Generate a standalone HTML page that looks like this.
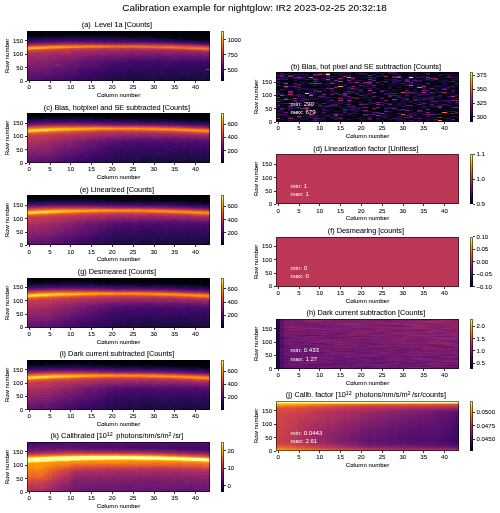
<!DOCTYPE html><html><head><meta charset="utf-8"><style>
html,body{margin:0;padding:0;background:#fff}
body{width:500px;height:513px;position:relative;overflow:hidden;font-family:"Liberation Sans",sans-serif}
.t{position:absolute;white-space:nowrap;line-height:1em;transform-origin:0 0.8465em;filter:grayscale(1);-webkit-text-stroke:0.06px currentColor}
.t sup{font-size:0.72em;vertical-align:0;position:relative;top:-0.4em;line-height:0;margin-right:0.3em}
.hm{position:absolute;overflow:hidden;background:#000}
.hm i{position:absolute;top:0;height:100%;display:block}
.hm b{position:absolute;display:block}
.sp{position:absolute;border:1px solid rgba(0,0,0,0.55);box-sizing:border-box}
.tk{position:absolute;background:#333}
.cb{position:absolute;background:linear-gradient(#fcffa4 0.0%,#f5d949 9.1%,#fcac11 18.2%,#f78212 27.3%,#e65d2f 36.4%,#cb4149 45.5%,#a82e5f 54.5%,#84206b 63.6%,#5f136e 72.7%,#390963 81.8%,#140b34 90.9%,#000004 100.0%)}
.g0{background:linear-gradient(#02020c 0.2px,#03020f 1.8px,#02010a 3.2px,#02020e 4.8px,#10092e 6.8px,#1c0c43 7.8px,#340a5f 9.8px,#460b69 10.2px,#4f0d6c 10.8px,#4d0d6c 11.2px,#58106e 11.8px,#88226a 13.2px,#ac2f5d 14.2px,#c13a51 14.8px,#da4e3d 15.2px,#ed6925 15.8px,#f78311 16.2px,#fca108 16.8px,#fcaf13 17.2px,#fcaf13 17.8px,#fb9706 18.2px,#eb6429 18.8px,#d54941 19.2px,#cb4149 19.8px,#ab2f5d 22.8px,#a12b62 24.8px,#9f2a63 25.8px,#982766 26.8px,#972766 27.8px,#89226a 30.8px,#932667 31.2px,#912568 31.8px,#86216b 32.2px,#7e1e6c 33.8px,#7a1d6d 36.8px,#6a176e 38.8px,#67166e 39.8px,#6a176e 41.8px,#63146e 42.2px,#61146e 42.8px,#66156e 43.2px,#57106d 45.8px,#57106d 46.8px,#5b116e 47.2px,#5a116e 47.8px,#530e6d 48.2px,#510e6d 48.8px,#490b6a 49.2px,#480b6a 49.8px)}.g1{background:linear-gradient(#02020e 0.2px,#03020f 2.8px,#010109 3.2px,#010109 3.8px,#050416 4.8px,#040313 5.2px,#06051a 5.8px,#0f092c 6.2px,#2a0b56 8.8px,#370961 9.8px,#4b0c6b 10.8px,#500d6c 11.2px,#5b116e 11.8px,#922568 13.2px,#a42c61 13.8px,#ad305d 14.2px,#c63d4d 14.8px,#e55b31 15.2px,#f3761a 15.8px,#fa9207 16.2px,#fca80d 16.8px,#fbb81d 17.2px,#fcb015 17.8px,#f47b17 18.2px,#e35933 18.8px,#d34743 19.2px,#cc4249 19.8px,#cc4149 20.2px,#c53d4e 20.8px,#b93656 21.2px,#a92e5f 22.8px,#ae305c 23.2px,#9f2a63 25.2px,#922568 27.8px,#982766 28.2px,#8c2369 30.8px,#84206b 31.8px,#86216b 32.8px,#821f6c 33.8px,#821f6c 34.8px,#70196e 38.8px,#6f196e 39.8px,#63146e 42.8px,#63146e 43.8px,#520e6d 46.2px,#4d0d6c 47.8px,#510e6c 48.2px,#4f0d6c 49.8px)}.g2{background:linear-gradient(#02020d 0.2px,#030210 1.8px,#02020c 2.8px,#03020f 3.8px,#02020c 4.2px,#120a31 6.8px,#1a0c40 7.2px,#200c49 7.8px,#210c4a 8.2px,#280b54 8.8px,#370962 9.2px,#470b6a 10.2px,#520e6d 10.8px,#560f6d 11.2px,#71196e 12.2px,#982766 13.2px,#ba3655 14.2px,#d54941 14.8px,#e9622b 15.2px,#f57d16 15.8px,#fb9a06 16.2px,#fca70c 16.8px,#fbb91e 17.2px,#fcad11 17.8px,#ee6b24 18.2px,#de5238 18.8px,#d14644 19.2px,#b53458 21.2px,#a92e5f 22.8px,#a32c61 24.8px,#8f2468 27.8px,#952667 28.2px,#8b236a 29.8px,#8a226a 30.8px,#811f6c 31.2px,#7a1d6d 32.8px,#7e1e6c 33.2px,#721a6e 36.8px,#791c6d 37.2px,#68166e 40.8px,#61146e 41.8px,#59106e 45.8px,#4e0d6c 47.8px,#57106d 48.2px,#4f0d6c 49.8px)}.g3{background:linear-gradient(#010108 0.2px,#02010b 1.8px,#010107 2.8px,#030210 3.2px,#02020c 4.2px,#090721 5.8px,#110a30 6.2px,#160b3a 6.8px,#170b3a 7.2px,#1c0c43 7.8px,#270b52 8.2px,#390963 9.2px,#540f6d 10.8px,#5a116e 11.2px,#6e196e 12.2px,#801f6c 12.8px,#9b2865 13.2px,#bf3952 14.2px,#d84c3e 14.8px,#ec6727 15.2px,#f78311 15.8px,#fca60b 16.2px,#fcae12 16.8px,#fca90e 17.2px,#fa8f09 17.8px,#e9612b 18.2px,#d74b3f 18.8px,#c63d4d 19.8px,#bd3853 20.8px,#b43359 21.8px,#a92e5f 22.2px,#a52c61 22.8px,#a82d5f 23.2px,#9d2964 24.8px,#942667 27.8px,#8d2369 28.8px,#83206b 29.2px,#811f6c 29.8px,#85216b 30.2px,#84206b 30.8px,#89226a 31.2px,#801f6c 32.8px,#7e1e6c 34.8px,#771c6d 35.2px,#751b6e 35.8px,#7b1d6d 36.2px,#7a1d6d 36.8px,#731a6e 37.2px,#6f196e 39.8px,#66156e 40.2px,#64156e 42.8px,#5a116e 43.2px,#550f6d 44.8px,#57106d 45.8px,#4d0c6b 47.8px,#500e6c 48.2px,#470b6a 49.8px)}.g4{background:linear-gradient(#030210 0.2px,#02020c 2.8px,#03020f 3.8px,#03020f 4.2px,#050416 4.8px,#0b0724 5.2px,#0e092b 5.8px,#0f092c 6.2px,#140b35 6.8px,#1e0c46 7.2px,#240c4e 7.8px,#240c4e 8.2px,#2b0b57 8.8px,#3b0964 9.2px,#490b6b 10.2px,#751b6e 12.2px,#87216b 12.8px,#a42c61 13.2px,#c33c4f 14.2px,#dd513a 14.8px,#ed6925 15.2px,#f8860e 15.8px,#fcaa0f 16.2px,#fcb418 16.8px,#fca309 17.2px,#f47918 17.8px,#e25734 18.2px,#cf4446 18.8px,#ae305c 21.8px,#aa2e5e 22.8px,#a12b62 23.2px,#9e2a64 23.8px,#a52c60 24.2px,#a02a63 25.8px,#972766 26.2px,#932667 28.8px,#8b236a 29.2px,#801f6c 31.8px,#88226a 32.2px,#86216b 32.8px,#7f1e6c 33.2px,#761b6e 34.8px,#7b1d6d 35.2px,#791d6d 35.8px,#731a6e 36.2px,#6e186e 37.8px,#721a6e 38.2px,#60136e 41.8px,#67166e 42.2px,#65156e 42.8px,#5d126e 43.2px,#5a116e 45.8px,#4f0d6c 46.2px,#4a0c6b 48.8px,#440a69 49.2px,#430a68 49.8px)}.g5{background:linear-gradient(#030210 0.2px,#010108 2.8px,#030210 4.2px,#0f092c 6.2px,#1e0c46 7.8px,#3a0963 9.2px,#530f6d 10.8px,#6d186e 11.8px,#791d6d 12.2px,#8b2369 12.8px,#a42c61 13.2px,#b53458 13.8px,#ce4347 14.2px,#e55b30 14.8px,#f57c16 15.2px,#fb9b06 15.8px,#fcae13 16.8px,#fb9906 17.2px,#eb6529 17.8px,#d24644 18.8px,#c63d4d 19.8px,#b93656 20.2px,#a52d60 22.8px,#a32b61 23.8px,#9a2865 24.2px,#942667 25.8px,#942667 26.8px,#8d2369 27.2px,#86216b 28.8px,#87216b 29.8px,#7e1e6c 31.8px,#7c1d6d 33.8px,#6e186e 35.8px,#6f196e 36.8px,#6a176e 37.8px,#6a176e 38.8px,#63146e 39.2px,#61146e 39.8px,#67166e 40.2px,#64156e 41.8px,#59116e 42.2px,#540f6d 45.8px,#490b6a 49.8px)}.g6{background:linear-gradient(#02010b 0.2px,#02020e 1.8px,#010107 3.2px,#02020d 4.2px,#150b36 6.8px,#230c4d 7.8px,#2f0a5a 8.8px,#470b6a 10.2px,#6e186e 11.8px,#a12b62 13.2px,#b63458 13.8px,#d54941 14.2px,#e9622a 14.8px,#f2741d 15.2px,#fa9207 15.8px,#fc9f07 16.2px,#fca209 16.8px,#fb9606 17.2px,#eb6429 17.8px,#d64a40 18.2px,#ca404a 18.8px,#c03a51 19.8px,#b63458 20.2px,#ad305c 21.8px,#a42c61 22.8px,#9a2865 23.2px,#972766 23.8px,#9e2a63 24.2px,#932567 25.8px,#952667 26.2px,#8f2469 27.8px,#83206c 28.2px,#801f6c 28.8px,#84206b 29.2px,#82206c 29.8px,#87216b 30.2px,#85216b 30.8px,#7b1d6d 31.2px,#781c6d 32.8px,#7c1d6d 33.2px,#7a1d6d 33.8px,#70196e 34.2px,#5c126e 39.8px,#5b116e 42.2px,#4b0c6b 45.8px,#480b6a 47.8px,#410a67 48.8px,#420a68 49.8px)}.g7{background:linear-gradient(#010107 0.2px,#000004 1.8px,#010107 2.8px,#050418 3.2px,#07051b 3.8px,#050417 4.2px,#1b0c42 7.2px,#220c4b 7.8px,#320a5e 8.2px,#3a0963 8.8px,#3a0963 9.2px,#59116e 10.8px,#5f136e 11.2px,#6d186e 11.8px,#84206b 12.2px,#a42c61 13.2px,#ba3655 13.8px,#d54941 14.2px,#e9612b 14.8px,#f78211 15.2px,#fb9e07 15.8px,#fca108 16.2px,#fb9e07 16.8px,#f68013 17.2px,#e45a32 17.8px,#d34743 18.2px,#b53458 20.2px,#ac305d 21.8px,#a22b62 22.2px,#9c2964 23.8px,#932667 24.8px,#912568 26.2px,#8f2469 26.8px,#87216b 27.2px,#84206b 27.8px,#85206b 28.8px,#7e1e6c 29.8px,#741b6e 30.2px,#731a6e 30.8px,#7a1d6d 31.2px,#751b6e 32.8px,#7c1d6d 33.2px,#7a1d6d 33.8px,#6f196e 34.2px,#60136e 38.8px,#62146e 39.8px,#5e136e 40.8px,#57106d 41.2px,#57106d 42.8px,#4c0c6b 44.8px,#4e0d6c 45.8px,#470b6a 46.8px,#4e0d6c 47.2px,#4d0c6b 47.8px,#440a69 48.2px,#430a68 49.8px)}.g8{background:linear-gradient(#02020d 0.2px,#010106 2.8px,#040313 3.8px,#030211 4.2px,#050417 4.8px,#050418 5.2px,#08061f 5.8px,#140b35 6.8px,#1f0c48 7.2px,#260c51 7.8px,#260c50 8.2px,#2d0b59 8.8px,#3d0965 9.2px,#5c126e 10.8px,#65156e 11.2px,#982766 12.8px,#a52c61 13.2px,#bd3853 13.8px,#db4f3b 14.2px,#ec6727 14.8px,#f78410 15.2px,#fb9c06 15.8px,#fca209 16.2px,#fb9806 16.8px,#f06f20 17.2px,#dd5139 17.8px,#ce4347 18.2px,#b53458 19.8px,#a92e5f 21.8px,#ab2f5e 22.2px,#89226a 25.8px,#7a1d6d 28.8px,#7f1e6c 29.2px,#731a6e 31.8px,#731a6e 33.2px,#66166e 35.8px,#68166e 36.8px,#62146e 38.8px,#59116e 39.2px,#58106e 39.8px,#60136e 40.2px,#5e136e 40.8px,#57106d 41.2px,#4e0d6c 42.8px,#510e6d 43.2px,#4c0c6b 44.8px,#4c0c6b 45.8px,#450a69 46.8px,#470b6a 47.8px,#410a67 48.8px,#360961 49.2px,#360961 49.8px)}.g9{background:linear-gradient(#010107 0.2px,#010109 1.8px,#030210 2.2px,#030210 2.8px,#010106 3.2px,#060519 4.8px,#120a32 5.2px,#170b3b 5.8px,#130a33 6.2px,#180c3c 6.8px,#280b53 7.8px,#350a60 8.8px,#4c0c6b 9.8px,#500d6c 10.2px,#5a116e 10.8px,#7a1d6d 11.8px,#84206b 12.2px,#aa2f5e 13.2px,#c33c4f 13.8px,#da4e3c 14.2px,#eb6528 14.8px,#f78211 15.2px,#fb9506 15.8px,#fb9b06 16.2px,#f98b0b 16.8px,#ea6429 17.2px,#d94d3d 17.8px,#cd4248 18.2px,#bb3754 19.8px,#ad305c 20.2px,#a52c60 21.8px,#9c2964 22.8px,#9f2a63 23.2px,#922568 24.8px,#89226a 25.2px,#811f6c 26.8px,#85216b 27.2px,#83206b 27.8px,#761b6d 28.2px,#741b6e 28.8px,#7d1e6d 29.2px,#731a6e 30.8px,#711a6e 31.8px,#6a176e 32.8px,#66156e 33.8px,#66166e 34.8px,#5f136e 36.2px,#5f136e 37.8px,#58106e 38.8px,#5a116e 40.2px,#500d6c 42.2px,#480b6a 44.8px,#450a69 47.8px,#3e0966 48.8px,#3f0966 49.8px)}.g10{background:linear-gradient(#02020c 0.2px,#02020c 0.8px,#000004 1.2px,#010109 2.8px,#010107 3.2px,#02020d 3.8px,#08061f 4.8px,#090620 5.2px,#130b34 6.8px,#220c4b 7.8px,#2f0a5b 8.2px,#500d6c 10.2px,#68166e 11.2px,#9b2865 12.8px,#aa2e5e 13.2px,#c33b4f 13.8px,#d64a40 14.2px,#e8602d 14.8px,#f68112 15.2px,#fa9108 15.8px,#fb9b06 16.2px,#f98a0c 16.8px,#e15635 17.2px,#cd4248 17.8px,#c23b50 18.8px,#ab2f5e 20.2px,#a72d60 20.8px,#ad305d 21.2px,#a92e5f 21.8px,#9d2964 22.2px,#952667 23.8px,#952667 24.8px,#8f2468 25.8px,#83206b 26.2px,#7b1d6d 28.8px,#731a6e 29.8px,#731a6e 30.8px,#66166e 32.8px,#57106e 36.8px,#5e126e 37.2px,#530e6d 39.8px,#4b0c6b 40.8px,#530f6d 41.2px,#4f0d6c 42.8px,#480b6a 43.2px,#470b6a 43.8px,#4b0c6b 44.2px,#4a0c6b 44.8px,#420a68 45.2px,#430a68 46.8px,#3c0965 48.8px,#310a5c 49.2px,#300a5c 49.8px)}.g11{background:linear-gradient(#010005 0.2px,#02010a 1.8px,#02020c 3.2px,#090620 4.8px,#0a0722 5.2px,#0d0829 5.8px,#170c3b 6.2px,#1d0c44 6.8px,#1e0c46 7.2px,#350a60 8.8px,#4f0d6c 10.2px,#58106e 10.8px,#87216b 12.2px,#982766 12.8px,#b63458 13.2px,#cd4348 13.8px,#dd5239 14.2px,#ed6925 14.8px,#f7850f 15.2px,#fa9307 15.8px,#fb9506 16.2px,#f67f14 16.8px,#df5337 17.2px,#ca404a 17.8px,#b73557 18.8px,#a02a63 21.2px,#9c2964 21.8px,#9d2964 22.2px,#8f2469 24.8px,#83206b 25.2px,#801f6c 25.8px,#87216b 26.2px,#7a1d6d 27.8px,#761b6d 29.8px,#64156e 33.8px,#63146e 34.8px,#67166e 35.2px,#65156e 35.8px,#5a116e 36.2px,#58106e 39.8px,#4e0d6c 41.2px,#4b0c6b 42.8px,#500e6c 43.2px,#4f0d6c 43.8px,#460b69 44.2px,#420a68 45.8px,#3c0965 46.2px,#3b0964 47.8px,#360960 49.2px,#350960 49.8px)}.g12{background:linear-gradient(#02010a 0.2px,#02010a 0.8px,#010004 1.2px,#02010a 2.8px,#010005 3.2px,#010109 3.8px,#06051a 4.8px,#0c0827 5.2px,#170b3a 6.8px,#240c4e 7.8px,#2f0a5a 8.2px,#3b0964 9.2px,#59116e 10.8px,#64156e 11.2px,#952667 12.8px,#b33359 13.2px,#ca404a 13.8px,#da4e3c 14.2px,#eb6528 14.8px,#f57d15 15.2px,#f98b0b 15.8px,#f98a0b 16.2px,#f1711f 16.8px,#e05437 17.2px,#cb4149 17.8px,#b83557 18.8px,#ab2f5e 19.8px,#8c2369 23.8px,#84206b 25.8px,#761b6e 27.8px,#731a6e 28.8px,#69166e 29.2px,#66166e 29.8px,#6b176e 30.2px,#5f136e 32.8px,#67166e 33.2px,#5e126e 34.8px,#5b116e 35.8px,#530e6d 36.2px,#510e6c 36.8px,#5a116e 37.2px,#59116e 37.8px,#510e6d 38.2px,#480b6a 41.8px,#490b6a 42.8px,#410a67 43.2px,#3a0963 45.8px,#3a0964 46.8px,#2e0a5a 48.8px,#380962 49.2px,#380962 49.8px)}.g13{background:linear-gradient(#010106 0.2px,#02010b 1.8px,#010107 2.8px,#030312 3.8px,#02020e 4.2px,#040314 4.8px,#0b0724 5.2px,#160b39 6.8px,#210c4b 7.2px,#280b54 7.8px,#270b53 8.2px,#430a68 9.8px,#470b6a 10.2px,#510e6c 10.8px,#69166e 11.2px,#9b2865 12.8px,#ae305c 13.2px,#c63d4d 13.8px,#d84c3e 14.2px,#ea632a 14.8px,#f78112 15.2px,#fa8f08 15.8px,#f8860f 16.2px,#ed6a25 16.8px,#db4f3b 17.2px,#c73e4d 17.8px,#b73457 18.2px,#af315c 18.8px,#a42c61 20.8px,#972766 21.8px,#8b236a 23.8px,#8d2469 24.2px,#8a236a 24.8px,#801f6c 25.2px,#6d186e 28.8px,#5f136e 31.8px,#5d126e 34.8px,#550f6d 35.2px,#480b6a 38.8px,#500e6c 39.2px,#490b6a 40.8px,#420a68 41.2px,#3d0965 42.8px,#420a68 43.2px,#400a67 43.8px,#380962 44.2px,#330a5e 45.8px,#3c0964 46.2px,#3b0964 46.8px,#310a5c 47.2px,#320a5d 48.8px,#2c0b58 49.2px,#2c0b58 49.8px)}.g14{background:linear-gradient(#000004 0.2px,#010109 3.2px,#08061f 4.8px,#07051b 5.2px,#150b36 6.8px,#1f0c48 7.2px,#260c51 7.8px,#220c4c 8.2px,#290b54 8.8px,#380962 9.2px,#57106d 10.8px,#62146e 11.2px,#952667 12.8px,#c53d4e 13.8px,#dd5139 14.2px,#ed6925 14.8px,#f67e14 15.2px,#f98d0a 15.8px,#f78211 16.2px,#ea6429 16.8px,#d64a40 17.2px,#c33c4f 17.8px,#b1325a 18.8px,#b33359 19.2px,#a22b62 20.8px,#902568 22.8px,#8e2469 23.8px,#7e1e6c 25.2px,#6c186e 28.8px,#5e126e 30.8px,#550f6d 32.8px,#5d126e 33.2px,#5a116e 34.8px,#520e6d 35.8px,#480b6a 38.8px,#4c0c6b 39.2px,#4b0c6b 39.8px,#3f0a66 40.2px,#3e0966 40.8px,#440a69 41.2px,#430a68 41.8px,#3c0965 42.2px,#370961 44.8px,#3c0964 45.2px,#2f0a5b 47.8px,#290b55 49.8px)}.g15{background:linear-gradient(#010006 0.2px,#02010b 2.8px,#050418 3.8px,#090620 4.8px,#110a2f 5.8px,#120a32 6.2px,#200c49 7.8px,#2e0a5a 8.2px,#440a69 9.8px,#57106d 10.8px,#791c6d 11.8px,#7e1e6c 12.2px,#902468 12.8px,#b43359 13.2px,#cc4149 13.8px,#dc503a 14.2px,#ec6826 14.8px,#f67f13 15.2px,#fa8e09 15.8px,#f47b17 16.2px,#e65d2f 16.8px,#d14644 17.2px,#bf3952 17.8px,#b33359 18.8px,#a82e5f 19.8px,#9e2964 20.2px,#9a2865 20.8px,#9c2964 21.2px,#89226a 23.8px,#751b6e 25.8px,#6e186e 27.8px,#5d126e 29.8px,#5a116e 30.8px,#60136e 31.2px,#560f6d 33.8px,#4f0d6c 34.8px,#540f6d 35.2px,#4d0d6c 36.8px,#490b6b 38.8px,#430a68 39.8px,#460b69 41.8px,#3e0966 42.2px,#390963 43.8px,#310a5c 45.2px,#2d0b59 49.8px)}.g16{background:linear-gradient(#010006 0.2px,#02010b 1.8px,#010109 2.8px,#050415 3.8px,#030311 4.2px,#050417 4.8px,#0d0828 5.2px,#120a31 6.2px,#250c4f 7.8px,#250c50 8.2px,#2c0b58 8.8px,#3b0964 9.2px,#440a68 9.8px,#470b6a 10.2px,#500d6c 10.8px,#751b6e 11.8px,#932667 12.8px,#a82d5f 13.2px,#c03952 13.8px,#d94d3e 14.2px,#ea632a 14.8px,#f57e15 15.2px,#f98d09 15.8px,#f2751c 16.2px,#e25833 16.8px,#d14644 17.2px,#c03a51 17.8px,#a52c60 19.8px,#8f2468 22.8px,#811f6c 24.8px,#751b6e 25.8px,#64156e 27.8px,#6e186e 28.2px,#6b176e 28.8px,#60136e 29.2px,#5e126e 29.8px,#63146e 30.2px,#58106e 31.8px,#540f6d 34.8px,#4d0c6b 35.2px,#4b0c6b 35.8px,#4f0d6c 36.2px,#4b0c6b 37.8px,#430a68 38.8px,#3a0963 40.8px,#3e0966 41.2px,#390962 42.8px,#310a5c 43.8px,#330a5e 44.8px,#2c0b58 46.8px,#310a5d 47.2px,#340a5f 48.8px,#320a5d 49.8px)}.g17{background:linear-gradient(#010006 0.2px,#010107 1.8px,#000004 3.2px,#010006 3.8px,#06051a 4.2px,#090620 4.8px,#090620 5.2px,#130b34 6.8px,#1e0c46 7.2px,#240c4f 7.8px,#2e0a5a 8.8px,#3f0a66 9.2px,#5a116e 10.8px,#84206b 12.2px,#aa2f5e 13.2px,#c23b50 13.8px,#da4e3c 14.2px,#eb6528 14.8px,#f57d15 15.2px,#f98e09 15.8px,#f3751b 16.2px,#e35833 16.8px,#d14644 17.2px,#c23b50 17.8px,#b0315b 18.8px,#a02a63 19.2px,#9c2964 19.8px,#9e2a63 20.2px,#8e2469 22.8px,#82206c 23.2px,#781c6d 25.8px,#70196e 26.8px,#66166e 27.2px,#63146e 27.8px,#67166e 28.2px,#62146e 29.8px,#58106e 30.8px,#510e6c 33.8px,#4b0c6b 35.8px,#440a69 36.2px,#3a0964 37.8px,#450a69 38.2px,#3e0966 40.8px,#370961 41.8px,#2b0b56 46.8px,#250c50 47.2px,#250c4f 47.8px,#2e0a5a 48.2px,#2f0a5a 49.8px)}.g18{background:linear-gradient(#000004 0.2px,#000004 1.8px,#010109 2.8px,#02010a 3.2px,#050418 4.8px,#130a33 6.8px,#210c4b 7.2px,#280b53 7.8px,#230c4c 8.2px,#2a0b55 8.8px,#370961 9.2px,#400a67 9.8px,#4c0c6b 10.8px,#62146e 11.2px,#731a6e 11.8px,#771c6d 12.2px,#89226a 12.8px,#ac2f5d 13.2px,#c33b4f 13.8px,#d34842 14.2px,#e65d2f 14.8px,#f2731d 15.2px,#f78211 15.8px,#f06f20 16.2px,#df5437 16.8px,#c63e4d 17.2px,#b63458 17.8px,#a82e5f 18.8px,#a32b61 19.8px,#982766 20.2px,#8f2468 21.8px,#811f6c 23.8px,#7d1e6d 24.8px,#711a6e 25.2px,#5e126e 29.8px,#560f6d 30.2px,#4e0d6c 32.8px,#430a68 35.8px,#430a68 36.8px,#3d0965 37.8px,#420a68 38.2px,#390963 39.8px,#3a0963 40.8px,#2e0a5a 42.8px,#2e0a59 44.8px,#230c4c 47.8px,#260c51 48.2px,#240c4e 49.8px)}.g19{background:linear-gradient(#000004 0.2px,#010004 3.2px,#050416 4.8px,#0a0723 5.2px,#150b36 6.8px,#150b38 7.2px,#1b0c41 7.8px,#2a0b56 8.2px,#440a68 9.8px,#430a68 10.2px,#4c0c6b 10.8px,#7f1e6c 12.2px,#a42c61 13.2px,#bb3754 13.8px,#d54941 14.2px,#e85f2d 14.8px,#f3751b 15.2px,#f78410 15.8px,#f1701f 16.2px,#e15635 16.8px,#c83f4b 17.2px,#b93656 17.8px,#a02a63 19.2px,#972766 20.8px,#85206b 22.8px,#821f6c 23.8px,#761b6e 24.8px,#721a6e 25.8px,#56106d 28.8px,#5a116e 29.2px,#520e6d 30.8px,#560f6d 31.2px,#490b6a 34.8px,#410a67 35.8px,#330a5f 39.8px,#3e0966 40.2px,#3d0965 40.8px,#2f0a5a 41.2px,#2c0b58 42.8px,#2d0b59 43.8px,#270b52 45.8px,#2f0a5a 46.2px,#2e0a5a 46.8px,#270b52 47.2px,#260c51 47.8px,#200c49 48.2px,#200c48 48.8px,#280b53 49.2px,#280b53 49.8px)}.g20{background:linear-gradient(#010005 0.2px,#010005 0.8px,#02020c 1.8px,#000004 2.2px,#000004 2.8px,#03020f 3.2px,#0a0722 5.8px,#1e0c45 7.8px,#290b54 8.2px,#3b0964 9.2px,#440a68 9.8px,#420a68 10.2px,#4a0c6b 10.8px,#6e196e 11.8px,#8f2469 12.8px,#ba3655 13.8px,#cf4446 14.2px,#e25833 14.8px,#ef6c22 15.2px,#f57b17 15.8px,#eb6529 16.2px,#da4e3c 16.8px,#c63d4d 17.2px,#b63458 17.8px,#9e2a63 19.2px,#9a2865 19.8px,#9c2964 20.2px,#982865 20.8px,#8e2469 21.2px,#8a236a 21.8px,#902568 22.2px,#8c2369 22.8px,#7f1f6c 23.2px,#6f196e 25.8px,#5d126e 28.8px,#5b116e 29.8px,#4e0d6c 30.2px,#4c0c6b 30.8px,#4e0d6c 31.2px,#440a69 32.8px,#4a0c6b 33.2px,#470b6a 34.8px,#410a67 35.2px,#410a67 36.8px,#370962 37.2px,#350a60 38.8px,#390963 39.2px,#380962 39.8px,#310a5c 40.2px,#2e0a5a 41.8px,#280b54 42.8px,#300a5c 43.2px,#2f0a5b 43.8px,#260c51 44.2px,#260c51 44.8px,#210c4a 45.2px,#230c4c 46.8px,#1e0c46 48.8px,#240c4f 49.2px,#240c4e 49.8px)}.g21{background:linear-gradient(#000004 0.2px,#000004 2.8px,#060419 4.8px,#160b39 6.8px,#220c4c 7.8px,#210c4b 8.2px,#330a5f 9.2px,#4f0d6c 10.8px,#6f196e 11.8px,#761b6d 12.2px,#88226a 12.8px,#b63457 13.8px,#cf4446 14.2px,#e35833 14.8px,#f47819 15.8px,#d74b3f 16.8px,#b73457 17.8px,#9e2a63 19.8px,#962666 20.8px,#972766 21.2px,#932667 21.8px,#87216b 22.2px,#7a1d6d 23.8px,#721a6e 25.8px,#66156e 26.2px,#62146e 26.8px,#64156e 27.2px,#5c126e 28.8px,#520e6d 29.8px,#4a0c6b 31.8px,#430a68 32.2px,#3a0964 35.8px,#430a68 36.2px,#420a68 36.8px,#3a0964 37.2px,#330a5e 38.8px,#3b0964 39.2px,#390963 39.8px,#290b55 40.2px,#260c51 41.8px,#2a0b56 42.2px,#250c4f 43.8px,#200c49 49.8px)}.g22{background:linear-gradient(#010006 0.2px,#010106 2.2px,#010107 2.8px,#0c0827 5.8px,#170c3b 6.8px,#150b38 7.2px,#1b0c40 7.8px,#280b53 8.2px,#3a0963 9.2px,#420a68 9.8px,#410a67 10.2px,#490b6a 10.8px,#771c6d 12.2px,#89226a 12.8px,#a42c61 13.2px,#cb414a 14.2px,#df5337 14.8px,#ed6925 15.2px,#f47a17 15.8px,#ed6825 16.2px,#df5338 16.8px,#c73e4c 17.2px,#b73457 17.8px,#aa2f5e 18.8px,#9e2a63 19.2px,#9a2865 19.8px,#9b2964 20.2px,#86216b 22.8px,#811f6c 23.8px,#6f196e 25.2px,#5b116e 27.8px,#5d126e 28.2px,#5b116e 28.8px,#530e6d 29.2px,#500d6c 29.8px,#540f6d 30.2px,#510e6c 30.8px,#460b69 31.2px,#410a67 32.8px,#470b6a 33.2px,#450a69 33.8px,#3c0964 34.2px,#330a5f 35.8px,#3c0964 36.2px,#370961 37.8px,#300a5c 38.2px,#310a5d 40.8px,#2b0b56 41.8px,#1f0c48 42.2px,#1e0c46 42.8px,#290b54 43.2px,#270b52 43.8px,#210c4a 44.2px,#230c4d 46.8px,#200c49 47.8px,#250c4f 48.2px,#210c4b 49.8px)}.g23{background:linear-gradient(#010107 0.2px,#010107 1.8px,#02020e 2.2px,#03020f 2.8px,#010107 3.2px,#040313 4.8px,#130b33 6.8px,#150b36 7.2px,#1a0c3f 7.8px,#240c4e 8.2px,#360960 9.2px,#4e0d6c 10.8px,#6b176e 11.8px,#8d2369 12.8px,#b83556 13.8px,#d24644 14.2px,#e45a31 14.8px,#f47819 15.8px,#ed6925 16.2px,#df5437 16.8px,#c73e4d 17.2px,#b63458 17.8px,#a32c61 18.8px,#9b2865 20.2px,#731a6e 24.8px,#6f196e 25.8px,#65156e 26.2px,#510e6d 29.8px,#4f0d6c 30.8px,#450a69 31.2px,#420a68 32.8px,#480b6a 33.2px,#460b69 33.8px,#3e0966 34.2px,#3b0964 35.8px,#3f0a66 36.2px,#3e0966 36.8px,#350960 37.2px,#340a5f 39.8px,#300a5b 40.8px,#280b54 41.8px,#2e0a5a 42.2px,#2d0b58 42.8px,#220c4b 43.2px,#200c49 43.8px,#230c4d 44.8px,#240c4e 46.8px,#1f0c47 47.2px,#1d0c44 49.8px)}.g24{background:linear-gradient(#000004 0.2px,#000004 2.8px,#030311 3.8px,#07051b 4.8px,#030312 5.2px,#050417 5.8px,#0b0725 6.2px,#240c4e 8.8px,#400a67 10.2px,#540f6d 11.2px,#89226a 12.8px,#b53458 13.8px,#de5238 14.8px,#ed6925 15.2px,#f47919 15.8px,#d94d3d 16.8px,#c23b50 17.2px,#b0315b 17.8px,#b43359 18.2px,#ac2f5d 18.8px,#9f2a63 19.2px,#922568 20.8px,#85216b 21.8px,#87216b 22.2px,#82206c 22.8px,#791c6d 23.2px,#6b176e 24.8px,#6c186e 25.2px,#5f136e 26.8px,#5d126e 27.8px,#530e6d 28.2px,#4b0c6b 29.8px,#410a67 30.8px,#400a67 31.8px,#3b0964 32.8px,#3c0964 33.8px,#440a68 34.2px,#420a68 34.8px,#380962 35.2px,#310a5c 36.8px,#2a0b55 37.8px,#2e0a59 38.2px,#200c49 42.8px,#210c4a 45.8px,#1c0c42 46.2px,#180c3c 47.8px,#1c0c42 48.2px,#1d0c44 49.8px)}.g25{background:linear-gradient(#000004 0.2px,#010006 2.8px,#040313 3.8px,#02020c 4.2px,#07051c 5.8px,#07051c 6.2px,#0b0724 6.8px,#150b38 7.2px,#250c4f 8.8px,#370961 9.8px,#520e6d 11.2px,#64156e 11.8px,#7f1e6c 12.2px,#a22b62 13.2px,#b73457 13.8px,#cf4446 14.2px,#e15635 14.8px,#ed6925 15.2px,#f47819 15.8px,#e9622b 16.2px,#c73e4d 17.2px,#b43359 17.8px,#962766 19.2px,#922568 19.8px,#932667 20.2px,#86216b 21.8px,#7a1d6d 22.8px,#721a6e 23.8px,#751b6e 24.2px,#65156e 25.8px,#59106e 27.8px,#500d6c 28.8px,#4b0c6b 30.8px,#400a67 31.2px,#3e0966 31.8px,#3f0966 32.8px,#380962 35.8px,#2f0a5a 36.2px,#2b0b57 37.8px,#320a5d 38.2px,#2d0b59 40.8px,#270b53 41.8px,#1f0c47 42.2px,#1e0c46 42.8px,#270c51 43.2px,#200c48 44.8px,#220c4b 45.8px,#190c3f 46.2px,#190c3e 46.8px,#1c0c43 47.2px,#1c0c43 48.8px,#1e0c46 49.8px)}.g26{background:linear-gradient(#010109 0.2px,#000004 2.8px,#03020f 4.8px,#06051a 5.8px,#10092e 6.8px,#110a31 7.2px,#250c4f 8.8px,#370962 9.8px,#3b0964 10.2px,#450a69 10.8px,#6d186e 11.8px,#a22b62 13.2px,#ca404a 14.2px,#dc503a 14.8px,#ee6b23 15.2px,#f47a18 15.8px,#ee6b23 16.2px,#e05536 16.8px,#c93f4b 17.2px,#b53358 17.8px,#a32b61 18.8px,#992865 19.8px,#8e2469 20.2px,#8a226a 20.8px,#8c2369 21.2px,#6f196e 24.8px,#66156e 25.2px,#5b116e 26.8px,#62146e 27.2px,#540f6d 28.8px,#4b0c6b 29.2px,#460b69 30.8px,#460b69 31.8px,#3e0966 32.8px,#3c0965 33.8px,#360960 35.2px,#2c0b57 39.8px,#2c0b58 40.8px,#230c4e 41.2px,#220c4c 41.8px,#280b53 42.2px,#220c4b 43.8px,#1d0c44 44.2px,#1d0c44 44.8px,#250c4f 45.2px,#240c4f 46.8px,#1c0c43 47.2px,#1c0c42 47.8px,#210c4a 48.2px,#210c4a 48.8px,#260c51 49.2px,#260c51 49.8px)}.g27{background:linear-gradient(#000004 0.2px,#02010a 3.2px,#090621 5.8px,#090620 6.2px,#260c50 8.8px,#3c0965 10.2px,#460b69 10.8px,#6d186e 11.8px,#771c6d 12.2px,#89226a 12.8px,#a52c60 13.2px,#ca404a 14.2px,#dc503b 14.8px,#eb6528 15.2px,#f2731d 15.8px,#ed6925 16.2px,#de5238 16.8px,#b73557 17.8px,#a62d60 18.8px,#992865 19.2px,#70196e 24.8px,#6b176e 25.8px,#61146e 26.2px,#5d126e 26.8px,#60136e 27.2px,#530e6d 28.8px,#500d6c 29.8px,#430a68 30.2px,#3a0964 32.8px,#380962 35.8px,#300a5b 36.2px,#2e0a5a 36.8px,#340a5f 37.2px,#2b0b57 38.8px,#320a5e 39.2px,#310a5c 39.8px,#260c51 40.2px,#250c4f 40.8px,#280b53 41.2px,#270c52 41.8px,#210c4a 42.2px,#1f0c48 43.8px,#1c0c43 44.8px,#260c51 45.2px,#250c50 45.8px,#1e0c46 46.2px,#1b0c42 47.8px,#170c3b 48.2px,#170b3a 48.8px,#1f0c48 49.2px,#1f0c47 49.8px)}.g28{background:linear-gradient(#000004 0.2px,#010005 1.8px,#02010b 2.2px,#02020d 2.8px,#010107 3.2px,#0a0722 6.2px,#160b39 7.8px,#350a60 9.8px,#430a68 10.2px,#58106e 11.2px,#8c2369 12.8px,#b2325a 13.8px,#cd4248 14.2px,#eb6429 15.2px,#f2741d 15.8px,#f1721e 16.2px,#e45a32 16.8px,#d04545 17.2px,#ba3655 17.8px,#9f2a63 19.2px,#922568 20.8px,#85216b 21.2px,#801f6c 21.8px,#83206b 22.2px,#7e1e6c 22.8px,#7b1d6d 23.8px,#711a6e 24.2px,#62146e 25.8px,#64156e 26.2px,#440a68 30.8px,#430a68 31.8px,#3c0965 32.2px,#3a0964 32.8px,#3f0966 33.2px,#370961 34.8px,#380962 35.8px,#310a5c 36.8px,#2d0b59 37.8px,#370961 38.2px,#290b54 40.8px,#230c4d 41.8px,#270b52 42.2px,#230c4d 43.8px,#1c0c43 44.2px,#1b0c42 44.8px,#220c4b 45.2px,#1c0c42 47.8px,#1d0c45 48.8px,#150b38 49.2px,#150b37 49.8px)}.g29{background:linear-gradient(#010109 0.2px,#02010a 3.2px,#08061e 5.8px,#130b34 7.2px,#190c3e 7.8px,#190c3e 8.2px,#2a0b56 9.2px,#340a5f 9.8px,#380962 10.2px,#410a67 10.8px,#66166e 11.8px,#902568 12.8px,#9c2964 13.2px,#c13a51 14.2px,#d44842 14.8px,#e85f2d 15.2px,#f06f20 15.8px,#f06f21 16.2px,#e25833 16.8px,#d54941 17.2px,#bf3952 17.8px,#b1325b 18.2px,#8f2468 20.8px,#88226a 21.8px,#7c1d6d 22.2px,#771c6d 22.8px,#781c6d 23.2px,#64156e 25.8px,#68166e 26.2px,#64156e 26.8px,#5a116e 27.2px,#500d6c 28.8px,#4f0d6c 29.8px,#460b69 30.2px,#440a69 30.8px,#3d0965 31.2px,#3a0964 31.8px,#450a69 32.2px,#440a68 32.8px,#3d0965 33.2px,#380962 34.8px,#300a5c 35.8px,#340a5f 36.2px,#330a5e 36.8px,#2b0b57 37.2px,#2b0b57 39.8px,#280b53 40.8px,#2f0a5b 41.2px,#2e0a59 41.8px,#240c4f 42.2px,#210c4b 43.8px,#270b52 44.2px,#270c52 44.8px,#1b0c41 45.2px,#1a0c40 45.8px,#1f0c48 46.2px,#1e0c45 48.8px,#190c3d 49.2px,#180c3d 49.8px)}.g30{background:linear-gradient(#02010b 0.2px,#010107 1.8px,#02010a 3.8px,#07051d 5.8px,#050415 6.2px,#060519 6.8px,#10092d 7.2px,#150b37 7.8px,#1e0c45 8.2px,#360961 9.8px,#430a68 10.8px,#65156e 11.8px,#801f6c 12.2px,#952667 12.8px,#9b2964 13.2px,#ae305c 13.8px,#d94d3e 14.8px,#f06e21 15.8px,#f47a17 16.2px,#ea6429 16.8px,#d84c3e 17.2px,#c13a51 17.8px,#b1325a 18.2px,#9d2964 19.2px,#982865 19.8px,#9a2865 20.2px,#811f6c 22.8px,#82206c 23.2px,#7e1e6c 23.8px,#70196e 24.2px,#6c186e 24.8px,#6e196e 25.2px,#6a176e 25.8px,#60136e 26.2px,#56106d 27.8px,#5b116e 28.2px,#59106e 28.8px,#4b0c6b 29.2px,#490b6a 29.8px,#490b6a 30.8px,#410a67 31.8px,#3c0965 34.8px,#320a5e 35.2px,#310a5c 35.8px,#3b0964 36.2px,#3a0963 36.8px,#2f0a5b 37.2px,#2f0a5b 39.8px,#2c0b57 40.8px,#320a5d 41.2px,#310a5c 41.8px,#2a0b56 42.2px,#240c4e 43.8px,#1e0c46 44.2px,#1e0c45 44.8px,#230c4d 45.2px,#250c4f 46.8px,#200c49 47.2px,#210c4b 48.8px,#1f0c47 49.8px)}.g31{background:linear-gradient(#010109 0.2px,#010109 2.8px,#030210 3.2px,#030312 3.8px,#02020c 4.2px,#07051d 6.8px,#120a32 7.8px,#130b34 8.2px,#200c49 9.2px,#360961 10.2px,#3f0966 10.8px,#5f136e 11.8px,#8a226a 12.8px,#962766 13.2px,#a92e5e 13.8px,#c63d4d 14.2px,#d94d3d 14.8px,#ef6d21 15.8px,#f06f20 16.2px,#e8602c 16.8px,#d94d3d 17.2px,#c23b50 17.8px,#ab2f5e 18.8px,#87216a 21.8px,#791c6d 22.2px,#741b6e 22.8px,#751b6e 23.2px,#67166e 25.8px,#510e6d 27.8px,#410a67 30.8px,#370961 33.8px,#2f0a5b 34.2px,#2e0a59 34.8px,#370961 35.2px,#340a5f 36.8px,#2c0b58 37.8px,#280b53 40.8px,#250c50 42.8px,#200c49 43.2px,#1d0c45 45.8px,#1f0c47 46.8px,#160b3a 47.2px,#160b39 47.8px,#1c0c42 48.2px,#1a0c3f 49.8px)}.g32{background:linear-gradient(#010106 0.2px,#010106 0.8px,#02020e 1.2px,#02020c 2.8px,#010106 3.2px,#010107 3.8px,#030311 4.8px,#030312 5.8px,#050416 6.8px,#0c0827 7.8px,#150b37 8.2px,#220c4b 9.2px,#390963 10.2px,#480b6a 11.2px,#59116e 11.8px,#88226a 12.8px,#ab2f5d 13.8px,#d64a40 14.8px,#ee6b23 15.8px,#f2741c 16.2px,#ef6d22 16.8px,#e25734 17.2px,#cb4149 17.8px,#b53358 18.2px,#a02a63 19.2px,#731a6e 23.8px,#6f196e 24.8px,#65156e 25.2px,#4a0c6b 29.8px,#420a68 30.2px,#3d0965 32.8px,#360961 33.2px,#350a60 33.8px,#3a0964 34.2px,#310a5d 35.8px,#350a60 36.2px,#350960 37.8px,#2d0b59 38.2px,#260c50 40.8px,#2e0a5a 41.2px,#280b53 42.8px,#250c50 44.8px,#1f0c47 45.2px,#1e0c46 45.8px,#210c4a 46.2px,#210c4a 46.8px,#1c0c42 47.2px,#150b37 49.8px)}.g33{background:linear-gradient(#010006 0.2px,#010106 1.8px,#03020f 2.2px,#02020e 4.2px,#030210 4.8px,#060419 5.2px,#0a0722 7.2px,#1c0c42 8.8px,#1d0c44 9.2px,#270b52 9.8px,#380962 10.2px,#4d0d6c 11.2px,#5e126e 11.8px,#8c2369 12.8px,#b1325b 13.8px,#c33b4f 14.2px,#d74b3f 14.8px,#e05535 15.2px,#f57c16 16.2px,#f57c16 16.8px,#e55b30 17.2px,#d04446 17.8px,#b2325a 18.8px,#a12b62 19.2px,#9b2865 19.8px,#9f2a63 20.2px,#731a6e 24.2px,#5a116e 27.8px,#500d6c 28.8px,#500d6c 29.8px,#400a67 31.2px,#3e0966 31.8px,#420a68 32.2px,#3a0963 33.8px,#410a67 34.2px,#3b0964 35.8px,#340a5f 36.2px,#330a5e 36.8px,#3c0965 37.2px,#3b0964 37.8px,#2e0a59 38.2px,#2a0b55 39.8px,#2b0b57 41.8px,#220c4c 43.2px,#210c4a 43.8px,#270c52 44.2px,#260c51 44.8px,#1f0c48 45.2px,#1f0c47 45.8px,#230c4d 46.2px,#1f0c48 47.8px,#1b0c41 48.8px,#1c0c43 49.8px)}.g34{background:linear-gradient(#010109 0.2px,#010109 0.8px,#000004 1.2px,#000004 1.8px,#040313 2.2px,#040314 2.8px,#02020e 3.2px,#040313 4.8px,#07051d 5.8px,#030311 6.2px,#040314 6.8px,#0c0826 7.8px,#150b37 8.2px,#1b0c41 8.8px,#1e0c45 9.2px,#350960 10.2px,#480b6a 11.2px,#68166e 12.2px,#982766 13.2px,#ba3655 14.2px,#cf4446 14.8px,#e15635 15.2px,#f1721e 16.2px,#f3771a 16.8px,#e8602c 17.2px,#d44842 17.8px,#c23b50 18.2px,#a42c61 19.2px,#902468 20.8px,#82206c 22.8px,#751b6e 23.8px,#70196e 24.8px,#64156e 25.8px,#560f6d 27.8px,#540f6d 28.8px,#4a0b6b 29.2px,#470b6a 29.8px,#4f0d6c 30.2px,#4c0c6b 30.8px,#440a69 31.2px,#370962 34.8px,#3e0966 35.2px,#3d0965 35.8px,#310a5d 36.2px,#290b54 41.8px,#220c4b 43.2px,#210c4a 43.8px,#260c50 44.2px,#250c4f 44.8px,#1d0c44 45.2px,#200c48 47.8px,#170b3b 48.2px,#160b3a 48.8px,#1a0c3f 49.2px,#1a0c3f 49.8px)}.g35{background:linear-gradient(#010108 0.2px,#02020d 1.8px,#02010a 3.8px,#050416 6.8px,#0d0827 7.8px,#0e0829 8.2px,#130a33 8.8px,#260c51 9.8px,#350a60 10.8px,#540f6d 11.8px,#62146e 12.2px,#912568 13.2px,#ba3655 14.2px,#cd4248 14.8px,#e55c30 15.8px,#f2731d 16.2px,#f47b17 16.8px,#ee6c23 17.2px,#dd513a 17.8px,#bf3952 18.2px,#ae305c 18.8px,#8c2369 21.8px,#811f6c 22.2px,#731a6e 23.8px,#62146e 26.8px,#550f6d 28.8px,#500e6c 29.8px,#460b69 30.2px,#430a68 30.8px,#470b6a 31.2px,#400a67 32.8px,#380962 33.2px,#320a5d 36.8px,#330a5e 37.8px,#2c0b57 38.2px,#270b52 39.8px,#290b54 40.8px,#1f0c47 44.8px,#220c4c 45.2px,#1e0c46 46.8px,#1f0c47 47.8px,#1a0c40 49.8px)}.g36{background:linear-gradient(#02020c 0.2px,#02020c 0.8px,#040314 1.2px,#040314 1.8px,#010107 2.2px,#02010a 4.8px,#08061f 7.8px,#10092e 8.2px,#160b38 8.8px,#170b3a 9.2px,#1f0c48 9.8px,#2e0a59 10.2px,#380962 10.8px,#3b0964 11.2px,#58106e 12.2px,#89226a 13.2px,#c43c4f 14.8px,#d94d3d 15.2px,#ed6a24 16.2px,#f2731d 16.8px,#f1721e 17.2px,#e05536 17.8px,#c53d4e 18.2px,#b1325a 18.8px,#a12b62 19.2px,#922568 20.8px,#86216b 21.2px,#811f6c 21.8px,#87216a 22.2px,#751b6e 23.8px,#6c186e 25.8px,#61146e 26.2px,#530e6d 27.8px,#560f6d 28.2px,#440a68 31.2px,#380962 33.2px,#370961 33.8px,#3b0964 34.2px,#3a0963 34.8px,#320a5d 35.2px,#310a5c 36.8px,#330a5e 37.8px,#2b0b56 38.2px,#2b0b56 39.8px,#1e0c46 42.8px,#260c51 43.2px,#200c49 45.8px,#1a0c40 46.2px,#1a0c40 48.2px,#180c3c 49.8px)}.g37{background:linear-gradient(#010108 0.2px,#010005 1.8px,#02020e 5.8px,#040314 6.8px,#03020f 7.2px,#040313 7.8px,#1a0c40 9.8px,#270c52 10.2px,#320a5e 10.8px,#440a69 11.8px,#69176e 12.8px,#9b2865 13.8px,#bc3854 14.8px,#d34743 15.2px,#e15635 15.8px,#f07020 16.8px,#f2741c 17.2px,#e55b30 17.8px,#cc4149 18.2px,#b53358 18.8px,#962766 20.2px,#7c1d6d 22.8px,#761b6e 23.8px,#5c126e 25.8px,#57106d 27.8px,#460b69 29.8px,#370962 32.8px,#3e0966 33.2px,#3d0965 33.8px,#310a5d 34.2px,#300a5c 37.8px,#2a0b56 39.2px,#240c4f 40.8px,#230c4d 42.8px,#1e0c46 43.8px,#290b54 44.2px,#280b53 44.8px,#190c3e 45.2px,#150b36 46.8px,#160b38 47.8px,#1a0c3f 48.2px,#1a0c3f 49.8px)}.g38{background:linear-gradient(#010005 0.2px,#010106 1.8px,#02020c 2.8px,#030210 4.8px,#03020f 5.8px,#07051d 8.2px,#1a0c3f 9.8px,#1d0c45 10.2px,#380962 11.2px,#400a67 11.8px,#5a116e 12.2px,#7e1e6c 13.2px,#992865 13.8px,#b93656 14.8px,#d04546 15.2px,#e15635 15.8px,#f47819 17.2px,#ec6826 17.8px,#d94d3e 18.2px,#c03951 18.8px,#ab2f5e 19.2px,#9e2a63 19.8px,#9e2a63 20.2px,#912568 21.8px,#83206c 22.2px,#67166e 24.8px,#6c186e 25.2px,#5b116e 26.8px,#550f6d 27.8px,#4b0c6b 28.8px,#510e6c 29.2px,#4e0d6c 30.8px,#400a67 31.2px,#390963 32.8px,#3f0966 33.2px,#3d0965 33.8px,#330a5f 34.2px,#320a5d 34.8px,#370962 35.2px,#2d0b59 37.8px,#2b0b57 39.8px,#240c4e 41.8px,#260c51 43.8px,#200c49 44.2px,#200c48 45.8px,#170c3b 48.2px,#170b3a 48.8px,#1d0c45 49.2px,#1d0c44 49.8px)}.g39{background:linear-gradient(#010107 0.2px,#010107 0.8px,#02020e 1.2px,#02020d 2.8px,#010108 3.2px,#02020d 4.8px,#03020f 6.8px,#050416 7.2px,#050416 8.2px,#130b34 9.8px,#230c4d 10.2px,#300a5b 10.8px,#440a69 11.8px,#470b6a 12.2px,#5b116e 12.8px,#751b6e 13.2px,#a72d60 14.2px,#c93f4b 15.2px,#dc503a 15.8px,#ea6429 16.2px,#f1721e 16.8px,#f06e21 17.8px,#e05436 18.2px,#c73e4c 18.8px,#a82e5f 19.8px,#9c2964 20.2px,#7f1f6c 22.8px,#6e196e 24.8px,#60136e 25.2px,#5c126e 25.8px,#62146e 26.2px,#550f6d 27.8px,#59116e 28.2px,#56106d 28.8px,#4d0c6c 29.2px,#4a0c6b 29.8px,#410a67 30.2px,#2f0a5b 35.8px,#300a5b 36.8px,#290b54 37.8px,#2e0a5a 38.2px,#280b53 39.8px,#220c4b 40.2px,#210c4a 40.8px,#250c4f 41.2px,#1f0c47 42.8px,#230c4d 43.2px,#1d0c45 45.8px,#190c3e 46.8px,#1e0c46 47.2px,#1e0c45 47.8px,#170b3a 48.2px,#160b39 48.8px,#1b0c41 49.2px,#1a0c40 49.8px)}.g40{background:linear-gradient(#02020d 0.2px,#02020d 0.8px,#010107 1.2px,#02010a 3.8px,#010109 4.8px,#02020e 5.8px,#02020d 6.8px,#040315 8.2px,#100a2f 9.8px,#1f0c47 10.2px,#2b0b57 10.8px,#390963 11.8px,#430a68 12.2px,#68166e 13.2px,#83206b 13.8px,#a12b62 14.2px,#b2325a 14.8px,#db4f3c 15.8px,#ed6925 16.8px,#f3761b 17.2px,#f3771a 17.8px,#e75e2e 18.2px,#d04545 18.8px,#b83556 19.2px,#a82e5f 19.8px,#84206b 22.2px,#61146e 26.2px,#520e6d 28.2px,#400a67 31.8px,#3f0a66 32.8px,#340a5f 34.8px,#370961 35.2px,#360960 35.8px,#290b54 36.2px,#270b52 36.8px,#2b0b57 37.2px,#260c51 38.8px,#270b52 40.2px,#260c50 42.8px,#200c49 43.2px,#1b0c41 45.8px,#240c4e 46.2px,#230c4d 46.8px,#180c3c 47.2px,#170c3b 47.8px,#1d0c44 48.2px,#1c0c43 48.8px,#140b35 49.2px,#130b34 49.8px)}.g41{background:linear-gradient(#02020e 0.2px,#02020e 0.8px,#010109 1.2px,#02020c 3.8px,#030210 4.8px,#02020d 5.8px,#040313 6.2px,#03020f 7.8px,#030211 8.2px,#0b0724 9.2px,#100a2e 9.8px,#130a33 10.2px,#250c50 11.2px,#3a0963 12.2px,#4c0c6b 12.8px,#63146e 13.2px,#7e1e6c 13.8px,#992865 14.2px,#c33b50 15.2px,#d44942 15.8px,#e75f2d 16.2px,#f3771a 17.2px,#f47a17 17.8px,#ec6726 18.2px,#d74b3f 18.8px,#be3853 19.2px,#9d2964 20.2px,#972766 20.8px,#972766 21.2px,#65156e 25.2px,#61146e 25.8px,#68166e 26.2px,#64156e 26.8px,#58106e 27.2px,#4e0d6c 28.8px,#530f6d 29.2px,#510e6c 29.8px,#420a68 30.2px,#3f0a66 30.8px,#460b69 31.2px,#430a68 31.8px,#390963 32.2px,#350960 33.8px,#350960 35.8px,#2c0b58 36.2px,#250c50 37.8px,#2c0b58 38.2px,#280b53 39.8px,#220c4c 40.8px,#240c4e 41.8px,#280b53 42.2px,#270b52 42.8px,#1c0c43 43.2px,#1c0c42 43.8px,#1f0c48 44.2px,#200c49 46.8px,#190c3d 48.8px,#150b37 49.2px,#140b36 49.8px)}.g42{background:linear-gradient(#010109 0.2px,#02010b 1.8px,#010106 2.8px,#02020c 3.2px,#02020c 3.8px,#010107 4.2px,#010107 4.8px,#040415 5.2px,#050416 5.8px,#030210 6.2px,#030210 7.8px,#02020c 8.2px,#030210 8.8px,#0a0723 9.2px,#130b33 10.2px,#1b0c41 10.8px,#280b54 11.2px,#340a5f 11.8px,#490b6a 12.8px,#771c6d 13.8px,#85216b 14.2px,#9e2a63 14.8px,#be3952 15.2px,#db503b 16.2px,#f07020 17.2px,#f47819 17.8px,#f47819 18.2px,#e45a32 18.8px,#ce4347 19.2px,#a62d60 20.2px,#8f2469 21.8px,#89226a 22.8px,#731a6e 24.8px,#5f136e 27.8px,#530e6d 28.2px,#4d0d6c 29.8px,#440a68 30.8px,#3f0966 31.8px,#370961 32.2px,#350a60 32.8px,#400a67 33.2px,#3f0966 33.8px,#370962 34.2px,#360960 35.8px,#2f0a5a 36.2px,#2e0a5a 37.8px,#2a0b56 38.8px,#2f0a5a 39.2px,#270b53 40.8px,#210c4a 41.2px,#1f0c47 42.8px,#270c51 43.2px,#1e0c45 45.8px,#210c4a 46.2px,#1f0c47 48.8px,#160b3a 49.2px,#160b38 49.8px)}.g43{background:linear-gradient(#02010b 0.2px,#03020f 2.8px,#010109 4.8px,#02020e 5.8px,#010107 6.2px,#02010b 8.8px,#06051a 9.2px,#0b0724 9.8px,#190c3f 10.8px,#270b52 11.2px,#340a5f 11.8px,#4c0c6b 13.2px,#61136e 13.8px,#7d1e6d 14.2px,#b33359 15.2px,#d54941 16.2px,#e55b30 16.8px,#e9622a 17.2px,#f47a17 18.2px,#ed6925 18.8px,#d24644 19.2px,#b83557 19.8px,#9d2964 20.8px,#9c2964 21.2px,#962766 21.8px,#86216b 22.2px,#811f6c 22.8px,#791d6d 24.2px,#56106d 27.2px,#450a69 30.8px,#3d0965 31.2px,#370961 33.8px,#380962 34.8px,#310a5c 35.8px,#370962 36.2px,#220c4c 40.2px,#210c4b 40.8px,#250c4f 41.2px,#230c4c 43.8px,#240c4e 44.8px,#1c0c43 45.2px,#170b3a 47.8px,#1b0c41 48.2px,#170b3a 49.8px)}.g44{background:linear-gradient(#010006 0.2px,#010006 0.8px,#02020c 1.2px,#02020d 2.8px,#000004 3.2px,#010107 3.8px,#08061e 4.2px,#0b0724 4.8px,#08061e 5.2px,#120a31 6.8px,#1d0c45 7.2px,#260c51 7.8px,#270b52 8.2px,#460b69 9.8px,#550f6d 10.2px,#67166e 11.2px,#87216b 12.2px,#ab2f5e 13.2px,#d24644 14.2px,#ed6925 15.2px,#f57d15 15.8px,#fb9d07 16.2px,#fac62d 16.8px,#f6d948 17.8px,#f4de52 18.2px,#fbbd22 18.8px,#fca108 19.2px,#f78211 19.8px,#e9612c 20.2px,#d74b3f 21.2px,#cf4447 21.8px,#c73e4c 22.8px,#c03952 23.8px,#bf3952 25.8px,#b83556 26.2px,#b63458 27.8px,#9e2a63 30.8px,#992865 31.8px,#9e2a63 32.2px,#9c2964 32.8px,#952667 33.2px,#932667 33.8px,#9b2965 34.2px,#902568 36.8px,#85216b 38.8px,#7b1d6d 41.8px,#7e1e6c 42.2px,#7c1d6d 42.8px,#711a6e 43.2px,#6e186e 44.8px,#66156e 45.8px,#60136e 49.8px)}.g45{background:linear-gradient(#02010a 0.2px,#02010a 0.8px,#000004 1.2px,#000004 2.8px,#08061e 4.8px,#07051d 5.2px,#0b0724 5.8px,#150b38 6.2px,#1a0c3f 6.8px,#190c3d 7.2px,#320a5e 8.8px,#4a0c6b 9.2px,#550f6d 9.8px,#57106d 10.2px,#7a1d6d 11.8px,#a72d5f 12.8px,#c93f4b 13.8px,#e55c30 14.8px,#f78410 15.8px,#fca90e 16.2px,#f9cb34 16.8px,#f5dc4e 17.8px,#f7d23f 18.2px,#fcb115 18.8px,#f98d0a 19.2px,#f1711f 19.8px,#e75e2e 20.2px,#d64a40 21.2px,#bd3853 23.2px,#bb3754 23.8px,#c13a51 24.2px,#b83557 25.8px,#b43359 28.2px,#b0315b 28.8px,#a52d60 29.2px,#992865 30.8px,#a52c60 31.2px,#a32c61 31.8px,#992865 32.2px,#972766 33.8px,#912568 34.8px,#8f2468 36.8px,#85216b 37.2px,#84206b 37.8px,#87216b 38.2px,#7f1f6c 39.8px,#84206b 40.2px,#6f196e 43.8px,#6e196e 44.8px,#65156e 47.8px,#5d126e 48.2px,#5a116e 49.8px)}.g46{background:linear-gradient(#010106 0.2px,#010106 0.8px,#02020c 1.2px,#010107 3.2px,#0e092a 5.8px,#190c3e 6.8px,#250c4f 7.2px,#3f0a66 8.8px,#440a69 9.2px,#64156e 10.8px,#83206b 11.8px,#b0315b 12.8px,#d14545 13.8px,#e35933 14.2px,#ee6b23 14.8px,#f07020 15.2px,#f98b0b 15.8px,#fbbc21 16.2px,#f8d03b 16.8px,#f4de51 17.2px,#f3e35a 17.8px,#fac127 18.2px,#fca008 18.8px,#f8860e 19.2px,#ee6a24 19.8px,#e25734 20.2px,#ce4347 21.8px,#bc3754 23.2px,#b93656 24.8px,#bf3952 25.2px,#be3853 25.8px,#b0315b 26.2px,#ae305c 26.8px,#b33359 27.2px,#aa2f5e 29.8px,#a42c61 30.8px,#942667 31.2px,#932567 31.8px,#9f2a63 32.2px,#9d2964 32.8px,#962766 33.2px,#942667 33.8px,#9c2964 34.2px,#9b2865 34.8px,#932667 35.2px,#8a226a 36.8px,#8b236a 37.8px,#7f1f6c 39.8px,#761b6e 42.8px,#6f196e 43.8px,#67166e 44.2px,#65156e 44.8px,#6c186e 45.2px,#6a176e 45.8px,#62146e 46.2px,#62146e 48.8px,#5b116e 49.2px,#59116e 49.8px)}.g47{background:linear-gradient(#010109 0.2px,#010109 0.8px,#000004 1.2px,#010005 2.8px,#030210 3.2px,#050416 3.8px,#02020e 4.2px,#0b0725 5.8px,#180c3d 6.8px,#250c4f 7.2px,#3f0a66 8.8px,#440a69 9.2px,#65156e 10.8px,#88226a 11.8px,#af315c 12.8px,#d54941 13.8px,#ef6d22 14.8px,#f68013 15.2px,#fca309 15.8px,#f8cd37 16.2px,#f6d746 16.8px,#f7d441 17.2px,#f9c831 17.8px,#fcaa0e 18.2px,#f98a0c 18.8px,#e65d2f 19.8px,#d44842 20.8px,#cd4347 21.8px,#c13a51 22.2px,#b53458 23.8px,#bb3755 24.2px,#b83556 25.8px,#a82e5f 28.2px,#a42c61 28.8px,#a22b62 29.8px,#962766 31.8px,#942667 33.8px,#8c2369 34.8px,#88226a 35.8px,#912568 36.2px,#8f2468 36.8px,#85216b 37.2px,#821f6c 39.2px,#741b6e 41.8px,#721a6e 42.8px,#69176e 43.2px,#67166e 43.8px,#6a176e 44.2px,#65156e 45.8px,#5c126e 46.2px,#5a116e 46.8px,#5e126e 47.2px,#550f6d 48.8px,#5a116e 49.2px,#59116e 49.8px)}.g48{background:linear-gradient(#000004 0.2px,#000004 0.8px,#02010a 1.2px,#02010a 1.8px,#050418 2.8px,#050417 3.2px,#0d0828 4.8px,#0b0725 5.2px,#0f092c 5.8px,#190c3d 6.2px,#2b0b56 7.2px,#340a5f 7.8px,#340a5f 8.2px,#520e6d 9.8px,#781c6d 11.2px,#8c2369 11.8px,#a52c60 12.2px,#cb4149 13.2px,#db4f3c 13.8px,#e55c30 14.2px,#ef6e21 14.8px,#f8870d 15.2px,#fcae13 15.8px,#f7d441 16.2px,#f4df53 16.8px,#f3e45b 17.2px,#f9c931 17.8px,#fca309 18.2px,#f78410 18.8px,#e75e2e 19.8px,#dc503a 20.2px,#d14545 21.2px,#cb4149 21.8px,#bf3952 22.2px,#bc3754 22.8px,#c03951 23.2px,#b33359 26.8px,#a92e5f 27.8px,#ae305c 28.2px,#aa2f5e 28.8px,#9d2964 29.2px,#9a2865 29.8px,#a12b62 30.2px,#a02a63 30.8px,#982766 31.2px,#8f2468 32.8px,#982766 33.2px,#89226a 35.8px,#922568 36.2px,#902568 36.8px,#87216b 37.2px,#83206b 39.8px,#731a6e 41.8px,#731a6e 42.8px,#63146e 46.8px,#5f136e 49.8px)}.g49{background:linear-gradient(#02020d 0.2px,#02020d 0.8px,#010106 1.2px,#02010a 2.2px,#040314 3.8px,#090621 4.2px,#0c0827 4.8px,#0c0827 5.2px,#100a2e 5.8px,#210c4a 6.8px,#2f0a5b 7.8px,#3f0a66 8.2px,#490b6b 8.8px,#490b6b 9.2px,#6f196e 10.8px,#982766 11.8px,#a12b62 12.2px,#c53d4e 13.2px,#d64a40 13.8px,#e65d2f 14.2px,#f1711f 14.8px,#fa8f08 15.2px,#fbb61b 15.8px,#f8cd36 16.2px,#f6d847 16.8px,#f6d745 17.2px,#fbb61b 17.8px,#fb9706 18.2px,#f47a18 18.8px,#e75e2e 19.2px,#d04545 20.8px,#c73e4c 21.8px,#be3952 22.2px,#ba3655 23.8px,#b1325a 24.8px,#b63458 25.2px,#b1315b 26.8px,#9b2865 28.8px,#962766 31.8px,#8d2369 34.8px,#8d2469 35.8px,#85216b 36.2px,#82206c 37.8px,#83206b 38.8px,#7d1e6d 39.8px,#7c1e6d 40.8px,#761b6e 41.8px,#6e196e 42.2px,#68166e 43.8px,#60136e 44.2px,#5e126e 44.8px,#65156e 45.2px,#5e126e 47.8px,#56106d 48.2px,#560f6d 49.8px)}.g50{background:linear-gradient(#02010b 0.2px,#010106 1.8px,#030210 2.8px,#03020e 3.2px,#10092d 5.8px,#1d0c44 6.8px,#270b52 7.2px,#430a68 8.8px,#550f6d 9.8px,#82206c 11.2px,#a52c61 12.2px,#b73557 12.8px,#cf4446 13.2px,#eb6528 14.2px,#fa9307 15.2px,#fbb81c 15.8px,#f7d13c 16.8px,#fac228 17.2px,#fca209 17.8px,#fa8e09 18.2px,#f1721e 18.8px,#e45a32 19.2px,#cd4248 20.8px,#c23b50 21.8px,#b83557 22.2px,#ad305c 25.8px,#a52c61 26.2px,#a22b61 26.8px,#a62d60 27.2px,#972766 28.8px,#8e2469 29.2px,#8c2369 29.8px,#982766 30.2px,#962766 30.8px,#8a226a 31.2px,#88226a 31.8px,#8f2468 32.2px,#8e2469 32.8px,#85206b 33.2px,#7c1e6d 34.8px,#811f6c 35.2px,#70196e 40.8px,#61146e 43.8px,#5a116e 46.8px,#4f0d6c 48.8px,#520e6d 49.8px)}.g51{background:linear-gradient(#000004 0.2px,#02020c 2.8px,#060519 3.8px,#050416 4.2px,#07051c 4.8px,#0e092a 5.2px,#150b37 6.2px,#370961 8.2px,#560f6d 9.8px,#721a6e 10.8px,#9a2865 11.8px,#a52d60 12.2px,#cd4248 13.2px,#dd513a 13.8px,#ec6727 14.2px,#f67f14 14.8px,#fca208 15.2px,#fbbe24 15.8px,#f5d949 16.8px,#fbbb20 17.2px,#fb9c06 17.8px,#f68013 18.2px,#eb6528 18.8px,#de5338 19.2px,#c83e4c 20.8px,#cd4248 21.2px,#c73e4d 21.8px,#b73557 22.2px,#aa2e5e 24.8px,#ae305c 25.2px,#a82e5f 26.8px,#952667 28.8px,#982766 29.2px,#932667 30.8px,#8c2369 31.2px,#84206b 33.8px,#84206b 34.8px,#7d1e6d 35.2px,#771c6d 37.8px,#70196e 38.2px,#6e186e 40.8px,#67166e 41.8px,#66166e 42.8px,#5f136e 43.2px,#57106d 44.8px,#5c126e 45.2px,#5c126e 46.8px,#550f6d 47.2px,#4f0d6c 49.8px)}.g52{background:linear-gradient(#010108 0.2px,#010109 2.2px,#050417 3.8px,#0d0829 4.8px,#0e092b 5.2px,#150b37 6.2px,#1b0c42 6.8px,#280b53 7.2px,#450a69 8.8px,#4a0c6b 9.2px,#70196e 10.8px,#89226a 11.2px,#a82e5f 12.2px,#ba3655 12.8px,#d04545 13.2px,#e05536 13.8px,#ea632a 14.2px,#f67e14 14.8px,#fca70c 15.2px,#fbbc22 15.8px,#f8cd37 16.8px,#fcac10 17.2px,#f98e09 17.8px,#f3751b 18.2px,#e65d2f 18.8px,#d94d3d 19.2px,#be3853 21.2px,#b63458 22.2px,#a92e5f 24.8px,#a82e5f 25.8px,#932567 27.8px,#982766 28.2px,#922568 29.8px,#86216b 30.2px,#82206c 32.8px,#7a1d6d 33.2px,#791c6d 33.8px,#801f6c 34.2px,#771c6d 36.8px,#6d186e 37.2px,#6b176e 37.8px,#71196e 38.2px,#6c186e 39.8px,#64156e 40.2px,#62146e 40.8px,#67166e 41.2px,#5b116e 43.2px,#4f0d6c 48.8px,#490b6b 49.2px,#490b6a 49.8px)}.g53{background:linear-gradient(#02010b 0.2px,#02010b 0.8px,#010004 1.2px,#010006 1.8px,#030210 2.8px,#060519 3.2px,#08061e 3.8px,#060419 4.2px,#09061f 4.8px,#110a30 5.2px,#160b39 5.8px,#130a33 6.2px,#190c3e 6.8px,#240c4e 7.2px,#380962 8.2px,#57106d 9.8px,#84206b 11.2px,#a62d60 12.2px,#b83556 12.8px,#d24743 13.2px,#e25833 13.8px,#ec6826 14.2px,#f8850f 14.8px,#fca50b 15.2px,#fac329 16.2px,#fac026 16.8px,#fca40a 17.2px,#f8860e 17.8px,#e35932 18.8px,#d84c3e 19.2px,#c33c4f 20.8px,#aa2f5e 23.8px,#a72d5f 24.8px,#9f2a63 25.8px,#952667 27.8px,#8d2369 28.8px,#84206b 30.8px,#7e1e6c 31.8px,#751b6e 34.8px,#6f196e 37.2px,#5c126e 41.8px,#59116e 42.8px,#510e6c 43.2px,#480b6a 48.8px,#420a68 49.2px,#420a68 49.8px)}.g54{background:linear-gradient(#010109 0.2px,#010108 1.8px,#030210 2.8px,#07051c 3.8px,#07051c 4.2px,#0a0722 4.8px,#160b38 5.8px,#310a5c 7.8px,#420a68 8.8px,#65156e 10.2px,#982766 11.8px,#ba3655 12.8px,#dd5239 13.8px,#ea632a 14.2px,#f68112 14.8px,#fca90d 15.2px,#fac52c 16.2px,#fbb81d 16.8px,#fb9c06 17.2px,#f67f14 17.8px,#e9622a 18.2px,#de5238 18.8px,#cc4248 19.8px,#cd4347 20.2px,#c73e4c 20.8px,#b93656 21.2px,#b33359 22.8px,#aa2e5e 23.2px,#a62d60 23.8px,#aa2e5e 24.2px,#9c2964 25.8px,#9f2a63 26.2px,#85216b 29.2px,#7d1e6c 30.8px,#801f6c 32.2px,#7b1d6d 33.8px,#731a6e 34.8px,#6a176e 35.2px,#65156e 39.2px,#59116e 41.8px,#59116e 42.8px,#520e6d 44.8px,#4b0c6b 45.2px,#4a0c6b 46.8px,#450a69 48.8px,#460b69 49.8px)}.g55{background:linear-gradient(#02010b 0.2px,#02010b 0.8px,#010004 1.2px,#010106 1.8px,#030311 2.8px,#040315 3.8px,#0d0828 4.2px,#110a2f 4.8px,#0d0827 5.2px,#110a31 5.8px,#1f0c47 6.2px,#260c51 6.8px,#240c4e 7.2px,#2c0b58 7.8px,#310a5c 8.2px,#3c0965 8.8px,#520e6d 9.2px,#5e136e 9.8px,#63146e 10.2px,#721a6e 10.8px,#972766 11.8px,#c83e4c 13.2px,#da4e3c 13.8px,#ec6726 14.2px,#f8870d 14.8px,#fca208 15.2px,#fcb217 15.8px,#f9c62e 16.2px,#fcaf13 16.8px,#fb9506 17.2px,#f47819 17.8px,#e45a31 18.2px,#da4e3d 18.8px,#be3952 20.8px,#ac2f5d 22.2px,#a32c61 24.8px,#9a2865 25.2px,#84206b 27.8px,#89226a 28.2px,#86216b 28.8px,#7d1e6c 29.2px,#741b6e 30.8px,#7c1d6d 31.2px,#6f196e 34.2px,#60136e 36.8px,#5f136e 37.8px,#66156e 38.2px,#5f136e 39.8px,#540f6d 40.2px,#530e6d 40.8px,#59116e 41.2px,#500d6c 42.8px,#4e0d6c 43.8px,#500d6c 44.8px,#480b6a 45.2px,#470b6a 47.2px,#480b6a 48.8px,#410a67 49.2px,#400a67 49.8px)}.g56{background:linear-gradient(#030210 0.2px,#030210 0.8px,#000004 1.2px,#010108 2.8px,#040314 3.2px,#050418 3.8px,#0b0725 4.2px,#0f092b 4.8px,#0f092c 5.2px,#140b35 5.8px,#130a33 6.2px,#180c3d 6.8px,#260c50 7.2px,#420a68 8.8px,#470b6a 9.2px,#731a6e 10.8px,#a72d60 12.2px,#b83556 12.8px,#df5437 13.8px,#ee6c23 14.2px,#f98c0b 14.8px,#fca008 15.2px,#fac228 16.2px,#fca50a 16.8px,#f8870d 17.2px,#ee6b23 17.8px,#e05436 18.2px,#d64a40 18.8px,#ca404a 19.8px,#b73457 20.2px,#b0315b 20.8px,#ae305c 22.2px,#9a2865 24.8px,#87216b 26.8px,#801f6c 27.8px,#7f1f6c 28.8px,#761b6e 29.2px,#6f196e 32.2px,#6e186e 32.8px,#711a6e 33.2px,#70196e 33.8px,#69166e 34.2px,#63146e 36.8px,#59116e 37.2px,#58106e 37.8px,#5b116e 38.2px,#57106e 39.8px,#59106e 40.8px,#540f6d 41.8px,#4a0c6b 42.2px,#450a69 45.8px,#3c0964 47.8px,#400a67 48.2px,#3d0965 49.8px)}.g57{background:linear-gradient(#010107 0.2px,#010108 1.8px,#030211 2.8px,#010108 3.2px,#02010b 3.8px,#08061e 4.2px,#0b0724 4.8px,#0b0724 5.2px,#0f092c 5.8px,#1d0c44 6.8px,#270b52 7.2px,#420a68 8.8px,#56106d 9.8px,#7f1f6c 11.2px,#a42c61 12.2px,#c9404b 13.2px,#dd513a 13.8px,#ea6429 14.2px,#f78211 14.8px,#fb9a06 15.2px,#fbbb20 16.2px,#fc9e07 16.8px,#f67f13 17.2px,#eb6429 17.8px,#d84c3e 18.2px,#c23b50 19.8px,#b43359 20.8px,#a92e5f 22.8px,#8e2469 25.8px,#8e2469 26.2px,#7f1f6c 27.8px,#67166e 32.8px,#66156e 34.8px,#5e126e 36.2px,#5e136e 37.8px,#530f6d 39.2px,#4a0c6b 42.8px,#430a68 43.2px,#400a67 45.8px,#3e0965 47.8px,#370961 48.2px,#360961 48.8px,#410a67 49.2px,#410a67 49.8px)}.g58{background:linear-gradient(#010107 0.2px,#02020d 1.8px,#010109 2.2px,#02010b 2.8px,#050416 3.8px,#08061f 4.8px,#110a2f 5.2px,#1e0c46 6.8px,#1f0c48 7.2px,#2d0b59 8.2px,#390962 8.8px,#4a0c6b 9.2px,#6a176e 10.8px,#a12b62 12.2px,#b2325a 12.8px,#dd5139 13.8px,#ed6925 14.2px,#f8870e 14.8px,#fb9d07 15.2px,#fcb115 15.8px,#fbb61a 16.2px,#fb9906 16.8px,#f3771a 17.2px,#e65d2f 17.8px,#db4f3b 18.2px,#c23b50 19.8px,#ab2f5e 21.2px,#a02a63 23.8px,#8d2369 25.8px,#791c6d 27.2px,#61146e 31.8px,#60136e 32.8px,#64156e 33.2px,#550f6d 38.8px,#4f0d6c 40.2px,#440a69 41.8px,#4b0c6b 42.2px,#410a67 45.8px,#370961 46.2px,#370961 49.8px)}.g59{background:linear-gradient(#010005 0.2px,#010005 0.8px,#02020c 1.2px,#040315 2.8px,#050416 3.8px,#120a31 5.8px,#130a33 6.2px,#180c3c 6.8px,#250c4f 7.2px,#420a68 8.8px,#460b69 9.2px,#6b176e 10.8px,#8e2469 11.8px,#9b2965 12.2px,#ad305c 12.8px,#db4f3b 13.8px,#ef6d22 14.2px,#f98a0c 14.8px,#fb9706 15.2px,#fcac10 15.8px,#fcaa0f 16.2px,#fa8f09 16.8px,#f1721e 17.2px,#e35932 17.8px,#d84c3e 18.2px,#bf3952 19.8px,#a82e5f 21.2px,#922568 24.8px,#88226a 25.8px,#7a1d6d 26.8px,#6a176e 28.8px,#69176e 29.8px,#63146e 30.8px,#6a176e 31.2px,#65156e 32.8px,#5b116e 33.2px,#57106e 35.2px,#520e6d 37.8px,#4c0c6b 38.8px,#4f0d6c 39.2px,#420a68 42.8px,#420a68 43.8px,#3b0964 44.2px,#370961 46.8px,#3b0964 48.8px,#350960 49.8px)}.g60{background:linear-gradient(#02010a 0.2px,#02020d 1.8px,#02020c 2.8px,#030312 3.8px,#03020f 4.2px,#040314 4.8px,#0d0827 5.8px,#160b38 6.2px,#1b0c41 6.8px,#1a0c40 7.2px,#220c4b 7.8px,#360961 8.2px,#410a67 8.8px,#460b6a 9.2px,#6d186e 10.8px,#781c6d 11.2px,#89226a 11.8px,#b43359 12.8px,#cc4248 13.2px,#e15635 13.8px,#f06e21 14.2px,#f8890c 14.8px,#fb9a06 15.2px,#fcaf14 15.8px,#fb9906 16.2px,#f67f13 16.8px,#f1711f 17.2px,#e25833 17.8px,#d74b3f 18.2px,#cf4446 18.8px,#bf3952 19.2px,#b73557 19.8px,#ba3655 20.2px,#aa2e5e 21.2px,#a62d60 21.8px,#9d2964 22.2px,#992865 22.8px,#a02a63 23.2px,#9b2965 23.8px,#89226a 24.2px,#84206b 24.8px,#89226a 25.2px,#6b176e 28.8px,#64156e 29.8px,#69176e 30.2px,#67166e 30.8px,#61136e 31.2px,#60136e 32.8px,#4d0d6c 36.8px,#520e6d 37.2px,#410a67 41.8px,#3a0963 42.2px,#350a60 43.8px,#3a0963 44.2px,#3a0964 45.8px,#310a5d 46.2px,#2f0a5b 47.8px,#340a5f 48.2px,#300a5c 49.8px)}.g61{background:linear-gradient(#010006 0.2px,#010006 0.8px,#030312 1.2px,#040313 1.8px,#02020e 2.2px,#030210 2.8px,#010109 3.2px,#02020d 3.8px,#10092e 5.8px,#10092d 6.2px,#170b3a 7.2px,#1e0c46 7.8px,#2f0a5b 8.2px,#440a69 9.2px,#67166e 10.8px,#85216b 11.8px,#b1325a 12.8px,#c33c4f 13.2px,#da4e3d 13.8px,#eb6628 14.2px,#fb9806 15.2px,#fcae12 15.8px,#fa9407 16.2px,#f57b17 16.8px,#e9612c 17.2px,#d74b3f 17.8px,#c53d4e 18.8px,#ad305d 20.8px,#a32c61 21.2px,#9f2a63 21.8px,#a22b62 22.2px,#9e2a63 22.8px,#942667 23.2px,#6c186e 27.8px,#69176e 28.8px,#60136e 29.8px,#5e126e 30.8px,#560f6d 31.2px,#540f6d 34.8px,#470b6a 38.8px,#3f0a66 39.2px,#3b0964 42.8px,#310a5c 46.8px,#310a5c 48.2px,#310a5c 49.8px)}.g62{background:linear-gradient(#010107 0.2px,#02010a 1.8px,#010005 2.2px,#010106 2.8px,#03020f 3.2px,#030312 4.2px,#050418 4.8px,#0c0826 5.2px,#1b0c40 6.8px,#1c0c43 7.2px,#300a5c 8.2px,#490b6a 9.2px,#530f6d 9.8px,#59106e 10.2px,#6d186e 11.2px,#7e1e6c 11.8px,#a92e5f 12.8px,#bf3952 13.2px,#d74b3f 13.8px,#ec6727 14.2px,#f67e14 14.8px,#fa9407 15.2px,#fcab0f 15.8px,#fb9706 16.2px,#eb6528 17.2px,#db4f3b 17.8px,#cd4347 18.2px,#b73557 19.8px,#a92e5f 20.2px,#a22b62 20.8px,#a82d5f 21.2px,#962766 23.2px,#69166e 27.8px,#550f6d 32.8px,#510e6c 34.8px,#490b6b 35.2px,#470b6a 36.8px,#400a67 37.8px,#460b69 38.2px,#3e0965 39.8px,#420a68 40.2px,#410a67 40.8px,#370961 41.2px,#360960 41.8px,#3e0966 42.2px,#3c0965 42.8px,#350a60 43.2px,#320a5d 44.8px,#2c0b58 45.8px,#2d0b59 47.8px,#330a5e 48.2px,#320a5e 48.8px,#290b55 49.2px,#290b55 49.8px)}.g63{background:linear-gradient(#010006 0.2px,#010006 1.8px,#02010a 2.8px,#040315 3.8px,#02020d 4.2px,#040312 4.8px,#040312 5.2px,#060419 5.8px,#0e092b 6.2px,#210c4b 7.8px,#370961 8.8px,#4d0c6b 9.8px,#5f136e 10.8px,#922568 12.2px,#be3953 13.2px,#d64a40 13.8px,#ec6727 14.2px,#fa9307 15.2px,#fcaa0f 15.8px,#fa9008 16.2px,#f3771a 16.8px,#e65d2f 17.2px,#d54941 17.8px,#c73e4d 18.8px,#b43359 19.8px,#a72d60 20.8px,#932567 23.2px,#8d2469 23.8px,#82206c 24.2px,#6e196e 25.8px,#70196e 26.2px,#60136e 28.8px,#5d126e 29.8px,#520e6d 30.2px,#500e6c 30.8px,#57106e 31.2px,#4c0c6b 33.8px,#440a68 34.2px,#420a68 35.8px,#430a68 37.2px,#400a67 38.8px,#370961 39.2px,#360960 39.8px,#3a0964 40.2px,#390963 40.8px,#310a5d 41.2px,#2b0b56 42.8px,#240c4f 43.8px,#320a5d 44.2px,#2b0b56 46.8px,#240c4f 48.2px,#240c4e 48.8px,#2c0b58 49.2px,#2c0b58 49.8px)}.g64{background:linear-gradient(#02010b 0.2px,#02010b 0.8px,#030311 1.2px,#030311 1.8px,#010106 2.2px,#03020f 3.8px,#02020d 4.2px,#0a0723 5.8px,#230c4d 7.8px,#350a60 8.8px,#4b0c6b 9.8px,#5a116e 10.2px,#69176e 11.2px,#88226a 12.2px,#9f2a63 12.8px,#d44842 13.8px,#e8602d 14.2px,#f3751b 14.8px,#fb9806 15.2px,#fcb015 15.8px,#fb9606 16.2px,#f57e15 16.8px,#e65d2f 17.2px,#d64a40 17.8px,#c53c4e 18.8px,#b1315b 19.8px,#922568 22.8px,#801f6c 24.8px,#62146e 27.2px,#5f136e 27.8px,#61136e 28.2px,#500d6c 30.8px,#4a0c6b 33.8px,#3f0a67 34.2px,#3e0966 34.8px,#420a68 35.2px,#400a67 35.8px,#450a69 36.2px,#3c0965 38.8px,#3d0965 39.8px,#390963 40.8px,#310a5d 41.8px,#260c51 42.2px,#250c50 42.8px,#2f0a5b 43.2px,#2a0b56 45.8px,#2e0a59 46.8px,#240c4e 47.2px,#230c4d 47.8px,#270b52 48.2px,#240c4e 49.8px)}.g65{background:linear-gradient(#000004 0.2px,#010107 3.8px,#040313 4.2px,#090620 5.8px,#10092d 6.2px,#140b35 6.8px,#120a32 7.2px,#190c3e 7.8px,#280b53 8.2px,#410a67 9.2px,#58106e 10.8px,#83206c 12.2px,#9a2865 12.8px,#bb3655 13.2px,#d34842 13.8px,#ef6d22 14.8px,#fb9a06 15.8px,#f8890c 16.2px,#f1721e 16.8px,#d44842 17.8px,#c53d4e 18.8px,#b33359 19.2px,#ab2f5e 19.8px,#ab2f5e 20.2px,#9e2a63 21.8px,#972766 22.8px,#88226a 23.8px,#7d1e6d 24.8px,#6d186e 25.8px,#67166e 26.8px,#5b116e 27.8px,#58106e 28.8px,#4d0d6c 30.8px,#450a69 31.8px,#440a68 33.8px,#320a5e 39.8px,#290b55 41.8px,#290b55 43.8px,#2c0b57 44.8px,#220c4b 45.2px,#210c4b 47.8px,#1f0c47 48.8px,#230c4d 49.2px,#230c4d 49.8px)}.g66{background:linear-gradient(#000004 0.2px,#000004 0.8px,#02010c 1.2px,#010108 2.8px,#030311 3.8px,#030210 4.2px,#050416 4.8px,#040312 5.2px,#060419 5.8px,#0c0827 6.2px,#150b38 7.2px,#1d0c44 7.8px,#2c0b58 8.2px,#380962 8.8px,#5a116e 10.8px,#65156e 11.2px,#85216b 12.2px,#9c2964 12.8px,#d04545 13.8px,#e45b31 14.2px,#f8870e 15.2px,#fca008 15.8px,#f8870d 16.2px,#e55b30 17.2px,#d44942 17.8px,#c63e4d 18.2px,#b0315b 19.8px,#a62d60 20.8px,#9c2964 21.2px,#982766 21.8px,#9a2865 22.2px,#952667 22.8px,#87216b 23.2px,#721a6e 24.8px,#751b6e 25.2px,#61146e 27.8px,#57106d 28.8px,#4d0c6b 29.2px,#4a0c6b 29.8px,#4b0c6b 30.8px,#500d6c 31.2px,#4e0d6c 31.8px,#420a68 33.2px,#350a60 36.8px,#3c0965 37.2px,#3b0964 37.8px,#2f0a5b 38.2px,#270c52 41.8px,#290b54 43.2px,#210c4a 45.8px,#270b52 46.2px,#260c51 46.8px,#1e0c46 47.2px,#200c48 48.8px,#220c4c 49.8px)}.g67{background:linear-gradient(#000004 0.2px,#010107 2.8px,#000004 3.8px,#030210 4.2px,#050416 5.2px,#0d0828 6.8px,#160b39 7.2px,#1d0c45 7.8px,#220c4c 8.2px,#3d0965 9.2px,#5b116e 10.8px,#66166e 11.2px,#8b236a 12.2px,#b53458 13.2px,#cf4446 13.8px,#e45a32 14.2px,#f8850f 15.2px,#fb9e07 15.8px,#f98c0a 16.2px,#f3751b 16.8px,#e45b31 17.2px,#d34843 17.8px,#b1325a 19.8px,#a52c60 20.2px,#9e2a63 20.8px,#952667 22.2px,#902568 22.8px,#7f1f6c 23.8px,#6e186e 25.8px,#59106e 27.2px,#490b6a 29.8px,#4a0c6b 30.8px,#490b6a 31.8px,#410a67 32.2px,#400a67 33.8px,#390963 34.8px,#390962 35.8px,#3d0965 36.2px,#3c0964 37.8px,#2a0b55 38.2px,#290b54 38.8px,#320a5d 39.2px,#320a5d 40.8px,#2b0b57 41.2px,#2a0b56 42.8px,#250c50 43.8px,#270b52 44.8px,#2c0b58 45.2px,#2c0b58 45.8px,#1e0c46 46.2px,#1c0c43 47.8px,#220c4b 48.2px,#1e0c46 49.8px)}.g68{background:linear-gradient(#02010a 0.2px,#010108 3.2px,#050416 4.8px,#040314 5.2px,#0e092b 6.8px,#180c3c 7.2px,#310a5c 8.8px,#460b69 9.8px,#550f6d 10.8px,#7a1d6d 11.8px,#811f6c 12.2px,#972766 12.8px,#b83557 13.2px,#d14644 13.8px,#e65d2f 14.2px,#f1721e 14.8px,#f78311 15.2px,#fb9b06 15.8px,#f98c0a 16.2px,#f3751b 16.8px,#e35933 17.2px,#d14545 17.8px,#bd3853 18.8px,#bb3755 19.2px,#9b2964 21.2px,#68166e 26.2px,#59116e 27.2px,#560f6d 27.8px,#58106e 28.2px,#550f6d 28.8px,#4a0c6b 29.2px,#480b6a 29.8px,#4f0d6c 30.2px,#3d0965 33.2px,#3c0964 34.8px,#370961 35.8px,#380962 36.8px,#310a5c 37.2px,#2c0b58 38.8px,#310a5d 39.2px,#300a5b 39.8px,#270b53 40.2px,#260c51 40.8px,#2c0b58 41.2px,#280b53 42.8px,#220c4b 43.2px,#1e0c46 44.8px,#160b39 45.2px,#160b39 45.8px,#200c49 46.2px,#220c4b 47.8px,#1a0c3f 48.2px,#190c3f 48.8px,#200c49 49.2px,#200c48 49.8px)}.g69{background:linear-gradient(#010109 0.2px,#010109 0.8px,#000004 1.2px,#000004 1.8px,#02020c 2.2px,#02020c 2.8px,#010107 3.2px,#030210 4.8px,#07051c 5.2px,#130b34 6.8px,#150b38 7.2px,#270b52 8.2px,#320a5d 8.8px,#430a68 9.8px,#66156e 11.2px,#84206b 12.2px,#992865 12.8px,#cf4446 13.8px,#e45a31 14.2px,#f07020 14.8px,#f68112 15.2px,#fb9906 15.8px,#f98b0b 16.2px,#e75e2e 17.2px,#d54941 17.8px,#bc3754 19.2px,#b43359 19.8px,#a32c61 20.2px,#9c2964 20.8px,#a32c61 21.2px,#9f2a63 21.8px,#8e2469 22.2px,#7d1e6d 24.2px,#6b176e 25.8px,#63156e 26.8px,#4f0d6c 28.8px,#530e6d 29.2px,#4a0c6b 30.8px,#4a0b6b 31.8px,#420a68 32.8px,#3a0963 33.2px,#380962 33.8px,#400a67 34.2px,#330a5e 37.8px,#380962 38.2px,#2a0b56 40.8px,#270b53 42.8px,#230c4d 43.8px,#270b52 44.2px,#1f0c47 49.8px)}.g70{background:linear-gradient(#030311 0.2px,#03020f 3.2px,#030311 3.8px,#02020c 4.2px,#030210 4.8px,#07051d 5.2px,#120a31 6.8px,#250c4f 8.2px,#2f0a5b 8.8px,#3f0a66 9.2px,#61146e 11.2px,#721a6e 11.8px,#8d2369 12.2px,#b93656 13.2px,#d24644 13.8px,#ef6d22 14.8px,#f8860e 15.2px,#fc9e07 15.8px,#fa9108 16.2px,#f57b17 16.8px,#e9612b 17.2px,#d74b3f 17.8px,#c23b50 18.8px,#bf3952 19.2px,#a32b61 20.8px,#942667 22.8px,#87216b 23.8px,#791c6d 24.2px,#721a6e 24.8px,#741b6e 25.2px,#5b116e 27.2px,#4f0d6c 29.8px,#470b6a 30.2px,#400a67 31.8px,#460b69 32.2px,#3c0965 35.8px,#330a5f 36.2px,#320a5d 36.8px,#3a0964 37.2px,#2f0a5b 39.8px,#300a5c 41.2px,#280b53 43.8px,#2a0b56 44.8px,#240c4e 45.2px,#240c4e 45.8px,#2a0b55 46.2px,#260c51 47.8px,#220c4b 48.2px,#1e0c45 49.8px)}.g71{background:linear-gradient(#010005 0.2px,#010004 4.2px,#010107 4.8px,#090620 5.2px,#0c0827 5.8px,#0b0724 6.2px,#0f092b 6.8px,#10092e 7.2px,#160b38 7.8px,#2a0b56 8.8px,#380962 9.2px,#530e6d 10.8px,#711a6e 11.8px,#7c1d6d 12.2px,#902468 12.8px,#b43359 13.2px,#ce4347 13.8px,#e45b31 14.2px,#f1721e 14.8px,#f67e14 15.2px,#fb9606 15.8px,#f8890d 16.2px,#e8602d 17.2px,#d54941 17.8px,#b83556 19.2px,#962766 21.2px,#88226a 22.8px,#87216b 23.2px,#741a6e 24.8px,#69176e 25.2px,#59116e 27.8px,#4d0d6c 28.2px,#4a0c6b 28.8px,#4f0d6c 29.2px,#4c0c6b 29.8px,#440a69 30.2px,#3e0966 32.8px,#450a69 33.2px,#3f0966 34.8px,#300a5c 36.8px,#310a5d 37.8px,#270b52 38.2px,#260c51 38.8px,#2d0b59 39.2px,#2c0b58 40.8px,#240c4e 41.2px,#220c4c 41.8px,#260c50 42.2px,#250c50 43.8px,#280b54 44.2px,#270b52 44.8px,#1f0c47 45.2px,#1e0c46 45.8px,#1b0c40 46.2px,#190c3d 47.8px,#200c49 48.2px,#200c48 48.8px,#1a0c3f 49.2px,#1a0c3f 49.8px)}.g72{background:linear-gradient(#000004 0.2px,#000004 2.8px,#02010b 3.2px,#010109 4.2px,#0b0724 6.8px,#1c0c42 8.2px,#250c50 8.8px,#330a5f 9.2px,#460b69 10.2px,#5d126e 11.2px,#83206c 12.2px,#ac2f5d 13.2px,#c73e4d 13.8px,#dc503a 14.2px,#ec6627 14.8px,#fa9108 15.8px,#f98c0a 16.2px,#ea6429 17.2px,#d94d3d 17.8px,#c43c4e 18.8px,#a52d60 20.8px,#962766 21.2px,#922568 21.8px,#932667 22.2px,#821f6c 23.8px,#70196e 24.8px,#67166e 25.8px,#59106e 26.8px,#410a67 31.8px,#3f0a66 33.8px,#360961 34.2px,#310a5c 35.8px,#350a60 36.2px,#2c0b57 39.8px,#250c4f 40.2px,#240c4e 40.8px,#290b55 41.2px,#1b0c41 44.8px,#1d0c45 45.8px,#1c0c43 46.8px,#170b3a 47.2px,#170b3a 47.8px,#1a0c40 48.2px,#1c0c43 49.8px)}.g73{background:linear-gradient(#010107 0.2px,#02020d 1.8px,#000004 2.2px,#010108 3.8px,#0d0829 6.8px,#150b38 7.8px,#2f0a5b 9.2px,#3a0963 9.8px,#4b0c6b 10.2px,#5f136e 11.2px,#922567 12.8px,#a82e5f 13.2px,#c33b4f 13.8px,#dc503a 14.2px,#ec6726 14.8px,#fa9008 15.8px,#fb9806 16.2px,#f78112 16.8px,#ee6a24 17.2px,#de5238 17.8px,#ce4347 18.2px,#a62d60 20.2px,#9d2964 20.8px,#992865 21.8px,#751b6e 24.8px,#65156e 25.2px,#5a116e 26.8px,#57106d 27.8px,#4c0c6b 28.2px,#480b6a 29.8px,#4b0c6b 30.2px,#4a0b6b 31.8px,#420a68 32.2px,#400a67 32.8px,#450a69 33.2px,#440a68 33.8px,#3a0963 34.2px,#330a5f 37.8px,#2e0a5a 39.8px,#270b52 40.8px,#1d0c44 45.8px,#1e0c45 46.8px,#180c3c 47.2px,#180c3c 48.8px,#210c4b 49.2px,#210c4a 49.8px)}.g74{background:linear-gradient(#010108 0.2px,#02020c 1.8px,#000004 3.8px,#07051c 5.8px,#210c4a 8.2px,#2a0b56 8.8px,#3a0963 9.2px,#450a69 9.8px,#480b6a 10.2px,#5d126e 11.2px,#902568 12.8px,#aa2f5e 13.2px,#c43c4e 13.8px,#dc503a 14.2px,#ec6826 14.8px,#f47819 15.2px,#fa8e09 15.8px,#fb9506 16.2px,#f67f14 16.8px,#f06f20 17.2px,#e15635 17.8px,#cb4149 18.2px,#c13a50 18.8px,#bf3952 19.2px,#b73457 19.8px,#a62d60 20.2px,#962766 21.2px,#922568 21.8px,#942667 22.2px,#7e1e6c 24.2px,#6f196e 25.8px,#60136e 26.8px,#520e6d 27.2px,#4e0d6c 27.8px,#58106e 28.2px,#560f6d 28.8px,#4a0c6b 29.2px,#3e0966 32.8px,#440a68 34.2px,#420a68 34.8px,#340a5f 35.2px,#360960 37.8px,#2b0b57 38.2px,#2a0b55 38.8px,#300a5c 39.2px,#2b0b57 40.8px,#250c50 41.8px,#250c50 44.2px,#240c4f 44.8px,#290b55 45.2px,#290b54 45.8px,#200c49 46.2px,#200c48 48.8px,#1c0c43 49.8px)}.g75{background:linear-gradient(#000004 0.2px,#010108 1.8px,#000004 2.8px,#000004 3.8px,#02020e 4.2px,#040313 5.2px,#0d0829 6.8px,#0f092c 7.2px,#140b35 7.8px,#1f0c48 8.2px,#3d0965 9.8px,#5a116e 11.2px,#69166e 11.8px,#8f2469 12.8px,#a72d5f 13.2px,#c13a51 13.8px,#d84c3e 14.2px,#ea632a 14.8px,#f06e21 15.2px,#f78310 15.8px,#fca108 16.2px,#f98a0b 16.8px,#f1731d 17.2px,#e45a31 17.8px,#d44842 18.2px,#ae305c 20.2px,#992865 21.2px,#952667 21.8px,#982766 22.2px,#942667 22.8px,#731a6e 24.8px,#6d186e 25.8px,#63146e 26.2px,#5a116e 27.8px,#4e0d6c 28.2px,#400a67 32.8px,#3a0963 33.8px,#3e0966 34.2px,#300a5c 37.8px,#310a5d 38.8px,#360961 39.2px,#350a60 39.8px,#2b0b56 40.2px,#260c50 41.8px,#270b52 42.8px,#1c0c43 43.2px,#1c0c42 43.8px,#1f0c47 44.2px,#1c0c43 46.8px,#210c4a 47.2px,#210c4a 47.8px,#1a0c40 48.2px,#1a0c3f 48.8px,#1f0c47 49.2px,#1f0c47 49.8px)}.g76{background:linear-gradient(#010106 0.2px,#010107 1.8px,#02020d 2.2px,#010107 4.2px,#02020d 5.2px,#040314 5.8px,#0e0829 6.2px,#120a32 6.8px,#0f092d 7.2px,#230c4e 8.8px,#3b0964 9.2px,#460b69 9.8px,#420a68 10.2px,#67166e 11.8px,#83206b 12.2px,#952667 12.8px,#a12b62 13.2px,#ba3655 13.8px,#d34842 14.2px,#e75e2e 14.8px,#f37819 15.2px,#f98d0a 15.8px,#fca209 16.2px,#fa8f08 16.8px,#f2731d 17.2px,#e65d2f 17.8px,#d74b3f 18.2px,#cb4149 18.8px,#c93f4b 19.2px,#c03951 19.8px,#ad305d 20.2px,#9b2964 21.2px,#7e1e6c 24.2px,#67166e 25.8px,#69166e 26.2px,#520e6d 28.8px,#4a0c6b 29.2px,#480b6a 30.8px,#400a67 31.8px,#3c0965 33.2px,#330a5f 37.8px,#2c0b58 38.8px,#2d0b59 39.8px,#250c50 41.8px,#280b54 42.2px,#240c4e 44.8px,#200c49 45.8px,#1b0c41 46.2px,#190c3e 47.8px,#1f0c48 48.2px,#1b0c42 49.8px)}.g77{background:linear-gradient(#030210 0.2px,#030210 0.8px,#010109 1.2px,#010109 2.8px,#030210 3.2px,#030210 3.8px,#010109 4.2px,#02020c 4.8px,#010108 5.2px,#02020e 5.8px,#07051d 6.2px,#170b3a 7.8px,#260c51 8.2px,#2f0a5b 8.8px,#2b0b56 9.2px,#360960 9.8px,#490b6a 10.2px,#540f6d 10.8px,#57106e 11.2px,#731a6e 12.2px,#85216b 12.8px,#b53458 13.8px,#d04446 14.2px,#e45a32 14.8px,#f78311 15.8px,#fb9d07 16.2px,#fa9407 16.8px,#eb6628 17.8px,#d74b3f 18.2px,#c93f4b 18.8px,#ac2f5d 20.8px,#952667 21.2px,#902468 21.8px,#952666 22.2px,#7b1d6d 24.2px,#5b116e 26.8px,#500d6c 28.8px,#540f6d 29.2px,#520e6d 29.8px,#470b6a 30.2px,#410a67 31.8px,#470b6a 32.2px,#3b0964 35.2px,#300a5b 37.8px,#350a60 38.2px,#320a5e 39.8px,#250c4f 42.2px,#220c4b 43.8px,#230c4d 45.8px,#1c0c42 46.2px,#1b0c42 46.8px,#220c4c 47.2px,#1e0c46 49.8px)}.g78{background:linear-gradient(#010109 0.2px,#02010a 3.8px,#010109 4.8px,#050416 6.2px,#08061e 6.8px,#130b34 7.2px,#190c3d 7.8px,#180c3b 8.2px,#1f0c48 8.8px,#2d0b59 9.2px,#420a68 10.2px,#4d0c6c 10.8px,#500e6c 11.2px,#5c126e 11.8px,#83206b 12.8px,#972766 13.2px,#ae315c 13.8px,#c83f4c 14.2px,#de5238 14.8px,#ec6826 15.2px,#f57b16 15.8px,#fb9806 16.2px,#fb9906 16.8px,#f47a18 17.2px,#ec6627 17.8px,#dd513a 18.2px,#cb4149 18.8px,#af315b 20.2px,#962766 21.8px,#922568 23.2px,#8c2369 23.8px,#7c1d6d 24.2px,#62146e 25.8px,#63146e 26.2px,#5e126e 26.8px,#5b116e 27.8px,#500d6c 28.2px,#4c0c6b 29.8px,#440a68 30.8px,#420a68 31.8px,#3b0964 32.8px,#3f0a66 33.2px,#3b0964 35.8px,#300a5c 38.2px,#240c4e 41.8px,#290b55 42.2px,#280b53 42.8px,#1c0c42 43.2px,#1b0c41 43.8px,#200c48 44.2px,#210c4a 45.8px,#190c3d 49.8px)}.g79{background:linear-gradient(#010109 0.2px,#02020d 2.8px,#010006 4.2px,#010107 4.8px,#030311 5.2px,#040315 5.8px,#030312 6.2px,#060519 6.8px,#0e092b 7.2px,#260c51 9.2px,#3c0965 10.2px,#5d126e 11.8px,#801f6c 12.8px,#aa2e5e 13.8px,#bd3853 14.2px,#d64a40 14.8px,#eb6628 15.2px,#fa9108 16.2px,#fb9e07 16.8px,#f8890c 17.2px,#f2741c 17.8px,#e45a32 18.2px,#d14545 18.8px,#c13a51 19.8px,#b1325a 20.2px,#a72d5f 20.8px,#9b2965 21.8px,#902568 22.8px,#86216b 23.2px,#64156e 25.8px,#530f6d 28.8px,#4c0c6b 29.2px,#3c0965 33.8px,#420a68 34.2px,#410a67 34.8px,#310a5d 35.2px,#300a5c 35.8px,#340a5f 36.2px,#2d0b59 37.8px,#3b0964 38.2px,#3a0963 38.8px,#270b52 39.2px,#260c51 39.8px,#2a0b55 40.2px,#280b54 40.8px,#2c0b58 41.2px,#2b0b57 41.8px,#230c4d 42.2px,#220c4b 42.8px,#250c50 43.2px,#1f0c47 44.8px,#1f0c47 45.8px,#1a0c40 46.2px,#1a0c3f 47.8px,#1d0c44 48.2px,#1a0c3f 49.8px)}.g80{background:linear-gradient(#010106 0.2px,#02010b 2.2px,#010108 3.8px,#030312 4.2px,#040415 5.8px,#150b37 8.2px,#2e0a5a 9.8px,#410a67 10.8px,#5c126e 11.8px,#67166e 12.2px,#902468 13.2px,#b93656 14.2px,#d24743 14.8px,#e55c30 15.2px,#f1721e 15.8px,#f68112 16.2px,#fb9606 16.8px,#f8880d 17.2px,#e9622a 18.2px,#d74b3f 18.8px,#c63e4d 19.2px,#bd3853 19.8px,#b93656 20.2px,#992865 21.8px,#7f1f6c 24.2px,#5f136e 26.8px,#59116e 27.8px,#4d0d6c 28.8px,#530e6d 29.2px,#420a68 31.8px,#3b0964 34.8px,#340a5f 36.8px,#2b0b56 37.2px,#270b52 39.8px,#210c4a 40.8px,#260c51 41.2px,#230c4c 42.8px,#1d0c45 44.2px,#1e0c45 45.8px,#240c4e 46.2px,#230c4e 46.8px,#1d0c44 47.2px,#190c3d 48.8px,#1c0c42 49.2px,#1c0c42 49.8px)}.g81{background:linear-gradient(#010106 0.2px,#010107 1.8px,#030210 4.8px,#040315 6.2px,#140b35 8.2px,#1a0c40 8.8px,#260c51 9.2px,#2f0a5a 9.8px,#310a5c 10.2px,#3c0965 10.8px,#510e6d 11.2px,#5e126e 11.8px,#62146e 12.2px,#88226a 13.2px,#9b2865 13.8px,#b43359 14.2px,#cd4248 14.8px,#de5239 15.2px,#ed6925 15.8px,#f68112 16.2px,#fb9506 16.8px,#fb9806 17.2px,#f78410 17.8px,#ed6925 18.2px,#dc503a 18.8px,#cd4248 19.2px,#b0315b 20.8px,#992865 21.8px,#952667 22.8px,#85216b 24.2px,#6b176e 25.8px,#550f6d 28.8px,#4c0c6b 29.2px,#490b6a 30.8px,#4c0c6b 31.2px,#4b0c6b 31.8px,#410a67 32.2px,#3a0963 33.8px,#400a67 34.2px,#380962 35.8px,#380962 36.8px,#300a5c 37.8px,#300a5c 38.8px,#280b53 39.2px,#260c51 39.8px,#2b0b57 40.2px,#2a0b55 40.8px,#240c4e 41.2px,#220c4c 41.8px,#260c51 42.2px,#220c4b 44.8px,#1c0c43 45.2px,#1b0c42 45.8px,#230c4d 46.2px,#200c48 47.8px,#150b37 48.2px,#150b36 48.8px,#1a0c40 49.2px,#1a0c40 49.8px)}.g82{background:linear-gradient(#010109 0.2px,#000004 2.8px,#010109 3.8px,#010106 4.8px,#040313 6.2px,#150b37 8.2px,#1b0c41 8.8px,#1c0c42 9.2px,#230c4e 9.8px,#310a5c 10.2px,#460b69 11.2px,#530e6d 11.8px,#751b6e 12.8px,#811f6c 13.2px,#aa2f5e 14.2px,#c33b4f 14.8px,#dd5139 15.2px,#ee6a24 15.8px,#f98d09 16.8px,#fca309 17.2px,#f98e09 17.8px,#ee6a24 18.2px,#de5238 18.8px,#cd4348 19.2px,#a82e5f 21.2px,#952667 22.2px,#82206c 24.2px,#7b1d6d 24.8px,#6d186e 25.2px,#5b116e 26.8px,#57106d 27.8px,#4b0c6b 28.8px,#4b0c6b 29.8px,#440a68 30.8px,#430a68 31.8px,#3d0965 32.8px,#3c0965 33.8px,#350a60 34.2px,#330a5e 35.8px,#370962 36.2px,#360961 36.8px,#2e0a5a 37.2px,#210c4a 40.8px,#250c50 41.2px,#240c4e 41.8px,#1d0c45 42.2px,#1c0c43 42.8px,#250c50 43.2px,#210c4a 45.8px,#170b3a 46.2px,#160b3a 46.8px,#1b0c41 47.2px,#1b0c41 47.8px,#170b3a 48.2px,#160b39 48.8px,#190c3f 49.2px,#190c3e 49.8px)}.g83{background:linear-gradient(#010106 0.2px,#010106 1.8px,#02010a 3.8px,#010107 4.8px,#010108 5.8px,#0d0828 7.8px,#0f092c 8.2px,#2e0a59 10.2px,#420a68 11.2px,#6c186e 12.8px,#902568 13.8px,#a42c61 14.2px,#d04545 15.2px,#e55b31 15.8px,#f47918 16.2px,#f98d09 16.8px,#fb9d07 17.2px,#f9890c 17.8px,#f47819 18.2px,#e9612b 18.8px,#d34743 19.2px,#ba3655 20.2px,#b0315b 20.8px,#ac2f5d 21.2px,#952667 22.2px,#902568 22.8px,#912568 23.2px,#84206b 24.2px,#6b176e 25.8px,#63146e 26.8px,#59116e 27.2px,#490b6a 29.8px,#440a69 31.8px,#3d0965 32.8px,#370961 35.8px,#310a5c 36.8px,#350a60 37.2px,#2b0b56 40.8px,#1d0c44 43.8px,#200c49 44.2px,#200c49 44.8px,#1b0c41 45.2px,#1b0c42 47.8px,#150b38 48.2px,#150b37 48.8px,#1e0c46 49.2px,#1e0c46 49.8px)}.g84{background:linear-gradient(#010005 0.2px,#000004 1.8px,#02010a 2.2px,#02010b 2.8px,#010106 3.8px,#02010b 4.8px,#030312 5.2px,#040314 6.2px,#180c3d 8.8px,#1b0c42 9.2px,#230c4d 9.8px,#250c50 10.2px,#2f0a5b 10.8px,#410a67 11.2px,#4e0d6c 11.8px,#540f6d 12.2px,#61146e 12.8px,#89226a 13.8px,#b3325a 14.8px,#cc4248 15.2px,#e25734 15.8px,#ef6d22 16.2px,#f68013 16.8px,#fb9d07 17.2px,#fb9806 17.8px,#ef6c22 18.8px,#e05535 19.2px,#d04545 19.8px,#aa2f5e 21.8px,#992865 22.2px,#922568 22.8px,#8c2369 23.8px,#60136e 26.8px,#59116e 27.8px,#4f0d6c 28.2px,#4b0c6b 28.8px,#4e0d6c 29.2px,#420a68 30.8px,#4a0b6b 31.2px,#3d0965 33.8px,#3e0966 34.8px,#360961 35.2px,#330a5e 36.8px,#380962 37.2px,#370961 37.8px,#300a5c 38.2px,#290b55 39.8px,#2b0b56 40.8px,#250c50 41.8px,#270b52 42.8px,#1f0c47 43.2px,#1d0c45 43.8px,#2a0b55 44.2px,#290b54 44.8px,#170c3b 45.2px,#170c3b 45.8px,#220c4c 46.2px,#220c4b 46.8px,#1a0c40 47.2px,#1b0c41 49.2px,#1b0c41 49.8px)}.g85{background:linear-gradient(#010109 0.2px,#010108 2.8px,#030311 3.2px,#030312 3.8px,#010107 4.2px,#010107 4.8px,#040314 5.2px,#050417 6.8px,#0b0724 7.8px,#170c3b 8.8px,#220c4b 9.8px,#2d0b59 10.2px,#4b0c6b 11.8px,#62146e 12.8px,#87216b 13.8px,#b2325a 14.8px,#c63d4d 15.2px,#dd513a 15.8px,#ed6826 16.2px,#fa9407 17.2px,#fc9f07 17.8px,#fa9207 18.2px,#f67e14 18.8px,#e75f2d 19.2px,#d34842 19.8px,#bc3754 20.8px,#952666 22.8px,#89226a 23.8px,#7d1e6d 25.2px,#5c126e 27.2px,#58106e 27.8px,#5a116e 28.2px,#4b0c6b 29.8px,#4c0c6b 30.8px,#470b6a 31.8px,#400a67 32.2px,#3e0966 32.8px,#450a69 33.2px,#430a68 33.8px,#3a0963 34.2px,#390963 35.8px,#320a5e 36.2px,#340a5f 38.8px,#290b55 40.8px,#2d0b59 41.2px,#290b54 42.8px,#230c4d 43.8px,#1e0c45 44.2px,#1c0c43 44.8px,#240c4e 45.2px,#240c4e 46.8px,#1a0c40 47.2px,#1b0c40 49.8px)}.g86{background:linear-gradient(#000004 0.2px,#010107 1.8px,#02020e 3.2px,#010108 5.8px,#010109 6.8px,#0d0827 8.8px,#170b3a 9.2px,#2d0b59 10.8px,#3b0964 11.2px,#5d126e 12.8px,#7e1e6c 13.8px,#a72d60 14.8px,#bd3853 15.2px,#d54941 15.8px,#f2731d 16.8px,#f8850f 17.2px,#fb9906 17.8px,#f8890c 18.2px,#ea632a 19.2px,#d74b3f 19.8px,#b43359 21.2px,#a92e5e 21.8px,#a72d5f 22.2px,#8e2469 23.2px,#86216b 24.8px,#67166e 26.8px,#5c126e 27.2px,#58106e 27.8px,#5a116e 28.2px,#4a0c6b 30.2px,#410a67 31.8px,#380962 34.8px,#300a5b 36.2px,#2e0a5a 36.8px,#330a5f 37.2px,#2e0a5a 38.8px,#280b53 39.8px,#290b54 40.8px,#230c4c 41.8px,#1b0c41 43.8px,#1e0c45 44.2px,#1d0c44 44.8px,#200c49 45.2px,#200c49 46.8px,#1b0c41 47.2px,#1a0c40 48.8px,#170b3a 49.2px,#160b39 49.8px)}.g87{background:linear-gradient(#010106 0.2px,#010109 2.8px,#000004 3.2px,#010004 4.8px,#02010b 6.2px,#02020c 7.2px,#040314 7.8px,#0b0724 8.2px,#1b0c42 9.8px,#1c0c43 10.2px,#230c4d 10.8px,#320a5e 11.2px,#57106d 12.8px,#7f1f6c 14.2px,#922568 14.8px,#b2325a 15.2px,#ca404a 15.8px,#e15535 16.2px,#f1701f 16.8px,#f57c16 17.2px,#fa8f08 17.8px,#fc9f07 18.2px,#f98b0b 18.8px,#f06f20 19.2px,#e15635 19.8px,#ca404a 20.2px,#9a2865 22.8px,#8c2369 23.2px,#7e1e6c 25.2px,#5d126e 27.2px,#500e6c 29.8px,#490b6a 30.2px,#470b6a 30.8px,#3f0a66 31.2px,#3e0966 31.8px,#410a67 32.2px,#3f0a66 32.8px,#430a68 33.2px,#410a67 33.8px,#340a5f 34.2px,#320a5e 34.8px,#3a0963 35.2px,#2a0b55 38.8px,#2b0b57 39.8px,#290b54 40.8px,#230c4d 41.8px,#200c49 42.8px,#240c4f 43.2px,#1e0c46 45.8px,#180c3d 46.2px,#160b3a 47.8px,#1b0c41 48.2px,#180c3c 49.8px)}.g88{background:linear-gradient(#450a69 0.2px,#490b6a 1.2px,#4d0d6c 1.8px,#530e6d 3.8px,#4e0d6c 4.2px,#500d6c 4.8px,#5c126e 5.2px,#5c126e 6.2px,#6b176e 7.8px,#6b176e 8.2px,#801f6c 9.8px,#b73457 11.8px,#da4e3c 13.2px,#ea632a 13.8px,#fa9008 14.8px,#fcab10 15.2px,#f2f27d 15.8px,#fcffa4 16.2px,#fcffa4 17.8px,#f9fd9e 18.2px,#f9fd9e 18.8px,#fcffa4 19.2px,#fcffa4 19.8px,#f4de52 20.2px,#fbbb20 20.8px,#fb9d07 21.8px,#fb9a06 22.8px,#fa9407 23.2px,#fa9307 24.8px,#fc9e07 25.2px,#fb9b06 25.8px,#fa9207 26.2px,#f78211 28.8px,#f57b17 30.8px,#f2731d 31.2px,#f1711e 31.8px,#f3761b 32.2px,#ef6e21 33.8px,#f06e21 34.8px,#ea632a 35.2px,#e85f2d 35.8px,#e8612c 36.2px,#d34842 40.2px,#cb4149 41.8px,#c43c4f 42.2px,#bc3754 45.2px,#b2325a 47.8px,#b63458 48.2px,#b43359 48.8px,#ab2f5d 49.2px,#a92e5f 49.8px)}.g89{background:linear-gradient(#3e0966 0.2px,#3b0964 1.2px,#470b6a 2.8px,#4f0d6c 3.2px,#520e6d 4.8px,#67166e 7.8px,#8e2469 10.2px,#c33c4f 12.2px,#cf4446 12.8px,#ef6d22 13.8px,#f57b17 14.2px,#fa9108 14.8px,#fbb71c 15.2px,#f5f88f 15.8px,#f5f991 16.8px,#fafd9f 17.2px,#fafd9f 17.8px,#f5f992 18.2px,#f5f992 18.8px,#f7fb99 19.2px,#f1ef76 19.8px,#f9c72f 20.2px,#fcab10 20.8px,#fb9906 21.2px,#fa9008 21.8px,#fb9506 22.2px,#fb9706 23.8px,#f98e09 24.2px,#fa9207 25.2px,#f8850f 26.8px,#f57d15 27.2px,#f37819 28.8px,#f57d15 29.2px,#f47a18 29.8px,#f06e21 30.2px,#ef6c22 30.8px,#f1701f 31.2px,#f06f20 31.8px,#ec6727 32.2px,#eb6528 32.8px,#ed6925 33.2px,#e55b31 36.8px,#de5238 37.2px,#db4f3b 37.8px,#d34743 38.2px,#c43c4e 41.8px,#c83f4c 42.2px,#c63d4d 42.8px,#bf3952 43.2px,#b53458 44.8px,#ba3655 45.2px,#b83556 45.8px,#b0315b 46.2px,#a42c61 48.8px,#a32b61 49.8px)}.g90{background:linear-gradient(#470b6a 0.2px,#440a68 1.2px,#480b6a 1.8px,#510e6d 2.2px,#540f6d 2.8px,#4f0d6c 3.2px,#530e6d 4.8px,#5d126e 5.2px,#721a6e 7.8px,#721a6e 8.2px,#7a1d6d 8.8px,#7d1e6d 9.2px,#85216b 9.8px,#ae305c 11.2px,#d34842 12.8px,#e75e2e 13.2px,#f3761b 13.8px,#f78410 14.2px,#fb9b06 14.8px,#f4dd50 15.2px,#fbfea3 15.8px,#fcffa4 17.8px,#fbfea1 19.2px,#f3e55d 19.8px,#f9c931 20.2px,#fcb318 20.8px,#fb9e07 21.2px,#fb9c06 22.8px,#fb9806 23.8px,#fb9c06 24.8px,#f8860f 27.8px,#f3771a 29.8px,#f3771a 30.8px,#ea6429 35.2px,#e45a31 36.8px,#db4f3c 37.2px,#d84b3f 37.8px,#de5238 38.2px,#ce4347 40.2px,#cc4248 40.8px,#cf4446 41.2px,#b73557 44.8px,#b73557 45.8px,#a52c60 49.8px)}.g91{background:linear-gradient(#440a68 0.2px,#490b6a 1.8px,#59116e 3.8px,#5f136e 6.2px,#6a176e 7.8px,#89226a 9.8px,#b43359 11.2px,#da4e3c 12.8px,#e75f2e 13.2px,#f3761b 13.8px,#f98e09 14.2px,#fcac10 14.8px,#f3f585 15.2px,#fcffa4 15.8px,#f7fb98 16.2px,#f6fa96 19.2px,#f6d644 19.8px,#fbb81d 20.2px,#fca50a 20.8px,#fb9706 21.2px,#fb9606 22.8px,#fb9a06 23.8px,#fa8f09 25.8px,#f57c16 28.8px,#f1711e 31.2px,#ed6826 32.8px,#ef6d22 33.2px,#ee6b23 33.8px,#ea6429 34.2px,#e55c30 35.8px,#e65e2e 36.2px,#e45a31 36.8px,#da4e3c 37.2px,#d24644 39.8px,#cc4149 40.8px,#c43c4f 41.2px,#c13a50 41.8px,#c63d4d 42.2px,#c43c4f 42.8px,#bb3754 43.2px,#b93656 43.8px,#bf3952 44.2px,#ae305c 47.8px,#a42c61 49.8px)}.g92{background:linear-gradient(#430a68 0.2px,#4e0d6c 2.8px,#56106d 3.8px,#5b116e 4.8px,#5b116e 6.2px,#71196e 8.2px,#791c6d 8.8px,#922568 9.8px,#b73557 11.2px,#cf4446 12.2px,#dd5139 12.8px,#ec6726 13.2px,#f67f13 13.8px,#fa8f08 14.2px,#fbbb20 14.8px,#fafda0 15.2px,#fcffa4 15.8px,#fafda1 16.8px,#f4f78c 17.2px,#f4f78c 17.8px,#fbfea2 18.2px,#fafda0 18.8px,#f2f27d 19.2px,#f8ce38 19.8px,#fcab0f 20.2px,#fb9906 20.8px,#fa9008 22.8px,#fa9108 23.8px,#f8870d 24.2px,#f57c16 26.2px,#f2731d 27.8px,#f1701f 28.8px,#f3751b 29.2px,#f2731d 29.8px,#eb6628 30.2px,#ea6429 30.8px,#ec6726 31.2px,#dd513a 35.8px,#d64a40 37.8px,#cc4248 38.2px,#c73e4d 39.8px,#bf3952 40.8px,#b63458 43.8px,#b53458 44.8px,#af315b 45.8px,#a82d5f 46.2px,#a22b62 48.8px,#9a2865 49.2px,#992865 49.8px)}.g93{background:linear-gradient(#470b6a 0.2px,#4f0d6c 1.8px,#4f0d6c 2.8px,#59116e 3.2px,#5b116e 3.8px,#4f0d6c 4.2px,#500d6c 4.8px,#5b116e 5.2px,#5e126e 5.8px,#5b116e 6.2px,#5f136e 6.8px,#71196e 7.8px,#86216b 9.2px,#ad305c 10.8px,#c83f4c 11.8px,#e45b31 12.8px,#ef6d22 13.2px,#f8860f 13.8px,#fb9c06 14.2px,#f7d33f 14.8px,#f8fb9a 15.2px,#f8fb9a 15.8px,#fafda0 16.2px,#f9fd9e 17.8px,#fcfea4 18.2px,#f7fb97 18.8px,#f4dd50 19.2px,#fbbc21 19.8px,#fca209 20.2px,#fa9207 20.8px,#fa9307 21.8px,#f98d09 23.8px,#f78310 24.2px,#ed6925 27.8px,#ee6b23 28.2px,#e8602d 29.8px,#dc503b 33.8px,#db4f3c 34.8px,#d24644 35.8px,#d74b3f 36.2px,#cd4248 37.8px,#c43c4f 38.2px,#c03952 39.8px,#b53458 40.2px,#b33359 40.8px,#b83556 41.2px,#b33359 42.8px,#ab2f5d 43.2px,#a92e5f 45.2px,#a42c61 46.8px,#9b2964 47.2px,#952667 49.8px)}.g94{background:linear-gradient(#420a68 0.2px,#480b6a 1.8px,#4f0d6c 2.2px,#5a116e 5.8px,#64156e 7.2px,#6b176e 7.8px,#7a1d6d 8.2px,#82206c 8.8px,#84206b 9.2px,#902568 9.8px,#a32c61 10.2px,#c83f4c 11.8px,#e8612c 12.8px,#f1711f 13.2px,#f98a0c 13.8px,#fca80d 14.2px,#f2e761 14.8px,#f5f992 15.2px,#f5f992 15.8px,#fafda0 16.2px,#fafda0 16.8px,#f5f992 17.2px,#f5f992 17.8px,#f7fb99 18.2px,#f1f078 18.8px,#f9c931 19.2px,#fcac11 19.8px,#fc9f07 20.2px,#fa9307 20.8px,#f9890c 21.8px,#f78211 23.8px,#f1721e 25.8px,#eb6528 26.8px,#e65d2f 27.8px,#e55b31 28.8px,#d84c3e 31.2px,#d24743 32.8px,#d74b3f 33.2px,#d54941 33.8px,#cd4248 34.2px,#c83f4c 35.8px,#cc4149 36.2px,#c93f4b 36.8px,#be3853 37.2px,#a92e5e 40.8px,#ad305d 41.2px,#a42c61 42.8px,#8d2369 49.8px)}.g95{background:linear-gradient(#430a68 0.2px,#540f6d 4.2px,#5a116e 5.8px,#66156e 6.8px,#71196e 7.8px,#89226a 9.2px,#b43359 10.8px,#c93f4b 11.8px,#d74b3f 12.2px,#f1711e 13.2px,#f98a0b 13.8px,#fbbc21 14.2px,#f6f994 14.8px,#fcffa4 15.2px,#fcffa4 17.8px,#f7fb99 18.2px,#f3e45d 18.8px,#fbbe24 19.2px,#fca60b 19.8px,#fb9706 20.2px,#f98e09 20.8px,#ef6c23 25.2px,#e35833 27.8px,#e15635 28.8px,#d84c3e 29.2px,#c93f4b 33.8px,#c73e4c 34.8px,#bd3853 35.8px,#b43359 37.8px,#ab2f5e 38.8px,#af315b 39.2px,#ad305c 39.8px,#a52c60 40.2px,#a32c61 40.8px,#a92e5e 41.2px,#a72d5f 41.8px,#a02b62 42.2px,#8f2468 46.8px,#902568 47.8px,#85216b 49.8px)}.g96{background:linear-gradient(#490b6a 0.2px,#500d6c 1.8px,#4e0d6c 2.8px,#530f6d 3.8px,#510e6c 4.8px,#68166e 7.2px,#7f1e6c 8.8px,#9a2865 9.8px,#ba3655 10.8px,#d14644 11.8px,#d64a40 12.2px,#e65d2f 12.8px,#f68112 13.2px,#fb9b06 13.8px,#fac229 14.2px,#fbfea1 14.8px,#fcfea4 16.2px,#fcffa4 17.8px,#f5f890 18.2px,#f6d847 18.8px,#fcb317 19.2px,#fb9e07 19.8px,#fa9207 20.2px,#f98c0a 20.8px,#f8860e 22.2px,#f2731d 23.8px,#eb6528 25.8px,#e55b31 26.2px,#d84c3e 28.8px,#cf4446 29.2px,#c73e4c 30.8px,#cc4149 31.2px,#c53c4e 32.8px,#bd3853 33.2px,#b43359 35.8px,#b33359 36.8px,#9e2a63 39.2px,#9a2865 40.8px,#932667 41.8px,#942667 43.8px,#87216b 46.2px,#85216b 48.8px,#7c1e6d 49.2px,#7c1e6d 49.8px)}.g97{background:linear-gradient(#4f0d6c 0.2px,#5a116e 1.8px,#5a116e 4.8px,#69176e 6.8px,#8c2369 8.8px,#912568 9.2px,#bf3952 10.8px,#d84c3e 11.8px,#df5437 12.2px,#ef6c23 12.8px,#f8870d 13.2px,#fca108 13.8px,#f9c830 14.2px,#fcffa4 14.8px,#fcffa4 17.8px,#f5f88f 18.2px,#f7d340 18.8px,#fbba1f 19.2px,#fca60c 19.8px,#fb9606 20.2px,#f78212 22.2px,#ec6627 24.8px,#e65c30 25.2px,#e25734 25.8px,#e35932 26.2px,#df5437 26.8px,#d64a40 27.2px,#cb414a 28.8px,#d04545 29.2px,#c33c4f 30.8px,#ba3655 33.8px,#a82e5f 35.8px,#ab2f5e 36.2px,#9f2a63 37.8px,#9c2964 38.8px,#a12b62 39.2px,#a02a63 39.8px,#982766 40.2px,#912568 41.8px,#962766 42.2px,#902468 43.8px,#89226a 44.2px,#83206b 46.8px,#85206b 47.8px,#7e1e6c 48.8px,#83206b 49.2px,#83206b 49.8px)}.g98{background:linear-gradient(#4a0c6b 0.2px,#550f6d 1.2px,#550f6d 1.8px,#5b116e 2.2px,#5b116e 2.8px,#510e6d 3.2px,#560f6d 5.2px,#67166e 7.2px,#70196e 7.8px,#801f6c 8.2px,#8e2469 9.2px,#bb3754 10.8px,#d24743 11.8px,#e05536 12.2px,#f06f20 12.8px,#f98c0b 13.2px,#fca60b 13.8px,#f6d745 14.2px,#fcffa4 14.8px,#f7fb98 15.2px,#f7fb98 15.8px,#fcffa4 16.2px,#fbfea2 17.8px,#f1eb6c 18.2px,#fac42c 18.8px,#fca208 19.2px,#fa9108 19.8px,#fa9008 20.2px,#f57c16 21.8px,#f07020 23.2px,#db4f3b 25.8px,#d04545 27.8px,#ba3655 29.8px,#a92e5f 33.8px,#a72d5f 34.8px,#a02a63 35.2px,#9a2865 36.8px,#992865 37.8px,#8c2369 39.2px,#811f6c 43.8px,#85216b 44.2px,#84206b 44.8px,#7d1e6d 45.2px,#731a6e 48.8px,#741b6e 49.8px)}.g99{background:linear-gradient(#480b6a 0.2px,#530e6d 1.2px,#530f6d 3.8px,#4c0c6b 4.2px,#4c0c6b 4.8px,#69166e 7.2px,#922567 9.2px,#c93f4b 11.2px,#d54941 11.8px,#e45a32 12.2px,#f2751c 12.8px,#f98e09 13.2px,#fca90e 13.8px,#f4de51 14.2px,#f9fd9e 14.8px,#fcffa4 15.2px,#fbfea2 16.8px,#fcfea4 17.2px,#fafd9f 17.8px,#f6d848 18.2px,#fbb61a 18.8px,#fc9f07 19.2px,#fa9008 19.8px,#f8870e 20.8px,#f8880d 21.2px,#f78112 21.8px,#e9622a 23.2px,#dc503b 24.8px,#dc503a 25.2px,#ce4347 26.8px,#c43c4f 27.2px,#aa2f5e 29.8px,#9b2865 32.8px,#932567 33.2px,#902568 33.8px,#9d2964 34.2px,#85216b 37.8px,#7f1e6c 39.8px,#801f6c 40.8px,#731a6e 44.8px,#751b6e 45.8px,#6f196e 46.8px,#6a176e 49.8px)}.g100{background:linear-gradient(#4d0d6c 0.2px,#520e6d 1.8px,#510e6c 4.8px,#5a116e 5.8px,#61136e 7.2px,#69176e 7.8px,#7d1e6d 8.2px,#8d2369 9.2px,#9c2964 9.8px,#b0315b 10.2px,#d54941 11.8px,#e65d2f 12.2px,#f47819 12.8px,#fa9507 13.2px,#fcb116 13.8px,#f1ee72 14.2px,#fcffa4 14.8px,#f4f78d 15.2px,#f4f78d 15.8px,#f9fc9e 16.2px,#f9fc9e 16.8px,#fcffa4 17.2px,#f6f993 17.8px,#f7d23e 18.2px,#fcb419 18.8px,#fca008 19.2px,#f98d0a 20.2px,#f47919 21.8px,#e35932 23.8px,#e35932 24.2px,#d14644 25.8px,#d14545 26.2px,#b63458 28.2px,#a32c61 30.8px,#a22b62 31.8px,#962766 33.8px,#932567 34.8px,#932667 35.8px,#8e2469 36.8px,#85216b 37.8px,#85206b 38.8px,#7d1e6d 39.8px,#7a1d6d 41.8px,#7c1e6d 42.8px,#71196e 45.8px,#751b6e 46.2px,#69176e 49.2px,#69176e 49.8px)}.g101{background:linear-gradient(#450a69 0.2px,#480b6a 0.8px,#530f6d 1.2px,#540f6d 1.8px,#4e0d6c 2.8px,#57106d 3.2px,#560f6d 3.8px,#500d6c 4.2px,#500d6c 4.8px,#59116e 5.2px,#5d126e 5.8px,#5b116e 6.2px,#6e186e 7.8px,#7d1e6c 8.2px,#8e2469 9.2px,#bc3754 10.8px,#d74b3f 11.8px,#e35932 12.2px,#f2741c 12.8px,#fa9207 13.2px,#fcaf14 13.8px,#f1f179 14.2px,#fbfea2 14.8px,#fafda0 15.8px,#f6fa95 16.2px,#f6fa95 16.8px,#f9fc9d 17.2px,#f1ec6e 17.8px,#fac329 18.2px,#fca90e 18.8px,#fc9f07 19.2px,#f98a0c 20.8px,#f57d15 21.2px,#e75e2e 23.8px,#e15635 24.8px,#d44842 25.2px,#be3853 27.8px,#a32c61 30.8px,#a12b62 31.8px,#972766 32.8px,#9b2964 33.2px,#912568 35.8px,#88226a 36.2px,#86216b 36.8px,#7f1e6c 37.2px,#7d1e6d 37.8px,#85216b 38.2px,#7d1e6d 39.8px,#82206c 40.2px,#811f6c 40.8px,#791c6d 41.2px,#7a1d6d 43.8px,#731a6e 44.8px,#741a6e 45.8px,#68166e 46.2px,#66166e 46.8px,#6e186e 47.2px,#68166e 48.8px,#61146e 49.2px,#61146e 49.8px)}.g102{background:linear-gradient(#500d6c 0.2px,#530e6d 1.8px,#4d0d6c 2.8px,#510e6c 5.2px,#5b116e 6.8px,#6c186e 7.2px,#8d2369 9.2px,#b53458 10.8px,#d14545 11.8px,#e45b31 12.2px,#f3761b 12.8px,#fa9207 13.2px,#fcb014 13.8px,#f3f585 14.2px,#fcffa4 14.8px,#fcffa4 17.2px,#f2ea69 17.8px,#fac026 18.2px,#fca90d 18.8px,#fb9706 19.2px,#fa8f08 19.8px,#fa9008 20.2px,#f98a0b 20.8px,#f57b17 21.2px,#e75e2e 23.8px,#de5238 24.2px,#cc4249 25.8px,#ce4347 26.2px,#b43359 28.2px,#9a2865 32.8px,#972766 33.8px,#8f2468 34.2px,#8d2369 35.8px,#86216b 36.8px,#8b236a 37.2px,#89226a 37.8px,#821f6c 38.2px,#7b1d6d 39.8px,#82206c 40.2px,#761b6e 42.8px,#771c6d 43.8px,#6f196e 44.2px,#6d186e 44.8px,#771c6d 45.2px,#761b6e 45.8px,#68166e 46.2px,#67166e 46.8px,#761b6e 47.2px,#751b6e 47.8px,#69176e 48.2px,#64156e 49.8px)}.g103{background:linear-gradient(#510e6c 0.2px,#58106e 1.8px,#530e6d 3.8px,#4b0c6b 4.2px,#4b0c6b 4.8px,#550f6d 5.8px,#550f6d 6.2px,#5a116e 6.8px,#6d186e 7.8px,#922568 9.2px,#bb3754 10.8px,#da4e3d 11.8px,#ea632a 12.2px,#f67f13 12.8px,#fb9906 13.2px,#fbb81d 13.8px,#f5f991 14.2px,#fcffa4 14.8px,#fbfea3 17.2px,#f3e35a 17.8px,#fbb51a 18.2px,#fca108 18.8px,#fa9307 19.8px,#f7850f 20.2px,#f67f14 20.8px,#f68013 21.2px,#ec6727 22.8px,#e75e2e 23.8px,#de5238 24.8px,#d34743 25.2px,#cd4248 25.8px,#cc4149 26.2px,#c53d4e 26.8px,#c03a51 27.8px,#b43359 28.2px,#a62d60 29.8px,#aa2e5e 30.2px,#9e2a63 31.8px,#9d2964 32.8px,#952667 33.2px,#85216b 36.8px,#84206b 38.8px,#7c1d6d 39.2px,#7c1d6d 40.8px,#751b6e 41.8px,#741b6e 43.8px,#791d6d 44.2px,#771c6d 45.8px,#6e186e 46.2px,#68166e 49.8px)}.g104{background:linear-gradient(#4c0c6b 0.2px,#58106e 2.2px,#4d0d6c 3.8px,#510e6d 4.8px,#58106e 6.2px,#761b6e 8.2px,#7f1f6c 8.8px,#922568 9.2px,#b93656 10.8px,#c63d4d 11.2px,#d54a41 11.8px,#e65d2f 12.2px,#f47918 12.8px,#fc9f07 13.2px,#fac128 13.8px,#f2f483 14.2px,#fcffa4 14.8px,#fcffa4 16.8px,#f9fc9d 17.2px,#f5db4c 17.8px,#fbba1f 18.2px,#fca50b 18.8px,#fb9906 19.2px,#fa9407 19.8px,#fb9506 20.2px,#fa8f08 20.8px,#f78211 21.2px,#ed6925 22.8px,#d34743 25.8px,#c73e4d 26.2px,#c03951 26.8px,#bc3754 27.8px,#9c2964 31.8px,#9a2865 33.8px,#912568 34.8px,#88226a 35.2px,#86216b 35.8px,#8b236a 36.2px,#89226a 37.8px,#82206c 38.2px,#771c6d 41.8px,#7a1d6d 42.8px,#711a6e 44.8px,#71196e 45.8px,#6a176e 46.2px,#6e186e 49.8px)}.g105{background:linear-gradient(#510e6c 0.2px,#57106e 1.8px,#4a0c6b 3.8px,#500d6c 4.2px,#56106d 5.8px,#540f6d 6.2px,#68166e 7.8px,#7b1d6d 8.2px,#9c2964 9.8px,#c93f4b 11.2px,#d94d3d 11.8px,#ea632a 12.2px,#f68013 12.8px,#fb9806 13.2px,#fbbc21 13.8px,#f4f78b 14.2px,#fcffa4 14.8px,#f8fc9b 15.2px,#fafda0 16.8px,#f9fc9d 17.2px,#f6d948 17.8px,#fcae12 18.2px,#fb9b06 18.8px,#fa9307 19.8px,#f3761a 21.8px,#e55b31 23.2px,#e05536 23.8px,#e05536 24.2px,#c03a51 26.8px,#a52c60 29.8px,#a82e5f 30.2px,#a62d60 30.8px,#9c2964 31.2px,#982766 32.8px,#902568 33.8px,#952667 34.2px,#8a226a 35.8px,#89226a 36.8px,#811f6c 37.2px,#7a1d6d 38.8px,#7f1e6c 39.2px,#7c1d6d 41.8px,#741a6e 42.2px,#731a6e 42.8px,#791c6d 43.2px,#781c6d 43.8px,#70196e 44.2px,#6f196e 44.8px,#741a6e 45.2px,#6d186e 46.8px,#6e186e 48.8px,#62146e 49.2px,#62146e 49.8px)}.g106{background:linear-gradient(#4f0d6c 0.2px,#59106e 1.8px,#550f6d 2.8px,#4c0c6b 3.8px,#4c0c6b 5.8px,#5b116e 6.8px,#6e196e 7.8px,#982766 9.8px,#c63d4d 11.2px,#d74b3f 11.8px,#e8602c 12.2px,#f57d15 12.8px,#fca008 13.2px,#fac52c 13.8px,#f2f17b 14.2px,#fcffa4 14.8px,#fcffa4 16.8px,#f3f689 17.2px,#f8cd37 17.8px,#fcae13 18.2px,#fb9c06 18.8px,#fa9107 19.8px,#fa9108 20.2px,#f47a18 21.8px,#ec6726 22.2px,#e8602c 22.8px,#df5437 24.2px,#c23b50 26.8px,#b0315b 28.2px,#9e2a63 31.8px,#952667 32.8px,#8d2369 34.8px,#912568 35.2px,#801f6c 38.8px,#7b1d6d 40.8px,#7d1e6d 41.8px,#771c6d 42.8px,#6f196e 43.2px,#6e196e 43.8px,#731a6e 44.2px,#721a6e 45.8px,#6a176e 47.2px,#69176e 47.8px,#6f196e 48.2px,#6e186e 48.8px,#68166e 49.2px,#67166e 49.8px)}.g107{background:linear-gradient(#540f6d 0.2px,#5a116e 1.8px,#480b6a 3.8px,#510e6c 5.8px,#6a176e 7.8px,#7a1d6d 8.2px,#84206b 8.8px,#88226a 9.2px,#942667 9.8px,#b53458 10.8px,#c23b50 11.2px,#d54941 11.8px,#e9612b 12.2px,#f57e15 12.8px,#fb9a06 13.2px,#fbbd23 13.8px,#f1ee72 14.2px,#fbfea2 14.8px,#f8fb9a 15.2px,#f8fb9a 15.8px,#fafda1 16.2px,#fafda1 16.8px,#f4f78c 17.2px,#f8ce39 17.8px,#fcae13 18.2px,#fb9c06 18.8px,#fb9606 19.8px,#f8880d 20.2px,#f78211 20.8px,#f07020 21.8px,#e15734 23.8px,#c43c4f 26.2px,#b33359 27.8px,#a62d60 29.8px,#9f2a63 30.2px,#9c2964 30.8px,#a02a63 31.2px,#8e2469 34.8px,#8e2469 35.8px,#83206b 37.2px,#781c6d 39.8px,#7a1d6d 42.8px,#6e186e 44.2px,#6d186e 44.8px,#721a6e 45.2px,#6b176e 48.8px,#6e186e 49.8px)}.g108{background:linear-gradient(#4b0c6b 0.2px,#4c0c6b 0.8px,#57106e 1.2px,#5a116e 1.8px,#4b0c6b 4.2px,#540f6d 6.2px,#64156e 7.8px,#751b6e 8.8px,#89226a 9.2px,#b3325a 10.8px,#c13a51 11.2px,#d54941 11.8px,#e8602c 12.2px,#f57d16 12.8px,#fb9606 13.2px,#fbb81d 13.8px,#f2f27d 14.2px,#fcffa4 14.8px,#fcffa4 15.8px,#fafda0 16.8px,#f1f077 17.2px,#fac42b 17.8px,#fcaf14 18.2px,#fb9d07 18.8px,#f98d0a 20.2px,#f8870e 20.8px,#e9622b 22.8px,#dc503a 24.2px,#cd4248 25.8px,#b33359 27.8px,#b0315b 28.8px,#a12b62 30.8px,#9d2964 31.8px,#952667 32.8px,#8c2369 34.8px,#821f6c 35.2px,#801f6c 35.8px,#84206b 36.2px,#7c1d6d 38.8px,#7c1e6d 39.8px,#731a6e 41.2px,#741b6e 42.8px,#6e196e 43.8px,#71196e 45.8px,#6d186e 47.8px,#66156e 48.2px,#65156e 48.8px,#6a176e 49.2px,#6a176e 49.8px)}.g109{background:linear-gradient(#510e6d 0.2px,#520e6d 0.8px,#61146e 1.2px,#64156e 1.8px,#530e6d 2.2px,#4f0d6c 2.8px,#530f6d 3.2px,#4b0c6b 4.2px,#4b0c6b 5.8px,#5e126e 6.2px,#64156e 6.8px,#63146e 7.2px,#902468 9.8px,#a72d60 10.2px,#c43c4f 11.2px,#d84c3f 11.8px,#e8602c 12.2px,#f57d15 12.8px,#fc9f07 13.2px,#fac026 13.8px,#f2f380 14.2px,#fcffa4 14.8px,#fcffa4 15.8px,#fafda0 16.8px,#f1f078 17.2px,#fac52c 17.8px,#fca80d 18.2px,#fb9706 18.8px,#fb9d07 19.2px,#f8890c 20.8px,#f2751b 21.8px,#ed6925 22.8px,#e45a32 23.2px,#df5437 23.8px,#e15635 24.2px,#c43c4e 26.2px,#b2325a 28.2px,#9d2964 30.8px,#9c2964 31.8px,#932667 32.2px,#912568 32.8px,#972766 33.2px,#942667 33.8px,#8b2369 34.2px,#87216b 35.8px,#7f1f6c 36.8px,#8a226a 37.2px,#88226a 37.8px,#801f6c 38.2px,#761b6e 39.8px,#721a6e 42.8px,#781c6d 43.2px,#771c6d 43.8px,#6f196e 44.2px,#721a6e 46.8px,#6b176e 47.2px,#6b176e 49.8px)}.g110{background:linear-gradient(#550f6d 0.2px,#560f6d 0.8px,#5f136e 1.8px,#550f6d 2.2px,#4b0c6b 3.8px,#510e6c 4.2px,#510e6c 5.8px,#66156e 7.8px,#912568 9.8px,#bc3754 11.2px,#d14644 11.8px,#e75e2e 12.2px,#f47a18 12.8px,#fa9307 13.2px,#fcb317 13.8px,#f2e864 14.2px,#fbfea2 14.8px,#f9fd9e 15.8px,#fafd9f 16.8px,#f1ec6f 17.2px,#fac026 17.8px,#fcaa0e 18.2px,#fb9806 18.8px,#f98c0a 19.8px,#f98c0a 20.2px,#e75e2e 23.2px,#da4e3c 24.8px,#cf4446 25.2px,#aa2f5e 28.2px,#a02a63 30.8px,#8f2468 32.8px,#962766 33.2px,#86216b 35.8px,#85216b 36.8px,#89226a 37.2px,#83206b 38.8px,#761b6e 39.2px,#6f196e 43.8px,#71196e 45.8px,#6f196e 46.8px,#6a176e 47.8px,#6d186e 48.8px,#6c186e 49.8px)}.g111{background:linear-gradient(#550f6d 0.2px,#5d126e 1.8px,#510e6c 2.8px,#4a0c6b 4.8px,#4e0d6c 6.2px,#771c6d 8.8px,#9c2964 10.2px,#bc3754 11.2px,#e15635 12.2px,#f1701f 12.8px,#fb9606 13.2px,#fbb71c 13.8px,#f2e661 14.2px,#fcfea4 14.8px,#fbfea1 16.8px,#f1ef76 17.2px,#fac42b 17.8px,#fcaa0f 18.2px,#fb9906 18.8px,#f98c0a 20.2px,#f2741c 21.8px,#e9622b 22.8px,#d94d3d 24.8px,#c73e4d 25.8px,#b83556 26.8px,#ba3655 27.2px,#b63458 27.8px,#ab2f5d 28.2px,#9a2865 31.8px,#912568 33.2px,#8e2469 33.8px,#8f2469 34.8px,#85206b 35.2px,#82206c 37.8px,#731a6e 39.8px,#781c6d 40.2px,#771c6d 40.8px,#70196e 41.2px,#70196e 43.2px,#6d186e 45.8px,#6f196e 46.8px,#67166e 47.2px,#63146e 48.8px,#66156e 49.8px)}.g112{background:linear-gradient(#4a0c6b 0.2px,#520e6d 2.2px,#4e0d6c 2.8px,#520e6d 3.2px,#4f0d6c 3.8px,#460b69 4.2px,#470b6a 5.8px,#59116e 6.8px,#62146e 7.8px,#7a1d6d 8.8px,#8b236a 9.8px,#ae305c 10.8px,#bb3755 11.2px,#d04446 11.8px,#e35933 12.2px,#f1721d 12.8px,#fa8f09 13.2px,#fcaf14 13.8px,#f4dd50 14.2px,#f8fb99 14.8px,#f8fb99 15.8px,#fcffa4 16.2px,#fcffa4 16.8px,#f2eb6b 17.2px,#fbbe24 17.8px,#fcab10 18.2px,#fb9906 18.8px,#f98e09 19.2px,#f8880d 19.8px,#f98a0c 20.2px,#f78410 20.8px,#f2731d 21.2px,#ee6b23 21.8px,#ee6a24 22.2px,#df5337 23.8px,#d84c3e 24.8px,#ba3655 26.8px,#a92e5e 28.8px,#9e2a63 29.8px,#9a2865 31.8px,#902568 32.8px,#962666 33.2px,#8a226a 34.8px,#7d1e6d 37.8px,#791c6d 40.8px,#731a6e 41.2px,#6a176e 44.8px,#6c186e 46.8px,#64156e 48.8px,#66156e 49.8px)}.g113{background:linear-gradient(#500d6c 0.2px,#57106d 1.8px,#470b6a 4.8px,#4a0c6b 5.8px,#58106e 6.8px,#6a176e 7.8px,#8d2369 9.8px,#ac2f5d 10.8px,#b73557 11.2px,#cc4149 11.8px,#e15734 12.2px,#f06f20 12.8px,#fa9008 13.2px,#fcb116 13.8px,#f4de51 14.2px,#fcffa4 14.8px,#fbfea1 15.8px,#fcffa4 16.8px,#f1f179 17.2px,#fac52c 17.8px,#fca80d 18.2px,#fb9606 18.8px,#f67e14 20.8px,#f7850f 21.2px,#f57d15 21.8px,#f06f20 22.2px,#e15635 23.8px,#cc4149 25.8px,#b83556 26.8px,#b1325a 27.8px,#b43359 28.2px,#b0315b 28.8px,#a72d5f 29.2px,#9d2964 30.8px,#942667 31.8px,#9c2964 32.2px,#992865 32.8px,#8f2468 33.2px,#8c2369 34.8px,#87216b 35.8px,#88226a 36.8px,#731a6e 39.8px,#721a6e 40.8px,#791c6d 41.2px,#781c6d 41.8px,#6e186e 42.2px,#6d186e 42.8px,#711a6e 43.2px,#721a6e 44.8px,#6e186e 45.8px,#6f196e 46.8px,#68166e 47.2px,#65156e 48.8px,#6a176e 49.2px,#69176e 49.8px)}.g114{background:linear-gradient(#540f6d 0.2px,#56106d 1.8px,#4b0c6b 4.2px,#460b69 5.8px,#721a6e 8.2px,#8e2469 9.8px,#ae305c 10.8px,#d34842 11.8px,#e25734 12.2px,#f06f20 12.8px,#f8880d 13.2px,#fca90e 13.8px,#f4de51 14.2px,#fcffa4 14.8px,#fbfea2 16.8px,#f2f17b 17.2px,#fac42b 17.8px,#fcaf13 18.2px,#fb9b06 18.8px,#fa9008 19.8px,#f1701f 21.8px,#f07020 22.2px,#e45a31 23.8px,#d64a40 24.8px,#ba3655 27.2px,#a62d60 29.8px,#aa2e5e 30.2px,#a72d5f 30.8px,#9f2a63 31.2px,#902568 33.8px,#8f2468 34.8px,#87216b 35.8px,#84206b 36.8px,#85216b 37.8px,#811f6c 38.8px,#771c6d 39.2px,#751b6e 39.8px,#771c6d 41.2px,#711a6e 42.8px,#751b6e 43.2px,#6e196e 46.8px,#71196e 47.8px,#67166e 48.2px,#66166e 48.8px,#6c186e 49.2px,#6b176e 49.8px)}.g115{background:linear-gradient(#4e0d6c 0.2px,#4e0d6c 0.8px,#56106d 1.8px,#480b6a 3.8px,#500d6c 4.2px,#500d6c 4.8px,#460b69 5.2px,#460b69 5.8px,#58106e 6.8px,#63146e 7.8px,#751b6e 8.8px,#86216b 9.2px,#9a2865 10.2px,#bb3755 11.2px,#cd4348 11.8px,#ee6b23 12.8px,#f78212 13.2px,#fca309 13.8px,#f8cf3a 14.2px,#fbfea3 14.8px,#fafd9f 16.8px,#f5f991 17.2px,#f8cc35 17.8px,#fcab10 18.2px,#fb9806 18.8px,#f8870d 19.8px,#f8870e 20.2px,#e55c30 23.2px,#d14644 24.8px,#c93f4b 25.8px,#bb3754 26.2px,#aa2f5e 27.8px,#af315b 28.2px,#9d2964 30.8px,#992865 31.8px,#922568 32.2px,#8f2468 32.8px,#962766 33.2px,#942667 33.8px,#89226a 34.2px,#7a1d6d 38.8px,#7b1d6d 39.8px,#6e196e 42.2px,#6d186e 42.8px,#761b6e 43.2px,#751b6e 43.8px,#6b176e 44.2px,#6a176e 44.8px,#71196e 45.2px,#70196e 45.8px,#69176e 46.2px,#6a176e 47.8px,#62146e 49.8px)}.g116{background:linear-gradient(#550f6d 0.2px,#540f6d 0.8px,#490b6a 1.2px,#4c0c6b 1.8px,#550f6d 2.2px,#520e6d 2.8px,#470b6a 3.2px,#440a69 3.8px,#470b6a 4.8px,#4e0d6c 5.2px,#490b6b 6.2px,#6b176e 8.2px,#751b6e 8.8px,#88226a 9.2px,#992865 10.2px,#b73557 11.2px,#da4e3c 12.2px,#ea632a 12.8px,#f78310 13.2px,#fca50a 13.8px,#f9c62e 14.2px,#fafda0 14.8px,#fcffa4 15.8px,#fafda0 17.2px,#f7d13d 17.8px,#fcb318 18.2px,#fca008 18.8px,#fa9307 19.2px,#ee6a24 22.2px,#e25834 23.8px,#d44941 24.8px,#cd4248 25.8px,#b2325a 27.2px,#ad305c 27.8px,#b0315b 28.2px,#a22b62 29.8px,#9d2964 30.8px,#9d2964 31.8px,#932667 32.2px,#8e2469 34.8px,#82206c 35.2px,#7a1d6d 36.8px,#82206c 37.2px,#781c6d 38.8px,#7e1e6c 39.2px,#7d1e6d 39.8px,#741b6e 40.2px,#70196e 41.8px,#751b6e 42.2px,#741b6e 42.8px,#6c186e 43.2px,#6b176e 43.8px,#6f196e 44.2px,#6d186e 45.8px,#67166e 46.2px,#67166e 47.8px,#64156e 48.8px,#6b176e 49.2px,#6b176e 49.8px)}.g117{background:linear-gradient(#4d0c6b 0.2px,#4c0c6b 0.8px,#550f6d 1.2px,#57106e 1.8px,#4f0d6c 2.8px,#4d0d6c 3.8px,#420a68 6.2px,#4a0c6b 6.8px,#5b116e 7.2px,#62146e 7.8px,#791d6d 8.8px,#8a226a 9.8px,#ad305c 10.8px,#cb4149 11.8px,#d84c3e 12.2px,#e75f2d 12.8px,#f57c16 13.2px,#fb9d07 13.8px,#fbbf25 14.2px,#f6fa95 14.8px,#fcffa4 15.2px,#fcffa4 15.8px,#f8fc9b 16.2px,#f8fc9b 16.8px,#fafda1 17.2px,#f8d03a 17.8px,#fcb418 18.2px,#fca108 18.8px,#fa8f09 19.2px,#f57c16 20.8px,#f2731d 21.8px,#ea632a 22.8px,#e35932 23.8px,#c63e4d 25.8px,#c63d4d 26.2px,#ad305c 28.2px,#a32c61 29.8px,#a02b62 30.8px,#982766 31.2px,#952667 31.8px,#9b2964 32.2px,#902468 34.8px,#86216b 35.2px,#84206b 35.8px,#87216b 36.2px,#811f6c 37.8px,#7a1d6d 38.2px,#781c6d 38.8px,#7f1e6c 39.2px,#7d1e6d 39.8px,#751b6e 40.2px,#6e186e 42.8px,#70196e 45.2px,#6f196e 45.8px,#68166e 46.2px,#65156e 47.8px,#6a176e 48.2px,#69176e 48.8px,#62146e 49.2px,#61146e 49.8px)}.g118{background:linear-gradient(#4f0d6c 0.2px,#530f6d 1.8px,#4d0d6c 2.8px,#450a69 3.2px,#430a68 3.8px,#480b6a 4.2px,#4c0c6b 5.8px,#4b0c6b 6.2px,#771c6d 8.8px,#87216b 9.8px,#912568 10.2px,#c03a51 11.8px,#e35833 12.8px,#f2731d 13.2px,#fa9307 13.8px,#fbbc21 14.2px,#f2f484 14.8px,#fafda0 15.2px,#fcffa4 17.2px,#f6d543 17.8px,#fcab10 18.2px,#fb9906 18.8px,#fb9706 19.2px,#fa8f09 19.8px,#f68112 20.2px,#e65d2f 23.2px,#d44842 24.8px,#c33b4f 25.8px,#c23b50 26.2px,#b0315b 27.8px,#9b2964 30.8px,#922567 31.8px,#8c2369 33.8px,#902568 34.2px,#8e2469 34.8px,#84206b 35.2px,#811f6c 36.8px,#7b1d6d 37.8px,#7c1d6d 38.8px,#741a6e 39.2px,#731a6e 40.8px,#771c6d 41.2px,#751b6e 42.8px,#7c1d6d 43.2px,#7b1d6d 43.8px,#731a6e 44.2px,#6a176e 46.8px,#6e196e 47.2px,#6d186e 47.8px,#62146e 48.2px,#62146e 49.8px)}.g119{background:linear-gradient(#4b0c6b 0.2px,#4b0c6b 1.8px,#540f6d 2.2px,#470b6a 4.8px,#450a69 6.2px,#68166e 8.2px,#721a6e 8.8px,#741b6e 9.2px,#7e1e6c 9.8px,#b0315b 11.2px,#d14644 12.2px,#e15635 12.8px,#ee6c23 13.2px,#f98b0b 13.8px,#fbb61b 14.2px,#f1ec6e 14.8px,#fafda0 15.2px,#fcffa4 17.2px,#f5d949 17.8px,#fcab10 18.2px,#fb9806 18.8px,#f98a0b 19.8px,#f47a17 20.8px,#ee6a24 21.2px,#eb6529 21.8px,#ee6a24 22.2px,#e15734 23.8px,#d74b3f 24.2px,#d04545 24.8px,#d04545 25.2px,#b53458 27.2px,#ab2f5e 28.8px,#a02a62 29.8px,#952667 32.8px,#8d2369 33.8px,#902468 34.2px,#89226a 35.8px,#821f6c 36.2px,#7d1e6c 38.8px,#781c6d 39.8px,#70196e 40.2px,#6d186e 41.8px,#721a6e 43.8px,#6b176e 44.2px,#68166e 45.8px,#61146e 46.8px,#6d186e 47.2px,#66156e 48.8px,#6f196e 49.2px,#6f196e 49.8px)}.g120{background:linear-gradient(#540f6d 0.2px,#540f6d 0.8px,#4b0c6b 1.2px,#4d0c6b 1.8px,#540f6d 2.2px,#4b0c6b 3.8px,#500e6c 4.2px,#4b0c6b 5.8px,#4c0c6b 6.2px,#711a6e 8.8px,#8f2468 10.2px,#9e2a63 10.8px,#b43359 11.2px,#d24644 12.2px,#ed6a25 13.2px,#f8880d 13.8px,#fcad11 14.2px,#f4e054 14.8px,#fbfea3 15.2px,#fcffa4 17.2px,#f1ee73 17.8px,#fbba1f 18.2px,#fca50b 18.8px,#fa9108 19.2px,#ee6b23 21.8px,#e75e2e 23.2px,#d44842 24.8px,#b43359 27.8px,#ab2f5d 28.2px,#9f2a63 30.8px,#962766 31.2px,#932667 31.8px,#982766 32.2px,#8a226a 34.8px,#82206c 35.8px,#87216b 36.2px,#85216b 37.8px,#791c6d 38.2px,#771c6d 38.8px,#7e1e6c 39.2px,#761b6d 40.8px,#711a6e 44.8px,#6c186e 45.8px,#6a176e 47.8px,#66156e 48.8px,#65156e 49.8px)}.g121{background:linear-gradient(#4e0d6c 0.2px,#4c0c6b 1.8px,#550f6d 2.2px,#4e0d6c 3.8px,#470b6a 4.2px,#440a69 6.2px,#4a0c6b 6.8px,#5f136e 7.8px,#83206b 9.8px,#9e2964 10.8px,#be3853 11.8px,#c9404b 12.2px,#e75e2e 13.2px,#f47919 13.8px,#fca208 14.2px,#f8d03b 14.8px,#fcfea3 15.2px,#fcffa4 17.2px,#f2f482 17.8px,#fac228 18.2px,#fcac10 18.8px,#fb9806 19.2px,#f98e09 19.8px,#f68013 20.2px,#f37819 20.8px,#f1711f 21.8px,#eb6528 22.8px,#ea632a 23.2px,#e55c30 23.8px,#d94d3d 24.2px,#b53458 27.2px,#a52d60 29.8px,#992865 30.2px,#962766 30.8px,#992865 31.2px,#962766 31.8px,#9b2865 32.2px,#89226a 34.8px,#7a1d6d 38.8px,#761b6e 40.8px,#70196e 41.8px,#751b6e 42.2px,#6e186e 45.8px,#68166e 46.8px,#69176e 47.8px,#63146e 48.8px,#68166e 49.2px,#68166e 49.8px)}.g122{background:linear-gradient(#4c0c6b 0.2px,#4d0c6c 1.8px,#470b6a 2.2px,#4c0c6b 3.2px,#490b6a 4.8px,#3f0966 5.2px,#410a67 6.2px,#450a69 6.8px,#560f6d 7.2px,#70196e 8.8px,#731a6e 9.2px,#932667 10.8px,#b0315b 11.8px,#ca404a 12.2px,#da4e3c 12.8px,#e35932 13.2px,#f1701f 13.8px,#fa9108 14.2px,#fbbd23 14.8px,#f8fc9b 15.2px,#fcffa4 15.8px,#f8fc9b 16.2px,#f7fb99 17.2px,#f6f994 17.8px,#fac128 18.2px,#fcaa0f 18.8px,#fb9d06 19.2px,#fa9108 19.8px,#f78212 20.8px,#f1711f 21.2px,#e25734 23.8px,#bb3755 26.8px,#a52c60 29.8px,#a22b62 30.8px,#972766 31.2px,#952667 31.8px,#972766 32.2px,#88226a 34.8px,#89226a 35.8px,#811f6c 36.8px,#7e1e6c 38.8px,#751b6e 39.2px,#741a6e 39.8px,#7e1e6c 40.2px,#7d1e6d 40.8px,#721a6e 41.2px,#721a6e 42.8px,#68166e 43.2px,#67166e 43.8px,#71196e 44.2px,#6a176e 48.2px,#69176e 48.8px,#62146e 49.2px,#62146e 49.8px)}.g123{background:linear-gradient(#480b6a 0.2px,#480b6a 0.8px,#4f0d6c 1.2px,#510e6c 2.8px,#4a0b6b 3.2px,#440a69 5.8px,#4b0c6b 6.2px,#4c0c6b 6.8px,#5b116e 7.8px,#5e136e 8.2px,#67166e 8.8px,#771c6d 9.2px,#992865 11.2px,#a92e5e 11.8px,#c43c4f 12.2px,#e25734 13.2px,#ee6b23 13.8px,#fa9207 14.2px,#fbbd22 14.8px,#f1ed70 15.2px,#fcffa4 15.8px,#f8fb9a 16.2px,#f8fb9a 16.8px,#fcffa4 17.2px,#fcffa4 17.8px,#f8cd37 18.2px,#fcb115 18.8px,#fb9a06 19.2px,#f98d09 19.8px,#ee6a24 21.8px,#e75f2d 22.8px,#e35933 23.8px,#d04546 25.2px,#b0315b 27.8px,#962766 31.8px,#8f2469 33.8px,#88226a 34.8px,#87216b 35.8px,#8c2369 36.2px,#801f6c 38.8px,#791c6d 39.8px,#7a1d6d 40.8px,#711a6e 41.2px,#70196e 41.8px,#761b6e 42.2px,#761b6e 43.8px,#6f196e 44.2px,#69176e 45.8px,#6b176e 46.8px,#65156e 49.8px)}.g124{background:linear-gradient(#4f0d6c 0.2px,#4f0d6c 1.8px,#470b6a 2.2px,#470b6a 4.2px,#420a68 5.8px,#3d0965 6.8px,#520e6d 7.8px,#60136e 8.8px,#731a6e 9.8px,#8c2369 10.8px,#a82e5f 11.8px,#d94d3d 13.2px,#e65e2e 13.8px,#f57c16 14.2px,#fca108 14.8px,#f5d949 15.2px,#fafda0 15.8px,#fcffa4 16.8px,#f8fc9c 17.2px,#f8fc9c 17.8px,#f5da4a 18.2px,#fcab0f 18.8px,#fb9d07 19.2px,#fa8f08 19.8px,#f57b17 20.8px,#ed6a24 21.2px,#e9612b 21.8px,#e55b30 22.8px,#e75e2e 23.2px,#e45a31 23.8px,#d54941 24.8px,#bb3755 26.8px,#b0315b 27.2px,#ab2f5e 27.8px,#af315c 28.2px,#8f2468 31.8px,#942667 32.2px,#8d2369 33.8px,#84206b 34.8px,#88226a 35.2px,#82206c 36.8px,#7a1d6d 37.2px,#70196e 39.8px,#741b6e 41.8px,#6c186e 42.2px,#6b176e 44.2px,#6b176e 45.8px,#65156e 46.2px,#64156e 46.8px,#6b176e 47.2px,#5f136e 49.8px)}.g125{background:linear-gradient(#500d6c 0.2px,#490b6a 3.8px,#420a68 5.8px,#460b69 6.8px,#440a68 7.2px,#4d0d6c 7.8px,#5d126e 8.2px,#86216b 10.2px,#9f2a63 11.2px,#af315c 11.8px,#b73557 12.2px,#d84c3e 13.2px,#e55c30 13.8px,#f3761a 14.2px,#fb9a06 14.8px,#f9cb34 15.2px,#fcffa4 15.8px,#fcffa4 16.8px,#fafda0 17.8px,#f2f380 18.2px,#fcb115 18.8px,#fcac11 19.2px,#fb9e07 19.8px,#f8880d 20.2px,#f67f14 20.8px,#f57c16 21.2px,#ec6727 22.2px,#e25734 24.2px,#cb414a 25.8px,#af315b 28.8px,#a32b61 29.2px,#a02a63 29.8px,#a52c60 30.2px,#952667 32.8px,#942667 33.8px,#8f2468 34.8px,#88226a 35.2px,#86216b 35.8px,#89226a 36.2px,#771c6d 39.8px,#781c6d 40.8px,#751b6e 41.8px,#6d186e 42.2px,#6d186e 43.8px,#721a6e 44.2px,#64156e 49.8px)}.g126{background:linear-gradient(#4d0c6c 0.2px,#4c0c6b 2.8px,#470b6a 3.8px,#4d0c6b 4.2px,#4b0c6b 4.8px,#400a67 5.2px,#3f0a66 5.8px,#480b6a 6.2px,#450a69 7.2px,#5d126e 8.8px,#751b6e 9.8px,#932567 11.2px,#c43c4f 12.8px,#e15635 13.8px,#ee6c23 14.2px,#f98d0a 14.8px,#fcb318 15.2px,#f1ed71 15.8px,#f7fa96 16.2px,#f7fa96 16.8px,#f9fc9d 17.2px,#f9fc9d 17.8px,#fcffa4 18.2px,#fbba1f 18.8px,#fca80d 19.2px,#fb9a06 19.8px,#f8850f 20.8px,#f06f20 21.8px,#e15734 24.2px,#cd4348 25.8px,#c13a51 26.2px,#b2325a 27.8px,#b33359 28.2px,#9e2a63 30.8px,#962766 32.8px,#8e2469 33.8px,#8e2469 34.8px,#87216a 35.8px,#85216b 36.8px,#7b1d6d 37.2px,#7a1d6d 37.8px,#801f6c 38.2px,#801f6c 39.8px,#7c1d6d 40.8px,#7d1e6d 41.8px,#721a6e 42.2px,#731a6e 43.8px,#6a176e 44.2px,#67166e 45.8px,#61146e 46.8px,#62146e 47.8px,#67166e 48.2px,#65156e 49.8px)}.g127{background:linear-gradient(#4d0c6c 0.2px,#490b6a 1.8px,#4b0c6b 2.8px,#450a69 5.2px,#430a68 7.2px,#63146e 9.2px,#8e2469 11.2px,#b0315b 12.2px,#cd4248 13.2px,#db4f3b 13.8px,#e35932 14.2px,#f2751c 14.8px,#fca60b 15.2px,#f4df53 15.8px,#fbfea1 16.2px,#fbfea1 16.8px,#f6f993 17.2px,#f6f993 17.8px,#fafda1 18.2px,#f6d644 18.8px,#fca80d 19.2px,#fb9906 19.8px,#fa9307 20.2px,#f8890d 20.8px,#f2751c 21.2px,#ee6b23 21.8px,#e55b30 24.2px,#df5337 24.8px,#d14644 25.2px,#c93f4b 25.8px,#c23b50 26.8px,#b33359 27.8px,#9a2865 30.8px,#9d2964 31.2px,#8f2468 33.8px,#88226a 34.2px,#87216b 34.8px,#88226a 35.8px,#7b1d6d 38.2px,#7b1d6d 40.8px,#71196e 41.2px,#6b176e 42.8px,#6c186e 43.8px,#65156e 44.8px,#711a6e 45.2px,#70196e 45.8px,#6a176e 46.2px,#63146e 47.8px,#67166e 49.8px)}.g128{background:linear-gradient(#4c0c6b 0.2px,#510e6c 1.8px,#480b6a 3.8px,#430a68 6.8px,#480b6a 7.8px,#721a6e 9.8px,#771c6d 10.2px,#902568 11.2px,#a52d60 12.2px,#b53458 12.8px,#c93f4b 13.2px,#e45b31 14.2px,#f1721e 14.8px,#fa9207 15.2px,#fac52c 15.8px,#fafda0 16.2px,#fcfea4 17.2px,#fcffa4 18.2px,#f6f994 18.8px,#fcac10 19.2px,#fb9d07 19.8px,#fa9207 20.2px,#eb6528 22.2px,#e8602d 22.8px,#e65d2f 23.8px,#d64a40 25.2px,#bd3853 26.8px,#c13a51 27.2px,#ab2f5d 29.2px,#9d2964 31.8px,#9c2964 32.8px,#902568 34.2px,#8e2469 34.8px,#8f2468 35.8px,#87216b 36.2px,#85216b 36.8px,#7e1e6c 37.2px,#7d1e6d 38.8px,#761b6e 39.8px,#7a1d6d 40.2px,#721a6e 41.8px,#6e186e 43.8px,#6f196e 44.8px,#68166e 45.8px,#6d186e 46.2px,#6c186e 46.8px,#61146e 47.2px,#60136e 47.8px,#66166e 48.2px,#67166e 49.8px)}.g129{background:linear-gradient(#490b6a 0.2px,#4e0d6c 1.8px,#400a67 5.8px,#450a69 6.2px,#460b69 7.8px,#70196e 9.8px,#932667 11.8px,#aa2e5e 12.2px,#d74b3f 13.8px,#e05536 14.2px,#eb6528 14.8px,#f8860f 15.2px,#fcb318 15.8px,#f1ef76 16.2px,#fcffa4 16.8px,#fafd9f 17.2px,#f9fc9c 18.8px,#fbbd23 19.2px,#fca60b 19.8px,#fb9906 20.2px,#f98e09 20.8px,#ec6627 22.2px,#e75e2e 22.8px,#e65d2f 23.8px,#e05436 24.2px,#db4f3c 25.2px,#c03a51 26.8px,#c13a51 27.2px,#b53458 28.8px,#a92e5f 29.2px,#9b2964 31.8px,#88226a 34.8px,#8d2369 35.2px,#8b236a 35.8px,#8f2469 36.2px,#8d2369 36.8px,#811f6c 37.2px,#7d1e6d 38.8px,#771c6d 39.8px,#7a1d6d 41.2px,#741a6e 43.8px,#6e186e 44.8px,#6d186e 45.8px,#66166e 46.2px,#65156e 46.8px,#6c186e 47.2px,#6b176e 47.8px,#62146e 48.2px,#60136e 48.8px,#6a176e 49.2px,#69176e 49.8px)}.g130{background:linear-gradient(#470b6a 0.2px,#470b6a 0.8px,#4e0d6c 1.2px,#4e0d6c 2.8px,#450a69 3.2px,#420a68 5.8px,#460b6a 6.2px,#400a67 7.8px,#450a69 8.2px,#63146e 9.8px,#761b6e 10.2px,#902568 11.8px,#b33359 12.8px,#db4f3b 14.2px,#e75e2e 14.8px,#f57c16 15.2px,#fca209 15.8px,#f6d643 16.2px,#fcffa4 16.8px,#fcffa4 18.8px,#f4df53 19.2px,#fca108 19.8px,#fb9706 20.2px,#f68013 21.2px,#f2751c 21.8px,#f1711f 22.2px,#ec6727 22.8px,#e45a31 24.8px,#d44842 25.8px,#bd3853 27.2px,#b43359 28.8px,#a02a63 30.8px,#a42c61 31.2px,#982766 32.8px,#8f2468 33.2px,#8a236a 34.8px,#8e2469 35.2px,#7a1d6d 38.8px,#7e1e6c 39.2px,#7c1e6d 39.8px,#751b6e 40.2px,#741a6e 40.8px,#791c6d 41.2px,#6a176e 45.8px,#6d186e 46.8px,#68166e 48.8px,#61146e 49.8px)}.g131{background:linear-gradient(#460b69 0.2px,#470b6a 5.8px,#400a67 6.2px,#400a67 7.8px,#500e6c 8.8px,#530f6d 9.2px,#5e126e 9.8px,#6d186e 10.2px,#972766 12.2px,#c93f4b 13.8px,#e35932 14.8px,#eb6528 15.2px,#f8860e 15.8px,#fbb81d 16.2px,#f2f27c 16.8px,#fcffa4 17.2px,#fcffa4 17.8px,#f9fc9d 18.2px,#f9fc9d 18.8px,#f3f68a 19.2px,#fca008 19.8px,#fca60b 20.2px,#fb9906 20.8px,#f8870e 21.2px,#ed6925 22.8px,#e8602d 23.8px,#e55c30 24.8px,#ca404a 26.8px,#be3853 27.2px,#b0315b 28.8px,#ab2f5e 29.8px,#a02b62 30.2px,#9e2a64 30.8px,#a12b62 31.2px,#952667 32.8px,#9a2865 33.2px,#972766 33.8px,#8c2369 34.2px,#87216b 36.8px,#801f6c 37.8px,#6f196e 43.8px,#71196e 44.8px,#69176e 46.8px,#6e196e 47.2px,#67166e 48.8px,#67166e 49.8px)}.g132{background:linear-gradient(#08061e 0.2px,#08061e 0.8px,#120a32 1.2px,#120a32 1.8px,#040314 2.2px,#040314 2.8px,#550f6d 3.2px,#550f6d 3.8px,#180c3c 4.2px,#180c3c 4.8px,#010006 5.2px,#010006 5.8px,#340a5f 6.2px,#340a5f 6.8px,#4c0c6b 7.2px,#4c0c6b 7.8px,#010006 8.2px,#010006 8.8px,#200c48 9.2px,#200c48 9.8px,#450b69 10.2px,#450b69 10.8px,#000004 11.2px,#000004 11.8px,#050418 12.2px,#050418 12.8px,#60136e 13.2px,#60136e 13.8px,#050417 14.2px,#040314 15.8px,#07051b 16.2px,#07051b 16.8px,#040313 17.2px,#040315 18.8px,#2f0a5b 19.2px,#2f0a5b 19.8px,#000004 20.2px,#000004 20.8px,#66156e 21.2px,#66156e 21.8px,#270b52 22.2px,#270b52 22.8px,#040415 23.2px,#040415 23.8px,#0a0722 24.2px,#0a0722 24.8px,#952667 25.2px,#952667 25.8px,#02010b 26.2px,#02010b 26.8px,#4b0c6b 27.2px,#4b0c6b 27.8px,#02020c 28.2px,#02020c 28.8px,#ac305d 29.2px,#ac305d 29.8px,#03020e 30.2px,#03020e 30.8px,#1d0c44 31.2px,#1d0c44 31.8px,#270b52 32.2px,#270b52 32.8px,#61146e 33.2px,#61146e 33.8px,#270b52 34.2px,#270b52 34.8px,#220c4c 35.2px,#220c4c 35.8px,#010005 36.2px,#010005 36.8px,#08061f 37.2px,#08061f 37.8px,#290b54 38.2px,#270b52 39.8px,#03020f 40.2px,#03020f 40.8px,#420a68 41.2px,#420a68 41.8px,#0e092a 42.2px,#0e092a 42.8px,#510e6c 43.2px,#510e6c 43.8px,#050418 44.2px,#050418 44.8px,#250c50 45.2px,#250c50 45.8px,#962766 46.2px,#962766 46.8px,#030210 47.2px,#030210 47.8px,#050416 48.2px,#050416 48.8px,#010107 49.2px,#010107 49.8px)}.g133{background:linear-gradient(#110a31 0.2px,#110a31 0.8px,#250c50 1.2px,#250c50 1.8px,#3c0964 2.2px,#3c0964 2.8px,#59116e 3.2px,#59116e 3.8px,#63146e 4.2px,#63146e 4.8px,#02020c 5.2px,#02020c 5.8px,#480b6a 6.2px,#480b6a 6.8px,#250c50 7.2px,#250c50 7.8px,#030312 8.2px,#030312 8.8px,#06051a 9.2px,#06051a 9.8px,#120a31 10.2px,#120a31 10.8px,#06051a 11.2px,#06051a 11.8px,#010004 12.2px,#010004 12.8px,#0f092c 13.2px,#0f092c 13.8px,#130b34 14.2px,#130b34 14.8px,#030210 15.2px,#030210 15.8px,#01010a 16.2px,#01010a 16.8px,#58106e 17.2px,#58106e 17.8px,#0f092c 18.2px,#0f092c 18.8px,#03020e 19.2px,#040312 20.8px,#2e0a5a 21.2px,#2b0b57 22.8px,#b33359 23.2px,#b33359 23.8px,#010106 24.2px,#010106 24.8px,#0b0724 25.2px,#0b0724 25.8px,#03020f 26.2px,#03020f 26.8px,#290b55 27.2px,#290b55 27.8px,#200c49 28.2px,#200c49 28.8px,#120a32 29.2px,#120a32 29.8px,#050416 30.2px,#050416 30.8px,#1c0c42 31.2px,#1c0c42 31.8px,#010106 32.2px,#010106 32.8px,#120a32 33.2px,#120a32 33.8px,#000004 34.2px,#000004 34.8px,#0b0724 35.2px,#0b0724 35.8px,#751b6e 36.2px,#751b6e 36.8px,#2a0b56 37.2px,#2d0b59 38.8px,#0c0826 39.2px,#0c0826 40.8px,#140b35 41.2px,#140b35 41.8px,#450a69 42.2px,#450a69 42.8px,#1a0c3f 43.2px,#1a0c3f 43.8px,#030210 44.2px,#030210 44.8px,#010109 45.2px,#010109 45.8px,#110a30 46.2px,#110a30 46.8px,#150b37 47.2px,#150b37 47.8px,#02020c 48.2px,#02020c 48.8px,#040313 49.2px,#040313 49.8px)}.g134{background:linear-gradient(#03020f 0.2px,#03020f 0.8px,#010005 1.2px,#010005 1.8px,#2e0a5a 2.2px,#2e0a5a 2.8px,#030312 3.2px,#030312 3.8px,#110a30 4.2px,#110a30 4.8px,#370961 5.2px,#370961 5.8px,#0e092b 6.2px,#0e092b 6.8px,#4f0d6c 7.2px,#4f0d6c 7.8px,#030312 8.2px,#02020d 9.8px,#240c4e 10.2px,#240c4e 10.8px,#a82e5f 11.2px,#a82e5f 11.8px,#1f0c47 12.2px,#1f0c47 12.8px,#040313 13.2px,#040313 13.8px,#db4f3b 14.2px,#db4f3b 14.8px,#440a69 15.2px,#440a69 15.8px,#140b35 16.2px,#130a33 17.8px,#050418 18.2px,#050418 18.8px,#000004 19.2px,#010108 20.8px,#010005 21.8px,#100a2f 22.2px,#100a2f 22.8px,#290b54 23.2px,#290b54 23.8px,#02010b 24.2px,#02010b 24.8px,#1a0c40 25.2px,#1a0c3f 26.8px,#c93f4b 27.2px,#c93f4b 27.8px,#010109 28.2px,#010109 28.8px,#000004 29.2px,#000004 29.8px,#07051b 30.2px,#07051b 30.8px,#470b6a 31.2px,#470b6a 31.8px,#03020f 32.2px,#03020f 32.8px,#040314 33.2px,#040314 33.8px,#0f092d 34.2px,#0f092d 34.8px,#0a0722 35.2px,#0a0722 35.8px,#1a0c40 36.2px,#1a0c40 36.8px,#040315 37.2px,#040315 37.8px,#000004 38.2px,#000004 38.8px,#08061e 39.2px,#08061e 39.8px,#6d186e 40.2px,#6d186e 40.8px,#040315 41.2px,#040315 41.8px,#330a5e 42.2px,#330a5e 42.8px,#040315 43.2px,#040315 43.8px,#2e0a5a 44.2px,#2e0a5a 44.8px,#040315 45.2px,#040315 45.8px,#02020d 46.2px,#02020d 46.8px,#0c0827 47.2px,#0c0826 48.8px,#030210 49.2px,#030210 49.8px)}.g135{background:linear-gradient(#040314 0.2px,#040314 0.8px,#1f0c47 1.2px,#1f0c47 1.8px,#050417 2.2px,#050417 2.8px,#721a6e 3.2px,#721a6e 3.8px,#7d1e6d 4.2px,#7d1e6d 4.8px,#090721 5.2px,#090721 5.8px,#02010a 6.2px,#02010a 6.8px,#060419 7.2px,#060419 7.8px,#010108 8.2px,#010108 9.8px,#040313 10.2px,#040313 10.8px,#02010b 11.2px,#02010b 11.8px,#08061e 12.2px,#08061e 12.8px,#02020e 13.2px,#02020e 13.8px,#4d0d6c 14.2px,#4d0d6c 14.8px,#010006 15.2px,#02010a 17.8px,#340a5f 18.2px,#340a5f 18.8px,#6e196e 19.2px,#6e196e 19.8px,#8a226a 20.2px,#8a226a 20.8px,#390963 21.2px,#390963 21.8px,#a32b61 22.2px,#a32b61 22.8px,#290b55 23.2px,#290b55 23.8px,#040313 24.2px,#040313 24.8px,#090621 25.2px,#090620 26.8px,#440a68 27.2px,#440a68 27.8px,#050415 28.2px,#050415 28.8px,#000004 29.2px,#000004 29.8px,#030210 30.2px,#030210 30.8px,#992865 31.2px,#992865 31.8px,#010106 32.2px,#010106 32.8px,#2f0a5b 33.2px,#2f0a5b 33.8px,#6e186e 34.2px,#6e186e 34.8px,#08061e 35.2px,#08061e 35.8px,#300a5c 36.2px,#2e0a59 37.8px,#0e0829 38.2px,#0e0829 38.8px,#040415 39.2px,#050416 40.8px,#0b0725 41.2px,#0b0725 41.8px,#000004 42.2px,#000004 43.8px,#180c3d 44.2px,#180c3d 44.8px,#310a5c 45.2px,#310a5c 45.8px,#811f6c 46.2px,#811f6c 46.8px,#050417 47.2px,#050417 47.8px,#1c0c42 48.2px,#1c0c42 48.8px,#060419 49.2px,#060419 49.8px)}.g136{background:linear-gradient(#050418 0.2px,#050416 1.8px,#300a5c 2.2px,#300a5c 2.8px,#1f0c47 3.2px,#1f0c47 3.8px,#02020d 4.2px,#02020d 4.8px,#59116e 5.2px,#59116e 5.8px,#240c4e 6.2px,#240c4e 6.8px,#040314 7.2px,#040314 7.8px,#1d0c44 8.2px,#1d0c44 8.8px,#110a2f 9.2px,#110a2f 9.8px,#030210 10.2px,#030210 10.8px,#500d6c 11.2px,#500d6c 11.8px,#250c50 12.2px,#250c50 12.8px,#060419 13.2px,#060419 13.8px,#67166e 14.2px,#67166e 14.8px,#130b34 15.2px,#130b34 15.8px,#010109 16.2px,#010109 16.8px,#07051c 17.2px,#07051c 17.8px,#010005 18.2px,#010005 18.8px,#0b0724 19.2px,#0b0724 19.8px,#060419 20.2px,#030312 22.8px,#3f0966 23.2px,#3f0966 23.8px,#040315 24.2px,#040314 25.8px,#9a2865 26.2px,#9a2865 26.8px,#040314 27.2px,#040314 27.8px,#540f6d 28.2px,#540f6d 28.8px,#350a60 29.2px,#350a60 29.8px,#0b0724 30.2px,#0d0828 31.8px,#030311 32.2px,#030311 32.8px,#08061e 33.2px,#08061e 33.8px,#190c3d 34.2px,#190c3d 34.8px,#220c4c 35.2px,#220c4c 35.8px,#150b38 36.2px,#150b38 36.8px,#07051c 37.2px,#07051c 37.8px,#030311 38.2px,#030311 38.8px,#090620 39.2px,#090620 39.8px,#bf3952 40.2px,#bf3952 40.8px,#2f0a5b 41.2px,#2f0a5b 41.8px,#010107 42.2px,#010107 42.8px,#1d0c44 43.2px,#1d0c44 43.8px,#040313 44.2px,#03020f 45.8px,#130a33 46.2px,#130a33 46.8px,#1e0c45 47.2px,#1e0c45 47.8px,#090721 48.2px,#090721 48.8px,#180c3c 49.2px,#180c3c 49.8px)}.g137{background:linear-gradient(#010109 0.2px,#010109 0.8px,#0f092c 1.2px,#0f092c 1.8px,#190c3e 2.2px,#190c3e 2.8px,#010108 3.2px,#010108 3.8px,#4c0c6b 4.2px,#4c0c6b 4.8px,#791c6d 5.2px,#791c6d 5.8px,#440a69 6.2px,#440a69 6.8px,#1d0c44 7.2px,#1d0c44 7.8px,#010107 8.2px,#010107 9.8px,#060419 10.2px,#060419 10.8px,#040313 11.2px,#040313 11.8px,#490b6a 12.2px,#4a0c6b 13.8px,#0f092d 14.2px,#0f092d 14.8px,#58106e 15.2px,#58106e 15.8px,#0c0827 16.2px,#0c0827 16.8px,#540f6d 17.2px,#540f6d 17.8px,#040313 18.2px,#040313 18.8px,#150b38 19.2px,#150b38 19.8px,#0b0724 20.2px,#0b0724 20.8px,#000004 21.2px,#000004 21.8px,#4f0d6c 22.2px,#4f0d6c 22.8px,#110a2f 23.2px,#110a2f 23.8px,#4c0c6b 24.2px,#4c0c6b 24.8px,#030210 25.2px,#02020c 26.8px,#030210 27.8px,#180c3b 28.2px,#180c3b 28.8px,#040315 29.2px,#040315 29.8px,#460b69 30.2px,#460b69 30.8px,#040315 31.2px,#040315 31.8px,#06051a 32.2px,#06051a 32.8px,#090721 33.2px,#090721 33.8px,#010109 34.2px,#010109 34.8px,#7c1d6d 35.2px,#7c1d6d 35.8px,#1d0c44 36.2px,#1d0c44 36.8px,#02020d 37.2px,#02020d 37.8px,#0a0723 38.2px,#0a0723 38.8px,#300a5c 39.2px,#300a5c 39.8px,#030311 40.2px,#030211 41.8px,#0a0723 42.2px,#0a0723 42.8px,#100a2f 43.2px,#100a2f 43.8px,#9b2865 44.2px,#9b2865 44.8px,#500d6c 45.2px,#500d6c 45.8px,#060419 46.2px,#060418 47.8px,#150b36 48.2px,#150b36 48.8px,#08061e 49.2px,#08061e 49.8px)}.g138{background:linear-gradient(#050415 0.2px,#050415 0.8px,#010106 1.2px,#010106 1.8px,#3c0965 2.2px,#3c0965 2.8px,#0a0723 3.2px,#090620 4.8px,#540f6d 5.2px,#540f6d 5.8px,#3b0964 6.2px,#3b0964 6.8px,#0b0724 7.2px,#0b0724 7.8px,#050417 8.2px,#050417 8.8px,#02010a 9.2px,#02010a 9.8px,#450a69 10.2px,#450a69 10.8px,#06051a 11.2px,#06051a 11.8px,#02010b 12.2px,#02010b 12.8px,#0c0827 13.2px,#0c0827 13.8px,#040315 14.2px,#040315 15.8px,#3b0964 16.2px,#3b0964 16.8px,#07051b 17.2px,#07051b 17.8px,#02020c 18.2px,#02020c 18.8px,#170b3b 19.2px,#170b3b 19.8px,#08061e 20.2px,#08061e 20.8px,#03020f 21.2px,#040313 22.8px,#350a60 23.2px,#350a60 23.8px,#190c3f 24.2px,#190c3f 24.8px,#030311 25.2px,#030311 25.8px,#5c126e 26.2px,#5c126e 26.8px,#030312 27.2px,#030312 27.8px,#500d6c 28.2px,#500d6c 28.8px,#1e0c46 29.2px,#1e0c46 29.8px,#040314 30.2px,#030211 32.8px,#160b38 33.2px,#160b38 33.8px,#010106 34.2px,#010106 34.8px,#050417 35.2px,#050417 35.8px,#8f2468 36.2px,#8f2468 36.8px,#1a0c40 37.2px,#1a0c40 37.8px,#08061e 38.2px,#08061e 38.8px,#210c4a 39.2px,#210c4a 39.8px,#08061d 40.2px,#08061d 40.8px,#0b0724 41.2px,#0b0724 41.8px,#07051b 42.2px,#050417 43.8px,#210c4a 44.2px,#210c4a 44.8px,#07051b 45.2px,#07051b 45.8px,#010107 46.2px,#010107 46.8px,#340a5f 47.2px,#340a5f 47.8px,#07051d 48.2px,#07051c 49.8px)}.g139{background:linear-gradient(#030312 0.2px,#030312 0.8px,#120a31 1.2px,#130b34 2.8px,#160b39 3.8px,#2e0a59 4.2px,#2e0a59 4.8px,#07051d 5.2px,#07051d 5.8px,#010005 6.2px,#010005 6.8px,#4a0c6b 7.2px,#4a0c6b 7.8px,#040315 8.2px,#040315 8.8px,#210c4a 9.2px,#210c4a 9.8px,#030210 10.2px,#030210 10.8px,#0a0723 11.2px,#0c0826 12.8px,#010106 13.2px,#010106 13.8px,#08061e 14.2px,#06051a 15.8px,#290b54 16.2px,#290b54 17.8px,#030210 18.2px,#02020d 19.8px,#140b36 20.2px,#140b36 20.8px,#fac42c 21.2px,#fac42c 21.8px,#060419 22.2px,#060419 22.8px,#010107 23.2px,#010107 23.8px,#0b0724 24.2px,#0b0724 24.8px,#08061e 25.2px,#08061e 25.8px,#050416 26.2px,#050416 26.8px,#7b1d6d 27.2px,#7b1d6d 27.8px,#02020c 28.2px,#02020c 28.8px,#07051b 29.2px,#07051b 29.8px,#02020d 30.2px,#02020d 30.8px,#010106 31.2px,#010109 32.8px,#0b0725 33.2px,#0a0723 34.8px,#7f1f6c 35.2px,#7f1f6c 35.8px,#a62d60 36.2px,#a62d60 36.8px,#4b0c6b 37.2px,#4b0c6b 37.8px,#02020c 38.2px,#02020c 38.8px,#07051d 39.2px,#07051d 39.8px,#02020c 40.2px,#02020c 40.8px,#280b53 41.2px,#280b53 41.8px,#03020f 42.2px,#03020f 42.8px,#410a67 43.2px,#410a67 43.8px,#0c0826 44.2px,#0c0826 44.8px,#150b37 45.2px,#150b37 45.8px,#2a0b55 46.2px,#2a0b55 46.8px,#010109 47.2px,#010109 47.8px,#07051c 48.2px,#07051c 48.8px,#03020f 49.2px,#03020f 49.8px)}.g140{background:linear-gradient(#0a0722 0.2px,#0a0722 0.8px,#010108 1.2px,#010108 1.8px,#090620 2.2px,#090620 2.8px,#030311 3.2px,#050416 4.8px,#f3761a 5.2px,#f3761a 5.8px,#03020f 6.2px,#03020f 6.8px,#2e0a5a 7.2px,#2e0a5a 7.8px,#030312 8.2px,#030312 8.8px,#06051a 9.2px,#06051a 9.8px,#010005 10.2px,#010005 10.8px,#87216b 11.2px,#87216b 11.8px,#06051a 12.2px,#07051b 13.8px,#030311 14.2px,#030311 14.8px,#000004 15.2px,#000004 15.8px,#0d0828 16.2px,#0d0828 16.8px,#340a5f 17.2px,#340a5f 17.8px,#040314 18.2px,#030311 19.8px,#260c51 20.2px,#260c51 20.8px,#030311 21.2px,#030311 21.8px,#63146e 22.2px,#63146e 22.8px,#de5338 23.2px,#de5338 23.8px,#140b36 24.2px,#140b36 24.8px,#3b0964 25.2px,#3b0964 25.8px,#010005 26.2px,#010005 26.8px,#220c4b 27.2px,#220c4b 27.8px,#000004 28.2px,#000004 28.8px,#010109 29.2px,#010109 29.8px,#1a0c3f 30.2px,#1c0c42 31.8px,#67166e 32.2px,#67166e 32.8px,#040313 33.2px,#040313 33.8px,#400a67 34.2px,#400a67 34.8px,#08061f 35.2px,#08061f 35.8px,#000004 36.2px,#000004 36.8px,#030210 37.2px,#030210 37.8px,#050417 38.2px,#050417 38.8px,#140b35 39.2px,#140b35 39.8px,#030210 40.2px,#030210 40.8px,#0b0725 41.2px,#0b0725 41.8px,#d24644 42.2px,#d24644 42.8px,#350960 43.2px,#350960 43.8px,#220c4b 44.2px,#220c4b 44.8px,#360961 45.2px,#360961 45.8px,#02010b 46.2px,#02010a 47.8px,#160b3a 48.2px,#160b3a 48.8px,#0b0725 49.2px,#0b0725 49.8px)}.g141{background:linear-gradient(#170c3b 0.2px,#170c3b 0.8px,#10092e 1.2px,#10092e 1.8px,#7a1d6d 2.2px,#7a1d6d 2.8px,#560f6d 3.2px,#560f6d 3.8px,#110a31 4.2px,#110a31 4.8px,#0a0723 5.2px,#0a0723 5.8px,#430a68 6.2px,#430a68 6.8px,#721a6e 7.2px,#721a6e 7.8px,#1b0c42 8.2px,#1b0c42 8.8px,#62146e 9.2px,#62146e 9.8px,#110a30 10.2px,#110a30 10.8px,#912568 11.2px,#912568 11.8px,#0c0827 12.2px,#0c0827 12.8px,#320a5d 13.2px,#320a5d 13.8px,#000004 14.2px,#000004 15.8px,#1b0c41 16.2px,#1b0c41 16.8px,#07051c 17.2px,#07051c 17.8px,#60136e 18.2px,#60136e 18.8px,#1e0c45 19.2px,#1e0c45 19.8px,#300a5c 20.2px,#300a5c 20.8px,#0b0725 21.2px,#0b0725 21.8px,#110a30 22.2px,#110a30 22.8px,#030210 23.2px,#030210 23.8px,#08061f 24.2px,#08061f 24.8px,#030210 25.2px,#030210 25.8px,#2a0b56 26.2px,#2a0b56 26.8px,#0f092d 27.2px,#0f092d 27.8px,#000004 28.2px,#000004 28.8px,#0d0829 29.2px,#0d0829 29.8px,#1a0c3f 30.2px,#1a0c3f 30.8px,#3c0965 31.2px,#3c0965 31.8px,#010107 32.2px,#010107 32.8px,#0f092b 33.2px,#0f092b 33.8px,#010005 34.2px,#010005 34.8px,#040314 35.2px,#040314 35.8px,#010106 36.2px,#010106 36.8px,#2c0b58 37.2px,#2c0b58 37.8px,#050416 38.2px,#050416 38.8px,#0e0829 39.2px,#0e0829 39.8px,#3e0965 40.2px,#3e0965 40.8px,#040415 41.2px,#040415 41.8px,#120a31 42.2px,#120a31 42.8px,#340a5f 43.2px,#340a5f 43.8px,#1d0c44 44.2px,#1d0c44 44.8px,#240c4f 45.2px,#240c4f 45.8px,#63146e 46.2px,#63146e 46.8px,#1f0c48 47.2px,#1f0c48 47.8px,#510e6c 48.2px,#510e6c 48.8px,#010109 49.2px,#010109 49.8px)}.g142{background:linear-gradient(#0b0725 0.2px,#0b0725 0.8px,#2e0a5a 1.2px,#2e0a5a 1.8px,#b73457 2.2px,#b73457 2.8px,#010107 3.2px,#010107 4.8px,#06051b 5.2px,#06051b 5.8px,#02010b 6.2px,#02010b 6.8px,#1a0c40 7.2px,#1a0c40 7.8px,#0c0826 8.2px,#0c0826 8.8px,#040313 9.2px,#040313 9.8px,#090620 10.2px,#090620 10.8px,#821f6c 11.2px,#821f6c 11.8px,#02010a 12.2px,#010005 14.8px,#050416 15.2px,#050416 15.8px,#110a30 16.2px,#110a30 16.8px,#06051a 17.2px,#06051a 17.8px,#02010a 18.2px,#02010a 18.8px,#8c2369 19.2px,#8c2369 19.8px,#0f092c 20.2px,#0f092c 20.8px,#02010b 21.2px,#02010b 21.8px,#120a31 22.2px,#120a31 22.8px,#050417 23.2px,#050417 23.8px,#64156e 24.2px,#64156e 24.8px,#1c0c42 25.2px,#1c0c42 25.8px,#07051c 26.2px,#07051c 26.8px,#040314 27.2px,#040314 27.8px,#07051b 28.2px,#07051b 28.8px,#030312 29.2px,#040312 30.8px,#0e092a 31.2px,#0e092a 31.8px,#1e0c45 32.2px,#1e0c45 32.8px,#56106d 33.2px,#56106d 33.8px,#1f0c48 34.2px,#1f0c48 34.8px,#02010b 35.2px,#02010b 35.8px,#170b3a 36.2px,#170b3a 36.8px,#030312 37.2px,#030312 37.8px,#010005 38.2px,#010005 38.8px,#07051b 39.2px,#07051b 39.8px,#0b0725 40.2px,#0b0725 40.8px,#040314 41.2px,#040314 41.8px,#02010a 42.2px,#02010a 42.8px,#140b36 43.2px,#140b36 43.8px,#02010b 44.2px,#03020f 45.8px,#420a68 46.2px,#420a68 46.8px,#1f0c47 47.2px,#1f0c47 47.8px,#230c4d 48.2px,#230c4d 48.8px,#010108 49.2px,#010108 49.8px)}.g143{background:linear-gradient(#1b0c42 0.2px,#1a0c3f 1.8px,#58106e 2.2px,#58106e 2.8px,#040314 3.2px,#040314 4.8px,#010109 5.2px,#010109 5.8px,#2c0b57 6.2px,#2c0b57 6.8px,#220c4b 7.2px,#220c4b 7.8px,#0d0828 8.2px,#0d0828 8.8px,#08061f 9.2px,#08061f 9.8px,#050417 10.2px,#050417 10.8px,#0b0724 11.2px,#0b0724 11.8px,#110a2f 12.2px,#110a2f 12.8px,#040314 13.2px,#040312 14.8px,#060519 15.2px,#060519 15.8px,#100a2e 16.2px,#100a2e 16.8px,#07051b 17.2px,#07051b 17.8px,#290b55 18.2px,#290b55 18.8px,#030210 19.2px,#030210 19.8px,#010005 20.2px,#010005 20.8px,#110a2f 21.2px,#110a2f 21.8px,#7b1d6d 22.2px,#7b1d6d 22.8px,#0d0829 23.2px,#0d0829 23.8px,#4e0d6c 24.2px,#4e0d6c 24.8px,#0c0826 25.2px,#0c0826 25.8px,#250c4f 26.2px,#250c4f 26.8px,#030312 27.2px,#030312 27.8px,#02020d 28.2px,#02020d 28.8px,#010004 29.2px,#010109 30.8px,#63146e 31.2px,#63146e 31.8px,#040314 32.2px,#040314 32.8px,#150b38 33.2px,#150b38 33.8px,#2a0b56 34.2px,#280b54 35.8px,#010005 36.2px,#010005 36.8px,#460b69 37.2px,#460b69 37.8px,#370962 38.2px,#370962 38.8px,#150b37 39.2px,#150b37 39.8px,#57106e 40.2px,#57106e 40.8px,#03020e 41.2px,#03020e 41.8px,#170c3b 42.2px,#170c3b 42.8px,#120a32 43.2px,#120a32 43.8px,#08061e 44.2px,#08061e 44.8px,#300a5c 45.2px,#300a5c 45.8px,#050416 46.2px,#050416 46.8px,#280b53 47.2px,#280b53 47.8px,#050416 48.2px,#050416 48.8px,#120a32 49.2px,#120a32 49.8px)}.g144{background:linear-gradient(#02010a 0.2px,#02010a 0.8px,#a42c61 1.2px,#a42c61 1.8px,#f6d847 2.2px,#f6d847 2.8px,#4d0c6c 3.2px,#490b6b 4.8px,#230c4d 5.2px,#230c4d 5.8px,#130b34 6.2px,#130b34 6.8px,#bf3952 7.2px,#bf3952 7.8px,#2d0b58 8.2px,#2d0b58 8.8px,#060419 9.2px,#06051a 10.8px,#230c4d 11.2px,#230c4d 11.8px,#130b34 12.2px,#120a33 13.8px,#090621 14.2px,#090621 14.8px,#0f092d 15.2px,#0f092d 15.8px,#66156e 16.2px,#66156e 16.8px,#090621 17.2px,#090621 17.8px,#010004 18.2px,#010107 19.8px,#10092d 20.2px,#10092d 20.8px,#040415 21.2px,#040415 21.8px,#090621 22.2px,#09061f 23.8px,#040313 24.2px,#040313 24.8px,#2f0a5b 25.2px,#2f0a5b 25.8px,#1f0c48 26.2px,#1f0c48 26.8px,#010005 27.2px,#010005 27.8px,#390963 28.2px,#390963 28.8px,#000004 29.2px,#000004 29.8px,#160b39 30.2px,#160b39 30.8px,#040314 31.2px,#050416 32.8px,#2e0a59 33.2px,#2e0a59 33.8px,#59116e 34.2px,#59116e 34.8px,#050416 35.2px,#050416 35.8px,#090621 36.2px,#090621 36.8px,#03020f 37.2px,#03020f 37.8px,#340a5f 38.2px,#340a5f 38.8px,#010106 39.2px,#010109 40.8px,#02020e 41.8px,#150b36 42.2px,#150b36 42.8px,#1d0c44 43.2px,#1d0c44 43.8px,#2e0a5a 44.2px,#2e0a5a 44.8px,#000004 45.2px,#010005 46.8px,#030311 47.2px,#030311 47.8px,#010005 48.2px,#010005 48.8px,#060418 49.2px,#060418 49.8px)}.g145{background:linear-gradient(#060419 0.2px,#060419 0.8px,#0a0722 1.2px,#0a0722 1.8px,#02020d 2.2px,#02020d 2.8px,#010108 3.2px,#010108 3.8px,#1f0c48 4.2px,#1f0c48 4.8px,#02010a 5.2px,#02010a 5.8px,#420a68 6.2px,#420a68 6.8px,#040313 7.2px,#040313 7.8px,#02010b 8.2px,#02010b 8.8px,#2c0b58 9.2px,#2c0b58 9.8px,#160b38 10.2px,#160b38 10.8px,#9f2a63 11.2px,#9f2a63 11.8px,#0f092c 12.2px,#0f092c 12.8px,#02020d 13.2px,#02020d 13.8px,#010106 14.2px,#010107 15.8px,#7e1e6c 16.2px,#7e1e6c 16.8px,#0e092a 17.2px,#0e092a 17.8px,#330a5e 18.2px,#330a5e 18.8px,#1c0c42 19.2px,#1c0c42 19.8px,#0b0724 20.2px,#0b0724 20.8px,#1d0c45 21.2px,#1d0c45 21.8px,#64156e 22.2px,#64156e 22.8px,#0c0827 23.2px,#0c0827 23.8px,#040313 24.2px,#040313 24.8px,#270b52 25.2px,#270b52 25.8px,#010005 26.2px,#010005 26.8px,#200c49 27.2px,#200c49 27.8px,#540f6d 28.2px,#540f6d 28.8px,#03020f 29.2px,#03020f 29.8px,#0f092b 30.2px,#0f092b 30.8px,#040315 31.2px,#040315 31.8px,#2e0a5a 32.2px,#2e0a5a 32.8px,#560f6d 33.2px,#560f6d 33.8px,#150b36 34.2px,#150b36 34.8px,#06051a 35.2px,#07051c 36.8px,#160b39 37.2px,#160b39 37.8px,#040314 38.2px,#040314 38.8px,#02010a 39.2px,#010005 40.8px,#130a33 41.2px,#100a2f 42.8px,#010107 43.2px,#010107 43.8px,#150b37 44.2px,#150b37 44.8px,#230c4d 45.2px,#230c4d 45.8px,#180c3d 46.2px,#180c3d 46.8px,#040313 47.2px,#040313 47.8px,#000004 48.2px,#000004 48.8px,#290b54 49.2px,#290b54 49.8px)}.g146{background:linear-gradient(#010006 0.2px,#010006 0.8px,#440a69 1.2px,#440a69 1.8px,#010005 2.2px,#010005 2.8px,#02010c 3.2px,#02010c 3.8px,#100a2f 4.2px,#100a2f 4.8px,#040313 5.2px,#040313 5.8px,#000004 6.2px,#000004 6.8px,#100a2e 7.2px,#100a2e 7.8px,#84206b 8.2px,#84206b 8.8px,#050417 9.2px,#040312 10.8px,#2b0b56 11.2px,#2b0b56 11.8px,#030311 12.2px,#030311 12.8px,#10092e 13.2px,#10092e 13.8px,#370961 14.2px,#370961 14.8px,#791c6d 15.2px,#791c6d 15.8px,#120a31 16.2px,#120a31 16.8px,#050416 17.2px,#050416 17.8px,#010005 18.2px,#010005 18.8px,#1e0c45 19.2px,#1e0c45 19.8px,#040312 20.2px,#040312 20.8px,#6c186e 21.2px,#6c186e 21.8px,#010108 22.2px,#010108 22.8px,#040314 23.2px,#040314 23.8px,#000004 24.2px,#000004 24.8px,#1a0c40 25.2px,#1a0c40 25.8px,#02020d 26.2px,#02020e 28.8px,#040314 29.2px,#040314 29.8px,#2c0b58 30.2px,#2c0b58 30.8px,#050416 31.2px,#050416 31.8px,#480b6a 32.2px,#480b6a 32.8px,#5e136e 33.2px,#5e136e 33.8px,#0a0722 34.2px,#0a0722 34.8px,#01010a 35.2px,#01010a 35.8px,#010005 36.2px,#010005 36.8px,#040315 37.2px,#040315 37.8px,#010106 38.2px,#010106 38.8px,#220c4c 39.2px,#220c4c 39.8px,#010005 40.2px,#010005 40.8px,#4b0c6b 41.2px,#4b0c6b 41.8px,#711a6e 42.2px,#711a6e 42.8px,#9d2964 43.2px,#9d2964 43.8px,#0f092b 44.2px,#0f092b 44.8px,#520e6d 45.2px,#520e6d 45.8px,#050417 46.2px,#050417 46.8px,#420a68 47.2px,#420a68 47.8px,#000004 48.2px,#000004 48.8px,#2f0a5a 49.2px,#2f0a5a 49.8px)}.g147{background:linear-gradient(#040314 0.2px,#040314 0.8px,#1a0c3f 1.2px,#1a0c3f 1.8px,#100a2e 2.2px,#100a2e 2.8px,#1a0c40 3.2px,#1a0c40 3.8px,#040315 4.2px,#040315 4.8px,#120a32 5.2px,#120a32 5.8px,#7d1e6d 6.2px,#7d1e6d 6.8px,#330a5f 7.2px,#330a5f 7.8px,#050417 8.2px,#050417 8.8px,#c33c4f 9.2px,#c33c4f 9.8px,#0c0825 10.2px,#0b0725 11.8px,#260c50 12.2px,#260c50 12.8px,#040313 13.2px,#040313 13.8px,#fca90e 14.2px,#fca90e 14.8px,#010004 15.2px,#010107 16.8px,#150b36 17.2px,#150b36 17.8px,#050416 18.2px,#050416 18.8px,#0e092a 19.2px,#0e092a 19.8px,#010109 20.2px,#010109 20.8px,#0a0722 21.2px,#0a0722 21.8px,#5d126e 22.2px,#5d126e 22.8px,#040314 23.2px,#040314 23.8px,#06051a 24.2px,#07051b 25.8px,#8c2369 26.2px,#8c2369 26.8px,#040314 27.2px,#040314 27.8px,#a52c60 28.2px,#a52c60 28.8px,#160b39 29.2px,#160b39 29.8px,#07051d 30.2px,#07051d 30.8px,#3d0965 31.2px,#3d0965 31.8px,#06051b 32.2px,#06051b 32.8px,#000004 33.2px,#000004 33.8px,#1e0c46 34.2px,#1e0c46 34.8px,#0d0828 35.2px,#0d0828 35.8px,#09061f 36.2px,#09061f 36.8px,#010106 37.2px,#010106 37.8px,#030312 38.2px,#030312 38.8px,#120a32 39.2px,#120a32 39.8px,#010107 40.2px,#010107 40.8px,#07051c 41.2px,#07051c 41.8px,#4a0c6b 42.2px,#4a0c6b 42.8px,#010005 43.2px,#010005 43.8px,#100a2f 44.2px,#100a2f 44.8px,#140b36 45.2px,#140b36 45.8px,#69166e 46.2px,#69166e 46.8px,#030312 47.2px,#030312 47.8px,#08061e 48.2px,#08061e 48.8px,#000004 49.2px,#000004 49.8px)}.g148{background:linear-gradient(#6c186e 0.2px,#6c186e 0.8px,#02020e 1.2px,#02020e 1.8px,#3c0965 2.2px,#3c0965 2.8px,#010004 3.2px,#010004 3.8px,#982766 4.2px,#982766 4.8px,#03020f 5.2px,#03020f 5.8px,#050417 6.2px,#050417 6.8px,#030210 7.2px,#02020e 8.8px,#0a0723 9.2px,#0a0723 9.8px,#010107 10.2px,#010107 10.8px,#110a30 11.2px,#110a30 11.8px,#280b53 12.2px,#280b53 12.8px,#200c49 13.2px,#200c49 13.8px,#130b34 14.2px,#130b34 14.8px,#050418 15.2px,#050418 15.8px,#1a0c40 16.2px,#1a0c40 16.8px,#010107 17.2px,#010107 17.8px,#050418 18.2px,#050418 18.8px,#10092e 19.2px,#10092e 19.8px,#200c48 20.2px,#200c48 20.8px,#982766 21.2px,#982766 21.8px,#430a68 22.2px,#430a68 22.8px,#761b6e 23.2px,#761b6e 23.8px,#280b53 24.2px,#280b53 24.8px,#02020e 25.2px,#02020e 25.8px,#040314 26.2px,#040314 26.8px,#010005 27.2px,#010004 28.8px,#010109 29.8px,#2e0a5a 30.2px,#2e0a5a 30.8px,#030210 31.2px,#030210 31.8px,#140b36 32.2px,#140b36 32.8px,#02020e 33.2px,#02020e 33.8px,#0d0828 34.2px,#0d0828 34.8px,#140b34 35.2px,#140b34 35.8px,#040314 36.2px,#040314 36.8px,#801f6c 37.2px,#801f6c 37.8px,#200c49 38.2px,#200c49 38.8px,#2c0b58 39.2px,#2c0b58 39.8px,#530e6d 40.2px,#530e6d 40.8px,#030210 41.2px,#030210 41.8px,#06051a 42.2px,#06051a 42.8px,#140b35 43.2px,#140b35 43.8px,#010107 44.2px,#010107 44.8px,#050417 45.2px,#050417 45.8px,#010005 46.2px,#010005 46.8px,#0a0722 47.2px,#0a0722 47.8px,#140b35 48.2px,#140b35 48.8px,#06051a 49.2px,#06051a 49.8px)}.g149{background:linear-gradient(#751b6e 0.2px,#751b6e 0.8px,#100a2e 1.2px,#100a2e 1.8px,#090621 2.2px,#090621 2.8px,#430a68 3.2px,#430a68 3.8px,#08051d 4.2px,#08051d 4.8px,#fca70c 5.2px,#fca70c 5.8px,#050416 6.2px,#050416 6.8px,#210c4b 7.2px,#210c4b 7.8px,#791c6d 8.2px,#791c6d 8.8px,#030210 9.2px,#030210 9.8px,#400a67 10.2px,#400a67 10.8px,#02010b 11.2px,#02010b 11.8px,#030312 12.2px,#02020e 14.8px,#430a68 15.2px,#430a68 15.8px,#1d0c44 16.2px,#1d0c44 16.8px,#2c0b57 17.2px,#2c0b57 17.8px,#000004 18.2px,#000004 18.8px,#741b6e 19.2px,#741b6e 19.8px,#050416 20.2px,#050416 20.8px,#4d0c6c 21.2px,#4d0c6c 21.8px,#040313 22.2px,#050416 23.8px,#62146e 24.2px,#62146e 24.8px,#010006 25.2px,#010006 25.8px,#3d0965 26.2px,#3d0965 26.8px,#03020f 27.2px,#03020f 27.8px,#a32c61 28.2px,#a32c61 28.8px,#410a67 29.2px,#410a67 29.8px,#150b37 30.2px,#150b37 30.8px,#240c4f 31.2px,#240c4f 31.8px,#67166e 32.2px,#67166e 32.8px,#010004 33.2px,#010004 33.8px,#340a5f 34.2px,#340a5f 34.8px,#180c3c 35.2px,#180c3c 35.8px,#010107 36.2px,#010107 36.8px,#2e0a59 37.2px,#2e0a59 37.8px,#0f092c 38.2px,#0f092c 38.8px,#030210 39.2px,#040315 40.8px,#2f0a5b 41.2px,#2f0a5b 41.8px,#230c4d 42.2px,#230c4d 42.8px,#0a0722 43.2px,#0b0724 44.8px,#010004 45.2px,#010004 45.8px,#040312 46.2px,#040312 46.8px,#1f0c47 47.2px,#1f0c47 47.8px,#040313 48.2px,#040313 48.8px,#110a30 49.2px,#110a30 49.8px)}.g150{background:linear-gradient(#030210 0.2px,#030210 0.8px,#08061f 1.2px,#08061f 1.8px,#040314 2.2px,#040314 2.8px,#090621 3.2px,#0b0725 4.8px,#450a69 5.2px,#450a69 5.8px,#8c2369 6.2px,#8c2369 6.8px,#1d0c44 7.2px,#1d0c44 7.8px,#0d0828 8.2px,#0d0828 8.8px,#010005 9.2px,#010005 9.8px,#3b0964 10.2px,#3b0964 10.8px,#010106 11.2px,#000004 12.8px,#050416 13.2px,#050416 13.8px,#922568 14.2px,#922568 14.8px,#030210 15.2px,#030210 15.8px,#791c6d 16.2px,#791c6d 16.8px,#280b54 17.2px,#280b54 17.8px,#010108 18.2px,#010108 18.8px,#3e0966 19.2px,#3e0966 19.8px,#2c0b58 20.2px,#2c0b58 20.8px,#0f092c 21.2px,#0f092c 21.8px,#010107 22.2px,#010005 24.8px,#70196e 25.2px,#70196e 25.8px,#0a0723 26.2px,#0a0723 26.8px,#010005 27.2px,#010005 27.8px,#030312 28.2px,#030312 28.8px,#160b39 29.2px,#160b39 29.8px,#08061f 30.2px,#08061f 30.8px,#010108 31.2px,#010106 32.8px,#220c4c 33.2px,#220c4c 33.8px,#500d6c 34.2px,#500d6c 34.8px,#440a69 35.2px,#440a69 35.8px,#040314 36.2px,#040314 36.8px,#5d126e 37.2px,#5d126e 37.8px,#200c49 38.2px,#200c49 38.8px,#0d0829 39.2px,#0d0829 39.8px,#150b37 40.2px,#150b37 40.8px,#190c3f 41.2px,#190c3f 41.8px,#0e092a 42.2px,#0e092a 42.8px,#140b36 43.2px,#140b36 43.8px,#010109 44.2px,#010109 44.8px,#030311 45.2px,#030311 45.8px,#02010b 46.2px,#02010b 46.8px,#090620 47.2px,#090620 47.8px,#010107 48.2px,#010107 48.8px,#07051c 49.2px,#07051c 49.8px)}.g151{background:linear-gradient(#320a5d 0.2px,#320a5d 0.8px,#220c4b 1.2px,#220c4b 1.8px,#02010a 2.2px,#02010a 2.8px,#0f092b 3.2px,#0f092b 3.8px,#040315 4.2px,#040315 4.8px,#090621 5.2px,#090621 5.8px,#010107 6.2px,#010107 6.8px,#060418 7.2px,#060418 7.8px,#250c50 8.2px,#250c50 8.8px,#0e092a 9.2px,#0e092a 9.8px,#972766 10.2px,#972766 10.8px,#050417 11.2px,#050417 11.8px,#03020f 12.2px,#03020f 13.8px,#050416 14.2px,#050416 14.8px,#1d0c44 15.2px,#1d0c44 15.8px,#2f0a5b 16.2px,#2f0a5b 16.8px,#100a2e 17.2px,#100a2e 17.8px,#260c51 18.2px,#260c51 18.8px,#08061e 19.2px,#08061e 19.8px,#050416 20.2px,#050416 20.8px,#5a116e 21.2px,#5a116e 21.8px,#120a32 22.2px,#120a32 22.8px,#040314 23.2px,#040314 23.8px,#000004 24.2px,#000004 24.8px,#1c0c42 25.2px,#1c0c42 25.8px,#70196e 26.2px,#70196e 26.8px,#010006 27.2px,#010006 27.8px,#040313 28.2px,#040313 28.8px,#0a0723 29.2px,#0a0723 29.8px,#050417 30.2px,#040313 31.8px,#050417 32.8px,#02020d 33.2px,#010109 34.8px,#1b0c41 35.2px,#1b0c41 35.8px,#4b0c6b 36.2px,#4b0c6b 36.8px,#050416 37.2px,#050416 37.8px,#200c49 38.2px,#200c49 38.8px,#1a0c40 39.2px,#1a0c40 39.8px,#02010b 40.2px,#02010b 40.8px,#320a5e 41.2px,#320a5e 41.8px,#000004 42.2px,#000004 42.8px,#050416 43.2px,#030311 45.8px,#290b54 46.2px,#290b54 46.8px,#010005 47.2px,#010005 47.8px,#02010a 48.2px,#02010a 48.8px,#040315 49.2px,#040315 49.8px)}.g152{background:linear-gradient(#110a30 0.2px,#110a30 0.8px,#360961 1.2px,#360961 1.8px,#200c49 2.2px,#200c49 2.8px,#02010b 3.2px,#02010b 3.8px,#0e092b 4.2px,#0e092b 4.8px,#06051a 5.2px,#06051a 5.8px,#0a0722 6.2px,#0a0722 6.8px,#040313 7.2px,#040313 7.8px,#2e0a5a 8.2px,#2e0a5a 8.8px,#03020f 9.2px,#03020f 9.8px,#010109 10.2px,#010109 10.8px,#380962 11.2px,#380962 11.8px,#000004 12.2px,#000004 12.8px,#6e186e 13.2px,#6e186e 13.8px,#06051b 14.2px,#06051b 14.8px,#090620 15.2px,#090620 15.8px,#040415 16.2px,#040415 16.8px,#510e6d 17.2px,#510e6d 17.8px,#280b53 18.2px,#280b53 18.8px,#4b0c6b 19.2px,#4b0c6b 19.8px,#050416 20.2px,#050416 20.8px,#03020f 21.2px,#03020f 21.8px,#090621 22.2px,#090621 22.8px,#62146e 23.2px,#62146e 23.8px,#02020e 24.2px,#02020e 24.8px,#290b54 25.2px,#290b54 25.8px,#010107 26.2px,#010107 26.8px,#060419 27.2px,#060419 27.8px,#010006 28.2px,#010006 28.8px,#110a2f 29.2px,#110a2f 29.8px,#170c3b 30.2px,#170c3b 30.8px,#1c0c43 31.2px,#1c0c43 31.8px,#731a6e 32.2px,#731a6e 32.8px,#090620 33.2px,#090620 33.8px,#010107 34.2px,#010107 34.8px,#220c4c 35.2px,#220c4c 35.8px,#1d0c45 36.2px,#1d0c45 36.8px,#02020c 37.2px,#02020c 37.8px,#1a0c3f 38.2px,#1a0c3f 38.8px,#010108 39.2px,#010108 39.8px,#030210 40.2px,#030210 40.8px,#02010a 41.2px,#02010a 41.8px,#060418 42.2px,#050418 43.8px,#010106 44.2px,#010106 44.8px,#280b53 45.2px,#280b53 45.8px,#180c3d 46.2px,#180c3d 46.8px,#1d0c44 47.2px,#1d0c44 47.8px,#02020c 48.2px,#02020c 48.8px,#090620 49.2px,#090620 49.8px)}.g153{background:linear-gradient(#030311 0.2px,#030311 0.8px,#160b39 1.2px,#160b39 1.8px,#280b53 2.2px,#280b53 2.8px,#0b0724 3.2px,#0b0724 3.8px,#08061e 4.2px,#08061e 4.8px,#1a0c3f 5.2px,#1a0c3f 5.8px,#07051c 6.2px,#07051c 6.8px,#02020c 7.2px,#02020c 7.8px,#090621 8.2px,#090621 8.8px,#000004 9.2px,#000004 9.8px,#9c2964 10.2px,#9c2964 10.8px,#270b52 11.2px,#260c51 12.8px,#0b0725 13.2px,#0b0725 13.8px,#2a0b55 14.2px,#2a0b55 14.8px,#08061f 15.2px,#08061f 15.8px,#140b35 16.2px,#140b35 16.8px,#02020c 17.2px,#02020c 17.8px,#010006 18.2px,#010006 18.8px,#02020c 19.2px,#010107 20.8px,#140b36 21.2px,#130b34 22.8px,#1d0c44 23.2px,#1d0c44 23.8px,#130a33 24.2px,#130a33 24.8px,#230c4e 25.2px,#230c4e 25.8px,#0a0723 26.2px,#0a0723 26.8px,#110a30 27.2px,#110a30 27.8px,#07051c 28.2px,#07051c 28.8px,#030311 29.2px,#030311 29.8px,#010107 30.2px,#010107 30.8px,#170c3b 31.2px,#170c3b 31.8px,#560f6d 32.2px,#560f6d 32.8px,#010108 33.2px,#010108 33.8px,#090620 34.2px,#090620 34.8px,#8a226a 35.2px,#8a226a 35.8px,#010107 36.2px,#010107 36.8px,#090620 37.2px,#090620 37.8px,#8b236a 38.2px,#8b236a 38.8px,#350a60 39.2px,#350a60 39.8px,#010109 40.2px,#010109 40.8px,#090620 41.2px,#090620 41.8px,#6b176e 42.2px,#6b176e 42.8px,#3b0964 43.2px,#3b0964 43.8px,#0b0724 44.2px,#0b0724 44.8px,#050417 45.2px,#050417 45.8px,#120a32 46.2px,#120a32 46.8px,#0c0827 47.2px,#0c0827 47.8px,#010109 48.2px,#010109 48.8px,#3e0966 49.2px,#3e0966 49.8px)}.g154{background:linear-gradient(#150b37 0.2px,#150b37 0.8px,#010108 1.2px,#010108 1.8px,#08061e 2.2px,#08061e 2.8px,#7f1e6c 3.2px,#7f1e6c 3.8px,#07051b 4.2px,#07051b 4.8px,#69166e 5.2px,#69166e 5.8px,#040313 6.2px,#040313 6.8px,#87216b 7.2px,#87216b 7.8px,#050417 8.2px,#050417 8.8px,#540f6d 9.2px,#540f6d 9.8px,#741b6e 10.2px,#741b6e 10.8px,#6f196e 11.2px,#6f196e 11.8px,#3d0965 12.2px,#3d0965 12.8px,#050418 13.2px,#050418 13.8px,#1b0c42 14.2px,#1b0c42 14.8px,#050417 15.2px,#050417 15.8px,#420a68 16.2px,#420a68 16.8px,#02020c 17.2px,#02020c 17.8px,#b53458 18.2px,#b53458 18.8px,#030311 19.2px,#030311 19.8px,#0e092b 20.2px,#0e092b 20.8px,#360961 21.2px,#360961 21.8px,#270b52 22.2px,#270b52 22.8px,#030210 23.2px,#030210 23.8px,#010109 24.2px,#010109 24.8px,#380962 25.2px,#380962 25.8px,#030312 26.2px,#030312 26.8px,#3f0966 27.2px,#3f0966 27.8px,#0d0828 28.2px,#0d0828 28.8px,#150b37 29.2px,#150b37 29.8px,#250c50 30.2px,#250c50 30.8px,#110a2f 31.2px,#110a2f 31.8px,#140b35 32.2px,#140b35 32.8px,#030210 33.2px,#030210 35.8px,#010005 36.2px,#010107 37.8px,#03020f 38.2px,#03020f 38.8px,#230c4d 39.2px,#230c4d 39.8px,#040313 40.2px,#030311 41.8px,#3b0964 42.2px,#3b0964 42.8px,#010005 43.2px,#010005 43.8px,#1c0c43 44.2px,#1c0c43 44.8px,#230c4d 45.2px,#230c4d 45.8px,#5d126e 46.2px,#5d126e 46.8px,#490b6a 47.2px,#490b6a 47.8px,#010106 48.2px,#010106 48.8px,#330a5e 49.2px,#330a5e 49.8px)}.g155{background:linear-gradient(#1f0c48 0.2px,#1f0c48 0.8px,#01010a 1.2px,#01010a 1.8px,#2a0b55 2.2px,#2a0b55 2.8px,#07051c 3.2px,#07051c 3.8px,#030311 4.2px,#030311 4.8px,#390963 5.2px,#390963 5.8px,#2c0b58 6.2px,#2c0b58 6.8px,#110a30 7.2px,#110a30 7.8px,#64156e 8.2px,#64156e 8.8px,#06051a 9.2px,#06051a 9.8px,#0b0724 10.2px,#0b0724 10.8px,#060519 11.2px,#060519 11.8px,#08061f 12.2px,#08061f 12.8px,#771c6d 13.2px,#771c6d 13.8px,#0c0826 14.2px,#0c0826 14.8px,#360960 15.2px,#360960 15.8px,#040313 16.2px,#040313 16.8px,#190c3f 17.2px,#190c3f 17.8px,#050416 18.2px,#050416 18.8px,#08061d 19.2px,#08061d 19.8px,#811f6c 20.2px,#811f6c 20.8px,#050417 21.2px,#050417 21.8px,#0a0723 22.2px,#08061f 23.8px,#62146e 24.2px,#62146e 24.8px,#110a2f 25.2px,#110a2f 25.8px,#03020f 26.2px,#03020f 26.8px,#010005 27.2px,#010106 28.8px,#08061e 29.2px,#08061e 29.8px,#02020d 30.2px,#02020d 30.8px,#470b6a 31.2px,#470b6a 31.8px,#0b0825 32.2px,#0b0825 32.8px,#040315 33.2px,#040315 33.8px,#0e092a 34.2px,#0e092a 34.8px,#040315 35.2px,#040315 35.8px,#70196e 36.2px,#70196e 36.8px,#040314 37.2px,#040312 38.8px,#07051c 39.2px,#07051c 39.8px,#550f6d 40.2px,#550f6d 40.8px,#010005 41.2px,#010005 41.8px,#5e136e 42.2px,#5e136e 42.8px,#090620 43.2px,#090620 43.8px,#050417 44.2px,#050417 44.8px,#010108 45.2px,#010107 46.8px,#030210 47.2px,#02010a 49.8px)}.g156{background:linear-gradient(#5d126e 0.2px,#5d126e 0.8px,#010005 1.2px,#010108 2.8px,#08061e 3.2px,#08061e 3.8px,#2a0b56 4.2px,#2a0b56 4.8px,#030210 5.2px,#030210 5.8px,#050415 6.2px,#050415 6.8px,#02020e 7.2px,#040313 9.8px,#59116e 10.2px,#59116e 10.8px,#010107 11.2px,#02020c 12.8px,#07051c 13.2px,#07051c 13.8px,#040313 14.2px,#040313 14.8px,#010108 15.2px,#010108 15.8px,#300a5b 16.2px,#300a5b 16.8px,#010005 17.2px,#010005 17.8px,#06051a 18.2px,#040315 19.8px,#010108 20.2px,#010108 20.8px,#060419 21.2px,#07051b 22.8px,#010108 23.2px,#010108 23.8px,#1c0c42 24.2px,#1c0c42 24.8px,#01010a 25.2px,#010109 26.8px,#02020d 27.8px,#02020c 28.8px,#060419 29.2px,#060419 29.8px,#7a1d6d 30.2px,#7a1d6d 30.8px,#02010a 31.2px,#02010a 31.8px,#86216b 32.2px,#86216b 32.8px,#02010b 33.2px,#02010b 33.8px,#010005 34.2px,#010005 34.8px,#791d6d 35.2px,#791d6d 35.8px,#110a30 36.2px,#110a30 36.8px,#03020f 37.2px,#03020f 37.8px,#010005 38.2px,#010005 38.8px,#030210 39.2px,#030210 39.8px,#5f136e 40.2px,#5f136e 40.8px,#230c4d 41.2px,#230c4d 41.8px,#060419 42.2px,#060419 42.8px,#9e2a63 43.2px,#9e2a63 43.8px,#150b37 44.2px,#150b37 44.8px,#030210 45.2px,#030210 45.8px,#400a67 46.2px,#400a67 46.8px,#08051d 47.2px,#08061f 48.8px,#170c3b 49.2px,#170c3b 49.8px)}.g157{background:linear-gradient(#02020d 0.2px,#02020d 0.8px,#420a68 1.2px,#420a68 1.8px,#08061e 2.2px,#08061e 2.8px,#300a5c 3.2px,#300a5c 3.8px,#050417 4.2px,#050417 4.8px,#03020f 5.2px,#030312 6.8px,#010006 7.2px,#000004 8.8px,#320a5d 9.2px,#320a5d 9.8px,#010107 10.2px,#010107 10.8px,#040315 11.2px,#040315 11.8px,#290b55 12.2px,#290b55 12.8px,#040314 13.2px,#040314 13.8px,#02020e 14.2px,#02020e 14.8px,#0c0826 15.2px,#0c0826 15.8px,#030210 16.2px,#030210 16.8px,#050417 17.2px,#050417 17.8px,#450a69 18.2px,#450a69 18.8px,#71196e 19.2px,#71196e 19.8px,#0f092d 20.2px,#0f092d 20.8px,#030210 21.2px,#040312 22.8px,#07051d 23.2px,#07051d 23.8px,#010106 24.2px,#010106 24.8px,#1e0c46 25.2px,#1e0c46 25.8px,#57106d 26.2px,#57106d 26.8px,#010005 27.2px,#010005 27.8px,#040312 28.2px,#040312 28.8px,#090621 29.2px,#090621 29.8px,#390963 30.2px,#390963 30.8px,#0b0825 31.2px,#0b0825 31.8px,#350a60 32.2px,#350a60 32.8px,#200c49 33.2px,#200c49 33.8px,#040313 34.2px,#040313 34.8px,#010005 35.2px,#010005 36.8px,#03020e 38.8px,#03020f 40.8px,#88226a 41.2px,#88226a 41.8px,#210c4a 42.2px,#210c4a 42.8px,#030311 43.2px,#030311 43.8px,#330a5e 44.2px,#330a5e 44.8px,#040315 45.2px,#040313 47.8px,#03020f 48.8px,#170c3b 49.2px,#170c3b 49.8px)}.g158{background:linear-gradient(#310a5d 0.2px,#310a5d 0.8px,#040315 1.2px,#040315 1.8px,#02020c 2.2px,#02020c 2.8px,#06051b 3.2px,#06051b 3.8px,#962766 4.2px,#962766 4.8px,#010005 5.2px,#010005 5.8px,#02010b 6.2px,#02010b 6.8px,#240c4e 7.2px,#240c4e 7.8px,#06051a 8.2px,#06051a 8.8px,#60136e 9.2px,#60136e 9.8px,#10092d 10.2px,#10092d 10.8px,#08061f 11.2px,#08061f 11.8px,#000004 12.2px,#010107 13.8px,#040314 14.2px,#050416 15.8px,#110a30 16.2px,#110a30 16.8px,#010106 17.2px,#010106 17.8px,#250c50 18.2px,#250c50 18.8px,#050418 19.2px,#050418 19.8px,#02010a 20.2px,#02010a 20.8px,#250c4f 21.2px,#250c4f 21.8px,#360961 22.2px,#360961 22.8px,#050415 23.2px,#050415 23.8px,#02010a 24.2px,#02010a 24.8px,#060419 25.2px,#060419 25.8px,#030210 26.2px,#030210 26.8px,#010109 27.2px,#010109 27.8px,#791c6d 28.2px,#791c6d 28.8px,#03020e 29.2px,#02010b 30.8px,#4e0d6c 31.2px,#4e0d6c 31.8px,#02020e 32.2px,#02020e 32.8px,#07051c 33.2px,#050418 34.8px,#1e0c46 35.2px,#1e0c46 35.8px,#460b69 36.2px,#460b69 36.8px,#040313 37.2px,#040313 37.8px,#1b0c41 38.2px,#1b0c41 38.8px,#68166e 39.2px,#68166e 39.8px,#0b0725 40.2px,#0b0725 40.8px,#160b39 41.2px,#160b39 41.8px,#2e0a5a 42.2px,#2e0a5a 42.8px,#0e0829 43.2px,#0e0829 43.8px,#2e0a5a 44.2px,#2e0a5a 44.8px,#1b0c41 45.2px,#180c3c 46.8px,#02020d 47.2px,#02020d 47.8px,#010108 48.2px,#010108 48.8px,#040313 49.2px,#040313 49.8px)}.g159{background:linear-gradient(#9e2a63 0.2px,#9e2a63 0.8px,#340a5f 1.2px,#340a5f 1.8px,#000004 2.2px,#000004 2.8px,#02020e 3.2px,#030210 4.8px,#000004 5.2px,#000004 5.8px,#030210 6.2px,#030210 6.8px,#230c4d 7.2px,#230c4d 7.8px,#0e092a 8.2px,#0e092a 8.8px,#010106 9.2px,#010106 9.8px,#050416 10.2px,#050416 10.8px,#140b36 11.2px,#140b36 11.8px,#040315 12.2px,#040315 12.8px,#210c4a 13.2px,#210c4a 13.8px,#040314 14.2px,#040314 14.8px,#240c4e 15.2px,#230c4c 16.8px,#0a0722 17.2px,#0a0722 18.8px,#210c4b 19.2px,#210c4b 19.8px,#050416 20.2px,#050416 20.8px,#5e126e 21.2px,#5e126e 21.8px,#08061e 22.2px,#08061e 22.8px,#68166e 23.2px,#66166e 24.8px,#050416 25.2px,#050416 25.8px,#010004 26.2px,#010004 26.8px,#02010b 27.2px,#02010b 27.8px,#0e092b 28.2px,#0e092b 28.8px,#010107 29.2px,#02010b 30.8px,#2b0b57 31.2px,#2b0b57 31.8px,#6b176e 32.2px,#6b176e 32.8px,#010109 33.2px,#010109 33.8px,#08061f 34.2px,#08061f 34.8px,#2c0b58 35.2px,#2e0a5a 36.8px,#030311 37.2px,#030312 38.8px,#320a5e 39.2px,#320a5e 39.8px,#090721 40.2px,#090721 40.8px,#02020e 41.2px,#02020e 41.8px,#0e092a 42.2px,#0e092a 42.8px,#140b36 43.2px,#140b36 43.8px,#010005 44.2px,#010005 44.8px,#140b35 45.2px,#140b35 45.8px,#040314 46.2px,#040314 46.8px,#1a0c40 47.2px,#1a0c40 47.8px,#040313 48.2px,#040313 48.8px,#10092e 49.2px,#10092e 49.8px)}.g160{background:linear-gradient(#771c6d 0.2px,#771c6d 0.8px,#3d0965 1.2px,#3d0965 1.8px,#0e092b 2.2px,#0e092b 2.8px,#040313 3.2px,#040313 3.8px,#550f6d 4.2px,#550f6d 4.8px,#731a6e 5.2px,#731a6e 5.8px,#040315 6.2px,#040315 6.8px,#460b69 7.2px,#460b69 7.8px,#270b52 8.2px,#270b52 8.8px,#2f0a5b 9.2px,#330a5e 10.8px,#1c0c43 11.2px,#1c0c43 11.8px,#02020c 12.2px,#02020c 12.8px,#190c3f 13.2px,#190c3f 13.8px,#040315 14.2px,#030210 15.8px,#010005 16.2px,#010005 16.8px,#1c0c43 17.2px,#1c0c43 17.8px,#150b37 18.2px,#150b37 18.8px,#0c0826 19.2px,#0c0826 19.8px,#07051d 20.2px,#07051d 20.8px,#6e196e 21.2px,#6e196e 21.8px,#050416 22.2px,#050416 22.8px,#5a116e 23.2px,#5a116e 23.8px,#050416 24.2px,#050416 24.8px,#0c0827 25.2px,#0c0827 25.8px,#08061f 26.2px,#08061f 26.8px,#a32c61 27.2px,#a32c61 27.8px,#1a0c40 28.2px,#1a0c40 28.8px,#03020e 29.2px,#03020e 29.8px,#130a33 30.2px,#130a33 30.8px,#040315 31.2px,#040315 31.8px,#0f092b 32.2px,#0f092b 32.8px,#030210 33.2px,#030210 33.8px,#120a31 34.2px,#110a30 35.8px,#6d186e 36.2px,#6d186e 36.8px,#02010c 37.2px,#02020d 38.8px,#050416 39.2px,#050416 39.8px,#010107 40.2px,#010107 40.8px,#060419 41.2px,#060419 41.8px,#0b0725 42.2px,#0b0725 42.8px,#030312 43.2px,#030312 43.8px,#090620 44.2px,#07051b 45.8px,#3d0965 46.2px,#3d0965 46.8px,#090620 47.2px,#07051d 48.8px,#180c3c 49.2px,#180c3c 49.8px)}.g161{background:linear-gradient(#10092e 0.2px,#10092e 0.8px,#08061f 1.2px,#08061f 1.8px,#2d0b59 2.2px,#2d0b59 2.8px,#000004 3.2px,#000004 3.8px,#952667 4.2px,#952667 4.8px,#cd4248 5.2px,#cd4248 5.8px,#03020f 6.2px,#030311 7.8px,#3a0964 8.2px,#3a0964 8.8px,#1c0c42 9.2px,#1c0c42 9.8px,#0d0828 10.2px,#0e092b 11.8px,#0d0828 12.8px,#100a2e 13.2px,#100a2e 13.8px,#040313 14.2px,#040313 14.8px,#1f0c48 15.2px,#1f0c48 15.8px,#040312 16.2px,#040312 16.8px,#190c3d 17.2px,#190c3d 17.8px,#03020f 18.2px,#03020f 18.8px,#100a2e 19.2px,#100a2e 19.8px,#010107 20.2px,#010107 20.8px,#120a32 21.2px,#120a32 21.8px,#030210 22.2px,#030210 22.8px,#2f0a5a 23.2px,#330a5e 24.8px,#3b0964 25.2px,#3b0964 25.8px,#010107 26.2px,#010107 26.8px,#050417 27.2px,#050417 27.8px,#02020c 28.2px,#02020c 28.8px,#040315 29.2px,#040315 29.8px,#010107 30.2px,#010107 30.8px,#1e0c46 31.2px,#1f0c47 33.8px,#040314 34.2px,#030210 35.8px,#000004 36.2px,#000004 36.8px,#3f0a66 37.2px,#3f0a66 37.8px,#2c0b58 38.2px,#2c0b58 38.8px,#040313 39.2px,#040313 39.8px,#000004 40.2px,#000004 40.8px,#5f136e 41.2px,#5f136e 41.8px,#0f092d 42.2px,#0f092d 42.8px,#030311 43.2px,#030311 43.8px,#450a69 44.2px,#450a69 44.8px,#010005 45.2px,#010005 45.8px,#530f6d 46.2px,#530f6d 46.8px,#06051a 47.2px,#06051a 47.8px,#2a0b55 48.2px,#2a0b55 48.8px,#010107 49.2px,#010107 49.8px)}.g162{background:linear-gradient(#270c52 0.2px,#270c52 0.8px,#02010a 1.2px,#02010a 1.8px,#000004 2.2px,#000004 2.8px,#040313 3.2px,#040313 3.8px,#0f092c 4.2px,#0f092c 4.8px,#02010a 5.2px,#02010a 5.8px,#110a2f 6.2px,#110a2f 6.8px,#050417 7.2px,#050417 7.8px,#170c3b 8.2px,#170c3b 8.8px,#030210 9.2px,#03020f 10.8px,#5d126e 11.2px,#5d126e 11.8px,#050417 12.2px,#050417 12.8px,#120a31 13.2px,#120a31 13.8px,#010109 14.2px,#010109 14.8px,#040315 15.2px,#060419 16.8px,#02020c 17.2px,#02020c 17.8px,#060519 18.2px,#060519 18.8px,#010107 19.2px,#010107 19.8px,#e05536 20.2px,#e05536 20.8px,#02020d 21.2px,#02020d 21.8px,#07051b 22.2px,#07051b 22.8px,#000004 23.2px,#000004 23.8px,#08061f 24.2px,#08061f 24.8px,#110a31 25.2px,#110a31 25.8px,#350960 26.2px,#350960 26.8px,#040312 27.2px,#040312 27.8px,#300a5c 28.2px,#300a5c 28.8px,#02010a 29.2px,#02010a 29.8px,#110a31 30.2px,#110a31 30.8px,#1b0c41 31.2px,#1b0c41 31.8px,#140b35 32.2px,#140b35 32.8px,#050416 33.2px,#050416 33.8px,#380962 34.2px,#380962 34.8px,#000004 35.2px,#000004 35.8px,#02020c 36.2px,#02020c 36.8px,#89226a 37.2px,#89226a 37.8px,#170b3a 38.2px,#170b3a 38.8px,#010109 39.2px,#010109 39.8px,#0a0723 40.2px,#0a0723 40.8px,#030211 41.2px,#030211 41.8px,#e55b31 42.2px,#e55b31 42.8px,#1f0c48 43.2px,#1f0c48 43.8px,#0b0725 44.2px,#0b0725 44.8px,#270c51 45.2px,#270c51 45.8px,#030312 46.2px,#030312 46.8px,#1d0c44 47.2px,#1d0c44 47.8px,#040312 48.2px,#040313 49.8px)}.g163{background:linear-gradient(#040312 0.2px,#040312 0.8px,#1a0c3f 1.2px,#1a0c3f 1.8px,#010107 2.2px,#010107 2.8px,#02020e 3.2px,#040314 5.8px,#2d0b59 6.2px,#2d0b59 6.8px,#550f6d 7.2px,#58106e 8.8px,#86216b 9.2px,#86216b 9.8px,#02020d 10.2px,#02020d 10.8px,#0f092c 11.2px,#0f092c 11.8px,#270b53 12.2px,#270b53 12.8px,#400a67 13.2px,#400a67 13.8px,#000004 14.2px,#000004 14.8px,#03020f 15.2px,#03020f 15.8px,#170b3a 16.2px,#170b3a 16.8px,#010005 17.2px,#010005 17.8px,#67166e 18.2px,#67166e 18.8px,#2f0a5b 19.2px,#2f0a5b 19.8px,#69176e 20.2px,#69176e 20.8px,#3e0966 21.2px,#3e0966 21.8px,#0f092c 22.2px,#0f092c 22.8px,#4f0d6c 23.2px,#4f0d6c 23.8px,#040315 24.2px,#040315 24.8px,#2e0a5a 25.2px,#2e0a5a 25.8px,#0a0722 26.2px,#0a0722 26.8px,#7b1d6d 27.2px,#7b1d6d 27.8px,#170c3b 28.2px,#170c3b 28.8px,#0b0724 29.2px,#0b0724 29.8px,#1c0c43 30.2px,#1c0c43 30.8px,#06051a 31.2px,#06051a 31.8px,#130a33 32.2px,#130a33 32.8px,#500e6c 33.2px,#500e6c 33.8px,#06051b 34.2px,#06051b 34.8px,#1f0c48 35.2px,#1f0c48 35.8px,#0b0724 36.2px,#0a0722 37.8px,#8a236a 38.2px,#8a236a 38.8px,#02020e 39.2px,#02020e 39.8px,#190c3d 40.2px,#190c3d 40.8px,#0f092b 41.2px,#0f092b 41.8px,#0a0722 42.2px,#0a0722 42.8px,#62146e 43.2px,#62146e 43.8px,#02010a 44.2px,#02010a 44.8px,#520e6d 45.2px,#520e6d 45.8px,#190c3d 46.2px,#190c3d 46.8px,#050417 47.2px,#050417 47.8px,#110a2f 48.2px,#110a2f 48.8px,#010107 49.2px,#010107 49.8px)}.g164{background:linear-gradient(#7a1d6d 0.2px,#7a1d6d 0.8px,#000004 1.2px,#000004 1.8px,#0b0725 2.2px,#0b0725 2.8px,#190c3d 3.2px,#190c3d 3.8px,#150b37 4.2px,#150b37 4.8px,#f1ee71 5.2px,#f1ee71 5.8px,#250c4f 6.2px,#250c4f 6.8px,#040315 7.2px,#040315 7.8px,#240c4e 8.2px,#240c4e 8.8px,#040313 9.2px,#040313 9.8px,#62146e 10.2px,#62146e 10.8px,#150b37 11.2px,#150b37 11.8px,#2f0a5b 12.2px,#2f0a5b 12.8px,#da4e3d 13.2px,#da4e3d 13.8px,#040315 14.2px,#040315 14.8px,#1f0c48 15.2px,#1f0c48 15.8px,#02010a 16.2px,#02010a 16.8px,#050416 17.2px,#050416 17.8px,#010005 18.2px,#010005 18.8px,#02020e 19.2px,#02020e 19.8px,#721a6e 20.2px,#721a6e 20.8px,#06051a 21.2px,#06051a 21.8px,#000004 22.2px,#000004 22.8px,#02020c 23.2px,#02020c 23.8px,#0b0724 24.2px,#0b0724 24.8px,#050416 25.2px,#050416 25.8px,#01010a 26.2px,#02020e 27.8px,#040315 28.2px,#040315 28.8px,#430a68 29.2px,#430a68 29.8px,#08061f 30.2px,#08061f 30.8px,#02020c 31.2px,#02020c 31.8px,#040314 32.2px,#040314 32.8px,#751b6e 33.2px,#751b6e 33.8px,#050416 34.2px,#050416 34.8px,#150b37 35.2px,#150b37 35.8px,#010004 36.2px,#010004 36.8px,#090620 37.2px,#090620 37.8px,#230c4d 38.2px,#230c4d 38.8px,#0b0724 39.2px,#0b0724 39.8px,#040312 40.2px,#040312 40.8px,#320a5d 41.2px,#350960 42.8px,#310a5d 43.8px,#56106d 44.2px,#56106d 44.8px,#5f136e 45.2px,#5f136e 45.8px,#010005 46.2px,#010005 46.8px,#02020d 47.2px,#02020d 47.8px,#3e0966 48.2px,#3e0966 48.8px,#560f6d 49.2px,#560f6d 49.8px)}.g165{background:linear-gradient(#02010b 0.2px,#010107 1.8px,#250c50 2.2px,#250c50 2.8px,#0d0829 3.2px,#0d0829 3.8px,#170b3a 4.2px,#170b3a 4.8px,#260c51 5.2px,#260c51 5.8px,#030311 6.2px,#030311 6.8px,#1c0c43 7.2px,#1c0c43 7.8px,#67166e 8.2px,#67166e 8.8px,#110a30 9.2px,#110a30 9.8px,#1a0c40 10.2px,#1a0c40 10.8px,#02020d 11.2px,#02020d 11.8px,#170b3a 12.2px,#170b3a 12.8px,#0f092b 13.2px,#0f092b 13.8px,#050416 14.2px,#030311 15.8px,#090620 16.2px,#090620 16.8px,#260c51 17.2px,#260c51 17.8px,#040313 18.2px,#040313 18.8px,#2a0b55 19.2px,#2a0b55 19.8px,#360961 20.2px,#360961 20.8px,#2b0b56 21.2px,#2b0b56 21.8px,#0e092a 22.2px,#0e092a 22.8px,#050416 23.2px,#050416 23.8px,#200c49 24.2px,#200c49 24.8px,#480b6a 25.2px,#480b6a 25.8px,#03020f 26.2px,#03020f 26.8px,#60136e 27.2px,#60136e 27.8px,#550f6d 28.2px,#550f6d 28.8px,#030210 29.2px,#030210 29.8px,#010106 30.2px,#010106 30.8px,#280b53 31.2px,#280b53 31.8px,#010108 32.2px,#010107 33.8px,#1f0c47 34.2px,#1f0c47 34.8px,#000004 35.2px,#000004 35.8px,#03020f 36.2px,#03020f 36.8px,#07051d 37.2px,#07051d 37.8px,#02010b 38.2px,#02020c 39.8px,#290b54 40.2px,#290b54 40.8px,#010005 41.2px,#010005 41.8px,#4f0d6c 42.2px,#4f0d6c 42.8px,#060419 43.2px,#060419 43.8px,#02010b 44.2px,#02010b 44.8px,#08061e 45.2px,#08061e 45.8px,#3d0965 46.2px,#3d0965 46.8px,#010107 47.2px,#010107 47.8px,#02020d 48.2px,#02020d 48.8px,#902568 49.2px,#902568 49.8px)}.g166{background:linear-gradient(#0c0826 0.2px,#0c0826 0.8px,#07051b 1.2px,#07051b 1.8px,#0f092b 2.2px,#0f092b 2.8px,#07051b 3.2px,#07051b 3.8px,#110a2f 4.2px,#110a2f 4.8px,#4b0c6b 5.2px,#4b0c6b 5.8px,#02010b 6.2px,#010108 7.8px,#2a0b56 8.2px,#2a0b56 8.8px,#360961 9.2px,#360961 9.8px,#02010a 10.2px,#02010a 10.8px,#090621 11.2px,#090621 11.8px,#1c0c42 12.2px,#1c0c42 12.8px,#08061f 13.2px,#08061f 13.8px,#230c4d 14.2px,#230c4d 14.8px,#f3761b 15.2px,#f3761b 15.8px,#040314 16.2px,#040314 16.8px,#010108 17.2px,#010108 17.8px,#030210 18.2px,#030210 18.8px,#07051d 19.2px,#07051d 19.8px,#110a31 20.2px,#110a31 20.8px,#0c0826 21.2px,#0c0826 21.8px,#520e6d 22.2px,#520e6d 22.8px,#180c3c 23.2px,#180c3c 23.8px,#000004 24.2px,#000004 24.8px,#230c4d 25.2px,#230c4d 25.8px,#060419 26.2px,#060419 26.8px,#350a60 27.2px,#350a60 27.8px,#160b3a 28.2px,#160b3a 28.8px,#010107 29.2px,#010107 29.8px,#1b0c41 30.2px,#1b0c41 30.8px,#010109 31.2px,#010109 31.8px,#5f136e 32.2px,#5f136e 32.8px,#010004 33.2px,#010005 34.8px,#0d0828 35.2px,#0d0828 35.8px,#050418 36.2px,#050418 36.8px,#030210 37.2px,#030210 37.8px,#84206b 38.2px,#84206b 38.8px,#4c0c6b 39.2px,#4c0c6b 39.8px,#0f092c 40.2px,#0d0829 41.8px,#050418 42.2px,#050418 42.8px,#010106 43.2px,#010106 43.8px,#180c3c 44.2px,#180c3c 44.8px,#060418 45.2px,#060418 45.8px,#58106e 46.2px,#58106e 46.8px,#030311 47.2px,#030311 47.8px,#340a5f 48.2px,#340a5f 48.8px,#060418 49.2px,#060418 49.8px)}.g167{background:linear-gradient(#2d0a59 0.2px,#2d0a59 0.8px,#060419 1.2px,#060419 1.8px,#02020e 2.2px,#02020e 2.8px,#0f092c 3.2px,#0f092c 3.8px,#330a5f 4.2px,#330a5f 4.8px,#190c3f 5.2px,#190c3f 5.8px,#130a33 6.2px,#130a33 6.8px,#190c3e 7.2px,#190c3e 7.8px,#0b0725 8.2px,#0b0725 8.8px,#030312 9.2px,#030312 9.8px,#08061f 10.2px,#08061f 10.8px,#030311 11.2px,#030311 11.8px,#08061f 12.2px,#08061f 12.8px,#3f0966 13.2px,#3f0966 13.8px,#962766 14.2px,#962766 14.8px,#240c4f 15.2px,#240c4f 15.8px,#310a5d 16.2px,#310a5d 16.8px,#1a0c3f 17.2px,#1a0c3f 17.8px,#8e2469 18.2px,#8e2469 18.8px,#050418 19.2px,#050418 19.8px,#b93556 20.2px,#b93556 20.8px,#06051a 21.2px,#06051a 21.8px,#2a0b56 22.2px,#2a0b56 22.8px,#09061f 23.2px,#09061f 23.8px,#060419 24.2px,#060419 24.8px,#08061f 25.2px,#08061f 25.8px,#3f0966 26.2px,#3e0966 27.8px,#0d0829 28.2px,#0d0829 28.8px,#07051d 29.2px,#07051d 29.8px,#140b35 30.2px,#140b35 30.8px,#6b176e 31.2px,#6b176e 31.8px,#0c0827 32.2px,#0c0827 32.8px,#170b3a 33.2px,#170b3a 33.8px,#250c4f 34.2px,#240c4e 35.8px,#180c3c 36.2px,#180c3c 36.8px,#040314 37.2px,#040314 37.8px,#0e0829 38.2px,#0e0829 38.8px,#150b36 39.2px,#150b36 39.8px,#08061e 40.2px,#08061e 40.8px,#1b0c41 41.2px,#1b0c41 41.8px,#220c4c 42.2px,#220c4c 42.8px,#0e092a 43.2px,#0e092a 43.8px,#010106 44.2px,#010106 44.8px,#02010b 45.2px,#02010b 45.8px,#120a32 46.2px,#120a32 46.8px,#030312 47.2px,#030312 47.8px,#010005 48.2px,#000004 49.8px)}.g168{background:linear-gradient(#02020e 0.2px,#02020e 0.8px,#59116e 1.2px,#59116e 1.8px,#410a67 2.2px,#410a67 2.8px,#02020e 3.2px,#02020d 4.8px,#ac2f5d 5.2px,#ac2f5d 5.8px,#1b0c42 6.2px,#1b0c42 6.8px,#5a116e 7.2px,#5a116e 7.8px,#120a32 8.2px,#120a32 8.8px,#030210 9.2px,#030210 9.8px,#120a31 10.2px,#120a31 10.8px,#6a176e 11.2px,#6a176e 11.8px,#040313 12.2px,#040313 12.8px,#220c4b 13.2px,#220c4b 13.8px,#000004 14.2px,#000004 14.8px,#0e092a 15.2px,#0e092a 15.8px,#110a31 16.2px,#110a31 16.8px,#0d0829 17.2px,#0d0829 17.8px,#4a0c6b 18.2px,#4a0c6b 18.8px,#1f0c47 19.2px,#1f0c47 19.8px,#120a31 20.2px,#120a31 20.8px,#170c3b 21.2px,#170c3b 21.8px,#380962 22.2px,#380962 22.8px,#010109 23.2px,#010005 24.8px,#210c4a 25.2px,#210c4a 25.8px,#430a68 26.2px,#430a68 26.8px,#190c3d 27.2px,#190c3d 27.8px,#060419 28.2px,#060419 28.8px,#090620 29.2px,#090620 29.8px,#040315 30.2px,#040315 30.8px,#140b36 31.2px,#140b36 31.8px,#02020c 32.2px,#02020c 32.8px,#010006 33.2px,#010006 33.8px,#0e092a 34.2px,#0e092a 34.8px,#190c3f 35.2px,#190c3f 35.8px,#0a0723 36.2px,#0a0723 36.8px,#801f6c 37.2px,#801f6c 37.8px,#0b0725 38.2px,#0b0725 38.8px,#02020d 39.2px,#02020d 39.8px,#8e2469 40.2px,#8e2469 40.8px,#000004 41.2px,#000004 41.8px,#8a226a 42.2px,#8a226a 42.8px,#040313 43.2px,#040313 43.8px,#440a68 44.2px,#440a68 44.8px,#040314 45.2px,#040315 46.8px,#1a0c40 47.2px,#1a0c40 47.8px,#230c4c 48.2px,#230c4c 48.8px,#030311 49.2px,#030311 49.8px)}.g169{background:linear-gradient(#010004 0.2px,#010004 0.8px,#040315 1.2px,#030312 2.8px,#040314 3.8px,#02020e 4.2px,#030312 5.8px,#8a226a 6.2px,#8a226a 6.8px,#090620 7.2px,#090620 7.8px,#270c52 8.2px,#270c52 8.8px,#010107 9.2px,#010107 9.8px,#07051b 10.2px,#07051c 11.8px,#02020c 12.2px,#02020c 12.8px,#060418 13.2px,#060418 13.8px,#000004 14.2px,#000004 14.8px,#110a2f 15.2px,#110a2f 15.8px,#84206b 16.2px,#84206b 16.8px,#090621 17.2px,#090620 18.8px,#010004 19.2px,#010004 19.8px,#510e6d 20.2px,#510e6d 20.8px,#410a67 21.2px,#410a67 21.8px,#040312 22.2px,#040312 22.8px,#140b36 23.2px,#140b36 23.8px,#290b54 24.2px,#290b54 24.8px,#3b0964 25.2px,#3b0964 25.8px,#300a5c 26.2px,#330a5f 27.8px,#270b52 28.2px,#270b52 28.8px,#480b6a 29.2px,#480b6a 29.8px,#0d0829 30.2px,#0f092b 31.8px,#66156e 32.2px,#66156e 32.8px,#290b54 33.2px,#290b54 33.8px,#0c0826 34.2px,#0c0826 34.8px,#120a31 35.2px,#120a31 35.8px,#040315 36.2px,#040315 36.8px,#000004 37.2px,#000004 37.8px,#0a0723 38.2px,#0a0723 38.8px,#02020d 39.2px,#02020d 39.8px,#010106 40.2px,#010106 40.8px,#08061d 41.2px,#08061d 41.8px,#67166e 42.2px,#67166e 42.8px,#050418 43.2px,#050418 43.8px,#10092d 44.2px,#10092d 44.8px,#130b34 45.2px,#140b35 47.8px,#040314 48.2px,#040314 48.8px,#010005 49.2px,#010005 49.8px)}.g170{background:linear-gradient(#06051a 0.2px,#06051a 0.8px,#170b3a 1.2px,#170b3a 1.8px,#050416 2.2px,#050416 2.8px,#000004 3.2px,#000004 3.8px,#0c0826 4.2px,#0c0826 4.8px,#040314 5.2px,#040314 5.8px,#71196e 6.2px,#71196e 6.8px,#6b176e 7.2px,#6b176e 7.8px,#040313 8.2px,#050417 9.8px,#030311 10.2px,#030311 11.8px,#08061f 12.2px,#090621 13.8px,#3b0964 14.2px,#3b0964 14.8px,#02010b 15.2px,#02010b 15.8px,#07051b 16.2px,#07051b 16.8px,#270b52 17.2px,#270b52 17.8px,#02020c 18.2px,#02020c 18.8px,#280b53 19.2px,#280b53 19.8px,#030312 20.2px,#030312 20.8px,#1d0c44 21.2px,#1d0c44 21.8px,#06051a 22.2px,#060418 23.8px,#0e092b 24.2px,#0e092b 24.8px,#3e0966 25.2px,#3e0966 25.8px,#000004 26.2px,#000004 26.8px,#08061d 27.2px,#08061d 27.8px,#030312 28.2px,#030312 28.8px,#751b6e 29.2px,#751b6e 29.8px,#040313 30.2px,#040313 30.8px,#250c4f 31.2px,#250c4f 31.8px,#010004 32.2px,#010004 32.8px,#07051c 33.2px,#07051c 33.8px,#57106d 34.2px,#57106d 34.8px,#02020e 35.2px,#02020e 35.8px,#010106 36.2px,#010106 36.8px,#10092d 37.2px,#10092d 37.8px,#050417 38.2px,#040313 40.8px,#02010a 41.2px,#02010a 41.8px,#4c0c6b 42.2px,#4c0c6b 42.8px,#010108 43.2px,#000004 44.8px,#380962 45.2px,#380962 45.8px,#000004 46.2px,#000004 46.8px,#540f6d 47.2px,#540f6d 47.8px,#210c4a 48.2px,#210c4a 48.8px,#130b34 49.2px,#130b34 49.8px)}.g171{background:linear-gradient(#040315 0.2px,#040315 0.8px,#010108 1.2px,#010108 1.8px,#0b0724 2.2px,#0b0724 2.8px,#430a68 3.2px,#430a68 3.8px,#07051b 4.2px,#07051b 4.8px,#03020f 5.2px,#03020f 5.8px,#010005 6.2px,#010005 6.8px,#090620 7.2px,#090620 7.8px,#040314 8.2px,#040314 8.8px,#2d0b58 9.2px,#2d0b58 9.8px,#02010b 10.2px,#02010b 10.8px,#090620 11.2px,#090620 11.8px,#010004 12.2px,#010004 12.8px,#090621 13.2px,#090621 13.8px,#220c4c 14.2px,#220c4c 14.8px,#02010b 15.2px,#02010b 15.8px,#000004 16.2px,#000004 16.8px,#040313 17.2px,#040313 18.8px,#130b34 19.2px,#130b34 19.8px,#460b69 20.2px,#460b69 20.8px,#010005 21.2px,#010004 22.8px,#470b6a 23.2px,#470b6a 23.8px,#210c4a 24.2px,#210c4a 24.8px,#0d0829 25.2px,#0d0829 25.8px,#140b36 26.2px,#140b36 26.8px,#050417 27.2px,#050417 27.8px,#240c4e 28.2px,#240c4e 28.8px,#010108 29.2px,#010108 29.8px,#130b34 30.2px,#130b34 30.8px,#02010b 31.2px,#02010b 31.8px,#07051c 32.2px,#07051c 32.8px,#68166e 33.2px,#68166e 33.8px,#2b0b56 34.2px,#2b0b56 34.8px,#c03a51 35.2px,#c03a51 35.8px,#010107 36.2px,#010107 36.8px,#140b36 37.2px,#140b36 37.8px,#040314 38.2px,#040314 38.8px,#02010b 39.2px,#02010b 39.8px,#030312 40.2px,#030312 40.8px,#280b53 41.2px,#280b53 41.8px,#170c3b 42.2px,#170c3b 42.8px,#040314 43.2px,#040314 43.8px,#090620 44.2px,#090620 44.8px,#902468 45.2px,#902468 45.8px,#040313 46.2px,#050418 47.8px,#fa9307 48.2px,#fa9307 48.8px,#010106 49.2px,#010106 49.8px)}.g172{background:linear-gradient(#0b0724 0.2px,#0b0724 0.8px,#010107 1.2px,#010107 1.8px,#160b3a 2.2px,#160b3a 2.8px,#040314 3.2px,#040314 3.8px,#010106 4.2px,#010106 4.8px,#1f0c47 5.2px,#1f0c47 5.8px,#040313 6.2px,#040313 6.8px,#0c0827 7.2px,#0c0827 7.8px,#1a0c40 8.2px,#1a0c40 8.8px,#0d0828 9.2px,#0d0828 9.8px,#1e0c46 10.2px,#1e0c46 10.8px,#030210 11.2px,#030210 11.8px,#200c49 12.2px,#200c49 12.8px,#02020e 13.2px,#02020e 13.8px,#140b35 14.2px,#140b35 14.8px,#0b0724 15.2px,#0b0724 15.8px,#360961 16.2px,#360961 16.8px,#88226a 17.2px,#88226a 17.8px,#010106 18.2px,#010106 19.8px,#ae305c 20.2px,#ae305c 20.8px,#040314 21.2px,#030311 22.8px,#010107 23.2px,#010107 23.8px,#030312 24.2px,#030312 24.8px,#050418 25.2px,#050418 25.8px,#000004 26.2px,#000004 26.8px,#0f092c 27.2px,#0f092c 27.8px,#440a69 28.2px,#440a69 28.8px,#040314 29.2px,#040314 31.8px,#4f0d6c 32.2px,#4f0d6c 32.8px,#08061e 33.2px,#08061e 33.8px,#010004 34.2px,#010004 34.8px,#02020e 35.2px,#030312 37.8px,#160b39 38.2px,#160b39 38.8px,#000004 39.2px,#000004 39.8px,#f06f20 40.2px,#f06f20 40.8px,#030312 41.2px,#050416 42.8px,#000004 43.2px,#010005 44.8px,#1e0c45 45.2px,#1e0c45 45.8px,#010107 46.2px,#010107 46.8px,#08061e 47.2px,#08061e 47.8px,#030210 48.2px,#030210 48.8px,#340a5f 49.2px,#340a5f 49.8px)}.g173{background:linear-gradient(#0c0827 0.2px,#0c0827 0.8px,#030210 1.2px,#030210 1.8px,#2b0b57 2.2px,#2b0b57 2.8px,#010108 3.2px,#010108 3.8px,#6e186e 4.2px,#6e186e 4.8px,#180c3d 5.2px,#180c3d 5.8px,#02010b 6.2px,#02010b 6.8px,#050417 7.2px,#040314 8.8px,#1d0c45 9.2px,#1d0c45 9.8px,#07051d 10.2px,#07051d 10.8px,#040313 11.2px,#040312 12.8px,#010107 13.2px,#010107 13.8px,#140b35 14.2px,#140b35 14.8px,#2b0b57 15.2px,#2b0b57 15.8px,#150b38 16.2px,#150b38 16.8px,#030210 17.2px,#030210 17.8px,#010109 18.2px,#010109 18.8px,#090721 19.2px,#090721 19.8px,#030312 20.2px,#030312 20.8px,#2f0a5b 21.2px,#2f0a5b 21.8px,#040312 22.2px,#050417 23.8px,#3d0965 24.2px,#3d0965 24.8px,#0e092a 25.2px,#0e092a 25.8px,#0b0724 26.2px,#0b0724 26.8px,#030311 27.2px,#030311 27.8px,#3f0966 28.2px,#3f0966 28.8px,#140b36 29.2px,#140b36 29.8px,#4b0c6b 30.2px,#4b0c6b 30.8px,#060418 31.2px,#07051c 32.8px,#390963 33.2px,#390963 33.8px,#110a30 34.2px,#110a30 34.8px,#02010a 35.2px,#02020d 36.8px,#10092e 37.2px,#10092e 37.8px,#08061f 38.2px,#08061f 38.8px,#2b0b57 39.2px,#2b0b57 39.8px,#010005 40.2px,#010005 40.8px,#3d0965 41.2px,#3d0965 41.8px,#040314 42.2px,#040314 42.8px,#07051b 43.2px,#07051b 43.8px,#030311 44.2px,#030311 44.8px,#010005 45.2px,#010005 45.8px,#2e0a5a 46.2px,#2e0a5a 46.8px,#040315 47.2px,#040315 47.8px,#140b36 48.2px,#140b36 48.8px,#010004 49.2px,#010004 49.8px)}.g174{background:linear-gradient(#290b54 0.2px,#290b54 0.8px,#040314 1.2px,#040314 1.8px,#120a31 2.2px,#120a31 2.8px,#02020d 3.2px,#02020d 3.8px,#200c49 4.2px,#200c49 4.8px,#2f0a5b 5.2px,#2f0a5b 5.8px,#02010b 6.2px,#02010b 6.8px,#180c3d 7.2px,#180c3d 7.8px,#0a0723 8.2px,#0a0723 8.8px,#741b6e 9.2px,#741b6e 9.8px,#02010b 10.2px,#02010b 10.8px,#040314 11.2px,#040313 12.8px,#150b37 13.2px,#150b37 13.8px,#430a68 14.2px,#430a68 14.8px,#110a2f 15.2px,#110a2f 15.8px,#010005 16.2px,#010005 16.8px,#110a2f 17.2px,#110a2f 17.8px,#3f0966 18.2px,#3f0966 18.8px,#250c4f 19.2px,#250c4f 19.8px,#380962 20.2px,#380962 20.8px,#160b39 21.2px,#160b39 21.8px,#03020f 22.2px,#03020f 22.8px,#260c51 23.2px,#260c51 23.8px,#b83557 24.2px,#b83557 24.8px,#010108 25.2px,#010108 25.8px,#040312 26.2px,#040312 26.8px,#2a0b55 27.2px,#2a0b55 27.8px,#69166e 28.2px,#69166e 28.8px,#0d0828 29.2px,#0d0828 29.8px,#030210 30.2px,#030210 30.8px,#08061e 31.2px,#08061e 31.8px,#02020c 32.2px,#02020c 32.8px,#040313 33.2px,#040313 33.8px,#0b0724 34.2px,#0b0724 34.8px,#65156e 35.2px,#65156e 35.8px,#07051c 36.2px,#07051c 36.8px,#050416 37.2px,#030311 38.8px,#4a0b6b 39.2px,#4a0b6b 39.8px,#07051b 40.2px,#07051b 40.8px,#6c186e 41.2px,#6c186e 41.8px,#000004 42.2px,#000004 43.8px,#2a0b56 44.2px,#2a0b56 44.8px,#010108 45.2px,#000004 46.8px,#6d186e 47.2px,#6d186e 47.8px,#140b36 48.2px,#140b36 48.8px,#220c4c 49.2px,#220c4c 49.8px)}.g175{background:linear-gradient(#02020d 0.2px,#02020d 0.8px,#050417 1.2px,#050417 1.8px,#260c51 2.2px,#260c51 2.8px,#090620 3.2px,#0a0722 4.8px,#160b39 5.2px,#160b39 5.8px,#2b0b56 6.2px,#2b0b56 6.8px,#190c3f 7.2px,#190c3f 7.8px,#10092d 8.2px,#10092d 8.8px,#170b3a 9.2px,#170b3a 9.8px,#010006 10.2px,#010006 10.8px,#6e186e 11.2px,#6e186e 11.8px,#010107 12.2px,#010107 12.8px,#150b37 13.2px,#150b37 13.8px,#0d0829 14.2px,#0d0829 14.8px,#040312 15.2px,#040312 15.8px,#010005 16.2px,#010005 16.8px,#07051c 17.2px,#07051c 17.8px,#0c0827 18.2px,#0c0827 18.8px,#060519 19.2px,#060519 19.8px,#03020f 20.2px,#03020f 20.8px,#010005 21.2px,#010005 21.8px,#1d0c44 22.2px,#1d0c44 22.8px,#2f0a5b 23.2px,#2f0a5b 23.8px,#07051d 24.2px,#07051d 24.8px,#010109 25.2px,#010109 25.8px,#390963 26.2px,#390963 26.8px,#000004 27.2px,#000004 27.8px,#8f2469 28.2px,#8f2469 28.8px,#010106 29.2px,#010106 29.8px,#63146e 30.2px,#63146e 30.8px,#1f0c47 31.2px,#1f0c47 31.8px,#250c4f 32.2px,#250c4f 32.8px,#040415 33.2px,#040415 33.8px,#150b37 34.2px,#150b37 34.8px,#912568 35.2px,#912568 35.8px,#050418 36.2px,#050418 36.8px,#0b0725 37.2px,#0b0725 37.8px,#050417 38.2px,#050417 38.8px,#1e0c46 39.2px,#1e0c46 39.8px,#85216b 40.2px,#85216b 40.8px,#010108 41.2px,#010108 41.8px,#130b34 42.2px,#130b34 42.8px,#07051c 43.2px,#07051c 43.8px,#040415 44.2px,#040415 44.8px,#2b0b57 45.2px,#2b0b57 45.8px,#010005 46.2px,#010005 46.8px,#02020d 47.2px,#010109 48.8px,#03020e 49.2px,#03020e 49.8px)}.g176{background:linear-gradient(#bb3755 0.2px,#bb3755 49.8px)}.g177{background:linear-gradient(#2d0b59 0.2px,#2d0b58 0.8px,#240c4e 1.2px,#240c4e 1.8px,#2a0b56 2.2px,#260c51 3.8px,#250c4f 5.8px,#1b0c41 6.2px,#1b0c41 6.8px,#260c51 7.2px,#260c51 7.8px,#1d0c44 8.2px,#1c0c43 8.8px,#220c4c 9.2px,#200c48 10.8px,#270b52 11.2px,#250c4f 12.8px,#270b52 13.8px,#210c4b 14.2px,#1f0c47 15.8px,#220c4b 16.8px,#290b54 17.2px,#290b54 17.8px,#200c49 18.2px,#1e0c46 19.8px,#190c3e 20.2px,#1d0c44 22.8px,#200c48 23.8px,#1f0c48 24.8px,#1c0c43 25.8px,#1d0c44 26.8px,#220c4c 27.2px,#230c4e 28.8px,#200c49 29.8px,#200c49 31.8px,#220c4c 32.8px,#160b39 33.2px,#1c0c42 36.2px,#1b0c42 36.8px,#1f0c48 37.2px,#1f0c47 37.8px,#130b33 38.2px,#130a33 38.8px,#1a0c3f 39.2px,#1a0c40 40.8px,#160b3a 41.2px,#180c3c 42.8px,#1c0c43 43.2px,#170c3b 45.8px,#170c3b 47.8px,#1b0c41 48.2px,#1b0c41 48.8px,#170b3a 49.2px,#170b3a 49.8px)}.g178{background:linear-gradient(#59116e 0.2px,#5a116e 1.8px,#57106d 2.8px,#5e126e 3.2px,#5d126e 3.8px,#63146e 4.2px,#61146e 5.8px,#58106e 6.2px,#57106e 6.8px,#65156e 7.2px,#65156e 7.8px,#5e126e 8.2px,#5d126e 8.8px,#550f6d 9.2px,#550f6d 10.8px,#5e136e 11.2px,#5e126e 11.8px,#4e0d6c 12.2px,#4d0d6c 12.8px,#65156e 13.2px,#65156e 13.8px,#57106e 14.2px,#57106e 14.8px,#5e126e 15.2px,#5c126e 16.8px,#58106e 17.8px,#450a69 18.2px,#450a69 18.8px,#510e6c 19.2px,#540f6d 20.8px,#5a116e 21.2px,#5a116e 22.8px,#530e6d 23.2px,#520e6d 24.8px,#4d0c6b 25.8px,#520e6d 26.2px,#4d0c6c 27.8px,#530f6d 28.2px,#510e6c 29.8px,#5b126e 30.2px,#5b116e 30.8px,#550f6d 31.2px,#550f6d 31.8px,#500d6c 32.2px,#4a0c6b 33.8px,#550f6d 34.2px,#4f0d6c 35.8px,#510e6c 36.8px,#4b0c6b 37.2px,#4b0c6b 37.8px,#540f6d 38.2px,#57106d 39.8px,#460b6a 40.2px,#460b69 40.8px,#56106d 41.2px,#56106d 41.8px,#420a68 42.2px,#450a69 43.8px,#4e0d6c 44.2px,#520e6d 47.8px,#490b6a 48.2px,#490b6a 48.8px,#3e0966 49.2px,#3e0966 49.8px)}.g179{background:linear-gradient(#7b1d6d 0.2px,#7b1d6d 0.8px,#731a6e 1.2px,#731a6e 1.8px,#69176e 2.2px,#69176e 2.8px,#801f6c 3.2px,#801f6c 3.8px,#791d6d 4.2px,#791c6d 4.8px,#731a6e 5.2px,#721a6e 5.8px,#6b176e 6.2px,#6a176e 6.8px,#801f6c 7.2px,#7f1e6c 8.8px,#731a6e 9.2px,#70196e 10.8px,#7f1f6c 11.2px,#7f1e6c 11.8px,#5b116e 12.2px,#5a116e 12.8px,#791c6d 13.2px,#791c6d 13.8px,#731a6e 14.2px,#721a6e 15.8px,#751b6e 16.8px,#731a6e 17.8px,#59116e 18.2px,#59116e 18.8px,#62146e 19.2px,#62146e 19.8px,#721a6e 20.2px,#69176e 24.8px,#6f196e 25.2px,#6f196e 25.8px,#5e126e 26.2px,#5d126e 27.8px,#6e186e 28.2px,#6d186e 28.8px,#5a116e 29.2px,#5a116e 29.8px,#751b6e 30.2px,#751b6e 30.8px,#64156e 31.2px,#61136e 32.8px,#67166e 33.2px,#67166e 33.8px,#6d186e 34.2px,#6d186e 34.8px,#63146e 35.2px,#60136e 36.8px,#5a116e 37.2px,#5a116e 37.8px,#5f136e 38.2px,#5f136e 38.8px,#741b6e 39.2px,#741b6e 39.8px,#550f6d 40.2px,#540f6d 40.8px,#63146e 41.2px,#5e136e 43.2px,#5c126e 44.8px,#68166e 45.2px,#63146e 47.2px,#63146e 47.8px,#550f6d 48.2px,#520e6d 49.8px)}.g180{background:linear-gradient(#83206c 0.2px,#82206c 0.8px,#711a6e 1.2px,#71196e 2.8px,#811f6c 3.2px,#811f6c 3.8px,#791c6d 4.2px,#791c6d 4.8px,#721a6e 5.2px,#71196e 6.8px,#8d2469 7.2px,#8d2469 7.8px,#82206c 8.2px,#821f6c 8.8px,#7a1d6d 9.2px,#7b1d6d 10.8px,#8c2369 11.2px,#8c2369 11.8px,#62146e 12.2px,#62146e 12.8px,#7e1e6c 13.2px,#7b1d6d 14.8px,#71196e 15.2px,#70196e 15.8px,#781c6d 16.2px,#761b6e 17.8px,#65156e 18.2px,#65156e 18.8px,#6b176e 19.2px,#6b176e 19.8px,#7f1e6c 20.2px,#791c6d 21.8px,#70196e 22.2px,#71196e 24.8px,#781c6d 25.2px,#781c6d 25.8px,#62146e 26.2px,#62146e 26.8px,#70196e 27.2px,#6f196e 27.8px,#761b6e 28.2px,#761b6e 28.8px,#57106e 29.2px,#57106d 29.8px,#7d1e6d 30.2px,#7c1e6d 30.8px,#6b176e 31.2px,#6f196e 32.8px,#68166e 33.2px,#68166e 33.8px,#731a6e 34.2px,#731a6e 34.8px,#6a176e 35.2px,#69176e 36.8px,#6c186e 37.8px,#5f136e 38.2px,#5f136e 38.8px,#771c6d 39.2px,#771c6d 39.8px,#62146e 40.2px,#62146e 40.8px,#6c186e 41.2px,#67166e 44.8px,#6d186e 45.2px,#6b176e 46.8px,#65156e 47.2px,#64156e 47.8px,#5d126e 48.2px,#5a116e 49.8px)}.g181{background:linear-gradient(#7d1e6d 0.2px,#7c1e6d 0.8px,#741b6e 1.2px,#731a6e 2.8px,#761b6e 3.8px,#70196e 4.2px,#6a176e 6.8px,#85216b 7.2px,#88226a 8.8px,#781c6d 9.2px,#7b1d6d 10.8px,#87216b 11.2px,#86216b 11.8px,#63146e 12.2px,#63146e 12.8px,#751b6e 13.2px,#791c6d 14.8px,#70196e 15.2px,#731a6e 17.8px,#7b1d6d 18.2px,#7b1d6d 18.8px,#5f136e 19.2px,#5f136e 19.8px,#7e1e6c 20.2px,#7e1e6c 20.8px,#751b6e 21.2px,#751b6e 21.8px,#69176e 22.2px,#67166e 23.8px,#771c6d 24.2px,#741b6e 25.8px,#64156e 26.2px,#63146e 26.8px,#761b6e 27.2px,#751b6e 28.8px,#540f6d 29.2px,#540f6d 29.8px,#751b6e 30.2px,#751b6e 30.8px,#5d126e 31.2px,#5d126e 31.8px,#731a6e 32.2px,#6d186e 33.8px,#6e196e 35.8px,#65156e 36.2px,#65156e 36.8px,#70196e 37.2px,#70196e 37.8px,#5f136e 38.2px,#5f136e 38.8px,#721a6e 39.2px,#721a6e 39.8px,#62146e 40.2px,#62146e 40.8px,#6b176e 41.2px,#68166e 42.8px,#721a6e 43.2px,#721a6e 43.8px,#66156e 44.2px,#66156e 44.8px,#721a6e 45.2px,#761b6e 46.8px,#62146e 47.2px,#62146e 48.8px,#4f0d6c 49.2px,#4f0d6c 49.8px)}.g182{background:linear-gradient(#771c6d 0.2px,#721a6e 1.8px,#761b6d 2.8px,#711a6e 6.8px,#7b1d6d 7.2px,#7a1d6d 7.8px,#811f6c 8.2px,#821f6c 10.8px,#7b1d6d 11.2px,#7b1d6d 11.8px,#70196e 12.2px,#70196e 12.8px,#791c6d 13.2px,#791c6d 13.8px,#70196e 14.2px,#70196e 14.8px,#791c6d 15.2px,#791c6d 15.8px,#6a176e 16.2px,#69176e 17.8px,#811f6c 18.2px,#811f6c 18.8px,#63146e 19.2px,#62146e 19.8px,#791c6d 20.2px,#7b1d6d 21.8px,#67166e 22.2px,#64156e 23.8px,#731a6e 24.2px,#6a176e 26.8px,#6d186e 27.8px,#741b6e 28.2px,#741b6e 28.8px,#5c126e 29.2px,#5c126e 29.8px,#741a6e 30.2px,#731a6e 30.8px,#5d126e 31.2px,#5d126e 31.8px,#781c6d 32.2px,#771c6d 32.8px,#66156e 33.2px,#6b176e 35.8px,#61146e 36.2px,#61146e 36.8px,#70196e 37.2px,#6f196e 37.8px,#5c126e 38.2px,#5c126e 38.8px,#65156e 39.2px,#66156e 40.8px,#61136e 41.2px,#60136e 41.8px,#711a6e 42.2px,#71196e 42.8px,#6a176e 43.2px,#6e186e 46.8px,#61146e 47.2px,#61136e 47.8px,#68166e 48.2px,#68166e 48.8px,#4b0c6b 49.2px,#4b0c6b 49.8px)}.g183{background:linear-gradient(#7d1e6d 0.2px,#7f1f6c 2.8px,#6d186e 3.2px,#6c186e 3.8px,#731a6e 4.2px,#771c6d 6.8px,#721a6e 7.8px,#7b1d6d 8.2px,#7f1f6c 9.8px,#7e1e6c 10.8px,#771c6d 11.2px,#771c6d 11.8px,#6b176e 12.2px,#6b176e 12.8px,#7a1d6d 13.2px,#7a1d6d 13.8px,#6e186e 14.2px,#6e186e 14.8px,#811f6c 15.2px,#811f6c 15.8px,#5e126e 16.2px,#5e126e 16.8px,#68166e 17.2px,#67166e 17.8px,#85216b 18.2px,#85216b 18.8px,#721a6e 19.2px,#721a6e 20.8px,#7e1e6c 21.2px,#7e1e6c 21.8px,#70196e 22.2px,#70196e 22.8px,#65156e 23.2px,#65156e 23.8px,#6a176e 24.2px,#6a176e 24.8px,#741b6e 25.2px,#741b6e 25.8px,#66156e 26.2px,#64156e 27.8px,#761b6e 28.2px,#761b6e 28.8px,#60136e 29.2px,#60136e 29.8px,#731a6e 30.2px,#721a6e 30.8px,#61146e 31.2px,#61146e 31.8px,#751b6e 32.2px,#751b6e 32.8px,#62146e 33.2px,#61146e 33.8px,#68166e 34.2px,#68166e 34.8px,#711a6e 35.2px,#711a6e 35.8px,#61136e 36.2px,#60136e 36.8px,#781c6d 37.2px,#781c6d 37.8px,#62146e 38.2px,#66156e 40.8px,#62146e 41.8px,#66156e 42.8px,#771c6d 43.2px,#771c6d 43.8px,#711a6e 44.2px,#71196e 44.8px,#65156e 45.2px,#69176e 47.8px,#68166e 48.8px,#4c0c6b 49.2px,#4c0c6b 49.8px)}.g184{background:linear-gradient(#86216b 0.2px,#89226a 1.8px,#85216b 2.8px,#70196e 3.2px,#761b6d 6.8px,#69176e 7.2px,#69176e 7.8px,#7d1e6c 8.2px,#7d1e6d 8.8px,#88226a 9.2px,#88226a 9.8px,#741a6e 10.2px,#741b6e 11.8px,#6e196e 12.2px,#71196e 13.8px,#6f196e 14.8px,#771c6d 15.2px,#771c6d 15.8px,#550f6d 16.2px,#550f6d 16.8px,#70196e 17.2px,#70196e 17.8px,#84206b 18.2px,#84206b 18.8px,#771c6d 19.2px,#761b6d 19.8px,#6e186e 20.2px,#6d186e 20.8px,#771c6d 21.2px,#741b6e 22.8px,#6e196e 23.2px,#6d186e 24.8px,#781c6d 25.2px,#771c6d 25.8px,#65156e 26.2px,#64156e 26.8px,#5c126e 27.2px,#5c126e 27.8px,#791c6d 28.2px,#791c6d 28.8px,#65156e 29.2px,#69176e 30.8px,#61146e 31.2px,#61146e 31.8px,#741b6e 32.2px,#741b6e 32.8px,#60136e 33.2px,#60136e 33.8px,#6f196e 34.2px,#70196e 35.8px,#64156e 36.2px,#64156e 36.8px,#761b6e 37.2px,#761b6e 37.8px,#6c186e 38.2px,#6a176e 39.8px,#64156e 40.2px,#60136e 41.8px,#65156e 42.8px,#7b1d6d 43.2px,#791c6d 44.8px,#5d126e 45.2px,#5d126e 45.8px,#67166e 46.2px,#63146e 47.8px,#69176e 48.2px,#69166e 48.8px,#56106d 49.2px,#56106d 49.8px)}.g185{background:linear-gradient(#88226a 0.2px,#88226a 0.8px,#972766 1.2px,#962766 1.8px,#85216b 2.2px,#85216b 2.8px,#7d1e6d 3.2px,#7c1e6d 3.8px,#69176e 4.2px,#6d186e 5.8px,#751b6e 6.2px,#751b6e 6.8px,#6c186e 7.2px,#6b176e 7.8px,#7c1d6d 8.2px,#7c1d6d 8.8px,#8a226a 9.2px,#89226a 9.8px,#6f196e 10.2px,#6f196e 10.8px,#7c1d6d 11.2px,#7b1d6d 11.8px,#731a6e 12.2px,#721a6e 12.8px,#7b1d6d 13.2px,#7a1d6d 13.8px,#68166e 14.2px,#68166e 14.8px,#751b6e 15.2px,#741b6e 15.8px,#57106d 16.2px,#56106d 16.8px,#7e1e6c 17.2px,#7e1e6c 17.8px,#741b6e 18.2px,#741b6e 18.8px,#7d1e6c 19.2px,#7d1e6d 19.8px,#70196e 20.2px,#70196e 20.8px,#791d6d 21.2px,#791c6d 23.8px,#66156e 24.2px,#66156e 24.8px,#791d6d 25.2px,#791c6d 25.8px,#66156e 26.2px,#65156e 27.8px,#741b6e 28.2px,#741b6e 28.8px,#6a176e 29.2px,#6a176e 29.8px,#63146e 30.2px,#62146e 30.8px,#721a6e 31.2px,#721a6e 31.8px,#62146e 32.2px,#5d126e 33.8px,#6f196e 34.2px,#6f196e 34.8px,#761b6d 35.2px,#761b6e 35.8px,#5f136e 36.2px,#5e136e 36.8px,#781c6d 37.2px,#781c6d 37.8px,#6c186e 38.2px,#6c186e 40.8px,#64156e 41.2px,#63146e 42.8px,#7e1e6c 43.2px,#7d1e6d 43.8px,#70196e 44.2px,#70196e 44.8px,#5e126e 45.2px,#5e136e 46.8px,#63156e 47.2px,#63146e 47.8px,#69176e 48.2px,#69176e 48.8px,#56106d 49.2px,#56106d 49.8px)}.g186{background:linear-gradient(#7e1e6c 0.2px,#7e1e6c 0.8px,#932667 1.2px,#932667 1.8px,#85216b 2.2px,#85216b 2.8px,#7d1e6d 3.2px,#7c1e6d 3.8px,#70196e 4.2px,#6c186e 5.8px,#711a6e 6.2px,#711a6e 6.8px,#69176e 7.2px,#69166e 7.8px,#801f6c 8.2px,#801f6c 8.8px,#8d2369 9.2px,#8d2369 9.8px,#6d186e 10.2px,#6d186e 10.8px,#7a1d6d 11.2px,#7a1d6d 11.8px,#731a6e 12.2px,#721a6e 12.8px,#7a1d6d 13.2px,#7a1d6d 13.8px,#71196e 14.2px,#70196e 14.8px,#761b6e 15.2px,#751b6e 15.8px,#62146e 16.2px,#61146e 16.8px,#821f6c 17.2px,#811f6c 17.8px,#70196e 18.2px,#70196e 18.8px,#7d1e6d 19.2px,#7d1e6d 19.8px,#761b6d 20.2px,#741b6e 21.8px,#7c1e6d 22.2px,#7c1d6d 22.8px,#811f6c 23.2px,#811f6c 23.8px,#64156e 24.2px,#63146e 24.8px,#771c6d 25.2px,#771c6d 25.8px,#6e186e 26.2px,#6e196e 28.8px,#791c6d 29.2px,#781c6d 29.8px,#68166e 30.2px,#68166e 30.8px,#70196e 31.2px,#70196e 31.8px,#56106d 32.2px,#58106e 33.8px,#6e186e 34.2px,#70196e 35.8px,#60136e 36.2px,#5f136e 36.8px,#731a6e 37.2px,#721a6e 37.8px,#7c1d6d 38.2px,#7b1d6d 38.8px,#6b176e 39.2px,#6b176e 39.8px,#741b6e 40.2px,#741a6e 40.8px,#6c186e 41.2px,#6c176e 41.8px,#60136e 42.2px,#60136e 42.8px,#7d1e6d 43.2px,#7d1e6d 43.8px,#68166e 44.2px,#66156e 45.8px,#5c126e 46.2px,#5c126e 46.8px,#66156e 47.2px,#64156e 48.8px,#5b116e 49.2px,#5a116e 49.8px)}.g187{background:linear-gradient(#781c6d 0.2px,#771c6d 0.8px,#952667 1.2px,#952667 1.8px,#811f6c 2.2px,#7c1d6d 4.8px,#70196e 5.2px,#70196e 5.8px,#751b6e 6.2px,#751b6e 6.8px,#63146e 7.2px,#63146e 7.8px,#7c1e6d 8.2px,#7c1d6d 8.8px,#8d2369 9.2px,#8c2369 9.8px,#7e1e6c 10.2px,#7d1e6c 10.8px,#69176e 11.2px,#69176e 11.8px,#7e1e6c 12.2px,#82206c 13.8px,#711a6e 14.2px,#71196e 14.8px,#7c1e6d 15.2px,#7c1d6d 15.8px,#62146e 16.2px,#62146e 16.8px,#7c1d6d 17.2px,#7c1d6d 17.8px,#6d186e 18.2px,#6d186e 18.8px,#7b1d6d 19.2px,#761b6e 20.8px,#7f1f6c 21.2px,#7f1f6c 21.8px,#86216b 22.2px,#82206c 23.8px,#5f136e 24.2px,#5f136e 24.8px,#6b176e 25.2px,#6b176e 25.8px,#751b6e 26.2px,#741a6e 27.8px,#6f196e 28.8px,#7b1d6d 29.2px,#7a1d6d 29.8px,#6a176e 30.2px,#6a176e 30.8px,#771c6d 31.2px,#771c6d 31.8px,#62146e 32.2px,#61146e 32.8px,#550f6d 33.2px,#550f6d 33.8px,#69166e 34.2px,#6a176e 37.8px,#7a1d6d 38.2px,#791d6d 38.8px,#6d186e 39.2px,#6d186e 40.8px,#7c1d6d 41.2px,#7c1d6d 41.8px,#5f136e 42.2px,#5f136e 42.8px,#7c1d6d 43.2px,#7c1d6d 43.8px,#64156e 44.2px,#64156e 44.8px,#69176e 45.2px,#69176e 45.8px,#58106e 46.2px,#57106e 46.8px,#70196e 47.2px,#71196e 48.8px,#59116e 49.2px,#59116e 49.8px)}.g188{background:linear-gradient(#7b1d6d 0.2px,#7b1d6d 0.8px,#89226a 1.2px,#89226a 1.8px,#7d1e6d 2.2px,#7d1e6d 2.8px,#741b6e 3.2px,#741b6e 3.8px,#7f1e6c 4.2px,#7f1e6c 4.8px,#771c6d 5.2px,#771c6d 5.8px,#811f6c 6.2px,#811f6c 6.8px,#68166e 7.2px,#68166e 7.8px,#731a6e 8.2px,#731a6e 8.8px,#7d1e6d 9.2px,#7c1e6d 9.8px,#8f2469 10.2px,#8e2469 10.8px,#65156e 11.2px,#65156e 11.8px,#7f1e6c 12.2px,#7e1e6c 12.8px,#86216b 13.2px,#86216b 13.8px,#721a6e 14.2px,#721a6e 14.8px,#801f6c 15.2px,#801f6c 15.8px,#6a176e 16.2px,#69176e 16.8px,#731a6e 17.2px,#6e186e 18.8px,#781c6d 19.2px,#781c6d 19.8px,#7f1e6c 20.2px,#7e1e6c 20.8px,#83206b 21.2px,#811f6c 23.8px,#61146e 24.2px,#5e136e 25.8px,#791c6d 26.2px,#7c1d6d 27.8px,#66156e 28.2px,#65156e 28.8px,#7b1d6d 29.2px,#7b1d6d 29.8px,#6b176e 30.2px,#6a176e 30.8px,#7c1d6d 31.2px,#7c1d6d 31.8px,#6f196e 32.2px,#6f196e 32.8px,#5e126e 33.2px,#5e126e 33.8px,#721a6e 34.2px,#6f196e 36.8px,#69166e 37.2px,#68166e 37.8px,#7f1e6c 38.2px,#7f1e6c 38.8px,#721a6e 39.2px,#711a6e 39.8px,#66156e 40.2px,#66156e 40.8px,#791c6d 41.2px,#791c6d 41.8px,#63146e 42.2px,#63146e 42.8px,#741b6e 43.2px,#741b6e 43.8px,#60136e 44.2px,#60136e 44.8px,#6e186e 45.2px,#6e186e 45.8px,#510e6d 46.2px,#510e6d 46.8px,#7c1e6d 47.2px,#7c1e6d 47.8px,#6e186e 48.2px,#6e186e 48.8px,#5d126e 49.2px,#5d126e 49.8px)}.g189{background:linear-gradient(#7e1e6c 0.2px,#7e1e6c 0.8px,#84206b 1.2px,#86216b 2.8px,#751b6e 3.2px,#751b6e 3.8px,#83206b 4.2px,#83206b 4.8px,#771c6d 5.2px,#7a1d6d 6.8px,#6c186e 7.2px,#6c186e 7.8px,#751b6e 8.2px,#791c6d 9.8px,#902568 10.2px,#902468 10.8px,#68166e 11.2px,#68166e 11.8px,#801f6c 12.2px,#7f1f6c 12.8px,#85206b 13.2px,#84206b 13.8px,#6f196e 14.2px,#6f196e 14.8px,#7b1d6d 15.2px,#7b1d6d 15.8px,#6f196e 16.2px,#6f196e 17.8px,#721a6e 18.8px,#6a176e 19.2px,#6a176e 19.8px,#84206b 20.2px,#7d1e6d 23.8px,#71196e 24.2px,#70196e 24.8px,#61146e 25.2px,#61146e 25.8px,#771c6d 26.2px,#7b1d6d 27.8px,#6d186e 28.2px,#6d186e 28.8px,#741b6e 29.2px,#741b6e 29.8px,#6a176e 30.2px,#6a176e 30.8px,#771c6d 31.2px,#761b6e 32.8px,#6d186e 33.2px,#6d186e 33.8px,#781c6d 34.2px,#781c6d 34.8px,#71196e 35.2px,#70196e 35.8px,#771c6d 36.2px,#771c6d 36.8px,#5f136e 37.2px,#5f136e 37.8px,#7d1e6c 38.2px,#7d1e6d 38.8px,#781c6d 39.2px,#781c6d 39.8px,#68166e 40.2px,#68166e 40.8px,#751b6e 41.2px,#70196e 42.8px,#721a6e 43.8px,#64156e 44.2px,#67166e 45.8px,#56106d 46.2px,#560f6d 46.8px,#721a6e 47.2px,#721a6e 48.8px,#5a116e 49.2px,#5a116e 49.8px)}.g190{background:linear-gradient(#7f1f6c 0.2px,#83206b 1.8px,#7f1f6c 2.8px,#751b6e 3.2px,#751b6e 3.8px,#7d1e6c 4.2px,#7c1e6d 6.8px,#711a6e 7.2px,#71196e 7.8px,#771c6d 8.2px,#771c6d 9.8px,#8b236a 10.2px,#8b236a 10.8px,#741b6e 11.2px,#741a6e 11.8px,#7e1e6c 12.2px,#82206c 13.8px,#69176e 14.2px,#69166e 14.8px,#71196e 15.2px,#70196e 15.8px,#761b6e 16.2px,#731a6e 18.8px,#64156e 19.2px,#64156e 19.8px,#84206b 20.2px,#7f1e6c 21.8px,#741b6e 22.2px,#741a6e 22.8px,#7d1e6c 23.2px,#7d1e6d 23.8px,#771c6d 24.2px,#771c6d 24.8px,#70196e 25.2px,#711a6e 26.8px,#7b1d6d 27.2px,#7b1d6d 27.8px,#6d186e 28.2px,#6d186e 28.8px,#731a6e 29.2px,#731a6e 29.8px,#64156e 30.2px,#64156e 30.8px,#7a1d6d 31.2px,#7a1d6d 31.8px,#711a6e 32.2px,#711a6e 32.8px,#791c6d 33.2px,#791c6d 33.8px,#8a226a 34.2px,#8a226a 34.8px,#6c186e 35.2px,#6b176e 35.8px,#781c6d 36.2px,#781c6d 36.8px,#5c126e 37.2px,#5c126e 37.8px,#791c6d 38.2px,#7a1d6d 39.8px,#60136e 40.2px,#60136e 41.8px,#731a6e 42.2px,#711a6e 43.8px,#5a116e 44.2px,#5a116e 44.8px,#66166e 45.2px,#61146e 46.8px,#69166e 47.2px,#68166e 47.8px,#6e186e 48.2px,#6e186e 48.8px,#4d0d6c 49.2px,#4d0d6c 49.8px)}.g191{background:linear-gradient(#731a6e 0.2px,#731a6e 0.8px,#821f6c 1.2px,#7b1d6d 3.8px,#811f6c 4.2px,#811f6c 5.8px,#761b6e 6.2px,#761b6e 7.8px,#7f1e6c 8.2px,#801f6c 10.8px,#791c6d 12.8px,#811f6c 13.2px,#811f6c 13.8px,#64156e 14.2px,#64156e 14.8px,#6e196e 15.2px,#6e186e 15.8px,#801f6c 16.2px,#7b1d6d 17.8px,#6d186e 18.2px,#68166e 19.8px,#801f6c 20.2px,#7a1d6d 21.8px,#811f6c 24.8px,#7d1e6d 25.8px,#6e196e 26.2px,#6e186e 26.8px,#751b6e 27.2px,#781c6d 29.8px,#70196e 30.2px,#70196e 30.8px,#791d6d 31.2px,#791c6d 31.8px,#6d186e 32.2px,#6d186e 32.8px,#761b6e 33.2px,#761b6e 33.8px,#801f6c 34.2px,#7f1f6c 34.8px,#68166e 35.2px,#6a176e 36.8px,#5a116e 37.2px,#5a116e 37.8px,#791c6d 38.2px,#791c6d 38.8px,#731a6e 39.2px,#731a6e 39.8px,#6b176e 40.2px,#6a176e 40.8px,#5b116e 41.2px,#5b116e 41.8px,#6c186e 42.2px,#6b176e 43.8px,#540f6d 44.2px,#540f6d 44.8px,#69176e 45.2px,#65156e 47.2px,#65156e 47.8px,#6b176e 48.2px,#6b176e 48.8px,#520e6d 49.2px,#520e6d 49.8px)}.g192{background:linear-gradient(#6e186e 0.2px,#6e186e 0.8px,#85216b 1.2px,#85206b 1.8px,#7f1e6c 2.2px,#82206c 4.8px,#88226a 5.2px,#88226a 5.8px,#7a1d6d 6.2px,#7a1d6d 6.8px,#711a6e 7.2px,#711a6e 7.8px,#781c6d 8.2px,#781c6d 8.8px,#87216b 9.2px,#86216b 9.8px,#801f6c 10.2px,#801f6c 10.8px,#731a6e 11.2px,#731a6e 11.8px,#7e1e6c 12.2px,#7e1e6c 13.8px,#5f136e 14.2px,#5f136e 14.8px,#791c6d 15.2px,#781c6d 15.8px,#811f6c 16.2px,#7d1e6c 17.8px,#61146e 18.2px,#61146e 18.8px,#751b6e 19.2px,#751b6e 19.8px,#7d1e6d 20.2px,#781c6d 21.8px,#811f6c 22.2px,#811f6c 22.8px,#8c2369 23.2px,#8c2369 23.8px,#7b1d6d 24.2px,#7b1d6d 24.8px,#88226a 25.2px,#88226a 25.8px,#6c186e 26.2px,#6b176e 26.8px,#761b6d 27.2px,#761b6e 27.8px,#82206c 28.2px,#82206c 28.8px,#741b6e 29.2px,#721a6e 30.8px,#7b1d6d 31.2px,#7a1d6d 31.8px,#6b176e 32.2px,#6a176e 32.8px,#741b6e 33.2px,#741b6e 33.8px,#82206c 34.2px,#821f6c 34.8px,#69166e 35.2px,#6d186e 36.8px,#6a176e 37.8px,#711a6e 38.2px,#711a6e 38.8px,#65156e 39.2px,#65156e 39.8px,#6a176e 40.2px,#6a176e 40.8px,#64156e 41.2px,#68166e 42.8px,#65156e 43.8px,#5c126e 44.2px,#59116e 45.8px,#721a6e 46.2px,#721a6e 46.8px,#67166e 47.2px,#65156e 48.8px,#550f6d 49.2px,#550f6d 49.8px)}.g193{background:linear-gradient(#751b6e 0.2px,#741b6e 0.8px,#86216b 1.2px,#86216b 1.8px,#761b6e 2.2px,#761b6e 2.8px,#87216b 3.2px,#88226a 4.8px,#8d2469 5.2px,#8d2469 5.8px,#811f6c 6.2px,#801f6c 6.8px,#70196e 7.2px,#6f196e 7.8px,#7f1f6c 8.2px,#811f6c 9.8px,#7b1d6d 10.2px,#7b1d6d 10.8px,#6e186e 11.2px,#6e186e 11.8px,#7b1d6d 12.2px,#7b1d6d 12.8px,#711a6e 13.2px,#71196e 13.8px,#63146e 14.2px,#63146e 14.8px,#83206b 15.2px,#7d1e6d 17.8px,#60136e 18.2px,#60136e 18.8px,#731a6e 19.2px,#741b6e 20.8px,#7b1d6d 21.2px,#7e1e6c 22.8px,#88226a 23.2px,#88226a 23.8px,#761b6d 24.2px,#761b6e 24.8px,#83206c 25.2px,#82206c 25.8px,#711a6e 26.2px,#741a6e 27.8px,#84206b 28.2px,#84206b 28.8px,#711a6e 29.2px,#71196e 29.8px,#68166e 30.2px,#67166e 30.8px,#781c6d 31.2px,#771c6d 31.8px,#66166e 32.2px,#66156e 32.8px,#741b6e 33.2px,#741b6e 33.8px,#811f6c 34.2px,#811f6c 34.8px,#711a6e 35.2px,#711a6e 35.8px,#67166e 36.2px,#67166e 36.8px,#721a6e 37.2px,#731a6e 38.8px,#61146e 39.2px,#61136e 39.8px,#66156e 40.2px,#68166e 41.8px,#63146e 42.8px,#66166e 43.8px,#5f136e 45.8px,#6a176e 46.2px,#6a176e 46.8px,#71196e 47.2px,#70196e 47.8px,#60136e 48.2px,#60136e 48.8px,#66156e 49.2px,#66156e 49.8px)}.g194{background:linear-gradient(#721a6e 0.2px,#721a6e 0.8px,#811f6c 1.2px,#801f6c 1.8px,#741a6e 2.2px,#731a6e 2.8px,#801f6c 3.2px,#801f6c 3.8px,#932667 4.2px,#922568 5.8px,#87216b 6.2px,#86216b 6.8px,#721a6e 7.2px,#711a6e 7.8px,#7f1e6c 8.2px,#7b1d6d 10.8px,#741b6e 11.2px,#741b6e 11.8px,#7b1d6d 12.2px,#781c6d 13.8px,#6a176e 14.2px,#6a176e 14.8px,#8c2369 15.2px,#8c2369 15.8px,#82206c 16.2px,#821f6c 16.8px,#761b6e 17.2px,#761b6e 17.8px,#6a176e 18.2px,#69176e 18.8px,#7e1e6c 19.2px,#7e1e6c 19.8px,#781c6d 20.2px,#781c6d 20.8px,#85216b 21.2px,#85216b 21.8px,#7b1d6d 22.2px,#7b1d6d 22.8px,#85216b 23.2px,#84206b 23.8px,#781c6d 24.2px,#771c6d 26.8px,#731a6e 27.8px,#8a226a 28.2px,#8a226a 28.8px,#741b6e 29.2px,#741a6e 29.8px,#67166e 30.2px,#67166e 30.8px,#761b6e 31.2px,#761b6e 31.8px,#62146e 32.2px,#62146e 32.8px,#731a6e 33.2px,#731a6e 33.8px,#811f6c 34.2px,#811f6c 34.8px,#741b6e 35.2px,#6f196e 36.8px,#771c6d 37.2px,#791d6d 38.8px,#61146e 39.2px,#66156e 40.8px,#761b6d 41.2px,#761b6d 41.8px,#69166e 42.2px,#68166e 42.8px,#61146e 43.2px,#61146e 43.8px,#6f196e 44.2px,#6f196e 44.8px,#64156e 45.2px,#61146e 46.8px,#6d186e 47.2px,#6a176e 49.8px)}.g195{background:linear-gradient(#791c6d 0.2px,#781c6d 0.8px,#84206b 1.2px,#84206b 1.8px,#7a1d6d 2.2px,#781c6d 3.8px,#982766 4.2px,#982766 4.8px,#8f2469 5.2px,#8d2369 6.8px,#761b6e 7.2px,#761b6e 7.8px,#85216b 8.2px,#85216b 8.8px,#791c6d 9.2px,#741b6e 10.8px,#7e1e6c 11.2px,#7e1e6c 11.8px,#781c6d 12.2px,#771c6d 12.8px,#88226a 13.2px,#87216a 13.8px,#791c6d 14.2px,#781c6d 14.8px,#8b2369 15.2px,#8b236a 15.8px,#7a1d6d 16.2px,#791c6d 16.8px,#6c186e 17.2px,#6b176e 17.8px,#741a6e 18.2px,#731a6e 18.8px,#86216b 19.2px,#85216b 19.8px,#731a6e 20.2px,#731a6e 20.8px,#85206b 21.2px,#84206b 21.8px,#70196e 22.2px,#6f196e 22.8px,#7a1d6d 23.2px,#761b6e 24.8px,#781c6d 25.8px,#821f6c 26.2px,#811f6c 26.8px,#67166e 27.2px,#67166e 27.8px,#84206b 28.2px,#84206b 28.8px,#71196e 29.2px,#71196e 29.8px,#68166e 30.2px,#68166e 30.8px,#711a6e 31.2px,#711a6e 31.8px,#63146e 32.2px,#63146e 32.8px,#6d186e 33.2px,#6d186e 33.8px,#82206c 34.2px,#821f6c 34.8px,#71196e 35.2px,#70196e 35.8px,#771c6d 36.2px,#741b6e 38.8px,#67166e 39.2px,#63146e 40.8px,#741b6e 41.2px,#741b6e 41.8px,#6b176e 42.2px,#6b176e 42.8px,#5b116e 43.2px,#5b116e 43.8px,#62146e 44.2px,#62146e 44.8px,#6a176e 45.2px,#65156e 46.8px,#6b176e 47.2px,#6b176e 47.8px,#62146e 48.2px,#61146e 49.8px)}.g196{background:linear-gradient(#7e1e6c 0.2px,#821f6c 1.8px,#801f6c 2.8px,#731a6e 3.2px,#731a6e 3.8px,#932667 4.2px,#932567 4.8px,#89226a 5.2px,#89226a 5.8px,#8e2469 6.2px,#8d2469 6.8px,#781c6d 7.2px,#781c6d 7.8px,#912568 8.2px,#912568 8.8px,#731a6e 9.2px,#711a6e 10.8px,#8d2369 11.2px,#8d2369 11.8px,#7d1e6c 12.2px,#7d1e6d 12.8px,#912568 13.2px,#912568 13.8px,#791c6d 14.2px,#791c6d 14.8px,#85216b 15.2px,#85216b 15.8px,#751b6e 16.2px,#751b6e 16.8px,#65156e 17.2px,#65156e 17.8px,#7e1e6c 18.2px,#7e1e6c 18.8px,#8b236a 19.2px,#8a236a 19.8px,#6d186e 20.2px,#6d186e 20.8px,#83206b 21.2px,#83206c 21.8px,#721a6e 22.2px,#761b6d 25.8px,#7c1e6d 26.2px,#7c1d6d 26.8px,#6d186e 27.2px,#6d186e 27.8px,#7f1e6c 28.2px,#7f1e6c 28.8px,#761b6e 29.2px,#751b6e 30.8px,#6e186e 32.2px,#6e186e 32.8px,#66156e 33.2px,#65156e 33.8px,#751b6e 34.2px,#741b6e 34.8px,#64156e 35.2px,#64156e 35.8px,#7e1e6c 36.2px,#7e1e6c 36.8px,#731a6e 37.2px,#731a6e 38.8px,#6b176e 39.2px,#6a176e 39.8px,#731a6e 40.2px,#731a6e 40.8px,#6c186e 41.2px,#68166e 42.8px,#60136e 43.2px,#60136e 43.8px,#6e186e 44.2px,#6f196e 45.8px,#68166e 46.2px,#65156e 48.8px,#5e126e 49.2px,#5e126e 49.8px)}.g197{background:linear-gradient(#7f1f6c 0.2px,#86216b 2.8px,#751b6e 3.2px,#751b6e 3.8px,#8d2369 4.2px,#8c2369 4.8px,#83206b 5.2px,#83206b 5.8px,#8b2369 6.2px,#8b236a 6.8px,#7b1d6d 7.2px,#7a1d6d 7.8px,#88226a 8.2px,#88226a 8.8px,#791c6d 9.2px,#781c6d 9.8px,#71196e 10.2px,#70196e 10.8px,#8b236a 11.2px,#8b236a 11.8px,#7c1d6d 12.2px,#7c1d6d 12.8px,#8c2369 13.2px,#8b2369 13.8px,#85216b 14.2px,#85206b 14.8px,#7b1d6d 15.2px,#761b6d 16.8px,#64156e 17.2px,#64156e 17.8px,#821f6c 18.2px,#84206b 19.8px,#68166e 20.2px,#68166e 20.8px,#7b1d6d 21.2px,#761b6d 22.8px,#6c186e 23.2px,#70196e 24.8px,#7c1d6d 25.2px,#771c6d 26.8px,#70196e 27.2px,#70196e 27.8px,#791c6d 28.2px,#781c6d 28.8px,#6e196e 29.2px,#6e186e 29.8px,#771c6d 30.2px,#771c6d 30.8px,#69166e 31.2px,#68166e 31.8px,#791c6d 32.2px,#791c6d 32.8px,#62146e 33.2px,#62146e 33.8px,#7a1d6d 34.2px,#7a1d6d 34.8px,#6b176e 35.2px,#6a176e 35.8px,#83206b 36.2px,#83206b 36.8px,#771c6d 37.2px,#771c6d 37.8px,#65156e 38.2px,#67166e 39.8px,#741b6e 40.2px,#741a6e 40.8px,#69176e 41.2px,#69176e 41.8px,#6e186e 42.2px,#6e186e 42.8px,#68166e 43.2px,#68166e 43.8px,#6e186e 44.2px,#6f196e 45.8px,#761b6e 46.2px,#761b6e 46.8px,#5f136e 47.2px,#62146e 48.8px,#67166e 49.2px,#67166e 49.8px)}.g198{background:linear-gradient(#83206b 0.2px,#811f6c 1.8px,#8d2469 2.2px,#8d2369 2.8px,#761b6e 3.2px,#751b6e 3.8px,#88226a 4.2px,#87216a 4.8px,#801f6c 5.2px,#811f6c 8.8px,#751b6e 9.2px,#751b6e 9.8px,#6e186e 10.2px,#6e186e 10.8px,#82206c 11.2px,#821f6c 11.8px,#88226a 12.2px,#89226a 13.8px,#811f6c 14.2px,#811f6c 14.8px,#791d6d 15.2px,#6f196e 17.8px,#811f6c 18.2px,#7f1e6c 19.8px,#6b176e 20.2px,#6b176e 20.8px,#751b6e 21.2px,#751b6e 21.8px,#7d1e6d 22.2px,#7c1e6d 22.8px,#6d186e 23.2px,#69176e 24.8px,#781c6d 25.2px,#781c6d 25.8px,#6e186e 26.2px,#6e186e 26.8px,#7a1d6d 27.2px,#7a1d6d 27.8px,#731a6e 28.2px,#721a6e 28.8px,#6a176e 29.2px,#69176e 29.8px,#741b6e 30.2px,#741a6e 30.8px,#6e196e 31.2px,#6e186e 31.8px,#781c6d 32.2px,#781c6d 32.8px,#64156e 33.2px,#64156e 33.8px,#751b6e 34.2px,#721a6e 35.8px,#84206b 36.2px,#84206b 36.8px,#741b6e 37.2px,#741b6e 37.8px,#61146e 38.2px,#63146e 39.8px,#741a6e 40.2px,#731a6e 40.8px,#6b176e 41.2px,#6f196e 42.8px,#67166e 43.2px,#66166e 43.8px,#70196e 44.2px,#70196e 44.8px,#68166e 45.2px,#67166e 45.8px,#781c6d 46.2px,#781c6d 46.8px,#59106e 47.2px,#58106e 47.8px,#5f136e 48.2px,#5f136e 48.8px,#6c186e 49.2px,#6c186e 49.8px)}.g199{background:linear-gradient(#84206b 0.2px,#811f6c 1.8px,#8a226a 2.2px,#89226a 2.8px,#761b6e 3.2px,#761b6e 3.8px,#84206b 4.2px,#82206c 5.8px,#6f196e 6.2px,#6e196e 6.8px,#83206b 7.2px,#801f6c 8.8px,#7a1d6d 9.2px,#7a1d6d 9.8px,#70196e 10.2px,#70196e 10.8px,#7a1d6d 11.2px,#791d6d 11.8px,#8b236a 12.2px,#8a226a 12.8px,#801f6c 13.2px,#7b1d6d 15.8px,#7e1e6c 16.8px,#6f196e 17.2px,#6f196e 17.8px,#82206c 18.2px,#82206c 18.8px,#791c6d 19.2px,#781c6d 19.8px,#721a6e 20.2px,#761b6e 21.8px,#7b1d6d 22.2px,#7b1d6d 22.8px,#6f196e 23.2px,#6f196e 23.8px,#67166e 24.2px,#6b176e 25.8px,#721a6e 26.2px,#721a6e 26.8px,#86216b 27.2px,#86216b 27.8px,#6e186e 28.2px,#6e186e 28.8px,#63146e 29.2px,#63146e 29.8px,#6f196e 30.2px,#6a176e 31.8px,#731a6e 32.2px,#721a6e 32.8px,#66156e 33.2px,#66156e 33.8px,#711a6e 34.2px,#761b6e 35.8px,#7b1d6d 36.2px,#771c6d 37.8px,#65156e 38.2px,#65156e 38.8px,#5c126e 39.2px,#5b116e 39.8px,#6a176e 40.2px,#6a176e 40.8px,#70196e 41.2px,#70196e 41.8px,#761b6e 42.2px,#761b6e 42.8px,#66166e 43.2px,#66166e 43.8px,#6c186e 44.2px,#69176e 45.8px,#7a1d6d 46.2px,#791d6d 46.8px,#60136e 47.2px,#60136e 47.8px,#6c186e 48.2px,#6f196e 49.8px)}.g200{background:linear-gradient(#83206b 0.2px,#83206c 1.8px,#89226a 2.2px,#89226a 2.8px,#83206b 3.2px,#83206c 3.8px,#7c1d6d 4.2px,#7b1d6d 4.8px,#88226a 5.2px,#88226a 5.8px,#6b176e 6.2px,#6b176e 6.8px,#85216b 7.2px,#83206c 8.8px,#7e1e6c 9.8px,#6f196e 10.2px,#6f196e 10.8px,#82206c 11.2px,#83206b 12.8px,#771c6d 13.2px,#771c6d 14.8px,#7b1d6d 15.8px,#8b236a 16.2px,#8b236a 16.8px,#741b6e 17.2px,#741b6e 17.8px,#7f1f6c 18.2px,#7f1f6c 18.8px,#791c6d 19.2px,#791c6d 19.8px,#801f6c 20.2px,#7f1f6c 22.8px,#791d6d 23.2px,#791c6d 23.8px,#67166e 24.2px,#64156e 25.8px,#731a6e 26.2px,#731a6e 26.8px,#83206b 27.2px,#83206c 27.8px,#781c6d 28.2px,#771c6d 28.8px,#69176e 29.2px,#68166e 30.8px,#771c6d 31.2px,#771c6d 31.8px,#70196e 32.2px,#6f196e 34.8px,#761b6e 35.2px,#761b6e 35.8px,#7d1e6d 36.2px,#7d1e6d 36.8px,#771c6d 37.2px,#771c6d 37.8px,#65156e 38.2px,#65156e 38.8px,#5c126e 39.2px,#5c126e 39.8px,#62146e 40.2px,#62146e 40.8px,#6d186e 41.2px,#71196e 42.8px,#63146e 43.2px,#63146e 43.8px,#5b116e 44.2px,#5b116e 44.8px,#6a176e 45.2px,#6a176e 45.8px,#7e1e6c 46.2px,#7e1e6c 46.8px,#5e126e 47.2px,#5d126e 47.8px,#721a6e 48.2px,#6f196e 49.8px)}.g201{background:linear-gradient(#821f6c 0.2px,#811f6c 1.8px,#88226a 2.2px,#87216b 3.8px,#7d1e6d 4.2px,#7d1e6d 4.8px,#87216a 5.2px,#87216b 5.8px,#6e196e 6.2px,#6e186e 6.8px,#801f6c 7.2px,#801f6c 7.8px,#8b236a 8.2px,#8a226a 8.8px,#84206b 9.2px,#801f6c 10.8px,#87216b 11.2px,#84206b 12.8px,#721a6e 13.2px,#731a6e 14.8px,#791c6d 15.2px,#781c6d 15.8px,#89226a 16.2px,#88226a 16.8px,#741b6e 17.2px,#741b6e 17.8px,#7e1e6c 18.2px,#781c6d 20.8px,#84206b 21.2px,#84206b 21.8px,#791c6d 22.2px,#7a1d6d 23.8px,#6f196e 24.2px,#6e196e 24.8px,#63146e 25.2px,#62146e 25.8px,#7a1d6d 26.2px,#7a1d6d 26.8px,#83206c 27.2px,#82206c 27.8px,#771c6d 28.2px,#761b6d 28.8px,#70196e 29.2px,#6f196e 29.8px,#67166e 30.2px,#67166e 30.8px,#7a1d6d 31.2px,#7a1d6d 31.8px,#6a176e 32.2px,#6a176e 32.8px,#721a6e 33.2px,#6f196e 34.8px,#731a6e 36.8px,#6e196e 37.8px,#6f196e 38.8px,#5d126e 39.2px,#5d126e 39.8px,#63146e 40.2px,#63146e 40.8px,#771c6d 41.2px,#771c6d 41.8px,#6c186e 42.2px,#6b176e 42.8px,#5e136e 43.2px,#5c126e 44.8px,#761b6e 45.2px,#761b6e 45.8px,#7d1e6d 46.2px,#7c1e6d 46.8px,#64156e 47.2px,#63146e 47.8px,#741a6e 48.2px,#731a6e 48.8px,#63146e 49.2px,#63146e 49.8px)}.g202{background:linear-gradient(#7d1e6d 0.2px,#7a1d6d 2.8px,#912568 3.2px,#902568 3.8px,#86216b 4.2px,#82206c 5.8px,#6f196e 6.2px,#6f196e 6.8px,#7e1e6c 7.2px,#7d1e6d 7.8px,#902468 8.2px,#8f2468 8.8px,#83206b 9.2px,#82206c 10.8px,#8d2369 11.2px,#8c2369 11.8px,#771c6d 12.2px,#771c6d 12.8px,#711a6e 13.2px,#711a6e 13.8px,#771c6d 14.2px,#7a1d6d 15.8px,#89226a 16.2px,#88226a 16.8px,#771c6d 17.2px,#771c6d 20.8px,#811f6c 21.2px,#801f6c 21.8px,#721a6e 22.2px,#721a6e 22.8px,#801f6c 23.2px,#801f6c 23.8px,#791c6d 24.2px,#781c6d 24.8px,#6a176e 25.2px,#6a176e 25.8px,#7b1d6d 26.2px,#7d1e6d 27.8px,#731a6e 28.2px,#721a6e 29.8px,#66156e 30.2px,#65156e 30.8px,#82206c 31.2px,#82206c 31.8px,#6c186e 32.2px,#6c186e 32.8px,#791c6d 33.2px,#7c1d6d 34.8px,#781c6d 35.8px,#6f196e 36.2px,#6f196e 36.8px,#66166e 37.2px,#69166e 40.8px,#741b6e 41.2px,#741a6e 41.8px,#65156e 42.2px,#66166e 43.8px,#5a116e 44.2px,#5a116e 44.8px,#751b6e 45.2px,#751b6e 45.8px,#82206c 46.2px,#82206c 46.8px,#6e186e 47.2px,#6e186e 47.8px,#7c1d6d 48.2px,#7b1d6d 48.8px,#5f136e 49.2px,#5f136e 49.8px)}.g203{background:linear-gradient(#761b6e 0.2px,#7c1d6d 2.8px,#8d2369 3.2px,#8d2369 3.8px,#922567 4.2px,#922568 4.8px,#7f1e6c 5.2px,#7e1e6c 5.8px,#751b6e 6.2px,#751b6e 6.8px,#7d1e6d 7.2px,#7d1e6d 7.8px,#8c2369 8.2px,#8b2369 8.8px,#85216b 9.2px,#801f6c 10.8px,#88226a 11.2px,#87216a 11.8px,#771c6d 12.2px,#771c6d 12.8px,#801f6c 13.2px,#7f1f6c 13.8px,#781c6d 14.2px,#7b1d6d 15.8px,#84206b 16.2px,#85216b 17.8px,#771c6d 18.2px,#761b6d 18.8px,#82206c 19.2px,#821f6c 19.8px,#781c6d 20.2px,#781c6d 20.8px,#811f6c 21.2px,#811f6c 21.8px,#71196e 22.2px,#70196e 22.8px,#7e1e6c 23.2px,#811f6c 24.8px,#71196e 25.2px,#70196e 25.8px,#7c1d6d 26.2px,#7d1e6d 27.8px,#731a6e 28.2px,#771c6d 29.8px,#6f196e 30.2px,#6f196e 30.8px,#85216b 31.2px,#85216b 31.8px,#65156e 32.2px,#65156e 32.8px,#811f6c 33.2px,#811f6c 33.8px,#781c6d 34.2px,#7a1d6d 35.8px,#68166e 36.2px,#6a176e 37.8px,#741a6e 38.2px,#731a6e 38.8px,#6a176e 39.2px,#69176e 40.8px,#761b6e 41.2px,#751b6e 41.8px,#64156e 42.2px,#64156e 42.8px,#69176e 43.2px,#69176e 43.8px,#62146e 44.2px,#62146e 44.8px,#751b6e 45.2px,#781c6d 46.8px,#6b176e 47.2px,#6b176e 47.8px,#751b6e 48.2px,#751b6e 48.8px,#58106e 49.2px,#58106e 49.8px)}.g204{background:linear-gradient(#7c1d6d 0.2px,#7b1d6d 0.8px,#741b6e 1.2px,#781c6d 2.8px,#86216b 3.2px,#85216b 3.8px,#962766 4.2px,#962766 4.8px,#7c1e6d 5.2px,#7c1e6d 5.8px,#741b6e 6.2px,#741a6e 6.8px,#811f6c 7.2px,#801f6c 7.8px,#85216b 8.2px,#85216b 8.8px,#7d1e6c 9.2px,#801f6c 10.8px,#7d1e6c 11.8px,#721a6e 12.2px,#721a6e 12.8px,#84206b 13.2px,#7e1e6c 14.8px,#781c6d 15.2px,#771c6d 15.8px,#7e1e6c 16.2px,#7e1e6c 16.8px,#83206b 17.2px,#82206c 17.8px,#6c186e 18.2px,#6c186e 18.8px,#7f1e6c 19.2px,#7f1f6c 20.8px,#791c6d 21.2px,#731a6e 22.8px,#83206b 23.2px,#7f1e6c 24.8px,#711a6e 25.2px,#71196e 25.8px,#791c6d 26.2px,#7d1e6d 27.8px,#68166e 28.2px,#68166e 28.8px,#7a1d6d 29.2px,#791d6d 29.8px,#741b6e 30.2px,#741a6e 30.8px,#7e1e6c 31.2px,#7e1e6c 31.8px,#6c186e 32.2px,#6c186e 32.8px,#7a1d6d 33.2px,#781c6d 34.8px,#7e1e6c 35.2px,#7e1e6c 35.8px,#69176e 36.2px,#69176e 36.8px,#721a6e 37.2px,#721a6e 37.8px,#7b1d6d 38.2px,#7b1d6d 38.8px,#6d186e 39.2px,#6d186e 39.8px,#721a6e 40.2px,#721a6e 40.8px,#7c1d6d 41.2px,#7c1d6d 41.8px,#63146e 42.2px,#64156e 43.8px,#741b6e 44.2px,#761b6e 45.8px,#71196e 46.8px,#67166e 47.2px,#67166e 47.8px,#741b6e 48.2px,#741b6e 48.8px,#5a116e 49.2px,#5a116e 49.8px)}.g205{background:linear-gradient(#7a1d6d 0.2px,#7d1e6c 1.8px,#7c1d6d 2.8px,#84206b 3.2px,#83206b 3.8px,#9e2a63 4.2px,#9e2a63 4.8px,#84206b 5.2px,#83206b 5.8px,#6e186e 6.2px,#6d186e 6.8px,#7e1e6c 7.2px,#7d1e6c 7.8px,#84206b 8.2px,#87216b 9.8px,#801f6c 10.2px,#801f6c 10.8px,#791c6d 11.2px,#731a6e 12.8px,#8d2369 13.2px,#8c2369 14.8px,#7e1e6c 15.2px,#7d1e6d 15.8px,#771c6d 16.2px,#771c6d 16.8px,#811f6c 17.2px,#811f6c 17.8px,#761b6e 18.2px,#761b6e 18.8px,#86216b 19.2px,#85216b 20.8px,#7c1e6d 21.2px,#84206b 23.8px,#811f6c 24.8px,#741b6e 25.2px,#741a6e 25.8px,#7b1d6d 26.2px,#7f1e6c 27.8px,#64156e 28.2px,#64156e 28.8px,#7a1d6d 29.2px,#741b6e 30.8px,#6f196e 31.2px,#6c186e 32.8px,#731a6e 33.2px,#731a6e 33.8px,#69166e 34.2px,#69166e 34.8px,#7c1e6d 35.2px,#7c1d6d 35.8px,#6a176e 36.2px,#6a176e 36.8px,#741b6e 37.2px,#761b6e 38.8px,#6b176e 39.2px,#6a176e 39.8px,#7b1d6d 40.2px,#781c6d 41.8px,#64156e 42.2px,#67166e 43.8px,#7d1e6c 44.2px,#7d1e6d 44.8px,#71196e 45.2px,#6c186e 46.8px,#70196e 48.8px,#5d126e 49.2px,#5d126e 49.8px)}.g206{background:linear-gradient(#801f6c 0.2px,#82206c 2.8px,#7d1e6d 3.2px,#7d1e6d 3.8px,#932667 4.2px,#932567 4.8px,#8c2369 5.2px,#8c2369 5.8px,#781c6d 6.2px,#771c6d 6.8px,#6e186e 7.2px,#6d186e 7.8px,#8a226a 8.2px,#8a226a 8.8px,#912568 9.2px,#912568 9.8px,#7b1d6d 10.2px,#7b1d6d 10.8px,#70196e 11.2px,#70196e 11.8px,#751b6e 12.2px,#751b6e 12.8px,#8e2469 13.2px,#8e2469 13.8px,#87216b 14.2px,#86216b 14.8px,#7b1d6d 15.2px,#791c6d 17.8px,#71196e 18.2px,#70196e 18.8px,#8e2469 19.2px,#8e2469 19.8px,#821f6c 20.2px,#7e1e6c 21.8px,#86216b 22.2px,#86216b 22.8px,#791c6d 23.2px,#7b1d6d 24.8px,#761b6e 25.8px,#761b6e 26.8px,#7f1e6c 27.2px,#7e1e6c 27.8px,#61146e 28.2px,#61146e 28.8px,#781c6d 29.2px,#781c6d 29.8px,#6a176e 30.2px,#6a176e 30.8px,#5e136e 31.2px,#5e136e 31.8px,#721a6e 32.2px,#721a6e 32.8px,#6b176e 33.2px,#66166e 34.8px,#811f6c 35.2px,#811f6c 35.8px,#69176e 36.2px,#69166e 36.8px,#711a6e 37.2px,#70196e 39.8px,#771c6d 40.2px,#7b1d6d 41.8px,#65156e 42.2px,#61146e 43.8px,#791c6d 44.2px,#791c6d 44.8px,#6b176e 45.2px,#6b176e 45.8px,#65156e 46.2px,#65156e 46.8px,#6f196e 47.2px,#6f196e 47.8px,#63146e 48.2px,#65156e 49.8px)}.g207{background:linear-gradient(#811f6c 0.2px,#83206b 1.8px,#87216a 2.8px,#771c6d 3.2px,#771c6d 3.8px,#972766 4.2px,#972766 4.8px,#88226a 5.2px,#87216a 5.8px,#7e1e6c 6.2px,#7e1e6c 6.8px,#69176e 7.2px,#69166e 7.8px,#902568 8.2px,#8c2369 9.8px,#7f1f6c 10.2px,#7f1f6c 10.8px,#711a6e 11.2px,#71196e 11.8px,#7c1e6d 12.2px,#7c1d6d 12.8px,#87216b 13.2px,#87216b 13.8px,#8c2369 14.2px,#8c2369 14.8px,#811f6c 15.2px,#771c6d 17.8px,#7e1e6c 18.2px,#7d1e6c 18.8px,#932667 19.2px,#932667 19.8px,#811f6c 20.2px,#801f6c 21.8px,#8a226a 22.2px,#8a226a 22.8px,#7d1e6d 23.2px,#7d1e6d 23.8px,#85216b 24.2px,#85206b 24.8px,#7c1d6d 25.2px,#781c6d 26.8px,#85216b 27.2px,#85216b 27.8px,#6f196e 28.2px,#6f196e 28.8px,#741a6e 29.2px,#71196e 30.8px,#5f136e 31.2px,#5f136e 31.8px,#711a6e 32.2px,#71196e 32.8px,#63146e 33.2px,#62146e 33.8px,#6a176e 34.2px,#6a176e 34.8px,#7e1e6c 35.2px,#7e1e6c 35.8px,#6e186e 36.2px,#69176e 37.8px,#6a176e 38.8px,#791d6d 39.2px,#751b6e 40.8px,#7f1f6c 41.2px,#7f1e6c 41.8px,#6e196e 42.2px,#6e186e 42.8px,#5b116e 43.2px,#5b116e 43.8px,#6f196e 44.2px,#6f196e 44.8px,#65156e 45.2px,#64156e 46.8px,#781c6d 47.2px,#781c6d 47.8px,#68166e 48.2px,#69176e 49.8px)}.g208{background:linear-gradient(#85216b 0.2px,#85216b 0.8px,#7d1e6d 1.2px,#7d1e6d 1.8px,#8b236a 2.2px,#86216b 3.8px,#8e2469 4.2px,#912568 6.8px,#6c186e 7.2px,#6b176e 7.8px,#902468 8.2px,#912568 9.8px,#82206c 10.2px,#82206c 10.8px,#731a6e 11.2px,#721a6e 11.8px,#87216b 12.2px,#87216b 14.8px,#8d2469 15.2px,#8d2369 15.8px,#83206b 16.2px,#811f6c 17.8px,#8a226a 18.2px,#8b236a 19.8px,#7b1d6d 20.2px,#7c1d6d 23.8px,#8f2469 24.2px,#8f2469 24.8px,#7c1d6d 25.2px,#761b6e 26.8px,#7e1e6c 27.2px,#7c1e6d 28.8px,#6e186e 29.2px,#6d186e 30.8px,#6a176e 31.8px,#761b6d 32.2px,#761b6e 32.8px,#6c186e 33.2px,#6c186e 33.8px,#781c6d 34.2px,#741b6e 36.2px,#741a6e 36.8px,#6b176e 37.2px,#6a176e 38.8px,#7a1d6d 39.2px,#791d6d 39.8px,#67166e 40.2px,#67166e 40.8px,#70196e 41.2px,#70196e 41.8px,#7d1e6d 42.2px,#7c1e6d 42.8px,#65156e 43.2px,#65156e 43.8px,#6a176e 44.2px,#6a176e 44.8px,#62146e 45.2px,#62146e 45.8px,#6c186e 46.2px,#6c186e 46.8px,#741a6e 47.2px,#6e186e 49.8px)}.g209{background:linear-gradient(#82206c 0.2px,#7e1e6c 1.8px,#8c2369 2.2px,#89226a 3.8px,#82206c 4.2px,#821f6c 4.8px,#8e2469 5.2px,#8d2469 5.8px,#9c2964 6.2px,#9c2964 6.8px,#7f1f6c 7.2px,#7f1e6c 7.8px,#8d2369 8.2px,#8d2469 9.8px,#85206b 10.2px,#84206b 10.8px,#7b1d6d 11.2px,#7b1d6d 11.8px,#88226a 12.2px,#88226a 13.8px,#84206b 14.8px,#8d2369 15.2px,#8d2369 16.8px,#801f6c 17.2px,#84206b 19.2px,#84206b 19.8px,#7a1d6d 20.2px,#781c6d 21.8px,#6f196e 22.2px,#6f196e 22.8px,#811f6c 23.2px,#811f6c 23.8px,#8e2469 24.2px,#8e2469 24.8px,#7a1d6d 25.2px,#751b6e 26.8px,#86216b 27.2px,#86216b 27.8px,#7d1e6d 28.2px,#7d1e6d 28.8px,#761b6e 29.2px,#71196e 30.8px,#731a6e 32.8px,#7d1e6d 34.2px,#7d1e6d 34.8px,#761b6d 35.2px,#761b6e 35.8px,#84206b 36.2px,#84206b 36.8px,#65156e 37.2px,#65156e 37.8px,#711a6e 38.2px,#71196e 38.8px,#7b1d6d 39.2px,#7a1d6d 39.8px,#69176e 40.2px,#6b176e 41.8px,#86216b 42.2px,#86216b 42.8px,#61146e 43.2px,#61136e 43.8px,#6b176e 44.2px,#67166e 46.8px,#6e186e 47.2px,#6e186e 47.8px,#801f6c 48.2px,#7f1f6c 48.8px,#721a6e 49.2px,#711a6e 49.8px)}.g210{background:linear-gradient(#7f1f6c 0.2px,#7d1e6c 1.8px,#932567 2.2px,#922567 2.8px,#8b236a 3.2px,#86216b 4.8px,#942667 5.2px,#972766 6.8px,#942667 7.8px,#8b236a 8.2px,#8a236a 8.8px,#942667 9.2px,#932667 9.8px,#82206c 10.2px,#821f6c 10.8px,#721a6e 11.2px,#721a6e 11.8px,#8b236a 12.2px,#811f6c 14.8px,#8e2469 15.2px,#912568 16.8px,#811f6c 17.2px,#84206b 18.8px,#771c6d 19.2px,#7a1d6d 20.8px,#781c6d 21.8px,#71196e 22.2px,#70196e 22.8px,#7e1e6c 23.2px,#7d1e6c 23.8px,#87216b 24.2px,#86216b 24.8px,#791c6d 25.2px,#791c6d 25.8px,#71196e 26.2px,#70196e 26.8px,#7f1f6c 27.2px,#7c1e6d 28.8px,#71196e 29.2px,#6b176e 30.8px,#791d6d 31.2px,#791c6d 31.8px,#731a6e 32.2px,#7a1d6d 34.8px,#6d186e 35.2px,#6c186e 35.8px,#8a226a 36.2px,#8a226a 36.8px,#67166e 37.2px,#67166e 37.8px,#7d1e6d 38.2px,#7c1e6d 38.8px,#771c6d 39.2px,#771c6d 39.8px,#71196e 40.2px,#71196e 40.8px,#6a176e 41.2px,#6a176e 41.8px,#85206b 42.2px,#84206b 42.8px,#65156e 43.2px,#65156e 43.8px,#711a6e 44.2px,#71196e 44.8px,#6b176e 45.2px,#69176e 46.8px,#711a6e 47.2px,#711a6e 47.8px,#7d1e6d 48.2px,#7c1e6d 48.8px,#751b6e 49.2px,#741b6e 49.8px)}.g211{background:linear-gradient(#7b1d6d 0.2px,#7a1d6d 0.8px,#83206b 1.2px,#83206c 1.8px,#972766 2.2px,#962766 2.8px,#8d2469 3.2px,#8d2369 3.8px,#7c1e6d 4.2px,#7c1d6d 4.8px,#8b236a 5.2px,#8b236a 5.8px,#992865 6.2px,#912568 8.8px,#972766 9.2px,#972766 9.8px,#781c6d 10.2px,#781c6d 10.8px,#6a176e 11.2px,#6a176e 11.8px,#89226a 12.2px,#87216b 13.8px,#7a1d6d 14.2px,#7a1d6d 14.8px,#82206c 15.2px,#821f6c 15.8px,#942667 16.2px,#932667 16.8px,#86216b 17.2px,#86216b 17.8px,#7a1d6d 18.2px,#7a1d6d 19.8px,#721a6e 20.2px,#751b6e 21.8px,#721a6e 22.8px,#7d1e6d 23.2px,#7f1f6c 24.8px,#7b1d6d 25.8px,#6d186e 26.2px,#6d186e 26.8px,#86216b 27.2px,#85216b 27.8px,#781c6d 28.2px,#7b1d6d 29.8px,#6b176e 30.2px,#6b176e 30.8px,#791c6d 31.2px,#791c6d 31.8px,#731a6e 32.2px,#731a6e 32.8px,#7b1d6d 33.2px,#7b1d6d 34.8px,#741b6e 35.2px,#741b6e 35.8px,#8a226a 36.2px,#89226a 36.8px,#60136e 37.2px,#60136e 37.8px,#84206b 38.2px,#84206b 38.8px,#751b6e 39.2px,#751b6e 39.8px,#7d1e6d 40.2px,#7d1e6d 40.8px,#70196e 41.2px,#70196e 41.8px,#7d1e6d 42.2px,#7c1e6d 42.8px,#57106e 43.2px,#57106e 43.8px,#6a176e 44.2px,#6a176e 44.8px,#771c6d 45.2px,#761b6d 45.8px,#67166e 46.2px,#66166e 46.8px,#721a6e 47.2px,#721a6e 47.8px,#7e1e6c 48.2px,#7a1d6d 49.8px)}.g212{background:linear-gradient(#7e1e6c 0.2px,#7f1f6c 1.8px,#962766 2.2px,#992865 3.8px,#7f1f6c 4.2px,#7f1f6c 4.8px,#87216a 5.2px,#87216b 5.8px,#992865 6.2px,#932567 8.8px,#982766 9.2px,#982766 9.8px,#721a6e 10.2px,#711a6e 10.8px,#771c6d 11.2px,#771c6d 11.8px,#83206b 12.2px,#82206c 12.8px,#8a226a 13.2px,#89226a 13.8px,#721a6e 14.2px,#711a6e 14.8px,#811f6c 15.2px,#811f6c 15.8px,#962766 16.2px,#952667 16.8px,#87216b 17.2px,#87216b 17.8px,#7d1e6c 18.2px,#7f1f6c 19.8px,#771c6d 20.2px,#7a1d6d 21.8px,#7f1e6c 22.2px,#7b1d6d 25.8px,#6c186e 26.2px,#6b176e 26.8px,#86216b 27.2px,#85216b 27.8px,#7f1f6c 28.2px,#7f1e6c 28.8px,#85216b 29.2px,#85216b 29.8px,#771c6d 30.2px,#7a1d6d 31.8px,#711a6e 32.2px,#711a6e 32.8px,#801f6c 33.2px,#801f6c 33.8px,#6e186e 34.2px,#6d186e 34.8px,#7c1d6d 35.2px,#801f6c 36.8px,#60136e 37.2px,#60136e 37.8px,#7b1d6d 38.2px,#7b1d6d 38.8px,#6e186e 39.2px,#6e186e 39.8px,#88226a 40.2px,#87216a 40.8px,#7a1d6d 41.2px,#751b6e 42.8px,#5b116e 43.2px,#5b116e 43.8px,#6f196e 44.2px,#6f196e 44.8px,#7a1d6d 45.2px,#791d6d 45.8px,#5b116e 46.2px,#5b116e 46.8px,#6c186e 47.2px,#6c186e 47.8px,#7a1d6d 48.2px,#7c1d6d 49.8px)}.g213{background:linear-gradient(#7f1e6c 0.2px,#821f6c 1.8px,#9c2964 2.2px,#9b2964 2.8px,#a02b62 3.2px,#a02a63 3.8px,#7f1f6c 4.2px,#7f1e6c 4.8px,#88226a 5.2px,#87216b 5.8px,#942667 6.2px,#932667 6.8px,#8a236a 7.2px,#88226a 8.8px,#8b236a 9.8px,#7f1f6c 10.2px,#7e1e6c 11.8px,#932667 12.2px,#912568 13.8px,#7b1d6d 14.2px,#7b1d6d 14.8px,#821f6c 15.2px,#811f6c 15.8px,#8b2369 16.2px,#8b236a 16.8px,#811f6c 17.2px,#801f6c 17.8px,#8c2369 18.2px,#8c2369 18.8px,#7e1e6c 19.2px,#7d1e6d 19.8px,#751b6e 20.2px,#751b6e 20.8px,#7d1e6d 21.2px,#7d1e6d 21.8px,#85216b 22.2px,#84206b 24.8px,#781c6d 25.2px,#771c6d 25.8px,#6e186e 26.2px,#6d186e 26.8px,#83206b 27.2px,#83206c 27.8px,#88226a 28.2px,#8a226a 29.8px,#84206b 30.2px,#83206b 30.8px,#721a6e 31.2px,#71196e 32.8px,#84206b 33.2px,#83206b 33.8px,#6b176e 34.2px,#6b176e 34.8px,#781c6d 35.2px,#7a1d6d 36.8px,#59116e 37.2px,#59116e 37.8px,#70196e 38.2px,#6d186e 39.8px,#87216b 40.2px,#86216b 40.8px,#7c1e6d 41.2px,#7c1e6d 41.8px,#69176e 42.2px,#64156e 43.8px,#791c6d 44.2px,#791c6d 44.8px,#811f6c 45.2px,#811f6c 45.8px,#63146e 46.2px,#64156e 47.8px,#811f6c 48.2px,#811f6c 49.8px)}.g214{background:linear-gradient(#86216b 0.2px,#89226a 1.8px,#9e2a63 2.2px,#9d2964 3.8px,#7d1e6c 4.2px,#7d1e6d 4.8px,#86216b 5.2px,#811f6c 9.8px,#88226a 10.2px,#88226a 10.8px,#902568 11.2px,#902468 11.8px,#992865 12.2px,#992865 12.8px,#8d2369 13.2px,#8d2369 13.8px,#82206c 14.2px,#86216b 15.8px,#932667 16.2px,#922567 16.8px,#781c6d 17.2px,#781c6d 17.8px,#922567 18.2px,#922568 18.8px,#84206b 19.2px,#84206b 19.8px,#7e1e6c 20.2px,#7d1e6c 20.8px,#89226a 21.2px,#85216b 22.8px,#8d2469 23.2px,#87216b 24.8px,#711a6e 25.2px,#6c186e 26.8px,#7f1e6c 27.2px,#7d1e6d 28.8px,#932667 29.2px,#932567 29.8px,#721a6e 30.2px,#71196e 32.8px,#87216b 33.2px,#86216b 33.8px,#6f196e 34.2px,#6f196e 34.8px,#781c6d 35.2px,#791c6d 36.8px,#5f136e 37.2px,#5f136e 37.8px,#6b176e 38.2px,#6b176e 39.8px,#83206b 40.2px,#83206b 40.8px,#771c6d 41.2px,#771c6d 41.8px,#6e186e 42.2px,#6a176e 43.8px,#88226a 44.2px,#87216a 44.8px,#801f6c 45.2px,#801f6c 45.8px,#70196e 46.2px,#6d186e 47.8px,#771c6d 48.2px,#771c6d 48.8px,#7d1e6d 49.2px,#7d1e6d 49.8px)}.g215{background:linear-gradient(#932667 0.2px,#932567 0.8px,#85216b 1.2px,#85216b 1.8px,#9f2a63 2.2px,#9e2a63 2.8px,#992865 3.2px,#982865 3.8px,#88226a 4.2px,#86216b 5.8px,#82206c 6.8px,#85216b 7.8px,#7e1e6c 8.2px,#811f6c 9.8px,#8f2468 10.2px,#8f2469 10.8px,#87216b 11.2px,#87216b 11.8px,#9d2964 12.2px,#9d2964 12.8px,#7d1e6d 13.2px,#7c1e6d 13.8px,#87216b 14.2px,#85216b 15.8px,#902468 16.2px,#8f2468 16.8px,#6e186e 17.2px,#6d186e 17.8px,#962766 18.2px,#962666 18.8px,#86216b 19.2px,#811f6c 20.8px,#8f2469 21.2px,#8e2469 21.8px,#84206b 22.2px,#83206b 22.8px,#8a226a 23.2px,#86216b 24.8px,#751b6e 25.2px,#741b6e 25.8px,#65156e 26.2px,#64156e 26.8px,#791c6d 27.2px,#751b6e 28.8px,#902468 29.2px,#8f2468 29.8px,#741a6e 30.2px,#781c6d 31.8px,#721a6e 32.8px,#7f1f6c 33.2px,#7b1d6d 34.8px,#761b6d 35.8px,#791c6d 36.8px,#6b176e 37.2px,#6b176e 37.8px,#63146e 38.2px,#63146e 38.8px,#6e186e 39.2px,#6d186e 39.8px,#791c6d 40.2px,#7b1d6d 41.8px,#741b6e 42.2px,#71196e 43.8px,#8e2469 44.2px,#8e2469 44.8px,#7a1d6d 45.2px,#7b1d6d 46.8px,#761b6e 47.8px,#6b176e 48.2px,#6b176e 48.8px,#7d1e6d 49.2px,#7d1e6d 49.8px)}.g216{background:linear-gradient(#8f2468 0.2px,#8b236a 1.8px,#9f2a63 2.2px,#9f2a63 2.8px,#922568 3.2px,#922568 3.8px,#8b236a 4.2px,#8b236a 5.8px,#7f1e6c 6.2px,#7e1e6c 6.8px,#86216b 7.2px,#821f6c 8.8px,#86216b 9.2px,#86216b 9.8px,#801f6c 10.2px,#83206c 11.8px,#9e2a63 12.2px,#9d2964 12.8px,#711a6e 13.2px,#71196e 13.8px,#83206b 14.2px,#82206c 14.8px,#7c1d6d 15.2px,#7c1d6d 15.8px,#902568 16.2px,#902468 16.8px,#6e186e 17.2px,#6e186e 17.8px,#8d2369 18.2px,#8d2469 19.8px,#811f6c 20.2px,#801f6c 20.8px,#87216b 21.2px,#86216b 22.8px,#8d2469 24.2px,#8d2369 24.8px,#7f1e6c 25.2px,#7e1e6c 25.8px,#64156e 26.2px,#63146e 26.8px,#741b6e 27.2px,#731a6e 27.8px,#67166e 28.2px,#67166e 28.8px,#87216b 29.2px,#86216b 29.8px,#6e186e 30.2px,#6e186e 30.8px,#7f1e6c 31.2px,#7f1e6c 31.8px,#6f196e 32.2px,#6e196e 32.8px,#741b6e 33.2px,#741a6e 33.8px,#7f1f6c 34.2px,#7f1f6c 34.8px,#71196e 35.2px,#6f196e 36.8px,#791c6d 37.2px,#791c6d 37.8px,#6c186e 38.2px,#6b176e 38.8px,#781c6d 39.2px,#781c6d 39.8px,#711a6e 40.2px,#711a6e 40.8px,#7b1d6d 41.2px,#7c1e6d 42.8px,#64156e 43.2px,#64156e 43.8px,#84206b 44.2px,#83206b 44.8px,#6d186e 45.2px,#6d186e 45.8px,#7e1e6c 46.2px,#7e1e6c 46.8px,#85216b 47.2px,#85216b 47.8px,#66156e 48.2px,#66156e 48.8px,#711a6e 49.2px,#71196e 49.8px)}.g217{background:linear-gradient(#912568 0.2px,#912568 1.8px,#952667 2.8px,#912568 3.8px,#83206b 4.2px,#83206c 4.8px,#8e2469 5.2px,#8e2469 5.8px,#82206c 6.2px,#821f6c 6.8px,#912568 7.2px,#902568 7.8px,#83206b 8.2px,#83206b 8.8px,#932667 9.2px,#932667 9.8px,#7a1d6d 10.2px,#7a1d6d 10.8px,#82206c 11.2px,#82206c 11.8px,#8b236a 12.2px,#8b236a 12.8px,#781c6d 13.2px,#781c6d 13.8px,#83206b 14.2px,#83206c 15.8px,#8c2369 16.2px,#8c2369 16.8px,#6b176e 17.2px,#6b176e 17.8px,#87216a 18.2px,#87216b 18.8px,#922568 19.2px,#912568 19.8px,#8a226a 20.2px,#89226a 20.8px,#7c1e6d 21.2px,#7c1d6d 21.8px,#811f6c 22.2px,#811f6c 22.8px,#85216b 23.2px,#85216b 23.8px,#902568 24.2px,#902468 24.8px,#87216b 25.2px,#86216b 25.8px,#70196e 26.2px,#70196e 26.8px,#751b6e 27.2px,#741b6e 27.8px,#62146e 28.2px,#61146e 28.8px,#7e1e6c 29.2px,#7d1e6d 29.8px,#741b6e 30.2px,#741a6e 30.8px,#811f6c 31.2px,#801f6c 31.8px,#741b6e 32.2px,#711a6e 33.8px,#821f6c 34.2px,#811f6c 34.8px,#68166e 35.2px,#65156e 36.8px,#84206b 37.2px,#84206b 37.8px,#6d186e 38.2px,#6d186e 38.8px,#771c6d 39.2px,#771c6d 39.8px,#6a176e 40.2px,#6a176e 40.8px,#7a1d6d 41.2px,#7a1d6d 41.8px,#8a226a 42.2px,#8a226a 42.8px,#67166e 43.2px,#67166e 43.8px,#7a1d6d 44.2px,#7a1d6d 44.8px,#6a176e 45.2px,#67166e 46.8px,#82206c 47.2px,#82206c 47.8px,#5f136e 48.2px,#5f136e 48.8px,#6d186e 49.2px,#6d186e 49.8px)}.g218{background:linear-gradient(#89226a 0.2px,#89226a 0.8px,#942667 1.2px,#8e2469 2.8px,#962766 3.2px,#952666 3.8px,#86216b 4.2px,#85216b 4.8px,#952667 5.2px,#952667 5.8px,#811f6c 6.2px,#811f6c 6.8px,#8e2469 7.2px,#8b236a 8.8px,#9c2964 9.2px,#9c2964 9.8px,#761b6e 10.2px,#751b6e 10.8px,#83206b 11.2px,#801f6c 13.8px,#8a226a 14.2px,#89226a 14.8px,#83206c 15.2px,#82206c 15.8px,#902568 16.2px,#902468 16.8px,#70196e 17.2px,#70196e 17.8px,#85206b 18.2px,#84206b 18.8px,#952667 19.2px,#942667 19.8px,#8e2469 20.2px,#8e2469 20.8px,#811f6c 21.2px,#801f6c 21.8px,#791c6d 22.2px,#7b1d6d 23.8px,#942667 24.2px,#942667 24.8px,#88226a 25.2px,#88226a 25.8px,#7d1e6d 26.2px,#791c6d 27.8px,#66166e 28.2px,#66156e 28.8px,#7e1e6c 29.2px,#7d1e6d 29.8px,#82206c 30.2px,#821f6c 30.8px,#7a1d6d 31.2px,#7a1d6d 33.8px,#83206b 34.2px,#83206b 34.8px,#65156e 35.2px,#65156e 35.8px,#6b176e 36.2px,#6b176e 36.8px,#801f6c 37.2px,#801f6c 37.8px,#6f196e 38.2px,#6e196e 38.8px,#751b6e 39.2px,#751b6e 39.8px,#6a176e 40.2px,#6a176e 40.8px,#771c6d 41.2px,#771c6d 41.8px,#8e2469 42.2px,#8d2469 42.8px,#65156e 43.2px,#65156e 43.8px,#731a6e 44.2px,#6f196e 45.8px,#5a116e 46.2px,#5a116e 46.8px,#7b1d6d 47.2px,#7b1d6d 47.8px,#66156e 48.2px,#65156e 49.8px)}.g219{background:linear-gradient(#83206b 0.2px,#83206c 0.8px,#922567 1.2px,#902468 2.8px,#89226a 3.2px,#89226a 3.8px,#902468 4.2px,#8f2468 4.8px,#89226a 5.2px,#84206b 6.8px,#952667 7.2px,#942667 7.8px,#8d2369 8.2px,#8c2369 8.8px,#952667 9.2px,#942667 9.8px,#7c1d6d 10.2px,#7b1d6d 10.8px,#86216b 11.2px,#86216b 11.8px,#801f6c 12.2px,#801f6c 12.8px,#8a226a 13.2px,#8a226a 13.8px,#922568 14.2px,#8f2468 15.8px,#89226a 16.8px,#7f1e6c 17.2px,#7e1e6c 17.8px,#83206b 18.2px,#82206c 18.8px,#8e2469 19.2px,#8a226a 20.8px,#791c6d 21.2px,#741a6e 23.8px,#88226a 24.2px,#86216b 26.8px,#741b6e 27.2px,#741a6e 27.8px,#67166e 28.2px,#66166e 28.8px,#7a1d6d 29.2px,#7a1d6d 30.8px,#67166e 31.2px,#67166e 31.8px,#7d1e6d 32.2px,#781c6d 33.8px,#83206b 34.2px,#83206b 34.8px,#6a176e 35.2px,#6a176e 35.8px,#751b6e 36.2px,#751b6e 36.8px,#7d1e6d 37.2px,#7e1e6c 38.8px,#6a176e 39.2px,#69166e 40.8px,#791c6d 41.2px,#781c6d 41.8px,#8e2469 42.2px,#8e2469 42.8px,#63146e 43.2px,#62146e 43.8px,#711a6e 44.2px,#71196e 44.8px,#771c6d 45.2px,#761b6d 45.8px,#540f6d 46.2px,#540f6d 46.8px,#791d6d 47.2px,#791c6d 47.8px,#66156e 48.2px,#66156e 48.8px,#60136e 49.2px,#60136e 49.8px)}.g220{background:linear-gradient(#8f2468 0.2px,#8b236a 1.8px,#912568 2.2px,#922567 4.8px,#85206b 5.2px,#84206b 5.8px,#8b236a 6.2px,#8a236a 6.8px,#942667 7.2px,#942667 8.8px,#902468 9.8px,#7d1e6d 10.2px,#7c1e6d 10.8px,#87216a 11.2px,#87216b 11.8px,#7e1e6c 12.2px,#7e1e6c 12.8px,#8b236a 13.2px,#8b236a 13.8px,#922568 14.2px,#912568 15.8px,#8a226a 16.2px,#8a226a 17.8px,#83206b 18.2px,#82206c 18.8px,#8a226a 19.2px,#89226a 20.8px,#7c1d6d 21.2px,#7b1d6d 21.8px,#69176e 22.2px,#69166e 22.8px,#751b6e 23.2px,#781c6d 24.8px,#801f6c 25.2px,#801f6c 25.8px,#8f2469 26.2px,#8e2469 26.8px,#7c1e6d 27.2px,#7c1d6d 27.8px,#69176e 28.2px,#69166e 28.8px,#7d1e6c 29.2px,#791c6d 30.8px,#6a176e 31.2px,#6a176e 31.8px,#781c6d 32.2px,#791d6d 33.8px,#84206b 34.2px,#84206b 34.8px,#741a6e 35.2px,#731a6e 35.8px,#7f1f6c 36.2px,#771c6d 38.8px,#67166e 39.2px,#65156e 40.8px,#791d6d 41.2px,#791c6d 41.8px,#8b236a 42.2px,#8b236a 42.8px,#6b176e 43.2px,#6b176e 43.8px,#731a6e 44.2px,#731a6e 44.8px,#83206c 45.2px,#82206c 45.8px,#66156e 46.2px,#68166e 48.8px,#63146e 49.8px)}.g221{background:linear-gradient(#fbfea2 0.2px,#fbfea2 1.2px,#f3f585 1.8px,#f5da4a 2.2px,#fac127 2.8px,#fcad12 3.2px,#fc9f07 3.8px,#fb9506 4.2px,#f57c16 5.2px,#e45a31 6.8px,#d54a41 8.2px,#cc4248 18.2px,#c63d4d 40.2px,#d24644 43.2px,#e75e2e 45.8px,#f7850f 47.8px,#fa9307 48.2px,#fca108 48.8px,#fcb014 49.2px,#fbb71c 49.8px)}.g222{background:linear-gradient(#fcffa4 0.2px,#fcffa4 1.2px,#f3f688 1.8px,#f5dc4d 2.2px,#fac329 2.8px,#fcaf13 3.2px,#fca008 3.8px,#fb9706 4.2px,#f98b0b 4.8px,#eb6529 6.2px,#da4e3c 7.8px,#d04545 12.2px,#c73e4c 40.2px,#d34743 43.2px,#e85f2d 45.8px,#f8860e 47.8px,#fa9407 48.2px,#fca209 48.8px,#fcb116 49.2px,#fbb91d 49.8px)}.g223{background:linear-gradient(#fafda0 0.2px,#fafda0 1.2px,#f2f482 1.8px,#f6d948 2.2px,#fbbf25 2.8px,#fcaa0f 3.2px,#fb9b06 3.8px,#fa9008 4.2px,#e85f2d 6.2px,#d74b3f 7.8px,#cb414a 14.2px,#c03952 38.2px,#c43c4f 41.2px,#d14644 43.8px,#e35833 45.8px,#f57d15 47.8px,#fb9906 48.8px,#fca70c 49.2px,#fcaf13 49.8px)}.g224{background:linear-gradient(#fcffa4 0.2px,#fcffa4 1.2px,#f3f689 1.8px,#f5dc4e 2.2px,#fac229 2.8px,#fcac11 3.2px,#fb9c06 3.8px,#fa9008 4.2px,#e75f2d 6.2px,#d74b3f 7.8px,#ca404a 14.8px,#bd3853 36.2px,#c13a51 41.2px,#d34842 44.2px,#e65d2f 46.2px,#f47918 47.8px,#fb9506 48.8px,#fca40a 49.2px,#fcab10 49.8px)}.g225{background:linear-gradient(#fcffa4 0.2px,#fcffa4 1.2px,#f4f78b 1.8px,#f5dd4f 2.2px,#fac229 2.8px,#fcac10 3.2px,#fb9a06 3.8px,#f98d0a 4.2px,#e65c30 6.2px,#d64a40 7.8px,#c73e4c 15.2px,#b93556 34.2px,#bd3854 41.2px,#cf4446 44.2px,#e35933 46.2px,#f2741d 47.8px,#fa8f09 48.8px,#fb9e07 49.2px,#fca50b 49.8px)}.g226{background:linear-gradient(#fbfea3 0.2px,#fbfea3 1.2px,#f3f586 1.8px,#f5da4b 2.2px,#fabf25 2.8px,#fca80d 3.2px,#fb9506 3.8px,#e9622b 5.8px,#dc513a 6.8px,#d04545 8.2px,#ba3655 21.2px,#b2325a 37.2px,#b63458 41.2px,#ce4347 44.8px,#de5238 46.2px,#ee6b23 47.8px,#fa9407 49.2px,#fb9c06 49.8px)}.g227{background:linear-gradient(#fcffa4 0.2px,#fcffa4 1.2px,#f3f688 1.8px,#f5dc4d 2.2px,#fac026 2.8px,#fca80d 3.2px,#fa9407 3.8px,#ed6925 5.2px,#db4f3b 6.8px,#cf4446 8.8px,#b63458 22.2px,#ad305c 36.8px,#b1325a 41.2px,#cb414a 44.8px,#e15635 46.8px,#f1721e 48.2px,#fa8f09 49.2px,#fb9706 49.8px)}.g228{background:linear-gradient(#fcffa4 0.2px,#fcffa4 1.2px,#f4f78c 1.8px,#f5dc4d 2.2px,#fbbe24 2.8px,#fca309 3.2px,#f98e09 3.8px,#eb6528 5.2px,#d94c3e 6.8px,#cc4249 8.8px,#b33359 21.2px,#a82e5f 36.8px,#ac2f5d 41.2px,#c63d4d 44.8px,#dd513a 46.8px,#ee6b23 48.2px,#f8870e 49.2px,#f98e09 49.8px)}.g229{background:linear-gradient(#fcfea3 0.2px,#fcfea3 1.2px,#f4f88f 1.8px,#f5db4d 2.2px,#fbbb20 2.8px,#fb9e07 3.2px,#f8880d 3.8px,#e8602c 5.2px,#d64a40 6.8px,#c73e4d 9.2px,#ae305c 23.2px,#a22b62 36.2px,#a62d60 41.2px,#c03951 44.8px,#d84c3e 46.8px,#ea6429 48.2px,#f57e15 49.2px,#f7850f 49.8px)}.g230{background:linear-gradient(#fbfea2 0.2px,#fbfea2 1.2px,#f5f992 1.8px,#f5db4c 2.2px,#fbb81d 2.8px,#fb9906 3.2px,#f78211 3.8px,#e55c30 5.2px,#d34743 6.8px,#c13a50 9.8px,#a72d60 25.8px,#9c2964 36.2px,#a22b62 41.8px,#c03952 45.2px,#d94d3d 47.2px,#ed6925 48.8px,#f3751b 49.2px,#f57c16 49.8px)}.g231{background:linear-gradient(#fafd9f 0.2px,#fafd9f 1.2px,#f5f992 1.8px,#f5da4a 2.2px,#fcb419 2.8px,#fa9307 3.2px,#f57c16 3.8px,#e15734 5.2px,#cf4446 6.8px,#bd3854 9.8px,#992865 31.8px,#962766 36.8px,#9b2865 41.8px,#b93656 45.2px,#da4e3c 47.8px,#ef6c22 49.2px,#f1721e 49.8px)}.g232{background:linear-gradient(#fcffa4 0.2px,#fcffa4 1.2px,#fafda1 1.8px,#f4df53 2.2px,#fbb71c 2.8px,#fa9307 3.2px,#f57b17 3.8px,#e8602c 4.8px,#d64a40 6.2px,#c53d4e 8.2px,#b93556 11.8px,#942667 35.8px,#992865 41.8px,#b83557 45.2px,#d94d3d 47.8px,#ed6925 49.2px,#f06f20 49.8px)}.g233{background:linear-gradient(#fcffa4 0.2px,#fcffa4 1.2px,#fafda0 1.8px,#f4dd50 2.2px,#fcb317 2.8px,#f98d0a 3.2px,#f2741c 3.8px,#e45a31 4.8px,#d24644 6.2px,#c13a51 8.2px,#b53358 11.2px,#8d2369 35.8px,#942667 42.2px,#b73557 45.8px,#d34743 47.8px,#e8612c 49.2px,#eb6628 49.8px)}.g234{background:linear-gradient(#fcffa4 0.2px,#fcffa4 1.8px,#f3e258 2.2px,#fcb519 2.8px,#f98d0a 3.2px,#f2731d 3.8px,#e35932 4.8px,#d14644 6.2px,#c13a51 8.2px,#b53458 10.8px,#8b236a 35.8px,#912568 42.2px,#b53458 45.8px,#d04545 47.8px,#e65d2f 49.2px,#e9622b 49.8px)}.g235{background:linear-gradient(#fcffa4 0.2px,#fcffa4 1.8px,#f4e054 2.2px,#fcb014 2.8px,#f8880d 3.2px,#f06e21 3.8px,#e05536 4.8px,#cd4347 6.2px,#ba3655 8.8px,#b0315b 11.2px,#85216b 35.8px,#8b236a 42.2px,#a72d60 45.2px,#cb4149 47.8px,#e25734 49.2px,#e55c30 49.8px)}.g236{background:linear-gradient(#fcffa4 0.2px,#fcffa4 1.8px,#f4e054 2.2px,#fcad12 2.8px,#f7850f 3.2px,#ee6b23 3.8px,#de5338 4.8px,#cb414a 6.2px,#b43359 9.2px,#a82e5f 13.2px,#801f6c 36.2px,#83206b 41.8px,#a02b62 45.2px,#c73e4c 47.8px,#de5338 49.2px,#e25833 49.8px)}.g237{background:linear-gradient(#fbfea3 0.2px,#fbfea3 1.8px,#f4df53 2.2px,#fcaa0f 2.8px,#f78112 3.2px,#ed6826 3.8px,#dc503a 4.8px,#c73e4c 6.2px,#ae305c 9.8px,#9d2964 17.2px,#7b1d6d 35.8px,#7e1e6c 41.8px,#9a2865 45.2px,#cb4149 48.2px,#df5337 49.8px)}.g238{background:linear-gradient(#fcffa4 0.2px,#fcffa4 1.8px,#f3e35a 2.2px,#fcab10 2.8px,#f78211 3.2px,#ed6826 3.8px,#dc503a 4.8px,#c73e4c 6.2px,#ab2f5d 10.2px,#7d1e6d 32.8px,#791c6d 40.2px,#82206c 42.8px,#972766 45.2px,#ca404a 48.2px,#de5238 49.8px)}.g239{background:linear-gradient(#fbfea3 0.2px,#fbfea3 1.8px,#f4e156 2.2px,#fca70c 2.8px,#f57d15 3.2px,#ea6429 3.8px,#d94d3d 4.8px,#c33b50 6.2px,#a72d60 10.2px,#992865 15.8px,#731a6e 35.2px,#731a6e 40.8px,#821f6c 43.8px,#8f2469 45.2px,#c43c4f 48.2px,#d94d3d 49.8px)}.g240{background:linear-gradient(#fcffa4 0.2px,#fcffa4 1.8px,#f3e45d 2.2px,#fca80d 2.8px,#f67e15 3.2px,#ea6429 3.8px,#d94d3d 4.8px,#c23b50 6.2px,#a52c61 10.8px,#962766 16.8px,#731a6e 34.8px,#711a6e 40.8px,#85216b 44.8px,#9f2a63 46.2px,#d24743 49.2px,#d84c3e 49.8px)}.g241{background:linear-gradient(#fcfea3 0.2px,#fcfea3 1.8px,#f3e259 2.2px,#fca309 2.8px,#f47918 3.2px,#e8602d 3.8px,#cd4248 5.2px,#b93656 6.8px,#9b2865 11.8px,#6e186e 33.8px,#69166e 40.2px,#7d1e6d 44.8px,#8e2469 45.8px,#c53d4e 48.8px,#d34743 49.8px)}.g242{background:linear-gradient(#fcffa4 0.2px,#fcffa4 1.8px,#f3e45c 2.2px,#fca209 2.8px,#f37819 3.2px,#e75e2e 3.8px,#cc4149 5.2px,#bc3754 6.2px,#982865 11.8px,#6c186e 32.8px,#65156e 40.2px,#781c6d 44.8px,#89226a 45.8px,#b93656 48.2px,#d04545 49.8px)}.g243{background:linear-gradient(#fafda0 0.2px,#fafda0 1.8px,#f3e258 2.2px,#fb9e07 2.8px,#f2731d 3.2px,#e45a31 3.8px,#d14545 4.8px,#b73557 6.2px,#912568 12.2px,#66156e 32.8px,#5e126e 40.2px,#70196e 44.8px,#82206c 45.8px,#ab2f5e 47.8px,#cb4149 49.8px)}.g244{background:linear-gradient(#fcffa4 0.2px,#fcffa4 1.8px,#f2e762 2.2px,#fca209 2.8px,#f3771a 3.2px,#e65d2e 3.8px,#cc4149 5.2px,#bb3754 6.2px,#992865 11.2px,#6c186e 30.2px,#62146e 40.2px,#741b6e 44.8px,#85216b 45.8px,#b63458 48.2px,#cd4248 49.8px)}.g245{background:linear-gradient(#fcffa4 0.2px,#fcffa4 1.8px,#f3e35b 2.2px,#fb9e07 2.8px,#f2731d 3.2px,#e45a32 3.8px,#c93f4b 5.2px,#b43359 6.8px,#932667 11.2px,#66166e 31.2px,#5e126e 40.2px,#71196e 44.8px,#8b236a 46.2px,#c13a51 49.2px,#c83f4c 49.8px)}.g246{background:linear-gradient(#fcfea3 0.2px,#fcfea3 1.8px,#f3e259 2.2px,#fb9c06 2.8px,#f1711f 3.2px,#e35933 3.8px,#c83f4b 5.2px,#b33359 6.8px,#932667 10.8px,#84206b 15.8px,#62146e 33.2px,#5c126e 40.2px,#6d186e 44.2px,#761b6d 45.2px,#ae305c 48.2px,#c53d4e 49.8px)}.g247{background:linear-gradient(#fcffa4 0.2px,#fcffa4 1.8px,#f3e45c 2.2px,#fb9d06 2.8px,#f1711e 3.2px,#e35932 3.8px,#c9404b 5.2px,#b43359 6.8px,#952667 10.2px,#84206b 15.2px,#61146e 33.8px,#5d126e 40.2px,#6a176e 43.8px,#771c6d 45.2px,#ad305d 48.2px,#c43c4e 49.8px)}.g248{background:linear-gradient(#fbfea2 0.2px,#fbfea2 1.8px,#f3e156 2.2px,#fb9906 2.8px,#f06e21 3.2px,#e15635 3.8px,#c73e4c 5.2px,#b2325a 6.8px,#902468 10.2px,#7d1e6c 16.2px,#5e126e 33.2px,#59106e 39.8px,#63146e 43.2px,#741b6e 45.2px,#a82e5f 48.2px,#c03a51 49.8px)}.g249{background:linear-gradient(#fcffa4 0.2px,#fcffa4 1.8px,#f3e35a 2.2px,#fb9b06 2.8px,#f06f20 3.2px,#e25734 3.8px,#c03a51 5.8px,#982766 9.2px,#8b236a 11.2px,#70196e 22.2px,#59116e 37.8px,#60136e 42.8px,#761b6e 45.2px,#a82e5f 48.2px,#bf3952 49.8px)}.g250{background:linear-gradient(#fbfea1 0.2px,#fbfea1 1.8px,#f4e054 2.2px,#fb9706 2.8px,#ee6b23 3.2px,#df5437 3.8px,#be3853 5.8px,#932667 9.2px,#88226a 10.8px,#721a6e 19.2px,#59116e 34.2px,#560f6d 39.2px,#5f136e 43.2px,#7a1d6d 45.8px,#ab2f5d 48.8px,#bb3755 49.8px)}.g251{background:linear-gradient(#fcffa4 0.2px,#fcffa4 1.8px,#f3e258 2.2px,#fb9806 2.8px,#ef6c23 3.2px,#e05536 3.8px,#c03a51 5.8px,#992865 8.8px,#8a226a 10.2px,#741a6e 18.2px,#5c126e 32.2px,#560f6d 38.8px,#60136e 43.2px,#821f6c 46.2px,#b3325a 49.2px,#ba3655 49.8px)}.g252{background:linear-gradient(#fbfea2 0.2px,#fbfea2 1.8px,#f4df53 2.2px,#fb9506 2.8px,#ed6925 3.2px,#de5238 3.8px,#be3853 5.8px,#952667 8.8px,#85216b 10.2px,#6e196e 18.8px,#59116e 31.8px,#530e6d 38.8px,#5c126e 43.2px,#7e1e6c 46.2px,#ae305c 49.2px,#b63458 49.8px)}.g253{background:linear-gradient(#fafd9f 0.2px,#fafd9f 1.8px,#f4dd50 2.2px,#fa9207 2.8px,#ec6727 3.2px,#dd513a 3.8px,#b43359 6.2px,#86216b 9.8px,#721a6e 15.2px,#58106e 31.2px,#510e6c 38.8px,#5b116e 43.2px,#7b1d6d 46.2px,#ae305c 49.2px,#b53458 49.8px)}.g254{background:linear-gradient(#fbfea3 0.2px,#fbfea3 1.8px,#f4df52 2.2px,#fa9207 2.8px,#ec6726 3.2px,#dd5139 3.8px,#b53458 6.2px,#85216b 9.8px,#751b6e 13.8px,#59116e 30.8px,#520e6d 39.2px,#5b116e 43.2px,#7b1d6d 46.2px,#af315b 49.2px,#b73457 49.8px)}.g255{background:linear-gradient(#fafda0 0.2px,#fafda0 1.8px,#f5dd4f 2.2px,#fa8f09 2.8px,#eb6528 3.2px,#dc503b 3.8px,#b33359 6.2px,#811f6c 9.8px,#721a6e 13.2px,#550f6d 32.8px,#500d6c 39.8px,#5a116e 43.2px,#721a6e 45.8px,#9d2964 48.2px,#b63458 49.8px)}.g256{background:linear-gradient(#fcffa4 0.2px,#fcffa4 1.8px,#f4df53 2.2px,#fa9008 2.8px,#ec6627 3.2px,#dd513a 3.8px,#b43359 6.2px,#811f6c 9.8px,#731a6e 12.8px,#520e6d 36.8px,#530e6d 40.8px,#5f136e 43.8px,#721a6e 45.8px,#9f2a63 48.2px,#b83556 49.8px)}.g257{background:linear-gradient(#fcffa4 0.2px,#fcffa4 1.8px,#f4de50 2.2px,#f98e09 2.8px,#eb6529 3.2px,#dc503b 3.8px,#b2325a 6.2px,#86216b 9.2px,#771c6d 10.8px,#6d186e 14.2px,#4f0d6c 39.8px,#5d126e 43.8px,#69176e 45.2px,#89226a 47.2px,#b1325a 49.2px,#b83557 49.8px)}.g258{background:linear-gradient(#fcffa4 0.2px,#fcffa4 1.8px,#f4de50 2.2px,#f98d0a 2.8px,#ea6429 3.2px,#db4f3b 3.8px,#b2325a 6.2px,#84206b 9.2px,#751b6e 10.8px,#6b176e 13.8px,#4f0d6c 40.2px,#62146e 44.8px,#7f1e6c 46.8px,#b2325a 49.2px,#b83556 49.8px)}.g259{background:linear-gradient(#fcffa4 0.2px,#fcffa4 1.8px,#f5dc4e 2.2px,#f98a0b 2.8px,#e9622a 3.2px,#da4e3c 3.8px,#b93656 5.8px,#89226a 8.8px,#741b6e 10.2px,#69176e 12.8px,#4d0c6c 40.2px,#60136e 44.8px,#7d1e6d 46.8px,#b2325a 49.2px,#b83556 49.8px)}.g260{background:linear-gradient(#fcfea3 0.2px,#fcfea3 1.8px,#f5db4c 2.2px,#f8880d 2.8px,#e9612c 3.2px,#d94d3d 3.8px,#c23b50 5.2px,#9f2a63 7.2px,#711a6e 10.2px,#66156e 12.8px,#4b0c6b 40.2px,#5d126e 44.8px,#7b1d6d 46.8px,#a92e5e 48.8px,#b83557 49.8px)}.g261{background:linear-gradient(#fcffa4 0.2px,#fcffa4 1.8px,#f5dc4d 2.2px,#f8890d 2.8px,#e8602c 3.2px,#d84c3e 3.8px,#c03a51 5.2px,#9e2a64 7.2px,#6f196e 10.2px,#63146e 12.2px,#470b6a 40.2px,#5b116e 44.8px,#791c6d 46.8px,#a82d5f 48.8px,#b63458 49.8px)}.g262{background:linear-gradient(#fcffa4 0.2px,#fcffa4 1.8px,#f4dd4f 2.2px,#f98a0c 2.8px,#e8602d 3.2px,#d84c3f 3.8px,#c03952 5.2px,#9d2964 7.2px,#6e196e 10.2px,#60136e 12.2px,#460b69 36.2px,#440a69 40.2px,#59116e 44.8px,#781c6d 46.8px,#a72d60 48.8px,#b53458 49.8px)}.g263{background:linear-gradient(#fcfea4 0.2px,#fcfea4 1.8px,#f5db4c 2.2px,#f8880d 2.8px,#e65d2f 3.2px,#d54941 3.8px,#bd3854 5.2px,#992865 7.2px,#6a176e 10.2px,#5a116e 12.2px,#450a69 29.8px,#3f0966 40.2px,#540f6d 44.8px,#741b6e 46.8px,#a32c61 48.8px,#b2325a 49.8px)}.g264{background:linear-gradient(#fbfea2 0.2px,#fbfea2 1.8px,#f5da4b 2.2px,#f8870e 2.8px,#e55b30 3.2px,#d34743 3.8px,#ba3655 5.2px,#972766 7.2px,#68166e 10.2px,#550f6d 12.2px,#3f0a66 27.8px,#390963 40.2px,#500e6c 44.8px,#721a6e 46.8px,#a12b62 48.8px,#af315b 49.8px)}</style></head><body><div class="t" style="left:254.60px;top:2.73px;font-size:10.0px;color:#000000;transform:translateX(-50%) scaleY(0.92)">Calibration example for nightglow: IR2 2023-02-25 20:32:18</div>
<div class="hm" style="left:27.0px;top:31.0px;width:183.0px;height:50.0px"><i class="g0" style="left:0.00px;width:4.86px"></i><i class="g1" style="left:4.16px;width:4.86px"></i><i class="g2" style="left:8.32px;width:4.86px"></i><i class="g3" style="left:12.48px;width:4.86px"></i><i class="g4" style="left:16.64px;width:4.86px"></i><i class="g5" style="left:20.80px;width:4.86px"></i><i class="g6" style="left:24.95px;width:4.86px"></i><i class="g7" style="left:29.11px;width:4.86px"></i><i class="g8" style="left:33.27px;width:4.86px"></i><i class="g9" style="left:37.43px;width:4.86px"></i><i class="g10" style="left:41.59px;width:4.86px"></i><i class="g11" style="left:45.75px;width:4.86px"></i><i class="g12" style="left:49.91px;width:4.86px"></i><i class="g13" style="left:54.07px;width:4.86px"></i><i class="g14" style="left:58.23px;width:4.86px"></i><i class="g15" style="left:62.39px;width:4.86px"></i><i class="g16" style="left:66.55px;width:4.86px"></i><i class="g17" style="left:70.70px;width:4.86px"></i><i class="g18" style="left:74.86px;width:4.86px"></i><i class="g19" style="left:79.02px;width:4.86px"></i><i class="g20" style="left:83.18px;width:4.86px"></i><i class="g21" style="left:87.34px;width:4.86px"></i><i class="g22" style="left:91.50px;width:4.86px"></i><i class="g23" style="left:95.66px;width:4.86px"></i><i class="g24" style="left:99.82px;width:4.86px"></i><i class="g25" style="left:103.98px;width:4.86px"></i><i class="g26" style="left:108.14px;width:4.86px"></i><i class="g27" style="left:112.30px;width:4.86px"></i><i class="g28" style="left:116.45px;width:4.86px"></i><i class="g29" style="left:120.61px;width:4.86px"></i><i class="g30" style="left:124.77px;width:4.86px"></i><i class="g31" style="left:128.93px;width:4.86px"></i><i class="g32" style="left:133.09px;width:4.86px"></i><i class="g33" style="left:137.25px;width:4.86px"></i><i class="g34" style="left:141.41px;width:4.86px"></i><i class="g35" style="left:145.57px;width:4.86px"></i><i class="g36" style="left:149.73px;width:4.86px"></i><i class="g37" style="left:153.89px;width:4.86px"></i><i class="g38" style="left:158.05px;width:4.86px"></i><i class="g39" style="left:162.20px;width:4.86px"></i><i class="g40" style="left:166.36px;width:4.86px"></i><i class="g41" style="left:170.52px;width:4.86px"></i><i class="g42" style="left:174.68px;width:4.86px"></i><i class="g43" style="left:178.84px;width:4.16px"></i><b style="left:37.43px;top:21.00px;width:4.16px;height:1.0px;background:#cd4248"></b><b style="left:20.80px;top:29.00px;width:4.16px;height:1.0px;background:#932667"></b><b style="left:29.11px;top:34.00px;width:4.16px;height:1.0px;background:#9c2964"></b><b style="left:74.86px;top:23.00px;width:4.16px;height:1.0px;background:#9c2964"></b><b style="left:178.84px;top:37.80px;width:4.16px;height:1.0px;background:#c23b50"></b></div>
<div class="sp" style="left:27.0px;top:31.0px;width:183.0px;height:50.0px"></div>
<div class="tk" style="left:28.78px;top:81.00px;width:0.6px;height:2px"></div>
<div class="t" style="left:29.08px;top:84.12px;font-size:6.1px;color:#000000;transform:translateX(-50%) scaleY(0.92)">0</div>
<div class="tk" style="left:49.58px;top:81.00px;width:0.6px;height:2px"></div>
<div class="t" style="left:49.88px;top:84.12px;font-size:6.1px;color:#000000;transform:translateX(-50%) scaleY(0.92)">5</div>
<div class="tk" style="left:70.37px;top:81.00px;width:0.6px;height:2px"></div>
<div class="t" style="left:70.67px;top:84.12px;font-size:6.1px;color:#000000;transform:translateX(-50%) scaleY(0.92)">10</div>
<div class="tk" style="left:91.17px;top:81.00px;width:0.6px;height:2px"></div>
<div class="t" style="left:91.47px;top:84.12px;font-size:6.1px;color:#000000;transform:translateX(-50%) scaleY(0.92)">15</div>
<div class="tk" style="left:111.96px;top:81.00px;width:0.6px;height:2px"></div>
<div class="t" style="left:112.26px;top:84.12px;font-size:6.1px;color:#000000;transform:translateX(-50%) scaleY(0.92)">20</div>
<div class="tk" style="left:132.76px;top:81.00px;width:0.6px;height:2px"></div>
<div class="t" style="left:133.06px;top:84.12px;font-size:6.1px;color:#000000;transform:translateX(-50%) scaleY(0.92)">25</div>
<div class="tk" style="left:153.55px;top:81.00px;width:0.6px;height:2px"></div>
<div class="t" style="left:153.85px;top:84.12px;font-size:6.1px;color:#000000;transform:translateX(-50%) scaleY(0.92)">30</div>
<div class="tk" style="left:174.35px;top:81.00px;width:0.6px;height:2px"></div>
<div class="t" style="left:174.65px;top:84.12px;font-size:6.1px;color:#000000;transform:translateX(-50%) scaleY(0.92)">35</div>
<div class="tk" style="left:195.14px;top:81.00px;width:0.6px;height:2px"></div>
<div class="t" style="left:195.44px;top:84.12px;font-size:6.1px;color:#000000;transform:translateX(-50%) scaleY(0.92)">40</div>
<div class="t" style="left:118.50px;top:91.94px;font-size:6.1px;color:#000000;transform:translateX(-50%) scaleY(0.92)">Column number</div>
<div class="tk" style="left:25.00px;top:80.57px;width:2px;height:0.6px"></div>
<div class="t" style="left:23.10px;top:77.89px;font-size:6.1px;color:#000000;transform:translateX(-100%) scaleY(0.92)">0</div>
<div class="tk" style="left:25.00px;top:67.20px;width:2px;height:0.6px"></div>
<div class="t" style="left:23.10px;top:64.52px;font-size:6.1px;color:#000000;transform:translateX(-100%) scaleY(0.92)">50</div>
<div class="tk" style="left:25.00px;top:53.83px;width:2px;height:0.6px"></div>
<div class="t" style="left:23.10px;top:51.15px;font-size:6.1px;color:#000000;transform:translateX(-100%) scaleY(0.92)">100</div>
<div class="tk" style="left:25.00px;top:40.46px;width:2px;height:0.6px"></div>
<div class="t" style="left:23.10px;top:37.78px;font-size:6.1px;color:#000000;transform:translateX(-100%) scaleY(0.92)">150</div>
<div class="t" style="left:7.20px;top:56.00px;font-size:6.1px;color:#000000;transform:translate(-50%,-50%) rotate(-90deg) scaleY(0.92);transform-origin:50% 50%">Row number</div>
<div class="t" style="left:116.90px;top:21.38px;font-size:7.35px;color:#000000;transform:translateX(-50%) scaleY(0.92)">(a)&nbsp; Level 1a [Counts]</div>
<div class="cb" style="left:221.0px;top:31.0px;width:2.8px;height:50.0px"></div>
<div class="sp" style="left:221.0px;top:31.0px;width:2.8px;height:50.0px"></div>
<div class="tk" style="left:223.80px;top:69.37px;width:2px;height:0.6px"></div>
<div class="t" style="left:227.40px;top:66.69px;font-size:6.1px;color:#000000;transform: scaleY(0.92)">500</div>
<div class="tk" style="left:223.80px;top:54.31px;width:2px;height:0.6px"></div>
<div class="t" style="left:227.40px;top:51.63px;font-size:6.1px;color:#000000;transform: scaleY(0.92)">750</div>
<div class="tk" style="left:223.80px;top:39.25px;width:2px;height:0.6px"></div>
<div class="t" style="left:227.40px;top:36.57px;font-size:6.1px;color:#000000;transform: scaleY(0.92)">1000</div>
<div class="hm" style="left:27.0px;top:113.2px;width:183.0px;height:50.0px"><i class="g44" style="left:0.00px;width:4.86px"></i><i class="g45" style="left:4.16px;width:4.86px"></i><i class="g46" style="left:8.32px;width:4.86px"></i><i class="g47" style="left:12.48px;width:4.86px"></i><i class="g48" style="left:16.64px;width:4.86px"></i><i class="g49" style="left:20.80px;width:4.86px"></i><i class="g50" style="left:24.95px;width:4.86px"></i><i class="g51" style="left:29.11px;width:4.86px"></i><i class="g52" style="left:33.27px;width:4.86px"></i><i class="g53" style="left:37.43px;width:4.86px"></i><i class="g54" style="left:41.59px;width:4.86px"></i><i class="g55" style="left:45.75px;width:4.86px"></i><i class="g56" style="left:49.91px;width:4.86px"></i><i class="g57" style="left:54.07px;width:4.86px"></i><i class="g58" style="left:58.23px;width:4.86px"></i><i class="g59" style="left:62.39px;width:4.86px"></i><i class="g60" style="left:66.55px;width:4.86px"></i><i class="g61" style="left:70.70px;width:4.86px"></i><i class="g62" style="left:74.86px;width:4.86px"></i><i class="g63" style="left:79.02px;width:4.86px"></i><i class="g64" style="left:83.18px;width:4.86px"></i><i class="g65" style="left:87.34px;width:4.86px"></i><i class="g66" style="left:91.50px;width:4.86px"></i><i class="g67" style="left:95.66px;width:4.86px"></i><i class="g68" style="left:99.82px;width:4.86px"></i><i class="g69" style="left:103.98px;width:4.86px"></i><i class="g70" style="left:108.14px;width:4.86px"></i><i class="g71" style="left:112.30px;width:4.86px"></i><i class="g72" style="left:116.45px;width:4.86px"></i><i class="g73" style="left:120.61px;width:4.86px"></i><i class="g74" style="left:124.77px;width:4.86px"></i><i class="g75" style="left:128.93px;width:4.86px"></i><i class="g76" style="left:133.09px;width:4.86px"></i><i class="g77" style="left:137.25px;width:4.86px"></i><i class="g78" style="left:141.41px;width:4.86px"></i><i class="g79" style="left:145.57px;width:4.86px"></i><i class="g80" style="left:149.73px;width:4.86px"></i><i class="g81" style="left:153.89px;width:4.86px"></i><i class="g82" style="left:158.05px;width:4.86px"></i><i class="g83" style="left:162.20px;width:4.86px"></i><i class="g84" style="left:166.36px;width:4.86px"></i><i class="g85" style="left:170.52px;width:4.86px"></i><i class="g86" style="left:174.68px;width:4.86px"></i><i class="g87" style="left:178.84px;width:4.16px"></i></div>
<div class="sp" style="left:27.0px;top:113.2px;width:183.0px;height:50.0px"></div>
<div class="tk" style="left:28.78px;top:163.20px;width:0.6px;height:2px"></div>
<div class="t" style="left:29.08px;top:166.32px;font-size:6.1px;color:#000000;transform:translateX(-50%) scaleY(0.92)">0</div>
<div class="tk" style="left:49.58px;top:163.20px;width:0.6px;height:2px"></div>
<div class="t" style="left:49.88px;top:166.32px;font-size:6.1px;color:#000000;transform:translateX(-50%) scaleY(0.92)">5</div>
<div class="tk" style="left:70.37px;top:163.20px;width:0.6px;height:2px"></div>
<div class="t" style="left:70.67px;top:166.32px;font-size:6.1px;color:#000000;transform:translateX(-50%) scaleY(0.92)">10</div>
<div class="tk" style="left:91.17px;top:163.20px;width:0.6px;height:2px"></div>
<div class="t" style="left:91.47px;top:166.32px;font-size:6.1px;color:#000000;transform:translateX(-50%) scaleY(0.92)">15</div>
<div class="tk" style="left:111.96px;top:163.20px;width:0.6px;height:2px"></div>
<div class="t" style="left:112.26px;top:166.32px;font-size:6.1px;color:#000000;transform:translateX(-50%) scaleY(0.92)">20</div>
<div class="tk" style="left:132.76px;top:163.20px;width:0.6px;height:2px"></div>
<div class="t" style="left:133.06px;top:166.32px;font-size:6.1px;color:#000000;transform:translateX(-50%) scaleY(0.92)">25</div>
<div class="tk" style="left:153.55px;top:163.20px;width:0.6px;height:2px"></div>
<div class="t" style="left:153.85px;top:166.32px;font-size:6.1px;color:#000000;transform:translateX(-50%) scaleY(0.92)">30</div>
<div class="tk" style="left:174.35px;top:163.20px;width:0.6px;height:2px"></div>
<div class="t" style="left:174.65px;top:166.32px;font-size:6.1px;color:#000000;transform:translateX(-50%) scaleY(0.92)">35</div>
<div class="tk" style="left:195.14px;top:163.20px;width:0.6px;height:2px"></div>
<div class="t" style="left:195.44px;top:166.32px;font-size:6.1px;color:#000000;transform:translateX(-50%) scaleY(0.92)">40</div>
<div class="t" style="left:118.50px;top:174.14px;font-size:6.1px;color:#000000;transform:translateX(-50%) scaleY(0.92)">Column number</div>
<div class="tk" style="left:25.00px;top:162.77px;width:2px;height:0.6px"></div>
<div class="t" style="left:23.10px;top:160.09px;font-size:6.1px;color:#000000;transform:translateX(-100%) scaleY(0.92)">0</div>
<div class="tk" style="left:25.00px;top:149.40px;width:2px;height:0.6px"></div>
<div class="t" style="left:23.10px;top:146.72px;font-size:6.1px;color:#000000;transform:translateX(-100%) scaleY(0.92)">50</div>
<div class="tk" style="left:25.00px;top:136.03px;width:2px;height:0.6px"></div>
<div class="t" style="left:23.10px;top:133.35px;font-size:6.1px;color:#000000;transform:translateX(-100%) scaleY(0.92)">100</div>
<div class="tk" style="left:25.00px;top:122.66px;width:2px;height:0.6px"></div>
<div class="t" style="left:23.10px;top:119.98px;font-size:6.1px;color:#000000;transform:translateX(-100%) scaleY(0.92)">150</div>
<div class="t" style="left:7.20px;top:138.20px;font-size:6.1px;color:#000000;transform:translate(-50%,-50%) rotate(-90deg) scaleY(0.92);transform-origin:50% 50%">Row number</div>
<div class="t" style="left:116.90px;top:103.58px;font-size:7.35px;color:#000000;transform:translateX(-50%) scaleY(0.92)">(c) Bias, hotpixel and SE subtracted [Counts]</div>
<div class="cb" style="left:221.0px;top:113.2px;width:2.8px;height:50.0px"></div>
<div class="sp" style="left:221.0px;top:113.2px;width:2.8px;height:50.0px"></div>
<div class="tk" style="left:223.80px;top:150.27px;width:2px;height:0.6px"></div>
<div class="t" style="left:227.40px;top:147.59px;font-size:6.1px;color:#000000;transform: scaleY(0.92)">200</div>
<div class="tk" style="left:223.80px;top:137.11px;width:2px;height:0.6px"></div>
<div class="t" style="left:227.40px;top:134.43px;font-size:6.1px;color:#000000;transform: scaleY(0.92)">400</div>
<div class="tk" style="left:223.80px;top:123.95px;width:2px;height:0.6px"></div>
<div class="t" style="left:227.40px;top:121.27px;font-size:6.1px;color:#000000;transform: scaleY(0.92)">600</div>
<div class="hm" style="left:27.0px;top:195.4px;width:183.0px;height:50.0px"><i class="g44" style="left:0.00px;width:4.86px"></i><i class="g45" style="left:4.16px;width:4.86px"></i><i class="g46" style="left:8.32px;width:4.86px"></i><i class="g47" style="left:12.48px;width:4.86px"></i><i class="g48" style="left:16.64px;width:4.86px"></i><i class="g49" style="left:20.80px;width:4.86px"></i><i class="g50" style="left:24.95px;width:4.86px"></i><i class="g51" style="left:29.11px;width:4.86px"></i><i class="g52" style="left:33.27px;width:4.86px"></i><i class="g53" style="left:37.43px;width:4.86px"></i><i class="g54" style="left:41.59px;width:4.86px"></i><i class="g55" style="left:45.75px;width:4.86px"></i><i class="g56" style="left:49.91px;width:4.86px"></i><i class="g57" style="left:54.07px;width:4.86px"></i><i class="g58" style="left:58.23px;width:4.86px"></i><i class="g59" style="left:62.39px;width:4.86px"></i><i class="g60" style="left:66.55px;width:4.86px"></i><i class="g61" style="left:70.70px;width:4.86px"></i><i class="g62" style="left:74.86px;width:4.86px"></i><i class="g63" style="left:79.02px;width:4.86px"></i><i class="g64" style="left:83.18px;width:4.86px"></i><i class="g65" style="left:87.34px;width:4.86px"></i><i class="g66" style="left:91.50px;width:4.86px"></i><i class="g67" style="left:95.66px;width:4.86px"></i><i class="g68" style="left:99.82px;width:4.86px"></i><i class="g69" style="left:103.98px;width:4.86px"></i><i class="g70" style="left:108.14px;width:4.86px"></i><i class="g71" style="left:112.30px;width:4.86px"></i><i class="g72" style="left:116.45px;width:4.86px"></i><i class="g73" style="left:120.61px;width:4.86px"></i><i class="g74" style="left:124.77px;width:4.86px"></i><i class="g75" style="left:128.93px;width:4.86px"></i><i class="g76" style="left:133.09px;width:4.86px"></i><i class="g77" style="left:137.25px;width:4.86px"></i><i class="g78" style="left:141.41px;width:4.86px"></i><i class="g79" style="left:145.57px;width:4.86px"></i><i class="g80" style="left:149.73px;width:4.86px"></i><i class="g81" style="left:153.89px;width:4.86px"></i><i class="g82" style="left:158.05px;width:4.86px"></i><i class="g83" style="left:162.20px;width:4.86px"></i><i class="g84" style="left:166.36px;width:4.86px"></i><i class="g85" style="left:170.52px;width:4.86px"></i><i class="g86" style="left:174.68px;width:4.86px"></i><i class="g87" style="left:178.84px;width:4.16px"></i></div>
<div class="sp" style="left:27.0px;top:195.4px;width:183.0px;height:50.0px"></div>
<div class="tk" style="left:28.78px;top:245.40px;width:0.6px;height:2px"></div>
<div class="t" style="left:29.08px;top:248.52px;font-size:6.1px;color:#000000;transform:translateX(-50%) scaleY(0.92)">0</div>
<div class="tk" style="left:49.58px;top:245.40px;width:0.6px;height:2px"></div>
<div class="t" style="left:49.88px;top:248.52px;font-size:6.1px;color:#000000;transform:translateX(-50%) scaleY(0.92)">5</div>
<div class="tk" style="left:70.37px;top:245.40px;width:0.6px;height:2px"></div>
<div class="t" style="left:70.67px;top:248.52px;font-size:6.1px;color:#000000;transform:translateX(-50%) scaleY(0.92)">10</div>
<div class="tk" style="left:91.17px;top:245.40px;width:0.6px;height:2px"></div>
<div class="t" style="left:91.47px;top:248.52px;font-size:6.1px;color:#000000;transform:translateX(-50%) scaleY(0.92)">15</div>
<div class="tk" style="left:111.96px;top:245.40px;width:0.6px;height:2px"></div>
<div class="t" style="left:112.26px;top:248.52px;font-size:6.1px;color:#000000;transform:translateX(-50%) scaleY(0.92)">20</div>
<div class="tk" style="left:132.76px;top:245.40px;width:0.6px;height:2px"></div>
<div class="t" style="left:133.06px;top:248.52px;font-size:6.1px;color:#000000;transform:translateX(-50%) scaleY(0.92)">25</div>
<div class="tk" style="left:153.55px;top:245.40px;width:0.6px;height:2px"></div>
<div class="t" style="left:153.85px;top:248.52px;font-size:6.1px;color:#000000;transform:translateX(-50%) scaleY(0.92)">30</div>
<div class="tk" style="left:174.35px;top:245.40px;width:0.6px;height:2px"></div>
<div class="t" style="left:174.65px;top:248.52px;font-size:6.1px;color:#000000;transform:translateX(-50%) scaleY(0.92)">35</div>
<div class="tk" style="left:195.14px;top:245.40px;width:0.6px;height:2px"></div>
<div class="t" style="left:195.44px;top:248.52px;font-size:6.1px;color:#000000;transform:translateX(-50%) scaleY(0.92)">40</div>
<div class="t" style="left:118.50px;top:256.34px;font-size:6.1px;color:#000000;transform:translateX(-50%) scaleY(0.92)">Column number</div>
<div class="tk" style="left:25.00px;top:244.97px;width:2px;height:0.6px"></div>
<div class="t" style="left:23.10px;top:242.29px;font-size:6.1px;color:#000000;transform:translateX(-100%) scaleY(0.92)">0</div>
<div class="tk" style="left:25.00px;top:231.60px;width:2px;height:0.6px"></div>
<div class="t" style="left:23.10px;top:228.92px;font-size:6.1px;color:#000000;transform:translateX(-100%) scaleY(0.92)">50</div>
<div class="tk" style="left:25.00px;top:218.23px;width:2px;height:0.6px"></div>
<div class="t" style="left:23.10px;top:215.55px;font-size:6.1px;color:#000000;transform:translateX(-100%) scaleY(0.92)">100</div>
<div class="tk" style="left:25.00px;top:204.86px;width:2px;height:0.6px"></div>
<div class="t" style="left:23.10px;top:202.18px;font-size:6.1px;color:#000000;transform:translateX(-100%) scaleY(0.92)">150</div>
<div class="t" style="left:7.20px;top:220.40px;font-size:6.1px;color:#000000;transform:translate(-50%,-50%) rotate(-90deg) scaleY(0.92);transform-origin:50% 50%">Row number</div>
<div class="t" style="left:116.90px;top:185.78px;font-size:7.35px;color:#000000;transform:translateX(-50%) scaleY(0.92)">(e) Linearized [Counts]</div>
<div class="cb" style="left:221.0px;top:195.4px;width:2.8px;height:50.0px"></div>
<div class="sp" style="left:221.0px;top:195.4px;width:2.8px;height:50.0px"></div>
<div class="tk" style="left:223.80px;top:232.47px;width:2px;height:0.6px"></div>
<div class="t" style="left:227.40px;top:229.79px;font-size:6.1px;color:#000000;transform: scaleY(0.92)">200</div>
<div class="tk" style="left:223.80px;top:219.31px;width:2px;height:0.6px"></div>
<div class="t" style="left:227.40px;top:216.63px;font-size:6.1px;color:#000000;transform: scaleY(0.92)">400</div>
<div class="tk" style="left:223.80px;top:206.15px;width:2px;height:0.6px"></div>
<div class="t" style="left:227.40px;top:203.47px;font-size:6.1px;color:#000000;transform: scaleY(0.92)">600</div>
<div class="hm" style="left:27.0px;top:277.6px;width:183.0px;height:50.0px"><i class="g44" style="left:0.00px;width:4.86px"></i><i class="g45" style="left:4.16px;width:4.86px"></i><i class="g46" style="left:8.32px;width:4.86px"></i><i class="g47" style="left:12.48px;width:4.86px"></i><i class="g48" style="left:16.64px;width:4.86px"></i><i class="g49" style="left:20.80px;width:4.86px"></i><i class="g50" style="left:24.95px;width:4.86px"></i><i class="g51" style="left:29.11px;width:4.86px"></i><i class="g52" style="left:33.27px;width:4.86px"></i><i class="g53" style="left:37.43px;width:4.86px"></i><i class="g54" style="left:41.59px;width:4.86px"></i><i class="g55" style="left:45.75px;width:4.86px"></i><i class="g56" style="left:49.91px;width:4.86px"></i><i class="g57" style="left:54.07px;width:4.86px"></i><i class="g58" style="left:58.23px;width:4.86px"></i><i class="g59" style="left:62.39px;width:4.86px"></i><i class="g60" style="left:66.55px;width:4.86px"></i><i class="g61" style="left:70.70px;width:4.86px"></i><i class="g62" style="left:74.86px;width:4.86px"></i><i class="g63" style="left:79.02px;width:4.86px"></i><i class="g64" style="left:83.18px;width:4.86px"></i><i class="g65" style="left:87.34px;width:4.86px"></i><i class="g66" style="left:91.50px;width:4.86px"></i><i class="g67" style="left:95.66px;width:4.86px"></i><i class="g68" style="left:99.82px;width:4.86px"></i><i class="g69" style="left:103.98px;width:4.86px"></i><i class="g70" style="left:108.14px;width:4.86px"></i><i class="g71" style="left:112.30px;width:4.86px"></i><i class="g72" style="left:116.45px;width:4.86px"></i><i class="g73" style="left:120.61px;width:4.86px"></i><i class="g74" style="left:124.77px;width:4.86px"></i><i class="g75" style="left:128.93px;width:4.86px"></i><i class="g76" style="left:133.09px;width:4.86px"></i><i class="g77" style="left:137.25px;width:4.86px"></i><i class="g78" style="left:141.41px;width:4.86px"></i><i class="g79" style="left:145.57px;width:4.86px"></i><i class="g80" style="left:149.73px;width:4.86px"></i><i class="g81" style="left:153.89px;width:4.86px"></i><i class="g82" style="left:158.05px;width:4.86px"></i><i class="g83" style="left:162.20px;width:4.86px"></i><i class="g84" style="left:166.36px;width:4.86px"></i><i class="g85" style="left:170.52px;width:4.86px"></i><i class="g86" style="left:174.68px;width:4.86px"></i><i class="g87" style="left:178.84px;width:4.16px"></i></div>
<div class="sp" style="left:27.0px;top:277.6px;width:183.0px;height:50.0px"></div>
<div class="tk" style="left:28.78px;top:327.60px;width:0.6px;height:2px"></div>
<div class="t" style="left:29.08px;top:330.72px;font-size:6.1px;color:#000000;transform:translateX(-50%) scaleY(0.92)">0</div>
<div class="tk" style="left:49.58px;top:327.60px;width:0.6px;height:2px"></div>
<div class="t" style="left:49.88px;top:330.72px;font-size:6.1px;color:#000000;transform:translateX(-50%) scaleY(0.92)">5</div>
<div class="tk" style="left:70.37px;top:327.60px;width:0.6px;height:2px"></div>
<div class="t" style="left:70.67px;top:330.72px;font-size:6.1px;color:#000000;transform:translateX(-50%) scaleY(0.92)">10</div>
<div class="tk" style="left:91.17px;top:327.60px;width:0.6px;height:2px"></div>
<div class="t" style="left:91.47px;top:330.72px;font-size:6.1px;color:#000000;transform:translateX(-50%) scaleY(0.92)">15</div>
<div class="tk" style="left:111.96px;top:327.60px;width:0.6px;height:2px"></div>
<div class="t" style="left:112.26px;top:330.72px;font-size:6.1px;color:#000000;transform:translateX(-50%) scaleY(0.92)">20</div>
<div class="tk" style="left:132.76px;top:327.60px;width:0.6px;height:2px"></div>
<div class="t" style="left:133.06px;top:330.72px;font-size:6.1px;color:#000000;transform:translateX(-50%) scaleY(0.92)">25</div>
<div class="tk" style="left:153.55px;top:327.60px;width:0.6px;height:2px"></div>
<div class="t" style="left:153.85px;top:330.72px;font-size:6.1px;color:#000000;transform:translateX(-50%) scaleY(0.92)">30</div>
<div class="tk" style="left:174.35px;top:327.60px;width:0.6px;height:2px"></div>
<div class="t" style="left:174.65px;top:330.72px;font-size:6.1px;color:#000000;transform:translateX(-50%) scaleY(0.92)">35</div>
<div class="tk" style="left:195.14px;top:327.60px;width:0.6px;height:2px"></div>
<div class="t" style="left:195.44px;top:330.72px;font-size:6.1px;color:#000000;transform:translateX(-50%) scaleY(0.92)">40</div>
<div class="t" style="left:118.50px;top:338.54px;font-size:6.1px;color:#000000;transform:translateX(-50%) scaleY(0.92)">Column number</div>
<div class="tk" style="left:25.00px;top:327.17px;width:2px;height:0.6px"></div>
<div class="t" style="left:23.10px;top:324.49px;font-size:6.1px;color:#000000;transform:translateX(-100%) scaleY(0.92)">0</div>
<div class="tk" style="left:25.00px;top:313.80px;width:2px;height:0.6px"></div>
<div class="t" style="left:23.10px;top:311.12px;font-size:6.1px;color:#000000;transform:translateX(-100%) scaleY(0.92)">50</div>
<div class="tk" style="left:25.00px;top:300.43px;width:2px;height:0.6px"></div>
<div class="t" style="left:23.10px;top:297.75px;font-size:6.1px;color:#000000;transform:translateX(-100%) scaleY(0.92)">100</div>
<div class="tk" style="left:25.00px;top:287.06px;width:2px;height:0.6px"></div>
<div class="t" style="left:23.10px;top:284.38px;font-size:6.1px;color:#000000;transform:translateX(-100%) scaleY(0.92)">150</div>
<div class="t" style="left:7.20px;top:302.60px;font-size:6.1px;color:#000000;transform:translate(-50%,-50%) rotate(-90deg) scaleY(0.92);transform-origin:50% 50%">Row number</div>
<div class="t" style="left:116.90px;top:267.98px;font-size:7.35px;color:#000000;transform:translateX(-50%) scaleY(0.92)">(g) Desmeared [Counts]</div>
<div class="cb" style="left:221.0px;top:277.6px;width:2.8px;height:50.0px"></div>
<div class="sp" style="left:221.0px;top:277.6px;width:2.8px;height:50.0px"></div>
<div class="tk" style="left:223.80px;top:314.67px;width:2px;height:0.6px"></div>
<div class="t" style="left:227.40px;top:311.99px;font-size:6.1px;color:#000000;transform: scaleY(0.92)">200</div>
<div class="tk" style="left:223.80px;top:301.51px;width:2px;height:0.6px"></div>
<div class="t" style="left:227.40px;top:298.83px;font-size:6.1px;color:#000000;transform: scaleY(0.92)">400</div>
<div class="tk" style="left:223.80px;top:288.35px;width:2px;height:0.6px"></div>
<div class="t" style="left:227.40px;top:285.67px;font-size:6.1px;color:#000000;transform: scaleY(0.92)">600</div>
<div class="hm" style="left:27.0px;top:359.8px;width:183.0px;height:50.0px"><i class="g44" style="left:0.00px;width:4.86px"></i><i class="g45" style="left:4.16px;width:4.86px"></i><i class="g46" style="left:8.32px;width:4.86px"></i><i class="g47" style="left:12.48px;width:4.86px"></i><i class="g48" style="left:16.64px;width:4.86px"></i><i class="g49" style="left:20.80px;width:4.86px"></i><i class="g50" style="left:24.95px;width:4.86px"></i><i class="g51" style="left:29.11px;width:4.86px"></i><i class="g52" style="left:33.27px;width:4.86px"></i><i class="g53" style="left:37.43px;width:4.86px"></i><i class="g54" style="left:41.59px;width:4.86px"></i><i class="g55" style="left:45.75px;width:4.86px"></i><i class="g56" style="left:49.91px;width:4.86px"></i><i class="g57" style="left:54.07px;width:4.86px"></i><i class="g58" style="left:58.23px;width:4.86px"></i><i class="g59" style="left:62.39px;width:4.86px"></i><i class="g60" style="left:66.55px;width:4.86px"></i><i class="g61" style="left:70.70px;width:4.86px"></i><i class="g62" style="left:74.86px;width:4.86px"></i><i class="g63" style="left:79.02px;width:4.86px"></i><i class="g64" style="left:83.18px;width:4.86px"></i><i class="g65" style="left:87.34px;width:4.86px"></i><i class="g66" style="left:91.50px;width:4.86px"></i><i class="g67" style="left:95.66px;width:4.86px"></i><i class="g68" style="left:99.82px;width:4.86px"></i><i class="g69" style="left:103.98px;width:4.86px"></i><i class="g70" style="left:108.14px;width:4.86px"></i><i class="g71" style="left:112.30px;width:4.86px"></i><i class="g72" style="left:116.45px;width:4.86px"></i><i class="g73" style="left:120.61px;width:4.86px"></i><i class="g74" style="left:124.77px;width:4.86px"></i><i class="g75" style="left:128.93px;width:4.86px"></i><i class="g76" style="left:133.09px;width:4.86px"></i><i class="g77" style="left:137.25px;width:4.86px"></i><i class="g78" style="left:141.41px;width:4.86px"></i><i class="g79" style="left:145.57px;width:4.86px"></i><i class="g80" style="left:149.73px;width:4.86px"></i><i class="g81" style="left:153.89px;width:4.86px"></i><i class="g82" style="left:158.05px;width:4.86px"></i><i class="g83" style="left:162.20px;width:4.86px"></i><i class="g84" style="left:166.36px;width:4.86px"></i><i class="g85" style="left:170.52px;width:4.86px"></i><i class="g86" style="left:174.68px;width:4.86px"></i><i class="g87" style="left:178.84px;width:4.16px"></i></div>
<div class="sp" style="left:27.0px;top:359.8px;width:183.0px;height:50.0px"></div>
<div class="tk" style="left:28.78px;top:409.80px;width:0.6px;height:2px"></div>
<div class="t" style="left:29.08px;top:412.92px;font-size:6.1px;color:#000000;transform:translateX(-50%) scaleY(0.92)">0</div>
<div class="tk" style="left:49.58px;top:409.80px;width:0.6px;height:2px"></div>
<div class="t" style="left:49.88px;top:412.92px;font-size:6.1px;color:#000000;transform:translateX(-50%) scaleY(0.92)">5</div>
<div class="tk" style="left:70.37px;top:409.80px;width:0.6px;height:2px"></div>
<div class="t" style="left:70.67px;top:412.92px;font-size:6.1px;color:#000000;transform:translateX(-50%) scaleY(0.92)">10</div>
<div class="tk" style="left:91.17px;top:409.80px;width:0.6px;height:2px"></div>
<div class="t" style="left:91.47px;top:412.92px;font-size:6.1px;color:#000000;transform:translateX(-50%) scaleY(0.92)">15</div>
<div class="tk" style="left:111.96px;top:409.80px;width:0.6px;height:2px"></div>
<div class="t" style="left:112.26px;top:412.92px;font-size:6.1px;color:#000000;transform:translateX(-50%) scaleY(0.92)">20</div>
<div class="tk" style="left:132.76px;top:409.80px;width:0.6px;height:2px"></div>
<div class="t" style="left:133.06px;top:412.92px;font-size:6.1px;color:#000000;transform:translateX(-50%) scaleY(0.92)">25</div>
<div class="tk" style="left:153.55px;top:409.80px;width:0.6px;height:2px"></div>
<div class="t" style="left:153.85px;top:412.92px;font-size:6.1px;color:#000000;transform:translateX(-50%) scaleY(0.92)">30</div>
<div class="tk" style="left:174.35px;top:409.80px;width:0.6px;height:2px"></div>
<div class="t" style="left:174.65px;top:412.92px;font-size:6.1px;color:#000000;transform:translateX(-50%) scaleY(0.92)">35</div>
<div class="tk" style="left:195.14px;top:409.80px;width:0.6px;height:2px"></div>
<div class="t" style="left:195.44px;top:412.92px;font-size:6.1px;color:#000000;transform:translateX(-50%) scaleY(0.92)">40</div>
<div class="t" style="left:118.50px;top:420.74px;font-size:6.1px;color:#000000;transform:translateX(-50%) scaleY(0.92)">Column number</div>
<div class="tk" style="left:25.00px;top:409.37px;width:2px;height:0.6px"></div>
<div class="t" style="left:23.10px;top:406.69px;font-size:6.1px;color:#000000;transform:translateX(-100%) scaleY(0.92)">0</div>
<div class="tk" style="left:25.00px;top:396.00px;width:2px;height:0.6px"></div>
<div class="t" style="left:23.10px;top:393.32px;font-size:6.1px;color:#000000;transform:translateX(-100%) scaleY(0.92)">50</div>
<div class="tk" style="left:25.00px;top:382.63px;width:2px;height:0.6px"></div>
<div class="t" style="left:23.10px;top:379.95px;font-size:6.1px;color:#000000;transform:translateX(-100%) scaleY(0.92)">100</div>
<div class="tk" style="left:25.00px;top:369.26px;width:2px;height:0.6px"></div>
<div class="t" style="left:23.10px;top:366.58px;font-size:6.1px;color:#000000;transform:translateX(-100%) scaleY(0.92)">150</div>
<div class="t" style="left:7.20px;top:384.80px;font-size:6.1px;color:#000000;transform:translate(-50%,-50%) rotate(-90deg) scaleY(0.92);transform-origin:50% 50%">Row number</div>
<div class="t" style="left:116.90px;top:350.18px;font-size:7.35px;color:#000000;transform:translateX(-50%) scaleY(0.92)">(i) Dark current subtracted [Counts]</div>
<div class="cb" style="left:221.0px;top:359.8px;width:2.8px;height:50.0px"></div>
<div class="sp" style="left:221.0px;top:359.8px;width:2.8px;height:50.0px"></div>
<div class="tk" style="left:223.80px;top:396.87px;width:2px;height:0.6px"></div>
<div class="t" style="left:227.40px;top:394.19px;font-size:6.1px;color:#000000;transform: scaleY(0.92)">200</div>
<div class="tk" style="left:223.80px;top:383.71px;width:2px;height:0.6px"></div>
<div class="t" style="left:227.40px;top:381.03px;font-size:6.1px;color:#000000;transform: scaleY(0.92)">400</div>
<div class="tk" style="left:223.80px;top:370.55px;width:2px;height:0.6px"></div>
<div class="t" style="left:227.40px;top:367.87px;font-size:6.1px;color:#000000;transform: scaleY(0.92)">600</div>
<div class="hm" style="left:27.0px;top:442.0px;width:183.0px;height:50.0px"><i class="g88" style="left:0.00px;width:4.86px"></i><i class="g89" style="left:4.16px;width:4.86px"></i><i class="g90" style="left:8.32px;width:4.86px"></i><i class="g91" style="left:12.48px;width:4.86px"></i><i class="g92" style="left:16.64px;width:4.86px"></i><i class="g93" style="left:20.80px;width:4.86px"></i><i class="g94" style="left:24.95px;width:4.86px"></i><i class="g95" style="left:29.11px;width:4.86px"></i><i class="g96" style="left:33.27px;width:4.86px"></i><i class="g97" style="left:37.43px;width:4.86px"></i><i class="g98" style="left:41.59px;width:4.86px"></i><i class="g99" style="left:45.75px;width:4.86px"></i><i class="g100" style="left:49.91px;width:4.86px"></i><i class="g101" style="left:54.07px;width:4.86px"></i><i class="g102" style="left:58.23px;width:4.86px"></i><i class="g103" style="left:62.39px;width:4.86px"></i><i class="g104" style="left:66.55px;width:4.86px"></i><i class="g105" style="left:70.70px;width:4.86px"></i><i class="g106" style="left:74.86px;width:4.86px"></i><i class="g107" style="left:79.02px;width:4.86px"></i><i class="g108" style="left:83.18px;width:4.86px"></i><i class="g109" style="left:87.34px;width:4.86px"></i><i class="g110" style="left:91.50px;width:4.86px"></i><i class="g111" style="left:95.66px;width:4.86px"></i><i class="g112" style="left:99.82px;width:4.86px"></i><i class="g113" style="left:103.98px;width:4.86px"></i><i class="g114" style="left:108.14px;width:4.86px"></i><i class="g115" style="left:112.30px;width:4.86px"></i><i class="g116" style="left:116.45px;width:4.86px"></i><i class="g117" style="left:120.61px;width:4.86px"></i><i class="g118" style="left:124.77px;width:4.86px"></i><i class="g119" style="left:128.93px;width:4.86px"></i><i class="g120" style="left:133.09px;width:4.86px"></i><i class="g121" style="left:137.25px;width:4.86px"></i><i class="g122" style="left:141.41px;width:4.86px"></i><i class="g123" style="left:145.57px;width:4.86px"></i><i class="g124" style="left:149.73px;width:4.86px"></i><i class="g125" style="left:153.89px;width:4.86px"></i><i class="g126" style="left:158.05px;width:4.86px"></i><i class="g127" style="left:162.20px;width:4.86px"></i><i class="g128" style="left:166.36px;width:4.86px"></i><i class="g129" style="left:170.52px;width:4.86px"></i><i class="g130" style="left:174.68px;width:4.86px"></i><i class="g131" style="left:178.84px;width:4.16px"></i></div>
<div class="sp" style="left:27.0px;top:442.0px;width:183.0px;height:50.0px"></div>
<div class="tk" style="left:28.78px;top:492.00px;width:0.6px;height:2px"></div>
<div class="t" style="left:29.08px;top:495.12px;font-size:6.1px;color:#000000;transform:translateX(-50%) scaleY(0.92)">0</div>
<div class="tk" style="left:49.58px;top:492.00px;width:0.6px;height:2px"></div>
<div class="t" style="left:49.88px;top:495.12px;font-size:6.1px;color:#000000;transform:translateX(-50%) scaleY(0.92)">5</div>
<div class="tk" style="left:70.37px;top:492.00px;width:0.6px;height:2px"></div>
<div class="t" style="left:70.67px;top:495.12px;font-size:6.1px;color:#000000;transform:translateX(-50%) scaleY(0.92)">10</div>
<div class="tk" style="left:91.17px;top:492.00px;width:0.6px;height:2px"></div>
<div class="t" style="left:91.47px;top:495.12px;font-size:6.1px;color:#000000;transform:translateX(-50%) scaleY(0.92)">15</div>
<div class="tk" style="left:111.96px;top:492.00px;width:0.6px;height:2px"></div>
<div class="t" style="left:112.26px;top:495.12px;font-size:6.1px;color:#000000;transform:translateX(-50%) scaleY(0.92)">20</div>
<div class="tk" style="left:132.76px;top:492.00px;width:0.6px;height:2px"></div>
<div class="t" style="left:133.06px;top:495.12px;font-size:6.1px;color:#000000;transform:translateX(-50%) scaleY(0.92)">25</div>
<div class="tk" style="left:153.55px;top:492.00px;width:0.6px;height:2px"></div>
<div class="t" style="left:153.85px;top:495.12px;font-size:6.1px;color:#000000;transform:translateX(-50%) scaleY(0.92)">30</div>
<div class="tk" style="left:174.35px;top:492.00px;width:0.6px;height:2px"></div>
<div class="t" style="left:174.65px;top:495.12px;font-size:6.1px;color:#000000;transform:translateX(-50%) scaleY(0.92)">35</div>
<div class="tk" style="left:195.14px;top:492.00px;width:0.6px;height:2px"></div>
<div class="t" style="left:195.44px;top:495.12px;font-size:6.1px;color:#000000;transform:translateX(-50%) scaleY(0.92)">40</div>
<div class="t" style="left:118.50px;top:502.94px;font-size:6.1px;color:#000000;transform:translateX(-50%) scaleY(0.92)">Column number</div>
<div class="tk" style="left:25.00px;top:491.57px;width:2px;height:0.6px"></div>
<div class="t" style="left:23.10px;top:488.89px;font-size:6.1px;color:#000000;transform:translateX(-100%) scaleY(0.92)">0</div>
<div class="tk" style="left:25.00px;top:478.20px;width:2px;height:0.6px"></div>
<div class="t" style="left:23.10px;top:475.52px;font-size:6.1px;color:#000000;transform:translateX(-100%) scaleY(0.92)">50</div>
<div class="tk" style="left:25.00px;top:464.83px;width:2px;height:0.6px"></div>
<div class="t" style="left:23.10px;top:462.15px;font-size:6.1px;color:#000000;transform:translateX(-100%) scaleY(0.92)">100</div>
<div class="tk" style="left:25.00px;top:451.46px;width:2px;height:0.6px"></div>
<div class="t" style="left:23.10px;top:448.78px;font-size:6.1px;color:#000000;transform:translateX(-100%) scaleY(0.92)">150</div>
<div class="t" style="left:7.20px;top:467.00px;font-size:6.1px;color:#000000;transform:translate(-50%,-50%) rotate(-90deg) scaleY(0.92);transform-origin:50% 50%">Row number</div>
<div class="t" style="left:116.90px;top:432.38px;font-size:7.35px;color:#000000;transform:translateX(-50%) scaleY(0.92)">(k) Calibrated [10<sup>12</sup> photons/nm/s/m<sup>2</sup>/sr]</div>
<div class="cb" style="left:221.0px;top:442.0px;width:2.8px;height:50.0px"></div>
<div class="sp" style="left:221.0px;top:442.0px;width:2.8px;height:50.0px"></div>
<div class="tk" style="left:223.80px;top:485.38px;width:2px;height:0.6px"></div>
<div class="t" style="left:227.40px;top:482.70px;font-size:6.1px;color:#000000;transform: scaleY(0.92)">0</div>
<div class="tk" style="left:223.80px;top:467.84px;width:2px;height:0.6px"></div>
<div class="t" style="left:227.40px;top:465.16px;font-size:6.1px;color:#000000;transform: scaleY(0.92)">10</div>
<div class="tk" style="left:223.80px;top:450.30px;width:2px;height:0.6px"></div>
<div class="t" style="left:227.40px;top:447.62px;font-size:6.1px;color:#000000;transform: scaleY(0.92)">20</div>
<div class="hm" style="left:276.0px;top:72.2px;width:183.0px;height:50.0px"><i class="g132" style="left:0.00px;width:4.86px"></i><i class="g133" style="left:4.16px;width:4.86px"></i><i class="g134" style="left:8.32px;width:4.86px"></i><i class="g135" style="left:12.48px;width:4.86px"></i><i class="g136" style="left:16.64px;width:4.86px"></i><i class="g137" style="left:20.80px;width:4.86px"></i><i class="g138" style="left:24.95px;width:4.86px"></i><i class="g139" style="left:29.11px;width:4.86px"></i><i class="g140" style="left:33.27px;width:4.86px"></i><i class="g141" style="left:37.43px;width:4.86px"></i><i class="g142" style="left:41.59px;width:4.86px"></i><i class="g143" style="left:45.75px;width:4.86px"></i><i class="g144" style="left:49.91px;width:4.86px"></i><i class="g145" style="left:54.07px;width:4.86px"></i><i class="g146" style="left:58.23px;width:4.86px"></i><i class="g147" style="left:62.39px;width:4.86px"></i><i class="g148" style="left:66.55px;width:4.86px"></i><i class="g149" style="left:70.70px;width:4.86px"></i><i class="g150" style="left:74.86px;width:4.86px"></i><i class="g151" style="left:79.02px;width:4.86px"></i><i class="g152" style="left:83.18px;width:4.86px"></i><i class="g153" style="left:87.34px;width:4.86px"></i><i class="g154" style="left:91.50px;width:4.86px"></i><i class="g155" style="left:95.66px;width:4.86px"></i><i class="g156" style="left:99.82px;width:4.86px"></i><i class="g157" style="left:103.98px;width:4.86px"></i><i class="g158" style="left:108.14px;width:4.86px"></i><i class="g159" style="left:112.30px;width:4.86px"></i><i class="g160" style="left:116.45px;width:4.86px"></i><i class="g161" style="left:120.61px;width:4.86px"></i><i class="g162" style="left:124.77px;width:4.86px"></i><i class="g163" style="left:128.93px;width:4.86px"></i><i class="g164" style="left:133.09px;width:4.86px"></i><i class="g165" style="left:137.25px;width:4.86px"></i><i class="g166" style="left:141.41px;width:4.86px"></i><i class="g167" style="left:145.57px;width:4.86px"></i><i class="g168" style="left:149.73px;width:4.86px"></i><i class="g169" style="left:153.89px;width:4.86px"></i><i class="g170" style="left:158.05px;width:4.86px"></i><i class="g171" style="left:162.20px;width:4.86px"></i><i class="g172" style="left:166.36px;width:4.86px"></i><i class="g173" style="left:170.52px;width:4.86px"></i><i class="g174" style="left:174.68px;width:4.86px"></i><i class="g175" style="left:178.84px;width:4.16px"></i></div>
<div class="sp" style="left:276.0px;top:72.2px;width:183.0px;height:50.0px"></div>
<div class="tk" style="left:277.78px;top:122.20px;width:0.6px;height:2px"></div>
<div class="t" style="left:278.08px;top:125.32px;font-size:6.1px;color:#000000;transform:translateX(-50%) scaleY(0.92)">0</div>
<div class="tk" style="left:298.57px;top:122.20px;width:0.6px;height:2px"></div>
<div class="t" style="left:298.88px;top:125.32px;font-size:6.1px;color:#000000;transform:translateX(-50%) scaleY(0.92)">5</div>
<div class="tk" style="left:319.37px;top:122.20px;width:0.6px;height:2px"></div>
<div class="t" style="left:319.67px;top:125.32px;font-size:6.1px;color:#000000;transform:translateX(-50%) scaleY(0.92)">10</div>
<div class="tk" style="left:340.17px;top:122.20px;width:0.6px;height:2px"></div>
<div class="t" style="left:340.47px;top:125.32px;font-size:6.1px;color:#000000;transform:translateX(-50%) scaleY(0.92)">15</div>
<div class="tk" style="left:360.96px;top:122.20px;width:0.6px;height:2px"></div>
<div class="t" style="left:361.26px;top:125.32px;font-size:6.1px;color:#000000;transform:translateX(-50%) scaleY(0.92)">20</div>
<div class="tk" style="left:381.76px;top:122.20px;width:0.6px;height:2px"></div>
<div class="t" style="left:382.06px;top:125.32px;font-size:6.1px;color:#000000;transform:translateX(-50%) scaleY(0.92)">25</div>
<div class="tk" style="left:402.55px;top:122.20px;width:0.6px;height:2px"></div>
<div class="t" style="left:402.85px;top:125.32px;font-size:6.1px;color:#000000;transform:translateX(-50%) scaleY(0.92)">30</div>
<div class="tk" style="left:423.35px;top:122.20px;width:0.6px;height:2px"></div>
<div class="t" style="left:423.65px;top:125.32px;font-size:6.1px;color:#000000;transform:translateX(-50%) scaleY(0.92)">35</div>
<div class="tk" style="left:444.14px;top:122.20px;width:0.6px;height:2px"></div>
<div class="t" style="left:444.44px;top:125.32px;font-size:6.1px;color:#000000;transform:translateX(-50%) scaleY(0.92)">40</div>
<div class="t" style="left:367.50px;top:133.14px;font-size:6.1px;color:#000000;transform:translateX(-50%) scaleY(0.92)">Column number</div>
<div class="tk" style="left:274.00px;top:121.77px;width:2px;height:0.6px"></div>
<div class="t" style="left:272.10px;top:119.09px;font-size:6.1px;color:#000000;transform:translateX(-100%) scaleY(0.92)">0</div>
<div class="tk" style="left:274.00px;top:108.40px;width:2px;height:0.6px"></div>
<div class="t" style="left:272.10px;top:105.72px;font-size:6.1px;color:#000000;transform:translateX(-100%) scaleY(0.92)">50</div>
<div class="tk" style="left:274.00px;top:95.03px;width:2px;height:0.6px"></div>
<div class="t" style="left:272.10px;top:92.35px;font-size:6.1px;color:#000000;transform:translateX(-100%) scaleY(0.92)">100</div>
<div class="tk" style="left:274.00px;top:81.66px;width:2px;height:0.6px"></div>
<div class="t" style="left:272.10px;top:78.98px;font-size:6.1px;color:#000000;transform:translateX(-100%) scaleY(0.92)">150</div>
<div class="t" style="left:256.20px;top:97.20px;font-size:6.1px;color:#000000;transform:translate(-50%,-50%) rotate(-90deg) scaleY(0.92);transform-origin:50% 50%">Row number</div>
<div class="t" style="left:365.90px;top:62.58px;font-size:7.35px;color:#000000;transform:translateX(-50%) scaleY(0.92)">(b) Bias, hot pixel and SE subtraction [Counts]</div>
<div class="cb" style="left:470.0px;top:72.2px;width:2.8px;height:50.0px"></div>
<div class="sp" style="left:470.0px;top:72.2px;width:2.8px;height:50.0px"></div>
<div class="tk" style="left:472.80px;top:116.49px;width:2px;height:0.6px"></div>
<div class="t" style="left:476.40px;top:113.81px;font-size:6.1px;color:#000000;transform: scaleY(0.92)">300</div>
<div class="tk" style="left:472.80px;top:102.54px;width:2px;height:0.6px"></div>
<div class="t" style="left:476.40px;top:99.86px;font-size:6.1px;color:#000000;transform: scaleY(0.92)">325</div>
<div class="tk" style="left:472.80px;top:88.59px;width:2px;height:0.6px"></div>
<div class="t" style="left:476.40px;top:85.91px;font-size:6.1px;color:#000000;transform: scaleY(0.92)">350</div>
<div class="tk" style="left:472.80px;top:74.63px;width:2px;height:0.6px"></div>
<div class="t" style="left:476.40px;top:71.95px;font-size:6.1px;color:#000000;transform: scaleY(0.92)">375</div>
<div class="t" style="left:290.50px;top:100.84px;font-size:6.1px;color:#ffffff;transform: scaleY(0.92);-webkit-text-stroke:0">min: 290</div>
<div class="t" style="left:290.50px;top:109.04px;font-size:6.1px;color:#ffffff;transform: scaleY(0.92);-webkit-text-stroke:0">max: 679</div>
<div class="hm" style="left:276.0px;top:154.4px;width:183.0px;height:50.0px"><i class="g176" style="left:0.00px;width:4.86px"></i><i class="g176" style="left:4.16px;width:4.86px"></i><i class="g176" style="left:8.32px;width:4.86px"></i><i class="g176" style="left:12.48px;width:4.86px"></i><i class="g176" style="left:16.64px;width:4.86px"></i><i class="g176" style="left:20.80px;width:4.86px"></i><i class="g176" style="left:24.95px;width:4.86px"></i><i class="g176" style="left:29.11px;width:4.86px"></i><i class="g176" style="left:33.27px;width:4.86px"></i><i class="g176" style="left:37.43px;width:4.86px"></i><i class="g176" style="left:41.59px;width:4.86px"></i><i class="g176" style="left:45.75px;width:4.86px"></i><i class="g176" style="left:49.91px;width:4.86px"></i><i class="g176" style="left:54.07px;width:4.86px"></i><i class="g176" style="left:58.23px;width:4.86px"></i><i class="g176" style="left:62.39px;width:4.86px"></i><i class="g176" style="left:66.55px;width:4.86px"></i><i class="g176" style="left:70.70px;width:4.86px"></i><i class="g176" style="left:74.86px;width:4.86px"></i><i class="g176" style="left:79.02px;width:4.86px"></i><i class="g176" style="left:83.18px;width:4.86px"></i><i class="g176" style="left:87.34px;width:4.86px"></i><i class="g176" style="left:91.50px;width:4.86px"></i><i class="g176" style="left:95.66px;width:4.86px"></i><i class="g176" style="left:99.82px;width:4.86px"></i><i class="g176" style="left:103.98px;width:4.86px"></i><i class="g176" style="left:108.14px;width:4.86px"></i><i class="g176" style="left:112.30px;width:4.86px"></i><i class="g176" style="left:116.45px;width:4.86px"></i><i class="g176" style="left:120.61px;width:4.86px"></i><i class="g176" style="left:124.77px;width:4.86px"></i><i class="g176" style="left:128.93px;width:4.86px"></i><i class="g176" style="left:133.09px;width:4.86px"></i><i class="g176" style="left:137.25px;width:4.86px"></i><i class="g176" style="left:141.41px;width:4.86px"></i><i class="g176" style="left:145.57px;width:4.86px"></i><i class="g176" style="left:149.73px;width:4.86px"></i><i class="g176" style="left:153.89px;width:4.86px"></i><i class="g176" style="left:158.05px;width:4.86px"></i><i class="g176" style="left:162.20px;width:4.86px"></i><i class="g176" style="left:166.36px;width:4.86px"></i><i class="g176" style="left:170.52px;width:4.86px"></i><i class="g176" style="left:174.68px;width:4.86px"></i><i class="g176" style="left:178.84px;width:4.16px"></i></div>
<div class="sp" style="left:276.0px;top:154.4px;width:183.0px;height:50.0px"></div>
<div class="tk" style="left:277.78px;top:204.40px;width:0.6px;height:2px"></div>
<div class="t" style="left:278.08px;top:207.52px;font-size:6.1px;color:#000000;transform:translateX(-50%) scaleY(0.92)">0</div>
<div class="tk" style="left:298.57px;top:204.40px;width:0.6px;height:2px"></div>
<div class="t" style="left:298.88px;top:207.52px;font-size:6.1px;color:#000000;transform:translateX(-50%) scaleY(0.92)">5</div>
<div class="tk" style="left:319.37px;top:204.40px;width:0.6px;height:2px"></div>
<div class="t" style="left:319.67px;top:207.52px;font-size:6.1px;color:#000000;transform:translateX(-50%) scaleY(0.92)">10</div>
<div class="tk" style="left:340.17px;top:204.40px;width:0.6px;height:2px"></div>
<div class="t" style="left:340.47px;top:207.52px;font-size:6.1px;color:#000000;transform:translateX(-50%) scaleY(0.92)">15</div>
<div class="tk" style="left:360.96px;top:204.40px;width:0.6px;height:2px"></div>
<div class="t" style="left:361.26px;top:207.52px;font-size:6.1px;color:#000000;transform:translateX(-50%) scaleY(0.92)">20</div>
<div class="tk" style="left:381.76px;top:204.40px;width:0.6px;height:2px"></div>
<div class="t" style="left:382.06px;top:207.52px;font-size:6.1px;color:#000000;transform:translateX(-50%) scaleY(0.92)">25</div>
<div class="tk" style="left:402.55px;top:204.40px;width:0.6px;height:2px"></div>
<div class="t" style="left:402.85px;top:207.52px;font-size:6.1px;color:#000000;transform:translateX(-50%) scaleY(0.92)">30</div>
<div class="tk" style="left:423.35px;top:204.40px;width:0.6px;height:2px"></div>
<div class="t" style="left:423.65px;top:207.52px;font-size:6.1px;color:#000000;transform:translateX(-50%) scaleY(0.92)">35</div>
<div class="tk" style="left:444.14px;top:204.40px;width:0.6px;height:2px"></div>
<div class="t" style="left:444.44px;top:207.52px;font-size:6.1px;color:#000000;transform:translateX(-50%) scaleY(0.92)">40</div>
<div class="t" style="left:367.50px;top:215.34px;font-size:6.1px;color:#000000;transform:translateX(-50%) scaleY(0.92)">Column number</div>
<div class="tk" style="left:274.00px;top:203.97px;width:2px;height:0.6px"></div>
<div class="t" style="left:272.10px;top:201.29px;font-size:6.1px;color:#000000;transform:translateX(-100%) scaleY(0.92)">0</div>
<div class="tk" style="left:274.00px;top:190.60px;width:2px;height:0.6px"></div>
<div class="t" style="left:272.10px;top:187.92px;font-size:6.1px;color:#000000;transform:translateX(-100%) scaleY(0.92)">50</div>
<div class="tk" style="left:274.00px;top:177.23px;width:2px;height:0.6px"></div>
<div class="t" style="left:272.10px;top:174.55px;font-size:6.1px;color:#000000;transform:translateX(-100%) scaleY(0.92)">100</div>
<div class="tk" style="left:274.00px;top:163.86px;width:2px;height:0.6px"></div>
<div class="t" style="left:272.10px;top:161.18px;font-size:6.1px;color:#000000;transform:translateX(-100%) scaleY(0.92)">150</div>
<div class="t" style="left:256.20px;top:179.40px;font-size:6.1px;color:#000000;transform:translate(-50%,-50%) rotate(-90deg) scaleY(0.92);transform-origin:50% 50%">Row number</div>
<div class="t" style="left:365.90px;top:144.78px;font-size:7.35px;color:#000000;transform:translateX(-50%) scaleY(0.92)">(d) Linearization factor [Unitless]</div>
<div class="cb" style="left:470.0px;top:154.4px;width:2.8px;height:50.0px"></div>
<div class="sp" style="left:470.0px;top:154.4px;width:2.8px;height:50.0px"></div>
<div class="tk" style="left:472.80px;top:204.10px;width:2px;height:0.6px"></div>
<div class="t" style="left:476.40px;top:201.42px;font-size:6.1px;color:#000000;transform: scaleY(0.92)">0.9</div>
<div class="tk" style="left:472.80px;top:179.10px;width:2px;height:0.6px"></div>
<div class="t" style="left:476.40px;top:176.42px;font-size:6.1px;color:#000000;transform: scaleY(0.92)">1.0</div>
<div class="tk" style="left:472.80px;top:154.10px;width:2px;height:0.6px"></div>
<div class="t" style="left:476.40px;top:151.42px;font-size:6.1px;color:#000000;transform: scaleY(0.92)">1.1</div>
<div class="t" style="left:290.50px;top:183.04px;font-size:6.1px;color:#ffffff;transform: scaleY(0.92);-webkit-text-stroke:0">min: 1</div>
<div class="t" style="left:290.50px;top:191.24px;font-size:6.1px;color:#ffffff;transform: scaleY(0.92);-webkit-text-stroke:0">max: 1</div>
<div class="hm" style="left:276.0px;top:236.60000000000002px;width:183.0px;height:50.0px"><i class="g176" style="left:0.00px;width:4.86px"></i><i class="g176" style="left:4.16px;width:4.86px"></i><i class="g176" style="left:8.32px;width:4.86px"></i><i class="g176" style="left:12.48px;width:4.86px"></i><i class="g176" style="left:16.64px;width:4.86px"></i><i class="g176" style="left:20.80px;width:4.86px"></i><i class="g176" style="left:24.95px;width:4.86px"></i><i class="g176" style="left:29.11px;width:4.86px"></i><i class="g176" style="left:33.27px;width:4.86px"></i><i class="g176" style="left:37.43px;width:4.86px"></i><i class="g176" style="left:41.59px;width:4.86px"></i><i class="g176" style="left:45.75px;width:4.86px"></i><i class="g176" style="left:49.91px;width:4.86px"></i><i class="g176" style="left:54.07px;width:4.86px"></i><i class="g176" style="left:58.23px;width:4.86px"></i><i class="g176" style="left:62.39px;width:4.86px"></i><i class="g176" style="left:66.55px;width:4.86px"></i><i class="g176" style="left:70.70px;width:4.86px"></i><i class="g176" style="left:74.86px;width:4.86px"></i><i class="g176" style="left:79.02px;width:4.86px"></i><i class="g176" style="left:83.18px;width:4.86px"></i><i class="g176" style="left:87.34px;width:4.86px"></i><i class="g176" style="left:91.50px;width:4.86px"></i><i class="g176" style="left:95.66px;width:4.86px"></i><i class="g176" style="left:99.82px;width:4.86px"></i><i class="g176" style="left:103.98px;width:4.86px"></i><i class="g176" style="left:108.14px;width:4.86px"></i><i class="g176" style="left:112.30px;width:4.86px"></i><i class="g176" style="left:116.45px;width:4.86px"></i><i class="g176" style="left:120.61px;width:4.86px"></i><i class="g176" style="left:124.77px;width:4.86px"></i><i class="g176" style="left:128.93px;width:4.86px"></i><i class="g176" style="left:133.09px;width:4.86px"></i><i class="g176" style="left:137.25px;width:4.86px"></i><i class="g176" style="left:141.41px;width:4.86px"></i><i class="g176" style="left:145.57px;width:4.86px"></i><i class="g176" style="left:149.73px;width:4.86px"></i><i class="g176" style="left:153.89px;width:4.86px"></i><i class="g176" style="left:158.05px;width:4.86px"></i><i class="g176" style="left:162.20px;width:4.86px"></i><i class="g176" style="left:166.36px;width:4.86px"></i><i class="g176" style="left:170.52px;width:4.86px"></i><i class="g176" style="left:174.68px;width:4.86px"></i><i class="g176" style="left:178.84px;width:4.16px"></i></div>
<div class="sp" style="left:276.0px;top:236.60000000000002px;width:183.0px;height:50.0px"></div>
<div class="tk" style="left:277.78px;top:286.60px;width:0.6px;height:2px"></div>
<div class="t" style="left:278.08px;top:289.72px;font-size:6.1px;color:#000000;transform:translateX(-50%) scaleY(0.92)">0</div>
<div class="tk" style="left:298.57px;top:286.60px;width:0.6px;height:2px"></div>
<div class="t" style="left:298.88px;top:289.72px;font-size:6.1px;color:#000000;transform:translateX(-50%) scaleY(0.92)">5</div>
<div class="tk" style="left:319.37px;top:286.60px;width:0.6px;height:2px"></div>
<div class="t" style="left:319.67px;top:289.72px;font-size:6.1px;color:#000000;transform:translateX(-50%) scaleY(0.92)">10</div>
<div class="tk" style="left:340.17px;top:286.60px;width:0.6px;height:2px"></div>
<div class="t" style="left:340.47px;top:289.72px;font-size:6.1px;color:#000000;transform:translateX(-50%) scaleY(0.92)">15</div>
<div class="tk" style="left:360.96px;top:286.60px;width:0.6px;height:2px"></div>
<div class="t" style="left:361.26px;top:289.72px;font-size:6.1px;color:#000000;transform:translateX(-50%) scaleY(0.92)">20</div>
<div class="tk" style="left:381.76px;top:286.60px;width:0.6px;height:2px"></div>
<div class="t" style="left:382.06px;top:289.72px;font-size:6.1px;color:#000000;transform:translateX(-50%) scaleY(0.92)">25</div>
<div class="tk" style="left:402.55px;top:286.60px;width:0.6px;height:2px"></div>
<div class="t" style="left:402.85px;top:289.72px;font-size:6.1px;color:#000000;transform:translateX(-50%) scaleY(0.92)">30</div>
<div class="tk" style="left:423.35px;top:286.60px;width:0.6px;height:2px"></div>
<div class="t" style="left:423.65px;top:289.72px;font-size:6.1px;color:#000000;transform:translateX(-50%) scaleY(0.92)">35</div>
<div class="tk" style="left:444.14px;top:286.60px;width:0.6px;height:2px"></div>
<div class="t" style="left:444.44px;top:289.72px;font-size:6.1px;color:#000000;transform:translateX(-50%) scaleY(0.92)">40</div>
<div class="t" style="left:367.50px;top:297.54px;font-size:6.1px;color:#000000;transform:translateX(-50%) scaleY(0.92)">Column number</div>
<div class="tk" style="left:274.00px;top:286.17px;width:2px;height:0.6px"></div>
<div class="t" style="left:272.10px;top:283.49px;font-size:6.1px;color:#000000;transform:translateX(-100%) scaleY(0.92)">0</div>
<div class="tk" style="left:274.00px;top:272.80px;width:2px;height:0.6px"></div>
<div class="t" style="left:272.10px;top:270.12px;font-size:6.1px;color:#000000;transform:translateX(-100%) scaleY(0.92)">50</div>
<div class="tk" style="left:274.00px;top:259.43px;width:2px;height:0.6px"></div>
<div class="t" style="left:272.10px;top:256.75px;font-size:6.1px;color:#000000;transform:translateX(-100%) scaleY(0.92)">100</div>
<div class="tk" style="left:274.00px;top:246.06px;width:2px;height:0.6px"></div>
<div class="t" style="left:272.10px;top:243.38px;font-size:6.1px;color:#000000;transform:translateX(-100%) scaleY(0.92)">150</div>
<div class="t" style="left:256.20px;top:261.60px;font-size:6.1px;color:#000000;transform:translate(-50%,-50%) rotate(-90deg) scaleY(0.92);transform-origin:50% 50%">Row number</div>
<div class="t" style="left:365.90px;top:226.98px;font-size:7.35px;color:#000000;transform:translateX(-50%) scaleY(0.92)">(f) Desmearing [counts]</div>
<div class="cb" style="left:470.0px;top:236.60000000000002px;width:2.8px;height:50.0px"></div>
<div class="sp" style="left:470.0px;top:236.60000000000002px;width:2.8px;height:50.0px"></div>
<div class="tk" style="left:472.80px;top:286.30px;width:2px;height:0.6px"></div>
<div class="t" style="left:476.40px;top:283.62px;font-size:6.1px;color:#000000;transform: scaleY(0.92)">−0.10</div>
<div class="tk" style="left:472.80px;top:273.80px;width:2px;height:0.6px"></div>
<div class="t" style="left:476.40px;top:271.12px;font-size:6.1px;color:#000000;transform: scaleY(0.92)">−0.05</div>
<div class="tk" style="left:472.80px;top:261.30px;width:2px;height:0.6px"></div>
<div class="t" style="left:476.40px;top:258.62px;font-size:6.1px;color:#000000;transform: scaleY(0.92)">0.00</div>
<div class="tk" style="left:472.80px;top:248.80px;width:2px;height:0.6px"></div>
<div class="t" style="left:476.40px;top:246.12px;font-size:6.1px;color:#000000;transform: scaleY(0.92)">0.05</div>
<div class="tk" style="left:472.80px;top:236.30px;width:2px;height:0.6px"></div>
<div class="t" style="left:476.40px;top:233.62px;font-size:6.1px;color:#000000;transform: scaleY(0.92)">0.10</div>
<div class="t" style="left:290.50px;top:265.24px;font-size:6.1px;color:#ffffff;transform: scaleY(0.92);-webkit-text-stroke:0">min: 0</div>
<div class="t" style="left:290.50px;top:273.44px;font-size:6.1px;color:#ffffff;transform: scaleY(0.92);-webkit-text-stroke:0">max: 0</div>
<div class="hm" style="left:276.0px;top:318.8px;width:183.0px;height:50.0px"><i class="g177" style="left:0.00px;width:4.86px"></i><i class="g178" style="left:4.16px;width:4.86px"></i><i class="g179" style="left:8.32px;width:4.86px"></i><i class="g180" style="left:12.48px;width:4.86px"></i><i class="g181" style="left:16.64px;width:4.86px"></i><i class="g182" style="left:20.80px;width:4.86px"></i><i class="g183" style="left:24.95px;width:4.86px"></i><i class="g184" style="left:29.11px;width:4.86px"></i><i class="g185" style="left:33.27px;width:4.86px"></i><i class="g186" style="left:37.43px;width:4.86px"></i><i class="g187" style="left:41.59px;width:4.86px"></i><i class="g188" style="left:45.75px;width:4.86px"></i><i class="g189" style="left:49.91px;width:4.86px"></i><i class="g190" style="left:54.07px;width:4.86px"></i><i class="g191" style="left:58.23px;width:4.86px"></i><i class="g192" style="left:62.39px;width:4.86px"></i><i class="g193" style="left:66.55px;width:4.86px"></i><i class="g194" style="left:70.70px;width:4.86px"></i><i class="g195" style="left:74.86px;width:4.86px"></i><i class="g196" style="left:79.02px;width:4.86px"></i><i class="g197" style="left:83.18px;width:4.86px"></i><i class="g198" style="left:87.34px;width:4.86px"></i><i class="g199" style="left:91.50px;width:4.86px"></i><i class="g200" style="left:95.66px;width:4.86px"></i><i class="g201" style="left:99.82px;width:4.86px"></i><i class="g202" style="left:103.98px;width:4.86px"></i><i class="g203" style="left:108.14px;width:4.86px"></i><i class="g204" style="left:112.30px;width:4.86px"></i><i class="g205" style="left:116.45px;width:4.86px"></i><i class="g206" style="left:120.61px;width:4.86px"></i><i class="g207" style="left:124.77px;width:4.86px"></i><i class="g208" style="left:128.93px;width:4.86px"></i><i class="g209" style="left:133.09px;width:4.86px"></i><i class="g210" style="left:137.25px;width:4.86px"></i><i class="g211" style="left:141.41px;width:4.86px"></i><i class="g212" style="left:145.57px;width:4.86px"></i><i class="g213" style="left:149.73px;width:4.86px"></i><i class="g214" style="left:153.89px;width:4.86px"></i><i class="g215" style="left:158.05px;width:4.86px"></i><i class="g216" style="left:162.20px;width:4.86px"></i><i class="g217" style="left:166.36px;width:4.86px"></i><i class="g218" style="left:170.52px;width:4.86px"></i><i class="g219" style="left:174.68px;width:4.86px"></i><i class="g220" style="left:178.84px;width:4.16px"></i></div>
<div class="sp" style="left:276.0px;top:318.8px;width:183.0px;height:50.0px"></div>
<div class="tk" style="left:277.78px;top:368.80px;width:0.6px;height:2px"></div>
<div class="t" style="left:278.08px;top:371.92px;font-size:6.1px;color:#000000;transform:translateX(-50%) scaleY(0.92)">0</div>
<div class="tk" style="left:298.57px;top:368.80px;width:0.6px;height:2px"></div>
<div class="t" style="left:298.88px;top:371.92px;font-size:6.1px;color:#000000;transform:translateX(-50%) scaleY(0.92)">5</div>
<div class="tk" style="left:319.37px;top:368.80px;width:0.6px;height:2px"></div>
<div class="t" style="left:319.67px;top:371.92px;font-size:6.1px;color:#000000;transform:translateX(-50%) scaleY(0.92)">10</div>
<div class="tk" style="left:340.17px;top:368.80px;width:0.6px;height:2px"></div>
<div class="t" style="left:340.47px;top:371.92px;font-size:6.1px;color:#000000;transform:translateX(-50%) scaleY(0.92)">15</div>
<div class="tk" style="left:360.96px;top:368.80px;width:0.6px;height:2px"></div>
<div class="t" style="left:361.26px;top:371.92px;font-size:6.1px;color:#000000;transform:translateX(-50%) scaleY(0.92)">20</div>
<div class="tk" style="left:381.76px;top:368.80px;width:0.6px;height:2px"></div>
<div class="t" style="left:382.06px;top:371.92px;font-size:6.1px;color:#000000;transform:translateX(-50%) scaleY(0.92)">25</div>
<div class="tk" style="left:402.55px;top:368.80px;width:0.6px;height:2px"></div>
<div class="t" style="left:402.85px;top:371.92px;font-size:6.1px;color:#000000;transform:translateX(-50%) scaleY(0.92)">30</div>
<div class="tk" style="left:423.35px;top:368.80px;width:0.6px;height:2px"></div>
<div class="t" style="left:423.65px;top:371.92px;font-size:6.1px;color:#000000;transform:translateX(-50%) scaleY(0.92)">35</div>
<div class="tk" style="left:444.14px;top:368.80px;width:0.6px;height:2px"></div>
<div class="t" style="left:444.44px;top:371.92px;font-size:6.1px;color:#000000;transform:translateX(-50%) scaleY(0.92)">40</div>
<div class="t" style="left:367.50px;top:379.74px;font-size:6.1px;color:#000000;transform:translateX(-50%) scaleY(0.92)">Column number</div>
<div class="tk" style="left:274.00px;top:368.37px;width:2px;height:0.6px"></div>
<div class="t" style="left:272.10px;top:365.69px;font-size:6.1px;color:#000000;transform:translateX(-100%) scaleY(0.92)">0</div>
<div class="tk" style="left:274.00px;top:355.00px;width:2px;height:0.6px"></div>
<div class="t" style="left:272.10px;top:352.32px;font-size:6.1px;color:#000000;transform:translateX(-100%) scaleY(0.92)">50</div>
<div class="tk" style="left:274.00px;top:341.63px;width:2px;height:0.6px"></div>
<div class="t" style="left:272.10px;top:338.95px;font-size:6.1px;color:#000000;transform:translateX(-100%) scaleY(0.92)">100</div>
<div class="tk" style="left:274.00px;top:328.26px;width:2px;height:0.6px"></div>
<div class="t" style="left:272.10px;top:325.58px;font-size:6.1px;color:#000000;transform:translateX(-100%) scaleY(0.92)">150</div>
<div class="t" style="left:256.20px;top:343.80px;font-size:6.1px;color:#000000;transform:translate(-50%,-50%) rotate(-90deg) scaleY(0.92);transform-origin:50% 50%">Row number</div>
<div class="t" style="left:365.90px;top:309.18px;font-size:7.35px;color:#000000;transform:translateX(-50%) scaleY(0.92)">(h) Dark current subtraction [Counts]</div>
<div class="cb" style="left:470.0px;top:318.8px;width:2.8px;height:50.0px"></div>
<div class="sp" style="left:470.0px;top:318.8px;width:2.8px;height:50.0px"></div>
<div class="tk" style="left:472.80px;top:362.79px;width:2px;height:0.6px"></div>
<div class="t" style="left:476.40px;top:360.11px;font-size:6.1px;color:#000000;transform: scaleY(0.92)">0.5</div>
<div class="tk" style="left:472.80px;top:350.49px;width:2px;height:0.6px"></div>
<div class="t" style="left:476.40px;top:347.81px;font-size:6.1px;color:#000000;transform: scaleY(0.92)">1.0</div>
<div class="tk" style="left:472.80px;top:338.19px;width:2px;height:0.6px"></div>
<div class="t" style="left:476.40px;top:335.51px;font-size:6.1px;color:#000000;transform: scaleY(0.92)">1.5</div>
<div class="tk" style="left:472.80px;top:325.88px;width:2px;height:0.6px"></div>
<div class="t" style="left:476.40px;top:323.20px;font-size:6.1px;color:#000000;transform: scaleY(0.92)">2.0</div>
<div class="t" style="left:290.50px;top:347.44px;font-size:6.1px;color:#ffffff;transform: scaleY(0.92);-webkit-text-stroke:0">min: 0.433</div>
<div class="t" style="left:290.50px;top:355.64px;font-size:6.1px;color:#ffffff;transform: scaleY(0.92);-webkit-text-stroke:0">max: 1.27</div>
<div class="hm" style="left:276.0px;top:401.0px;width:183.0px;height:50.0px"><i class="g221" style="left:0.00px;width:4.86px"></i><i class="g222" style="left:4.16px;width:4.86px"></i><i class="g223" style="left:8.32px;width:4.86px"></i><i class="g224" style="left:12.48px;width:4.86px"></i><i class="g225" style="left:16.64px;width:4.86px"></i><i class="g226" style="left:20.80px;width:4.86px"></i><i class="g227" style="left:24.95px;width:4.86px"></i><i class="g228" style="left:29.11px;width:4.86px"></i><i class="g229" style="left:33.27px;width:4.86px"></i><i class="g230" style="left:37.43px;width:4.86px"></i><i class="g231" style="left:41.59px;width:4.86px"></i><i class="g232" style="left:45.75px;width:4.86px"></i><i class="g233" style="left:49.91px;width:4.86px"></i><i class="g234" style="left:54.07px;width:4.86px"></i><i class="g235" style="left:58.23px;width:4.86px"></i><i class="g236" style="left:62.39px;width:4.86px"></i><i class="g237" style="left:66.55px;width:4.86px"></i><i class="g238" style="left:70.70px;width:4.86px"></i><i class="g239" style="left:74.86px;width:4.86px"></i><i class="g240" style="left:79.02px;width:4.86px"></i><i class="g241" style="left:83.18px;width:4.86px"></i><i class="g242" style="left:87.34px;width:4.86px"></i><i class="g243" style="left:91.50px;width:4.86px"></i><i class="g244" style="left:95.66px;width:4.86px"></i><i class="g245" style="left:99.82px;width:4.86px"></i><i class="g246" style="left:103.98px;width:4.86px"></i><i class="g247" style="left:108.14px;width:4.86px"></i><i class="g248" style="left:112.30px;width:4.86px"></i><i class="g249" style="left:116.45px;width:4.86px"></i><i class="g250" style="left:120.61px;width:4.86px"></i><i class="g251" style="left:124.77px;width:4.86px"></i><i class="g252" style="left:128.93px;width:4.86px"></i><i class="g253" style="left:133.09px;width:4.86px"></i><i class="g254" style="left:137.25px;width:4.86px"></i><i class="g255" style="left:141.41px;width:4.86px"></i><i class="g256" style="left:145.57px;width:4.86px"></i><i class="g257" style="left:149.73px;width:4.86px"></i><i class="g258" style="left:153.89px;width:4.86px"></i><i class="g259" style="left:158.05px;width:4.86px"></i><i class="g260" style="left:162.20px;width:4.86px"></i><i class="g261" style="left:166.36px;width:4.86px"></i><i class="g262" style="left:170.52px;width:4.86px"></i><i class="g263" style="left:174.68px;width:4.86px"></i><i class="g264" style="left:178.84px;width:4.16px"></i></div>
<div class="sp" style="left:276.0px;top:401.0px;width:183.0px;height:50.0px"></div>
<div class="tk" style="left:277.78px;top:451.00px;width:0.6px;height:2px"></div>
<div class="t" style="left:278.08px;top:454.12px;font-size:6.1px;color:#000000;transform:translateX(-50%) scaleY(0.92)">0</div>
<div class="tk" style="left:298.57px;top:451.00px;width:0.6px;height:2px"></div>
<div class="t" style="left:298.88px;top:454.12px;font-size:6.1px;color:#000000;transform:translateX(-50%) scaleY(0.92)">5</div>
<div class="tk" style="left:319.37px;top:451.00px;width:0.6px;height:2px"></div>
<div class="t" style="left:319.67px;top:454.12px;font-size:6.1px;color:#000000;transform:translateX(-50%) scaleY(0.92)">10</div>
<div class="tk" style="left:340.17px;top:451.00px;width:0.6px;height:2px"></div>
<div class="t" style="left:340.47px;top:454.12px;font-size:6.1px;color:#000000;transform:translateX(-50%) scaleY(0.92)">15</div>
<div class="tk" style="left:360.96px;top:451.00px;width:0.6px;height:2px"></div>
<div class="t" style="left:361.26px;top:454.12px;font-size:6.1px;color:#000000;transform:translateX(-50%) scaleY(0.92)">20</div>
<div class="tk" style="left:381.76px;top:451.00px;width:0.6px;height:2px"></div>
<div class="t" style="left:382.06px;top:454.12px;font-size:6.1px;color:#000000;transform:translateX(-50%) scaleY(0.92)">25</div>
<div class="tk" style="left:402.55px;top:451.00px;width:0.6px;height:2px"></div>
<div class="t" style="left:402.85px;top:454.12px;font-size:6.1px;color:#000000;transform:translateX(-50%) scaleY(0.92)">30</div>
<div class="tk" style="left:423.35px;top:451.00px;width:0.6px;height:2px"></div>
<div class="t" style="left:423.65px;top:454.12px;font-size:6.1px;color:#000000;transform:translateX(-50%) scaleY(0.92)">35</div>
<div class="tk" style="left:444.14px;top:451.00px;width:0.6px;height:2px"></div>
<div class="t" style="left:444.44px;top:454.12px;font-size:6.1px;color:#000000;transform:translateX(-50%) scaleY(0.92)">40</div>
<div class="t" style="left:367.50px;top:461.94px;font-size:6.1px;color:#000000;transform:translateX(-50%) scaleY(0.92)">Column number</div>
<div class="tk" style="left:274.00px;top:450.57px;width:2px;height:0.6px"></div>
<div class="t" style="left:272.10px;top:447.89px;font-size:6.1px;color:#000000;transform:translateX(-100%) scaleY(0.92)">0</div>
<div class="tk" style="left:274.00px;top:437.20px;width:2px;height:0.6px"></div>
<div class="t" style="left:272.10px;top:434.52px;font-size:6.1px;color:#000000;transform:translateX(-100%) scaleY(0.92)">50</div>
<div class="tk" style="left:274.00px;top:423.83px;width:2px;height:0.6px"></div>
<div class="t" style="left:272.10px;top:421.15px;font-size:6.1px;color:#000000;transform:translateX(-100%) scaleY(0.92)">100</div>
<div class="tk" style="left:274.00px;top:410.46px;width:2px;height:0.6px"></div>
<div class="t" style="left:272.10px;top:407.78px;font-size:6.1px;color:#000000;transform:translateX(-100%) scaleY(0.92)">150</div>
<div class="t" style="left:256.20px;top:426.00px;font-size:6.1px;color:#000000;transform:translate(-50%,-50%) rotate(-90deg) scaleY(0.92);transform-origin:50% 50%">Row number</div>
<div class="t" style="left:365.90px;top:391.38px;font-size:7.35px;color:#000000;transform:translateX(-50%) scaleY(0.92)">(j) Calib. factor [10<sup>12</sup> photons/nm/s/m<sup>2</sup>/sr/counts]</div>
<div class="cb" style="left:470.0px;top:401.0px;width:2.8px;height:50.0px"></div>
<div class="sp" style="left:470.0px;top:401.0px;width:2.8px;height:50.0px"></div>
<div class="tk" style="left:472.80px;top:438.89px;width:2px;height:0.6px"></div>
<div class="t" style="left:476.40px;top:436.21px;font-size:6.1px;color:#000000;transform: scaleY(0.92)">0.0450</div>
<div class="tk" style="left:472.80px;top:425.29px;width:2px;height:0.6px"></div>
<div class="t" style="left:476.40px;top:422.61px;font-size:6.1px;color:#000000;transform: scaleY(0.92)">0.0475</div>
<div class="tk" style="left:472.80px;top:411.69px;width:2px;height:0.6px"></div>
<div class="t" style="left:476.40px;top:409.01px;font-size:6.1px;color:#000000;transform: scaleY(0.92)">0.0500</div>
<div class="t" style="left:290.50px;top:429.64px;font-size:6.1px;color:#ffffff;transform: scaleY(0.92);-webkit-text-stroke:0">min: 0.0443</div>
<div class="t" style="left:290.50px;top:437.84px;font-size:6.1px;color:#ffffff;transform: scaleY(0.92);-webkit-text-stroke:0">max: 2.61</div></body></html>
